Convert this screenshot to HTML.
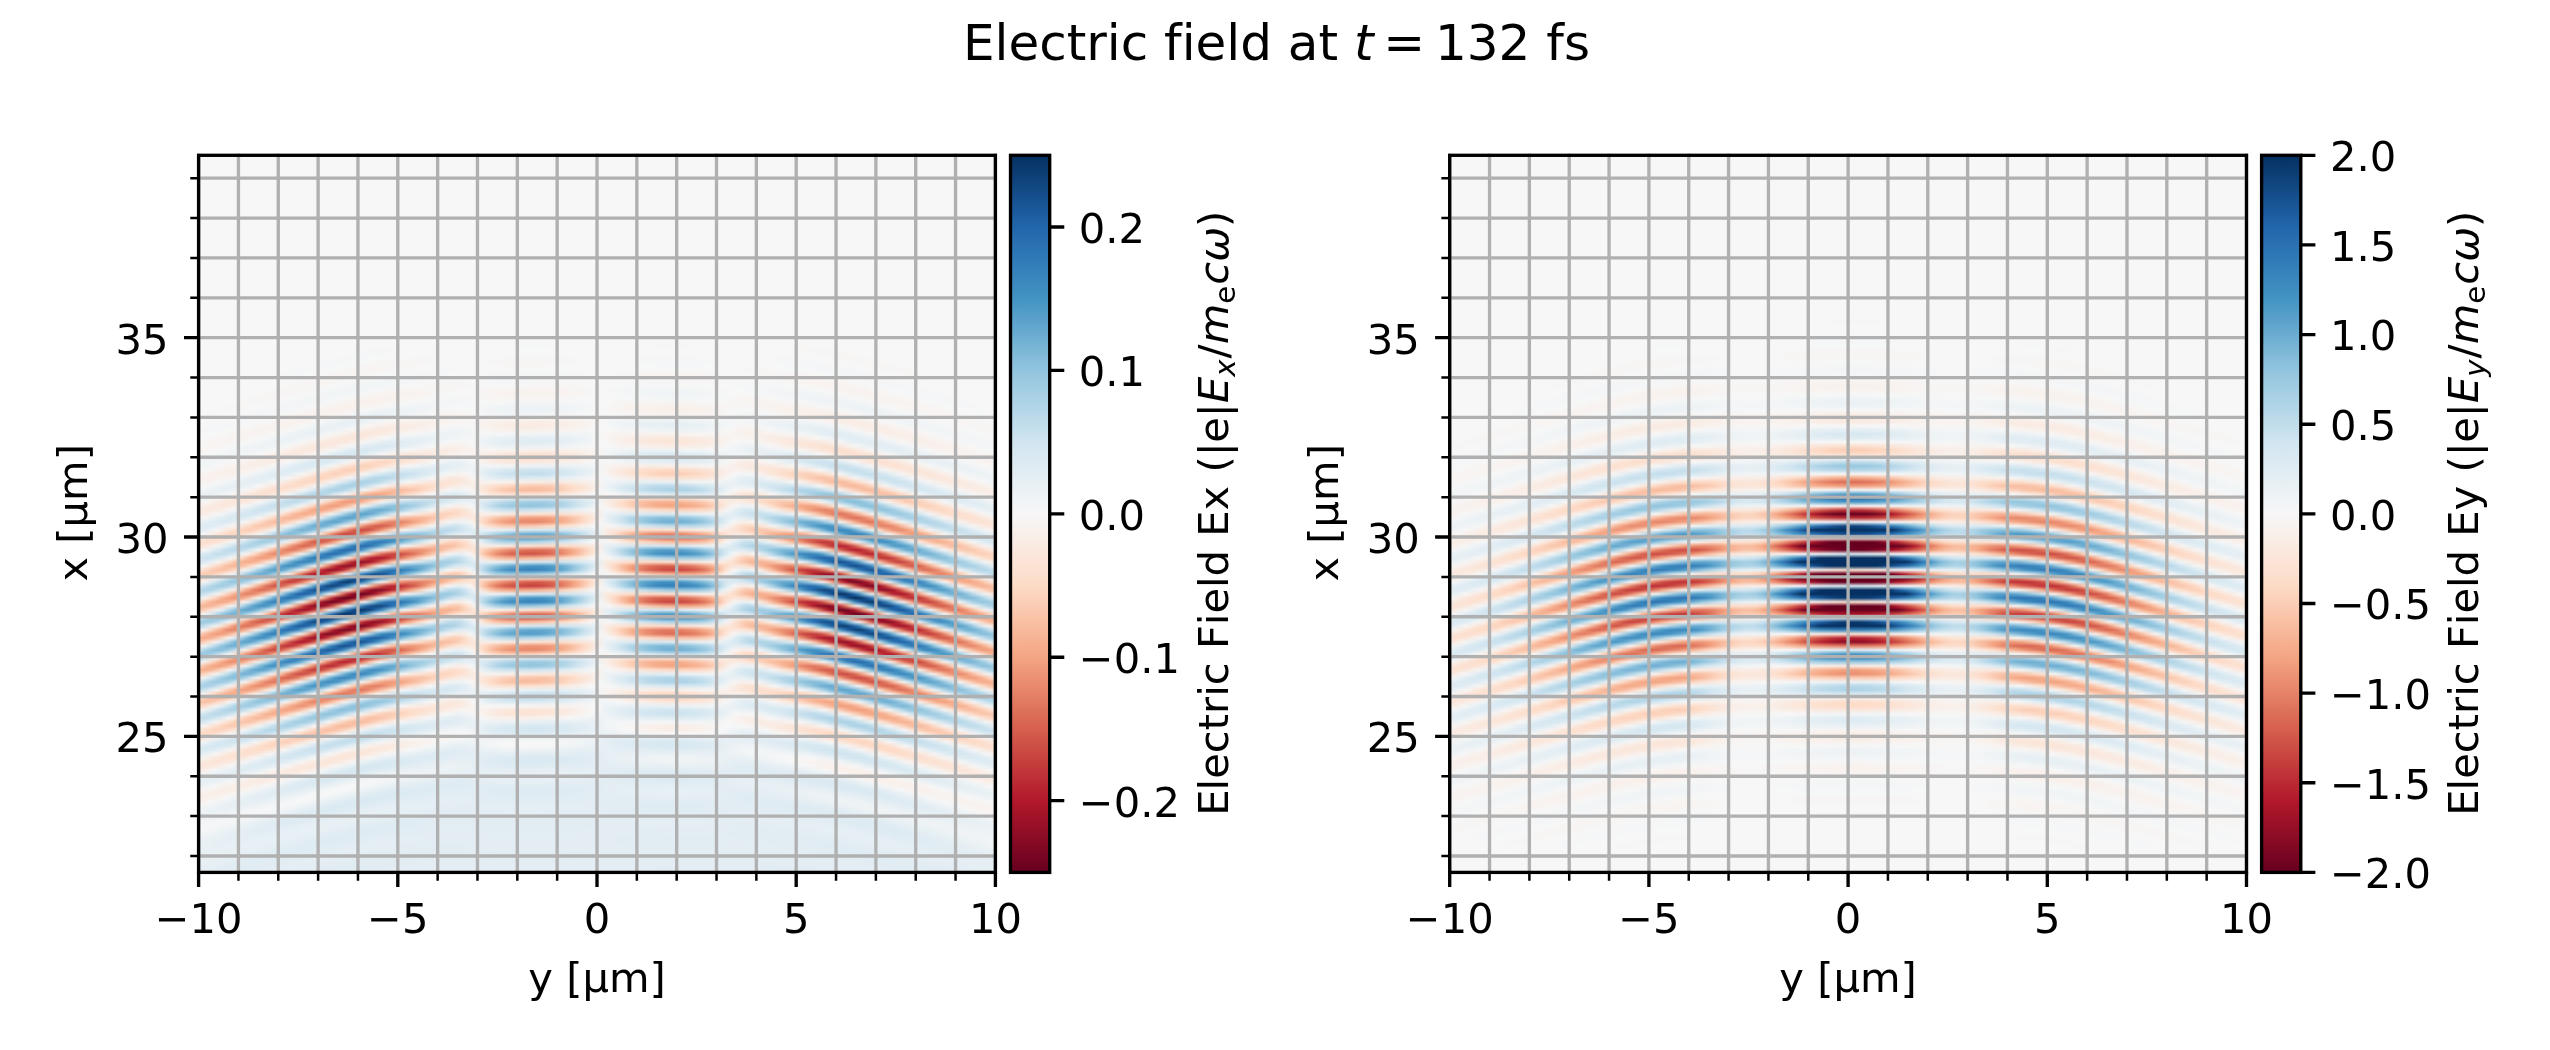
<!DOCTYPE html>
<html><head><meta charset="utf-8"><title>Electric field at t = 132 fs</title>
<style>
html,body{margin:0;padding:0;background:#fff;overflow:hidden}
#fig{position:relative;width:2550px;height:1050px;overflow:hidden;background:#fff}
.hm{position:absolute;top:154px;width:800px;height:720px;overflow:hidden;background:#f7f7f7}
.hm div{position:absolute;left:-10px;top:0;width:820px;height:100%;filter:url(#hb)}
.hm i{position:absolute;top:0;width:5px;height:100%;display:block}
svg text{font-family:"DejaVu Sans","Liberation Sans",sans-serif;font-size:10px;fill:#000}
svg text{font-variant-ligatures:none}
svg .o{font-style:oblique}
svg .s{font-size:7px}
</style></head><body><div id="fig">
<div class="hm" style="left:197px"><div>
<i style="left:0px;background:linear-gradient(#f7f7f7 276px,#f5f6f7,#f5f6f7,#f7f7f7,#f7f5f4,#f8f4f2,#f7f5f4,#f7f7f7,#f5f6f7,#f2f5f6,#f3f5f6,#f7f7f7,#f8f4f2,#f8f1ed,#f8f2ef,#f7f7f7,#f0f4f6,#ecf2f5,#edf2f5,#f7f7f7,#f9f0eb,#f9ebe3,#f9eee7,#f7f7f7,#e9f0f4,#e1edf3,#e6eff4,#f7f7f7,#fae9df,#fce2d2,#fbe6da,#f7f7f7,#e0ecf3,#d2e6f0,#dbeaf2,#f7f7f7,#fce2d2,#fcd3bc,#fcdecd,#f7f5f4,#d4e6f1,#b8d8e9,#cfe4ef,#f5f6f7,#fdd9c4,#f8bda1,#fcd3bc,#f5f6f7,#c5dfec,#a7d0e4,#c7e0ed,#f7f5f4,#fbccb4,#f6b394,#fbd0b9,#f5f6f7,#c0dceb,#a2cde3,#c7e0ed,#f7f5f4,#fbceb7,#f7b799,#fcd5bf,#f5f6f7,#c7e0ed,#b1d5e7,#d1e5f0,#f7f5f4,#fdd9c4,#fac8af,#fcdecd,#f5f6f7,#d5e7f1,#c7e0ed,#dbeaf2,#f7f5f4,#fbe3d4,#fdddcb,#fae8de,#f3f5f6,#e0ecf3,#dbeaf2,#e7f0f4,#f7f5f4,#faeae1,#fae7dc,#f9eee7,#f5f6f7,#eaf1f5,#e7f0f4,#eff3f5,#f7f5f4,#f9f0eb,#f9f0eb,#f8f3f0,#f5f6f7,#eff3f5,#edf2f5,#eff3f5,#f3f5f6,#f7f7f7,#f5f6f7,#f2f5f6,#edf2f5,#eaf1f5,#e9f0f4,#e9f0f4,#eaf1f5,#eaf1f5,#e9f0f4,#e7f0f4,#e6eff4 720px)"></i>
<i style="left:5px;background:linear-gradient(#f7f7f7 272px,#f5f6f7,#f5f6f7,#f7f7f7,#f7f7f7,#f7f5f4,#f8f4f2,#f7f5f4,#f7f7f7,#f3f5f6,#f2f5f6,#f3f5f6,#f7f7f7,#f8f2ef,#f8f1ed,#f8f3f0,#f5f6f7,#edf2f5,#ecf2f5,#f0f4f6,#f8f4f2,#f9ede5,#faeae1,#f9f0eb,#f2f5f6,#e4eef4,#e0ecf3,#eaf1f5,#f8f2ef,#fbe5d8,#fce2d2,#faeae1,#eff3f5,#d7e8f1,#d1e5f0,#e3edf3,#f9efe9,#fdd9c4,#fbd0b9,#fbe5d8,#eaf1f5,#c5dfec,#b8d8e9,#dae9f2,#f9ede5,#fac8af,#f8bb9e,#fcdfcf,#e1edf3,#aed3e6,#a7d0e4,#dae9f2,#fae7dc,#f7b99c,#f7b596,#fce0d0,#e1edf3,#a9d1e5,#a5cee3,#d8e9f1,#fae7dc,#f8bda1,#f7b99c,#fbe3d4,#e3edf3,#b6d7e8,#b3d6e8,#ddebf2,#fae9df,#fbccb4,#facab1,#fae7dc,#e7f0f4,#cae1ee,#cae1ee,#e4eef4,#f9eee7,#fdddcb,#fdddcb,#f9eee7,#eaf1f5,#dbeaf2,#ddebf2,#edf2f5,#f9f0eb,#fae7dc,#fae8de,#f8f2ef,#f0f4f6,#e7f0f4,#e9f0f4,#f2f5f6,#f8f3f0,#f9efe9,#f9f0eb,#f7f5f4,#f2f5f6,#edf2f5,#edf2f5,#f0f4f6,#f5f6f7,#f7f7f7,#f5f6f7,#f0f4f6,#ecf2f5,#e9f0f4,#e9f0f4,#e9f0f4,#eaf1f5,#eaf1f5,#e9f0f4,#e6eff4,#e4eef4 720px)"></i>
<i style="left:10px;background:linear-gradient(#f7f7f7 272px,#f5f6f7,#f5f6f7,#f7f7f7,#f7f7f7,#f8f4f2,#f8f4f2,#f7f7f7,#f5f6f7,#f2f5f6,#f2f5f6,#f5f6f7,#f8f4f2,#f8f1ed,#f8f1ed,#f8f4f2,#f2f5f6,#ecf2f5,#ecf2f5,#f3f5f6,#f8f1ed,#faeae1,#f9ebe3,#f8f3f0,#ecf2f5,#e0ecf3,#e1edf3,#f0f4f6,#f9ede5,#fce0d0,#fbe3d4,#f8f1ed,#e4eef4,#d1e5f0,#d4e6f1,#ecf2f5,#fbe6da,#fbceb7,#fcd5bf,#f9eee7,#dbeaf2,#b6d7e8,#bddbea,#e9f0f4,#fcdfcf,#f7b99c,#f9c2a7,#f9ebe3,#cfe4ef,#a0cce2,#b1d5e7,#ecf2f5,#fcd7c2,#f5ac8b,#f8bda1,#f9eee7,#cce2ef,#9bc9e0,#b1d5e7,#ecf2f5,#fdd9c4,#f6b191,#f9c4a9,#f9efe9,#d1e5f0,#a9d1e5,#bddbea,#edf2f5,#fcdecd,#f9c2a7,#fcd3bc,#f8f1ed,#dae9f2,#c2ddec,#d2e6f0,#f0f4f6,#fbe5d8,#fddbc7,#fce0d0,#f8f4f2,#e1edf3,#d8e9f1,#e1edf3,#f5f6f7,#f9ebe3,#fbe6da,#faeae1,#f7f5f4,#ecf2f5,#e6eff4,#eaf1f5,#f7f7f7,#f8f1ed,#f9efe9,#f8f2ef,#f7f7f7,#eff3f5,#ecf2f5,#edf2f5,#f2f5f6,#f5f6f7,#f5f6f7,#f3f5f6,#eff3f5,#eaf1f5,#e7f0f4,#e7f0f4,#e9f0f4,#eaf1f5,#e9f0f4,#e7f0f4,#e6eff4,#e3edf3 720px)"></i>
<i style="left:15px;background:linear-gradient(#f7f7f7 272px,#f5f6f7,#f5f6f7,#f7f7f7,#f7f5f4,#f8f4f2,#f8f4f2,#f7f7f7,#f3f5f6,#f2f5f6,#f2f5f6,#f7f7f7,#f8f3f0,#f8f1ed,#f8f2ef,#f7f7f7,#eff3f5,#eaf1f5,#edf2f5,#f7f7f7,#f9eee7,#fae9df,#f9ede5,#f7f7f7,#e6eff4,#deebf2,#e4eef4,#f7f7f7,#fbe6da,#fcdecd,#fbe6da,#f5f6f7,#dae9f2,#cce2ef,#dae9f2,#f7f5f4,#fdddcb,#facab1,#fdddcb,#f5f6f7,#cae1ee,#aed3e6,#cce2ef,#f7f5f4,#fbccb4,#f6b394,#fbd0b9,#f5f6f7,#b3d6e8,#9bc9e0,#c5dfec,#f8f1ed,#f8bda1,#f5a886,#fbd0b9,#eff3f5,#aed3e6,#96c7df,#c5dfec,#f8f1ed,#f8bfa4,#f5ac8b,#fcd5bf,#eff3f5,#b8d8e9,#a5cee3,#cfe4ef,#f8f2ef,#fbceb7,#f8bfa4,#fdddcb,#f0f4f6,#cfe4ef,#c0dceb,#dae9f2,#f8f3f0,#fcdecd,#fdd9c4,#fbe6da,#f0f4f6,#dbeaf2,#d8e9f1,#e7f0f4,#f8f3f0,#fae7dc,#fbe6da,#f9eee7,#f3f5f6,#e7f0f4,#e6eff4,#eff3f5,#f7f5f4,#f9efe9,#f9efe9,#f8f3f0,#f3f5f6,#edf2f5,#ecf2f5,#eff3f5,#f3f5f6,#f5f6f7,#f5f6f7,#f0f4f6,#ecf2f5,#e9f0f4,#e7f0f4,#e7f0f4,#e9f0f4,#e9f0f4,#e9f0f4,#e6eff4,#e4eef4,#e3edf3 720px)"></i>
<i style="left:20px;background:linear-gradient(#f7f7f7 256px,#f7f5f4,#f7f7f7,#f7f7f7,#f5f6f7,#f5f6f7,#f7f7f7,#f7f7f7,#f8f4f2,#f8f4f2,#f7f5f4,#f7f7f7,#f2f5f6,#f0f4f6,#f3f5f6,#f7f5f4,#f8f1ed,#f9f0eb,#f8f3f0,#f5f6f7,#ecf2f5,#eaf1f5,#f0f4f6,#f8f3f0,#f9ebe3,#fae9df,#f9f0eb,#eff3f5,#e0ecf3,#ddebf2,#eaf1f5,#f9f0eb,#fce2d2,#fcdecd,#faeae1,#eaf1f5,#d1e5f0,#cae1ee,#e3edf3,#f9ebe3,#fbd0b9,#fac8af,#fbe5d8,#e4eef4,#b6d7e8,#aed3e6,#dae9f2,#fae7dc,#f7b99c,#f6b394,#fcdfcf,#e0ecf3,#9dcbe1,#9dcbe1,#dbeaf2,#fce0d0,#f5aa89,#f5ac8b,#fce2d2,#d8e9f1,#98c8e0,#9bc9e0,#dae9f2,#fce0d0,#f6af8e,#f6b191,#fbe4d6,#dbeaf2,#a5cee3,#a9d1e5,#deebf2,#fbe5d8,#f8bfa4,#f9c4a9,#fae7dc,#e1edf3,#c0dceb,#c5dfec,#e6eff4,#fae9df,#fdd9c4,#fddbc7,#f9ede5,#e6eff4,#d7e8f1,#dbeaf2,#eff3f5,#f9eee7,#fbe5d8,#fae7dc,#f8f2ef,#edf2f5,#e4eef4,#e7f0f4,#f2f5f6,#f8f2ef,#f9eee7,#f9f0eb,#f7f7f7,#f0f4f6,#eaf1f5,#ecf2f5,#eff3f5,#f3f5f6,#f5f6f7,#f3f5f6,#eff3f5,#eaf1f5,#e7f0f4,#e7f0f4,#e7f0f4,#e9f0f4,#e9f0f4,#e7f0f4,#e6eff4,#e3edf3,#e3edf3 720px)"></i>
<i style="left:25px;background:linear-gradient(#f7f7f7 268px,#f5f6f7,#f5f6f7,#f7f7f7,#f7f5f4,#f8f4f2,#f8f4f2,#f7f7f7,#f5f6f7,#f0f4f6,#f2f5f6,#f5f6f7,#f8f4f2,#f9f0eb,#f8f1ed,#f7f5f4,#f0f4f6,#eaf1f5,#eaf1f5,#f5f6f7,#f9efe9,#fae9df,#faeae1,#f8f4f2,#e9f0f4,#ddebf2,#e0ecf3,#f2f5f6,#fae9df,#fdddcb,#fce0d0,#f8f2ef,#deebf2,#c7e0ed,#d1e5f0,#eff3f5,#fce0d0,#f9c4a9,#fbceb7,#f9f0eb,#d4e6f1,#a7d0e4,#b6d7e8,#ecf2f5,#fcd7c2,#f5ac8b,#f8bb9e,#f9eee7,#c7e0ed,#8dc2dc,#acd2e5,#f0f4f6,#fac8af,#f09c7b,#f7b99c,#f8f1ed,#bbdaea,#87beda,#a9d1e5,#f0f4f6,#facab1,#f3a481,#f8bda1,#f8f2ef,#c2ddec,#9bc9e0,#b8d8e9,#f0f4f6,#fcd5bf,#f7b799,#fbceb7,#f8f3f0,#d2e6f0,#b8d8e9,#cfe4ef,#f2f5f6,#fce2d2,#fcd3bc,#fcdfcf,#f8f4f2,#ddebf2,#d4e6f1,#e0ecf3,#f7f7f7,#fae8de,#fbe4d6,#faeae1,#f7f7f7,#e9f0f4,#e4eef4,#eaf1f5,#f7f7f7,#f9f0eb,#f9eee7,#f8f2ef,#f5f6f7,#edf2f5,#eaf1f5,#ecf2f5,#f0f4f6,#f5f6f7,#f5f6f7,#f2f5f6,#ecf2f5,#e9f0f4,#e6eff4,#e6eff4,#e7f0f4,#e9f0f4,#e9f0f4,#e6eff4,#e4eef4,#e3edf3,#e1edf3 720px)"></i>
<i style="left:30px;background:linear-gradient(#f7f7f7 252px,#f7f5f4,#f7f7f7,#f7f7f7,#f5f6f7,#f5f6f7,#f5f6f7,#f7f7f7,#f7f5f4,#f8f4f2,#f8f4f2,#f7f7f7,#f2f5f6,#f0f4f6,#f2f5f6,#f7f7f7,#f8f2ef,#f9f0eb,#f8f1ed,#f7f7f7,#edf2f5,#e9f0f4,#edf2f5,#f7f5f4,#f9ebe3,#fae7dc,#f9ede5,#f5f6f7,#e1edf3,#dae9f2,#e4eef4,#f8f4f2,#fbe3d4,#fddbc7,#fbe5d8,#f2f5f6,#d4e6f1,#c2ddec,#d8e9f1,#f8f2ef,#fcd3bc,#f8bfa4,#fddbc7,#f0f4f6,#bbdaea,#a0cce2,#c7e0ed,#f8f1ed,#f8bfa4,#f4a683,#fbccb4,#edf2f5,#a7d0e4,#8ac0db,#c2ddec,#f9ebe3,#f6af8e,#ef9979,#fbceb7,#e7f0f4,#9bc9e0,#84bcd9,#c2ddec,#f9ebe3,#f6b191,#f19e7d,#fcd3bc,#e9f0f4,#a7d0e4,#98c8e0,#cfe4ef,#f9eee7,#f9c2a7,#f7b799,#fdddcb,#ecf2f5,#c0dceb,#b6d7e8,#dae9f2,#f9f0eb,#fdd9c4,#fcd3bc,#fbe6da,#eff3f5,#d7e8f1,#d5e7f1,#e7f0f4,#f8f1ed,#fbe5d8,#fbe4d6,#f9eee7,#f0f4f6,#e4eef4,#e4eef4,#eff3f5,#f8f4f2,#f9eee7,#f9efe9,#f8f4f2,#f0f4f6,#eaf1f5,#e9f0f4,#edf2f5,#f2f5f6,#f5f6f7,#f3f5f6,#eff3f5,#eaf1f5,#e7f0f4,#e6eff4,#e6eff4,#e9f0f4,#e9f0f4,#e7f0f4,#e6eff4,#e3edf3,#e1edf3,#e1edf3 720px)"></i>
<i style="left:35px;background:linear-gradient(#f7f7f7 252px,#f7f5f4,#f7f7f7,#f7f7f7,#f5f6f7,#f5f6f7,#f7f7f7,#f7f7f7,#f8f4f2,#f8f3f0,#f7f5f4,#f5f6f7,#f2f5f6,#f0f4f6,#f3f5f6,#f7f5f4,#f9f0eb,#f9f0eb,#f8f3f0,#f3f5f6,#eaf1f5,#e7f0f4,#f0f4f6,#f8f1ed,#fae8de,#fae7dc,#f9f0eb,#ecf2f5,#ddebf2,#dae9f2,#eaf1f5,#f9ede5,#fdddcb,#fddcc9,#f9ebe3,#e6eff4,#c7e0ed,#c2ddec,#e3edf3,#fae7dc,#f9c4a9,#f9c2a7,#fbe5d8,#ddebf2,#a7d0e4,#a2cde3,#dbeaf2,#fce2d2,#f5aa89,#f5a886,#fce0d0,#d7e8f1,#8dc2dc,#90c4dd,#ddebf2,#fcd7c2,#ee9677,#f2a17f,#fbe4d6,#cce2ef,#81bad8,#8dc2dc,#ddebf2,#fdd9c4,#f09c7b,#f5a886,#fbe5d8,#d2e6f0,#93c6de,#a0cce2,#e0ecf3,#fcdecd,#f6b394,#f8bb9e,#fae8de,#dae9f2,#b3d6e8,#bddbea,#e7f0f4,#fbe6da,#fbceb7,#fcd7c2,#f9eee7,#e4eef4,#d2e6f0,#d8e9f1,#eff3f5,#faeae1,#fbe3d4,#fbe6da,#f8f3f0,#eaf1f5,#e3edf3,#e6eff4,#f3f5f6,#f8f1ed,#f9eee7,#f9f0eb,#f7f7f7,#edf2f5,#e9f0f4,#e9f0f4,#eff3f5,#f3f5f6,#f5f6f7,#f2f5f6,#edf2f5,#e9f0f4,#e6eff4,#e6eff4,#e7f0f4,#e9f0f4,#e9f0f4,#e7f0f4,#e4eef4,#e3edf3,#e1edf3,#e1edf3 720px)"></i>
<i style="left:40px;background:linear-gradient(#f7f7f7 248px,#f7f5f4,#f7f5f4,#f7f7f7,#f7f7f7,#f5f6f7,#f5f6f7,#f7f7f7,#f7f5f4,#f8f3f0,#f8f4f2,#f7f7f7,#f3f5f6,#f0f4f6,#f0f4f6,#f7f7f7,#f8f3f0,#f9efe9,#f9f0eb,#f7f5f4,#eff3f5,#e7f0f4,#e9f0f4,#f5f6f7,#f9eee7,#fbe6da,#fae9df,#f7f5f4,#e4eef4,#d8e9f1,#ddebf2,#f3f5f6,#fbe5d8,#fcd7c2,#fcdecd,#f8f4f2,#d8e9f1,#bbdaea,#cce2ef,#f2f5f6,#fddbc7,#f7b99c,#facab1,#f8f2ef,#c5dfec,#98c8e0,#aed3e6,#eff3f5,#fac8af,#f09c7b,#f7b596,#f8f1ed,#b3d6e8,#78b4d5,#a5cee3,#f5f6f7,#f7b799,#e6866a,#f6b394,#f7f5f4,#a5cee3,#71b0d3,#a2cde3,#f5f6f7,#f7b99c,#ea8e70,#f7b799,#f7f5f4,#b1d5e7,#87beda,#b1d5e7,#f5f6f7,#fac8af,#f5aa89,#facab1,#f7f7f7,#c7e0ed,#acd2e5,#cae1ee,#f7f7f7,#fddcc9,#facab1,#fcdecd,#f7f7f7,#dae9f2,#cfe4ef,#deebf2,#f7f5f4,#fbe6da,#fce2d2,#fae9df,#f7f7f7,#e6eff4,#e1edf3,#e9f0f4,#f7f7f7,#f9efe9,#f9eee7,#f8f2ef,#f3f5f6,#eaf1f5,#e7f0f4,#eaf1f5,#f0f4f6,#f5f6f7,#f5f6f7,#f0f4f6,#eaf1f5,#e6eff4,#e4eef4,#e6eff4,#e7f0f4,#e9f0f4,#e7f0f4,#e6eff4,#e3edf3,#e1edf3,#e1edf3,#e1edf3 720px)"></i>
<i style="left:45px;background:linear-gradient(#f7f7f7 248px,#f7f5f4,#f7f7f7,#f7f7f7,#f5f6f7,#f3f5f6,#f5f6f7,#f7f7f7,#f8f4f2,#f8f3f0,#f8f4f2,#f7f7f7,#f2f5f6,#eff3f5,#f2f5f6,#f7f7f7,#f8f1ed,#f9efe9,#f8f1ed,#f5f6f7,#eaf1f5,#e6eff4,#ecf2f5,#f8f4f2,#fae9df,#fbe6da,#f9ede5,#f2f5f6,#ddebf2,#d7e8f1,#e3edf3,#f8f2ef,#fcdecd,#fcd5bf,#fbe4d6,#edf2f5,#cae1ee,#b8d8e9,#d7e8f1,#f9efe9,#f9c6ac,#f7b596,#fdd9c4,#eaf1f5,#a9d1e5,#93c6de,#c5dfec,#f9ebe3,#f6af8e,#ec9374,#facab1,#e6eff4,#90c4dd,#71b0d3,#c2ddec,#fbe5d8,#ee9677,#e6866a,#fbccb4,#deebf2,#81bad8,#6eaed2,#c2ddec,#fbe5d8,#f09c7b,#ea8e70,#fbd0b9,#e0ecf3,#93c6de,#87beda,#cce2ef,#fae8de,#f6b394,#f5ac8b,#fdddcb,#e6eff4,#b1d5e7,#acd2e5,#d8e9f1,#f9ede5,#fbceb7,#facab1,#fbe5d8,#ecf2f5,#d2e6f0,#d1e5f0,#e7f0f4,#f9efe9,#fce2d2,#fbe3d4,#f9efe9,#eff3f5,#e1edf3,#e3edf3,#edf2f5,#f8f3f0,#f9ede5,#f9eee7,#f7f5f4,#eff3f5,#e7f0f4,#e7f0f4,#ecf2f5,#f2f5f6,#f5f6f7,#f3f5f6,#eff3f5,#e9f0f4,#e4eef4,#e4eef4,#e6eff4,#e7f0f4,#e9f0f4,#e7f0f4,#e4eef4,#e3edf3,#e1edf3,#e1edf3,#e1edf3 720px)"></i>
<i style="left:50px;background:linear-gradient(#f7f7f7 244px,#f7f5f4,#f7f5f4,#f7f7f7,#f7f7f7,#f5f6f7,#f3f5f6,#f7f7f7,#f7f5f4,#f8f3f0,#f8f3f0,#f7f5f4,#f5f6f7,#f0f4f6,#eff3f5,#f3f5f6,#f8f4f2,#f9efe9,#f9efe9,#f8f3f0,#f2f5f6,#e7f0f4,#e6eff4,#eff3f5,#f9f0eb,#fbe6da,#fbe6da,#f8f1ed,#e9f0f4,#d7e8f1,#d7e8f1,#ecf2f5,#fae9df,#fcd7c2,#fcd7c2,#f9ebe3,#e0ecf3,#b8d8e9,#bbdaea,#e4eef4,#fce2d2,#f7b799,#f7b799,#fbe6da,#d4e6f1,#93c6de,#98c8e0,#ddebf2,#fdd9c4,#ee9677,#f09c7b,#fce2d2,#cae1ee,#71b0d3,#7bb6d6,#e0ecf3,#f9c6ac,#e37e64,#ec9374,#fbe6da,#b8d8e9,#65a9cf,#7eb8d7,#e0ecf3,#fac8af,#e58368,#f09c7b,#fae7dc,#c2ddec,#7bb6d6,#96c7df,#e3edf3,#fcd5bf,#f3a481,#f7b596,#faeae1,#d2e6f0,#a2cde3,#b6d7e8,#e9f0f4,#fce0d0,#f9c4a9,#fcd3bc,#f9efe9,#deebf2,#cae1ee,#d5e7f1,#f0f4f6,#fae8de,#fcdfcf,#fbe5d8,#f8f3f0,#e7f0f4,#deebf2,#e4eef4,#f3f5f6,#f9f0eb,#f9ede5,#f9f0eb,#f7f7f7,#eaf1f5,#e6eff4,#e7f0f4,#edf2f5,#f3f5f6,#f5f6f7,#f2f5f6,#ecf2f5,#e6eff4,#e4eef4,#e4eef4,#e6eff4,#e7f0f4,#e7f0f4,#e6eff4,#e4eef4,#e1edf3,#e1edf3,#e1edf3,#e3edf3 720px)"></i>
<i style="left:55px;background:linear-gradient(#f7f7f7 244px,#f7f5f4,#f7f5f4,#f7f7f7,#f5f6f7,#f3f5f6,#f5f6f7,#f7f7f7,#f8f4f2,#f8f3f0,#f8f3f0,#f7f7f7,#f2f5f6,#eff3f5,#f0f4f6,#f7f7f7,#f8f2ef,#f9eee7,#f9efe9,#f7f5f4,#ecf2f5,#e4eef4,#e7f0f4,#f5f6f7,#faeae1,#fbe4d6,#fae8de,#f7f7f7,#e0ecf3,#d4e6f1,#dbeaf2,#f7f7f7,#fce0d0,#fbceb7,#fddcc9,#f7f7f7,#d1e5f0,#aed3e6,#c5dfec,#f5f6f7,#fbceb7,#f5ac8b,#f9c4a9,#f7f5f4,#b3d6e8,#81bad8,#a7d0e4,#f5f6f7,#f7b799,#e58368,#f5ac8b,#f8f4f2,#a0cce2,#5ca3cb,#93c6de,#f8f3f0,#f2a17f,#dd7059,#f5ac8b,#f2f5f6,#8dc2dc,#569fc9,#9bc9e0,#f8f3f0,#f4a683,#e17860,#f6b394,#f2f5f6,#9bc9e0,#71b0d3,#acd2e5,#f8f4f2,#f7b99c,#f09c7b,#f9c6ac,#f3f5f6,#b8d8e9,#9dcbe1,#c7e0ed,#f7f5f4,#fcd3bc,#f9c2a7,#fddcc9,#f5f6f7,#d4e6f1,#c7e0ed,#ddebf2,#f8f3f0,#fce2d2,#fcdecd,#fae9df,#f3f5f6,#e1edf3,#deebf2,#e9f0f4,#f7f7f7,#f9eee7,#f9ede5,#f8f2ef,#f0f4f6,#e7f0f4,#e4eef4,#e9f0f4,#f0f4f6,#f5f6f7,#f3f5f6,#eff3f5,#e9f0f4,#e4eef4,#e3edf3,#e4eef4,#e6eff4,#e7f0f4,#e7f0f4,#e6eff4,#e3edf3,#e1edf3,#e1edf3,#e1edf3,#e3edf3 720px)"></i>
<i style="left:60px;background:linear-gradient(#f7f7f7 240px,#f7f5f4,#f7f5f4,#f7f7f7,#f7f7f7,#f5f6f7,#f3f5f6,#f5f6f7,#f7f7f7,#f8f4f2,#f8f3f0,#f8f4f2,#f7f7f7,#f0f4f6,#eff3f5,#f2f5f6,#f7f5f4,#f9f0eb,#f9eee7,#f8f1ed,#f5f6f7,#e9f0f4,#e4eef4,#eaf1f5,#f8f4f2,#fae7dc,#fbe3d4,#f9ebe3,#eff3f5,#d8e9f1,#d2e6f0,#e3edf3,#f9efe9,#fdd9c4,#fbccb4,#fbe4d6,#e9f0f4,#bbdaea,#acd2e5,#d5e7f1,#faeae1,#f7b99c,#f5a886,#fdd9c4,#e3edf3,#96c7df,#7eb8d7,#c2ddec,#fbe6da,#ef9979,#e48066,#fac8af,#ddebf2,#75b2d4,#59a1ca,#b6d7e8,#fdddcb,#e27b62,#de735c,#fbccb4,#d2e6f0,#62a7ce,#59a1ca,#c0dceb,#fdddcb,#e58368,#e27b62,#fbd0b9,#d7e8f1,#78b4d5,#75b2d4,#cce2ef,#fce2d2,#f2a17f,#f19e7d,#fdddcb,#deebf2,#a2cde3,#a0cce2,#d8e9f1,#fae7dc,#f9c4a9,#f9c4a9,#fbe5d8,#e6eff4,#c7e0ed,#cae1ee,#e7f0f4,#f9ebe3,#fcdecd,#fce0d0,#f9efe9,#ecf2f5,#deebf2,#e0ecf3,#edf2f5,#f8f2ef,#f9ebe3,#f9eee7,#f7f5f4,#ecf2f5,#e4eef4,#e6eff4,#eaf1f5,#f2f5f6,#f5f6f7,#f3f5f6,#edf2f5,#e7f0f4,#e3edf3,#e3edf3,#e4eef4,#e7f0f4,#e7f0f4,#e7f0f4,#e4eef4,#e1edf3,#e0ecf3,#e1edf3,#e1edf3,#e3edf3 720px)"></i>
<i style="left:65px;background:linear-gradient(#f7f7f7 240px,#f7f5f4,#f7f5f4,#f7f7f7,#f7f7f7,#f3f5f6,#f3f5f6,#f7f7f7,#f7f5f4,#f8f3f0,#f8f3f0,#f7f5f4,#f3f5f6,#eff3f5,#eff3f5,#f3f5f6,#f8f3f0,#f9eee7,#f9eee7,#f8f3f0,#eff3f5,#e4eef4,#e4eef4,#f0f4f6,#f9efe9,#fbe4d6,#fbe4d6,#f8f1ed,#e4eef4,#d2e6f0,#d4e6f1,#ecf2f5,#fbe6da,#fbccb4,#fbd0b9,#f9ede5,#d8e9f1,#acd2e5,#b1d5e7,#e6eff4,#fddbc7,#f5a886,#f6af8e,#fae8de,#c7e0ed,#7bb6d6,#8ac0db,#e0ecf3,#facab1,#e27b62,#e98b6e,#fbe4d6,#b3d6e8,#529dc8,#68abd0,#dbeaf2,#f6b394,#d7634f,#e58368,#fae8de,#a2cde3,#4695c4,#6eaed2,#e4eef4,#f7b596,#db6b55,#ea8e70,#fae9df,#acd2e5,#5fa5cd,#87beda,#e6eff4,#f9c6ac,#ea8e70,#f5ac8b,#f9ede5,#c5dfec,#93c6de,#acd2e5,#eaf1f5,#fddbc7,#f7b99c,#fbccb4,#f9f0eb,#d8e9f1,#c0dceb,#d1e5f0,#f3f5f6,#fbe4d6,#fddcc9,#fbe4d6,#f8f4f2,#e4eef4,#dbeaf2,#e3edf3,#f3f5f6,#f9efe9,#f9ebe3,#f9f0eb,#f3f5f6,#e9f0f4,#e3edf3,#e6eff4,#edf2f5,#f3f5f6,#f5f6f7,#f0f4f6,#eaf1f5,#e4eef4,#e1edf3,#e3edf3,#e6eff4,#e7f0f4,#e7f0f4,#e6eff4,#e3edf3,#e1edf3,#e0ecf3,#e1edf3,#e3edf3,#e3edf3 720px)"></i>
<i style="left:70px;background:linear-gradient(#f7f7f7 240px,#f7f5f4,#f7f5f4,#f7f7f7,#f5f6f7,#f3f5f6,#f3f5f6,#f7f7f7,#f8f4f2,#f8f2ef,#f8f3f0,#f7f7f7,#f2f5f6,#edf2f5,#eff3f5,#f7f7f7,#f8f1ed,#f9ede5,#f9efe9,#f7f7f7,#eaf1f5,#e3edf3,#e6eff4,#f7f7f7,#fae9df,#fce2d2,#fae7dc,#f7f7f7,#dbeaf2,#cce2ef,#dae9f2,#f7f5f4,#fddcc9,#f9c6ac,#fddbc7,#f5f6f7,#c2ddec,#a2cde3,#c0dceb,#f7f5f4,#f8bfa4,#f09c7b,#f8bfa4,#f5f6f7,#a0cce2,#6bacd1,#a0cce2,#f8f4f2,#f3a481,#dc6e57,#f4a683,#f3f5f6,#84bcd9,#4291c2,#8ac0db,#f8f4f2,#e6866a,#d25849,#f4a683,#eaf1f5,#6eaed2,#3f8ec0,#96c7df,#f9eee7,#e98b6e,#d6604d,#f5ac8b,#eaf1f5,#81bad8,#59a1ca,#a7d0e4,#f9efe9,#f4a683,#e8896c,#f9c2a7,#edf2f5,#a7d0e4,#8dc2dc,#c2ddec,#f8f1ed,#f9c6ac,#f7b799,#fddbc7,#f0f4f6,#cae1ee,#bddbea,#dae9f2,#f8f1ed,#fcdecd,#fddcc9,#fae8de,#f0f4f6,#deebf2,#dbeaf2,#e7f0f4,#f7f5f4,#f9ebe3,#f9ebe3,#f8f3f0,#eff3f5,#e4eef4,#e3edf3,#e7f0f4,#eff3f5,#f5f6f7,#f3f5f6,#eff3f5,#e7f0f4,#e3edf3,#e1edf3,#e3edf3,#e6eff4,#e7f0f4,#e7f0f4,#e4eef4,#e3edf3,#e0ecf3,#e0ecf3,#e1edf3,#e3edf3,#e4eef4 720px)"></i>
<i style="left:75px;background:linear-gradient(#f7f7f7 236px,#f7f5f4,#f7f5f4,#f7f7f7,#f7f7f7,#f3f5f6,#f3f5f6,#f5f6f7,#f7f7f7,#f8f3f0,#f8f2ef,#f8f4f2,#f5f6f7,#eff3f5,#edf2f5,#f2f5f6,#f8f4f2,#f9efe9,#f9ebe3,#f8f1ed,#f3f5f6,#e6eff4,#e1edf3,#eaf1f5,#f8f2ef,#fbe5d8,#fce0d0,#f9ebe3,#ecf2f5,#d4e6f1,#cce2ef,#e1edf3,#f9ebe3,#fbceb7,#f9c6ac,#fbe3d4,#e3edf3,#acd2e5,#a0cce2,#d5e7f1,#fbe5d8,#f5a886,#f09c7b,#fcd7c2,#dae9f2,#7eb8d7,#68abd0,#c2ddec,#fcdecd,#e37e64,#dc6e57,#f9c6ac,#d2e6f0,#529dc8,#4291c2,#b3d6e8,#fddbc7,#d55d4c,#d55d4c,#fbccb4,#c0dceb,#4291c2,#4393c3,#c2ddec,#fbceb7,#d86551,#da6853,#fcd3bc,#c7e0ed,#5ca3cb,#5fa5cd,#cce2ef,#fdd9c4,#e8896c,#ea8e70,#fdddcb,#d5e7f1,#8dc2dc,#96c7df,#dae9f2,#fbe3d4,#f7b799,#f8bb9e,#fbe6da,#e1edf3,#bddbea,#c2ddec,#e4eef4,#fae8de,#fdd9c4,#fcdecd,#f9efe9,#e7f0f4,#dae9f2,#ddebf2,#edf2f5,#f8f1ed,#faeae1,#f9ede5,#f7f7f7,#eaf1f5,#e3edf3,#e3edf3,#eaf1f5,#f2f5f6,#f5f6f7,#f2f5f6,#ecf2f5,#e4eef4,#e1edf3,#e1edf3,#e4eef4,#e7f0f4,#e7f0f4,#e6eff4,#e4eef4,#e1edf3,#e0ecf3,#e1edf3,#e1edf3,#e3edf3,#e4eef4 720px)"></i>
<i style="left:80px;background:linear-gradient(#f7f7f7 236px,#f7f5f4,#f7f5f4,#f7f7f7,#f5f6f7,#f3f5f6,#f3f5f6,#f7f7f7,#f7f5f4,#f8f2ef,#f8f2ef,#f7f5f4,#f3f5f6,#edf2f5,#edf2f5,#f3f5f6,#f8f2ef,#f9ede5,#f9ede5,#f8f3f0,#edf2f5,#e1edf3,#e3edf3,#f0f4f6,#f9ede5,#fce0d0,#fbe3d4,#f8f2ef,#e1edf3,#cae1ee,#d1e5f0,#edf2f5,#fce2d2,#f9c2a7,#facab1,#f9eee7,#d1e5f0,#9bc9e0,#a9d1e5,#e7f0f4,#fbceb7,#ec9374,#f4a683,#fae9df,#b3d6e8,#5fa5cd,#7bb6d6,#e3edf3,#f7b799,#d7634f,#e37e64,#fbe6da,#9dcbe1,#3b88be,#569fc9,#deebf2,#f5aa89,#c84440,#df765e,#f9ede5,#87beda,#3681ba,#5fa5cd,#e9f0f4,#f2a17f,#ce4f45,#e48066,#f9ede5,#98c8e0,#4393c3,#7bb6d6,#eaf1f5,#f7b596,#e17860,#f3a481,#f9efe9,#b3d6e8,#7eb8d7,#a5cee3,#eff3f5,#fbceb7,#f5ac8b,#f9c6ac,#f8f2ef,#d2e6f0,#b3d6e8,#cce2ef,#f2f5f6,#fce0d0,#fcd5bf,#fce2d2,#f7f7f7,#e0ecf3,#d7e8f1,#e1edf3,#f5f6f7,#f9eee7,#fae9df,#f9f0eb,#f2f5f6,#e6eff4,#e1edf3,#e4eef4,#edf2f5,#f3f5f6,#f5f6f7,#f0f4f6,#e9f0f4,#e3edf3,#e0ecf3,#e1edf3,#e4eef4,#e7f0f4,#e7f0f4,#e6eff4,#e3edf3,#e1edf3,#e0ecf3,#e1edf3,#e3edf3,#e4eef4,#e4eef4 720px)"></i>
<i style="left:85px;background:linear-gradient(#f7f7f7 220px,#f5f6f7,#f7f7f7,#f7f7f7,#f7f5f4,#f7f5f4,#f7f5f4,#f7f7f7,#f5f6f7,#f3f5f6,#f3f5f6,#f7f7f7,#f8f4f2,#f8f2ef,#f8f3f0,#f7f7f7,#f0f4f6,#ecf2f5,#eff3f5,#f7f7f7,#f9efe9,#f9ebe3,#f9eee7,#f7f7f7,#e7f0f4,#e0ecf3,#e4eef4,#f7f7f7,#fae7dc,#fcdecd,#fbe6da,#f3f5f6,#d7e8f1,#c5dfec,#d7e8f1,#f8f3f0,#fcd5bf,#f8bb9e,#fcd7c2,#f0f4f6,#b6d7e8,#93c6de,#bbdaea,#f8f1ed,#f6b191,#e8896c,#f7b99c,#eff3f5,#8ac0db,#529dc8,#9bc9e0,#f9f0eb,#e98b6e,#d05548,#f19e7d,#ecf2f5,#62a7ce,#3480b9,#81bad8,#f9efe9,#de735c,#c43b3c,#f2a17f,#e0ecf3,#4c99c6,#337eb8,#90c4dd,#fae7dc,#dc6e57,#c94741,#f5a886,#e3edf3,#62a7ce,#408fc1,#a2cde3,#fae9df,#eb9172,#df765e,#f8bda1,#e7f0f4,#93c6de,#7bb6d6,#c0dceb,#f9eee7,#f7b99c,#f5ac8b,#fdd9c4,#ecf2f5,#c0dceb,#b3d6e8,#d8e9f1,#f8f1ed,#fdd9c4,#fcd7c2,#fae8de,#edf2f5,#dae9f2,#d8e9f1,#e7f0f4,#f8f4f2,#faeae1,#faeae1,#f8f3f0,#ecf2f5,#e1edf3,#e0ecf3,#e7f0f4,#eff3f5,#f5f6f7,#f3f5f6,#edf2f5,#e6eff4,#e1edf3,#e0ecf3,#e3edf3,#e6eff4,#e7f0f4,#e7f0f4,#e4eef4,#e1edf3,#e0ecf3,#e0ecf3,#e1edf3,#e3edf3,#e4eef4,#e4eef4 720px)"></i>
<i style="left:90px;background:linear-gradient(#f7f7f7 220px,#f5f6f7,#f7f7f7,#f7f7f7,#f7f5f4,#f7f5f4,#f7f5f4,#f7f7f7,#f3f5f6,#f2f5f6,#f5f6f7,#f7f5f4,#f8f3f0,#f8f2ef,#f8f4f2,#f5f6f7,#edf2f5,#ecf2f5,#f0f4f6,#f8f4f2,#f9ede5,#faeae1,#f9f0eb,#f0f4f6,#e3edf3,#deebf2,#eaf1f5,#f8f1ed,#fce2d2,#fcdecd,#f9ebe3,#e7f0f4,#cce2ef,#c5dfec,#e1edf3,#fae8de,#f9c4a9,#f8bda1,#fbe3d4,#ddebf2,#9dcbe1,#93c6de,#d5e7f1,#fcdfcf,#ee9677,#e98b6e,#fcd7c2,#d1e5f0,#62a7ce,#569fc9,#c2ddec,#fcd5bf,#d7634f,#d25849,#f9c6ac,#c2ddec,#3b88be,#3783bb,#b3d6e8,#facab1,#c94741,#c94741,#fbceb7,#acd2e5,#337eb8,#3885bc,#c5dfec,#f8bda1,#c94741,#d05548,#fcd3bc,#b6d7e8,#408fc1,#4c99c6,#cfe4ef,#fbccb4,#de735c,#e48066,#fdddcb,#cae1ee,#78b4d5,#87beda,#dae9f2,#fdddcb,#f5aa89,#f6b394,#fbe6da,#dbeaf2,#b1d5e7,#bbdaea,#e4eef4,#fae7dc,#fcd3bc,#fddcc9,#f9f0eb,#e4eef4,#d5e7f1,#dae9f2,#edf2f5,#f9f0eb,#fae9df,#f9ede5,#f7f7f7,#e7f0f4,#e0ecf3,#e1edf3,#e9f0f4,#f2f5f6,#f5f6f7,#f2f5f6,#eaf1f5,#e3edf3,#e0ecf3,#e0ecf3,#e3edf3,#e6eff4,#e7f0f4,#e6eff4,#e3edf3,#e1edf3,#e0ecf3,#e0ecf3,#e1edf3,#e3edf3,#e4eef4,#e4eef4 720px)"></i>
<i style="left:95px;background:linear-gradient(#f7f7f7 216px,#f5f6f7,#f5f6f7,#f7f7f7,#f7f7f7,#f7f5f4,#f7f5f4,#f7f7f7,#f5f6f7,#f3f5f6,#f3f5f6,#f7f7f7,#f8f4f2,#f8f2ef,#f8f2ef,#f7f5f4,#f2f5f6,#ecf2f5,#ecf2f5,#f5f6f7,#f8f1ed,#faeae1,#f9ebe3,#f8f4f2,#eaf1f5,#deebf2,#e0ecf3,#f0f4f6,#faeae1,#fcdecd,#fcdfcf,#f8f3f0,#dbeaf2,#c2ddec,#cce2ef,#eff3f5,#fdddcb,#f7b99c,#f9c4a9,#f9f0eb,#c5dfec,#8ac0db,#a0cce2,#eaf1f5,#f9c2a7,#e48066,#f09c7b,#f9ede5,#a2cde3,#4393c3,#6bacd1,#e6eff4,#f4a683,#c94741,#dd7059,#fae9df,#84bcd9,#2e77b5,#4695c4,#e3edf3,#eb9172,#ba2832,#da6853,#f9f0eb,#68abd0,#276eb0,#4f9bc7,#edf2f5,#e6866a,#be3036,#df765e,#f8f1ed,#7bb6d6,#3783bb,#6eaed2,#eff3f5,#f3a481,#d7634f,#f09c7b,#f8f2ef,#a2cde3,#68abd0,#9dcbe1,#f2f5f6,#f9c4a9,#f2a17f,#f9c2a7,#f8f4f2,#c7e0ed,#a9d1e5,#c7e0ed,#f3f5f6,#fcdecd,#fbceb7,#fce0d0,#f7f7f7,#dbeaf2,#d4e6f1,#e0ecf3,#f5f6f7,#f9ebe3,#fae8de,#f9f0eb,#f0f4f6,#e3edf3,#deebf2,#e3edf3,#ecf2f5,#f3f5f6,#f5f6f7,#f0f4f6,#e7f0f4,#e1edf3,#deebf2,#e1edf3,#e4eef4,#e7f0f4,#e7f0f4,#e6eff4,#e3edf3,#e0ecf3,#e0ecf3,#e1edf3,#e3edf3,#e4eef4,#e4eef4,#e3edf3 720px)"></i>
<i style="left:100px;background:linear-gradient(#f7f7f7 216px,#f5f6f7,#f7f7f7,#f7f7f7,#f7f5f4,#f8f4f2,#f7f5f4,#f7f7f7,#f3f5f6,#f2f5f6,#f3f5f6,#f7f7f7,#f8f3f0,#f8f1ed,#f8f3f0,#f7f7f7,#eff3f5,#eaf1f5,#eff3f5,#f7f7f7,#f9eee7,#fae9df,#f9eee7,#f7f7f7,#e4eef4,#ddebf2,#e4eef4,#f7f5f4,#fbe4d6,#fddcc9,#fbe4d6,#f0f4f6,#d1e5f0,#bddbea,#d5e7f1,#f8f1ed,#facab1,#f6b394,#fcd5bf,#edf2f5,#a7d0e4,#81bad8,#b6d7e8,#f9eee7,#f2a17f,#df765e,#f7b596,#e7f0f4,#71b0d3,#3f8ec0,#93c6de,#faeae1,#dd7059,#c43b3c,#ef9979,#e4eef4,#4393c3,#2870b1,#78b4d5,#fae8de,#d25849,#b41c2d,#f09c7b,#d7e8f1,#3885bc,#266caf,#8ac0db,#fce0d0,#cf5246,#be3036,#f3a481,#dae9f2,#4695c4,#3681ba,#9dcbe1,#fbe4d6,#e17860,#d7634f,#f8bb9e,#e0ecf3,#7eb8d7,#68abd0,#bbdaea,#fae9df,#f5ac8b,#f2a17f,#fcd7c2,#e7f0f4,#b3d6e8,#a9d1e5,#d7e8f1,#f9efe9,#fcd5bf,#fbd0b9,#fae8de,#eaf1f5,#d5e7f1,#d4e6f1,#e6eff4,#f8f3f0,#fae9df,#fae9df,#f8f4f2,#eaf1f5,#deebf2,#deebf2,#e6eff4,#eff3f5,#f5f6f7,#f3f5f6,#edf2f5,#e4eef4,#e0ecf3,#deebf2,#e1edf3,#e6eff4,#e7f0f4,#e7f0f4,#e4eef4,#e1edf3,#e0ecf3,#e0ecf3,#e1edf3,#e3edf3,#e4eef4,#e4eef4,#e3edf3 720px)"></i>
<i style="left:105px;background:linear-gradient(#f7f7f7 212px,#f5f6f7,#f5f6f7,#f7f7f7,#f7f7f7,#f7f5f4,#f8f4f2,#f7f5f4,#f7f7f7,#f3f5f6,#f2f5f6,#f5f6f7,#f7f5f4,#f8f2ef,#f8f1ed,#f8f4f2,#f3f5f6,#edf2f5,#eaf1f5,#f0f4f6,#f8f3f0,#f9ebe3,#fae9df,#f9f0eb,#eff3f5,#e0ecf3,#ddebf2,#eaf1f5,#f9efe9,#fcdfcf,#fddbc7,#fae9df,#e4eef4,#c2ddec,#bddbea,#e1edf3,#fbe5d8,#f7b99c,#f7b596,#fbe3d4,#d7e8f1,#8dc2dc,#87beda,#d5e7f1,#fdd9c4,#e48066,#e27b62,#fcd7c2,#c2ddec,#4695c4,#4291c2,#c2ddec,#f9c6ac,#c94741,#c84440,#f9c6ac,#aed3e6,#2e77b5,#2e77b5,#b3d6e8,#f7b99c,#ba2832,#bb2a34,#fbd0b9,#96c7df,#246aae,#2f79b5,#c5dfec,#f5ac8b,#bb2a34,#c6413e,#fcd5bf,#a2cde3,#337eb8,#3f8ec0,#d1e5f0,#f8bda1,#d35a4a,#dd7059,#fcdecd,#bbdaea,#5fa5cd,#78b4d5,#dbeaf2,#fcd5bf,#f09c7b,#f5aa89,#fbe6da,#d5e7f1,#a5cee3,#b3d6e8,#e6eff4,#fbe4d6,#fbccb4,#fdd9c4,#f9f0eb,#e0ecf3,#d1e5f0,#d8e9f1,#edf2f5,#f9eee7,#fae7dc,#f9ede5,#f5f6f7,#e4eef4,#ddebf2,#e0ecf3,#e9f0f4,#f2f5f6,#f5f6f7,#f2f5f6,#eaf1f5,#e1edf3,#deebf2,#deebf2,#e3edf3,#e6eff4,#e7f0f4,#e6eff4,#e3edf3,#e1edf3,#e0ecf3,#e0ecf3,#e1edf3,#e4eef4,#e4eef4,#e4eef4,#e3edf3 720px)"></i>
<i style="left:110px;background:linear-gradient(#f7f7f7 212px,#f5f6f7,#f5f6f7,#f7f7f7,#f7f5f4,#f8f4f2,#f7f5f4,#f7f7f7,#f5f6f7,#f2f5f6,#f2f5f6,#f7f7f7,#f8f4f2,#f8f1ed,#f8f2ef,#f7f5f4,#f0f4f6,#eaf1f5,#ecf2f5,#f5f6f7,#f9f0eb,#fae9df,#faeae1,#f8f4f2,#e9f0f4,#ddebf2,#deebf2,#f2f5f6,#fae8de,#fddbc7,#fdddcb,#f8f1ed,#d8e9f1,#b8d8e9,#c7e0ed,#f0f4f6,#fcd7c2,#f6af8e,#f8bfa4,#f8f1ed,#b8d8e9,#78b4d5,#98c8e0,#edf2f5,#f7b596,#dc6e57,#eb9172,#f9efe9,#90c4dd,#3885bc,#5fa5cd,#e9f0f4,#eb9172,#bd2d35,#d7634f,#f9ebe3,#68abd0,#2065ab,#3c8abe,#e7f0f4,#e17860,#a51429,#cc4c44,#f8f4f2,#4997c5,#1b5a9c,#4291c2,#f3f5f6,#dc6e57,#b1182b,#da6853,#f8f4f2,#62a7ce,#2b73b3,#62a7ce,#f3f5f6,#ea8e70,#cc4c44,#eb9172,#f7f5f4,#90c4dd,#529dc8,#96c7df,#f5f6f7,#f7b799,#eb9172,#f8bda1,#f7f5f4,#bddbea,#a0cce2,#c2ddec,#f7f7f7,#fddbc7,#fac8af,#fcdfcf,#f3f5f6,#d7e8f1,#cfe4ef,#ddebf2,#f7f7f7,#faeae1,#fae7dc,#f9f0eb,#eff3f5,#e0ecf3,#dbeaf2,#e1edf3,#ecf2f5,#f5f6f7,#f5f6f7,#eff3f5,#e6eff4,#e0ecf3,#ddebf2,#e0ecf3,#e4eef4,#e7f0f4,#e7f0f4,#e6eff4,#e3edf3,#e0ecf3,#e0ecf3,#e1edf3,#e3edf3,#e4eef4,#e4eef4,#e3edf3,#e3edf3 720px)"></i>
<i style="left:115px;background:linear-gradient(#f7f7f7 212px,#f5f6f7,#f7f7f7,#f7f7f7,#f7f5f4,#f8f4f2,#f7f5f4,#f7f7f7,#f3f5f6,#f2f5f6,#f3f5f6,#f7f7f7,#f8f3f0,#f8f1ed,#f8f2ef,#f7f7f7,#edf2f5,#eaf1f5,#edf2f5,#f7f5f4,#f9ede5,#fae8de,#f9ede5,#f5f6f7,#e3edf3,#dae9f2,#e3edf3,#f8f4f2,#fce2d2,#fcd7c2,#fbe3d4,#f2f5f6,#cae1ee,#b6d7e8,#d4e6f1,#f9efe9,#f9c2a7,#f5aa89,#fbd0b9,#e9f0f4,#98c8e0,#71b0d3,#b3d6e8,#faeae1,#ea8e70,#d86551,#f6b191,#e1edf3,#59a1ca,#3681ba,#8dc2dc,#fbe5d8,#d35a4a,#b82531,#eb9172,#ddebf2,#3681ba,#1d5fa2,#6eaed2,#fbe3d4,#c2383a,#9c1127,#e48066,#cce2ef,#2a71b2,#1c5c9f,#84bcd9,#fdd9c4,#c13639,#b1182b,#f2a17f,#d2e6f0,#3783bb,#2c75b4,#98c8e0,#fcdecd,#d7634f,#ce4f45,#f7b99c,#dae9f2,#68abd0,#59a1ca,#b8d8e9,#fbe5d8,#f19e7d,#ec9374,#fcd5bf,#e4eef4,#a7d0e4,#a2cde3,#d5e7f1,#f9ede5,#fbccb4,#facab1,#fae8de,#e7f0f4,#d1e5f0,#d1e5f0,#e4eef4,#f8f2ef,#fae7dc,#fae9df,#f8f4f2,#e9f0f4,#ddebf2,#dbeaf2,#e4eef4,#eff3f5,#f5f6f7,#f3f5f6,#ecf2f5,#e3edf3,#deebf2,#deebf2,#e1edf3,#e6eff4,#e7f0f4,#e7f0f4,#e4eef4,#e1edf3,#e0ecf3,#e0ecf3,#e1edf3,#e3edf3,#e4eef4,#e4eef4,#e3edf3,#e1edf3 720px)"></i>
<i style="left:120px;background:linear-gradient(#f7f7f7 208px,#f5f6f7,#f5f6f7,#f7f7f7,#f7f7f7,#f7f5f4,#f8f4f2,#f7f5f4,#f5f6f7,#f2f5f6,#f2f5f6,#f5f6f7,#f7f5f4,#f8f2ef,#f8f1ed,#f8f4f2,#f3f5f6,#ecf2f5,#eaf1f5,#f0f4f6,#f8f2ef,#faeae1,#fae8de,#f9f0eb,#edf2f5,#ddebf2,#dae9f2,#e9f0f4,#f9eee7,#fddcc9,#fdd9c4,#fae9df,#e4eef4,#bbdaea,#b8d8e9,#e1edf3,#fce2d2,#f6b191,#f6af8e,#fbe3d4,#d2e6f0,#7bb6d6,#7bb6d6,#d4e6f1,#fbd0b9,#dd7059,#dc6e57,#fcd7c2,#b6d7e8,#3a87bd,#3b88be,#c2ddec,#f7b99c,#bd2d35,#bf3338,#f9c6ac,#a0cce2,#2065ab,#246aae,#b3d6e8,#f5aa89,#a51429,#ae172a,#f8bfa4,#81bad8,#195696,#266caf,#c7e0ed,#f09c7b,#a81529,#be3036,#fcd7c2,#90c4dd,#276eb0,#3783bb,#d1e5f0,#f6b191,#c84440,#d7634f,#fcdfcf,#aed3e6,#4c99c6,#6bacd1,#dbeaf2,#fbccb4,#e98b6e,#f3a481,#fae7dc,#cfe4ef,#9bc9e0,#acd2e5,#e6eff4,#fce0d0,#f9c4a9,#fbd0b9,#f8f1ed,#ddebf2,#cae1ee,#d5e7f1,#edf2f5,#f9ede5,#fbe6da,#f9ebe3,#f5f6f7,#e3edf3,#dae9f2,#ddebf2,#e9f0f4,#f2f5f6,#f7f7f7,#f2f5f6,#e9f0f4,#e1edf3,#ddebf2,#deebf2,#e3edf3,#e7f0f4,#e7f0f4,#e6eff4,#e3edf3,#e0ecf3,#e0ecf3,#e0ecf3,#e1edf3,#e4eef4,#e4eef4,#e4eef4,#e3edf3,#e1edf3 720px)"></i>
<i style="left:125px;background:linear-gradient(#f7f7f7 208px,#f5f6f7,#f5f6f7,#f7f7f7,#f7f5f4,#f8f4f2,#f8f4f2,#f7f7f7,#f5f6f7,#f2f5f6,#f2f5f6,#f7f7f7,#f8f3f0,#f8f1ed,#f8f1ed,#f7f5f4,#f0f4f6,#eaf1f5,#eaf1f5,#f5f6f7,#f9efe9,#fae8de,#fae9df,#f8f4f2,#e7f0f4,#dae9f2,#ddebf2,#f2f5f6,#fbe6da,#fcd7c2,#fddcc9,#f8f1ed,#d7e8f1,#b1d5e7,#c2ddec,#f2f5f6,#fbceb7,#f4a683,#f8bb9e,#f8f2ef,#aed3e6,#68abd0,#90c4dd,#eff3f5,#f5aa89,#d35a4a,#e6866a,#f9f0eb,#7eb8d7,#2f79b5,#4f9bc7,#ecf2f5,#e37e64,#ae172a,#d05548,#f9eee7,#529dc8,#175290,#3681ba,#eaf1f5,#d7634f,#870a24,#c53e3d,#f9eee7,#3b88be,#114781,#3c8abe,#f7f7f7,#d05548,#960f27,#d55d4c,#f7f7f7,#4997c5,#2065ab,#569fc9,#f7f7f7,#e27b62,#c2383a,#e8896c,#f7f7f7,#7eb8d7,#4291c2,#8dc2dc,#f7f7f7,#f5ac8b,#e58368,#f7b799,#f7f7f7,#b3d6e8,#96c7df,#c0dceb,#f7f7f7,#fcd5bf,#f9c2a7,#fddcc9,#f2f5f6,#d4e6f1,#cae1ee,#dbeaf2,#f7f7f7,#fae9df,#fbe6da,#f9f0eb,#edf2f5,#ddebf2,#dae9f2,#e0ecf3,#ecf2f5,#f5f6f7,#f5f6f7,#eff3f5,#e6eff4,#deebf2,#ddebf2,#e0ecf3,#e4eef4,#e7f0f4,#e7f0f4,#e6eff4,#e3edf3,#e0ecf3,#e0ecf3,#e1edf3,#e3edf3,#e4eef4,#e4eef4,#e3edf3,#e3edf3,#e1edf3 720px)"></i>
<i style="left:130px;background:linear-gradient(#f7f7f7 208px,#f5f6f7,#f7f7f7,#f7f7f7,#f7f5f4,#f8f4f2,#f7f5f4,#f7f7f7,#f3f5f6,#f2f5f6,#f3f5f6,#f7f7f7,#f8f2ef,#f9f0eb,#f8f2ef,#f7f7f7,#edf2f5,#e9f0f4,#edf2f5,#f7f5f4,#f9ebe3,#fae7dc,#f9ede5,#f5f6f7,#e1edf3,#d8e9f1,#e1edf3,#f8f4f2,#fcdfcf,#fcd3bc,#fce2d2,#f2f5f6,#c7e0ed,#aed3e6,#d2e6f0,#f9eee7,#f7b99c,#f2a17f,#fbceb7,#e6eff4,#8dc2dc,#65a9cf,#aed3e6,#fae7dc,#e48066,#d25849,#f5ac8b,#deebf2,#4695c4,#2c75b4,#84bcd9,#fce2d2,#c84440,#ab162a,#e8896c,#d8e9f1,#2c75b4,#144e8a,#65a9cf,#fcdecd,#b72230,#840924,#e17860,#d5e7f1,#1f63a8,#134c87,#7bb6d6,#fbd0b9,#b41c2d,#9c1127,#ef9979,#cae1ee,#2e77b5,#2369ad,#93c6de,#fddbc7,#ce4f45,#c53e3d,#f7b596,#d5e7f1,#569fc9,#4695c4,#b6d7e8,#fbe3d4,#eb9172,#e8896c,#fcd3bc,#e1edf3,#9dcbe1,#9bc9e0,#d4e6f1,#faeae1,#f9c6ac,#f9c4a9,#fbe5d8,#e6eff4,#cce2ef,#cce2ef,#e4eef4,#f8f2ef,#fbe6da,#fae8de,#f8f4f2,#e6eff4,#dae9f2,#dae9f2,#e4eef4,#eff3f5,#f7f7f7,#f3f5f6,#ecf2f5,#e3edf3,#ddebf2,#ddebf2,#e1edf3,#e6eff4,#e7f0f4,#e7f0f4,#e4eef4,#e1edf3,#e0ecf3,#e0ecf3,#e1edf3,#e3edf3,#e4eef4,#e4eef4,#e3edf3,#e1edf3,#e1edf3 720px)"></i>
<i style="left:135px;background:linear-gradient(#f7f7f7 204px,#f5f6f7,#f5f6f7,#f7f7f7,#f7f7f7,#f8f4f2,#f8f4f2,#f7f5f4,#f5f6f7,#f2f5f6,#f2f5f6,#f5f6f7,#f7f5f4,#f8f1ed,#f9f0eb,#f8f4f2,#f3f5f6,#eaf1f5,#e9f0f4,#f0f4f6,#f8f2ef,#fae9df,#fae7dc,#f9f0eb,#edf2f5,#dbeaf2,#d8e9f1,#e9f0f4,#f9ede5,#fdd9c4,#fcd5bf,#fae8de,#e3edf3,#b8d8e9,#b3d6e8,#e1edf3,#fcdfcf,#f5aa89,#f5a886,#fce2d2,#cce2ef,#6eaed2,#6eaed2,#d4e6f1,#facab1,#d6604d,#d7634f,#fcd5bf,#aed3e6,#327cb7,#337eb8,#c0dceb,#f6b191,#b3192c,#b72230,#f9c4a9,#93c6de,#195696,#1c5c9f,#b1d5e7,#f2a17f,#8d0c25,#9c1127,#f8bda1,#8ac0db,#10457e,#1e61a5,#c5dfec,#e98b6e,#900d26,#b61f2e,#fcd5bf,#84bcd9,#1e61a5,#307ab6,#d1e5f0,#f4a683,#bf3338,#d25849,#fcdecd,#a5cee3,#3f8ec0,#5fa5cd,#dbeaf2,#f9c6ac,#e48066,#f09c7b,#fbe6da,#cae1ee,#90c4dd,#a7d0e4,#e6eff4,#fcdfcf,#f8bfa4,#fbceb7,#f9eee7,#dae9f2,#c5dfec,#d2e6f0,#edf2f5,#f9ede5,#fbe5d8,#f9ebe3,#f3f5f6,#e0ecf3,#d8e9f1,#dbeaf2,#e7f0f4,#f2f5f6,#f7f7f7,#f2f5f6,#e9f0f4,#e0ecf3,#dbeaf2,#ddebf2,#e3edf3,#e7f0f4,#e9f0f4,#e7f0f4,#e3edf3,#e0ecf3,#deebf2,#e0ecf3,#e1edf3,#e4eef4,#e4eef4,#e4eef4,#e3edf3,#e1edf3,#e1edf3 720px)"></i>
<i style="left:140px;background:linear-gradient(#f7f7f7 204px,#f5f6f7,#f5f6f7,#f7f7f7,#f7f5f4,#f8f4f2,#f8f4f2,#f7f7f7,#f3f5f6,#f2f5f6,#f2f5f6,#f7f7f7,#f8f3f0,#f9f0eb,#f8f1ed,#f7f5f4,#eff3f5,#e9f0f4,#eaf1f5,#f5f6f7,#f9efe9,#fae7dc,#fae9df,#f8f4f2,#e6eff4,#d8e9f1,#dbeaf2,#f2f5f6,#fbe5d8,#fcd3bc,#fddbc7,#f8f1ed,#d5e7f1,#acd2e5,#bddbea,#f2f5f6,#facab1,#f19e7d,#f7b596,#f8f2ef,#a7d0e4,#5fa5cd,#87beda,#eff3f5,#f2a17f,#ce4f45,#e37e64,#f9f0eb,#71b0d3,#276eb0,#4393c3,#ecf2f5,#dd7059,#9c1127,#cb4942,#f9eee7,#4393c3,#0f437b,#2f79b5,#eaf1f5,#d05548,#730421,#be3036,#f9eee7,#3c8abe,#09386d,#3681ba,#f7f7f7,#c94741,#810823,#cf5246,#f7f7f7,#3f8ec0,#1a5899,#4997c5,#f7f7f7,#dc6e57,#ba2832,#e37e64,#f7f7f7,#71b0d3,#3b88be,#84bcd9,#f7f7f7,#f4a683,#e17860,#f6b394,#f7f7f7,#acd2e5,#8dc2dc,#bbdaea,#f7f7f7,#fbd0b9,#f8bda1,#fddbc7,#f7f7f7,#d1e5f0,#c5dfec,#dae9f2,#f7f7f7,#fae8de,#fbe5d8,#f9efe9,#ecf2f5,#dbeaf2,#d7e8f1,#deebf2,#ecf2f5,#f5f6f7,#f7f7f7,#eff3f5,#e4eef4,#ddebf2,#dbeaf2,#deebf2,#e4eef4,#e7f0f4,#e7f0f4,#e6eff4,#e1edf3,#e0ecf3,#deebf2,#e0ecf3,#e3edf3,#e4eef4,#e4eef4,#e3edf3,#e3edf3,#e1edf3,#e1edf3 720px)"></i>
<i style="left:145px;background:linear-gradient(#f7f7f7 204px,#f5f6f7,#f5f6f7,#f7f7f7,#f7f5f4,#f8f4f2,#f7f5f4,#f7f7f7,#f3f5f6,#f0f4f6,#f3f5f6,#f7f7f7,#f8f2ef,#f9f0eb,#f8f2ef,#f7f7f7,#edf2f5,#e9f0f4,#edf2f5,#f7f5f4,#f9ebe3,#fae7dc,#f9ebe3,#f3f5f6,#e0ecf3,#d7e8f1,#e1edf3,#f8f4f2,#fcdecd,#fbd0b9,#fce0d0,#f2f5f6,#c5dfec,#a9d1e5,#d1e5f0,#f9ede5,#f7b596,#f09c7b,#facab1,#e6eff4,#87beda,#59a1ca,#a9d1e5,#fae7dc,#e17860,#cc4c44,#f4a683,#ddebf2,#3f8ec0,#266caf,#7bb6d6,#fce2d2,#c2383a,#991027,#e48066,#d7e8f1,#266caf,#0f437b,#59a1ca,#fcdecd,#ae172a,#730421,#dc6e57,#d4e6f1,#1f63a8,#0d3f76,#71b0d3,#fbccb4,#a81529,#8a0b25,#eb9172,#c5dfec,#276eb0,#1d5fa2,#8ac0db,#fcd7c2,#c84440,#be3036,#f6af8e,#d4e6f1,#4997c5,#3f8ec0,#b1d5e7,#fce2d2,#e8896c,#e48066,#fbceb7,#e0ecf3,#98c8e0,#93c6de,#d2e6f0,#faeae1,#f9c4a9,#f9c2a7,#fbe4d6,#e9f0f4,#c7e0ed,#cae1ee,#e3edf3,#f8f2ef,#fbe5d8,#fae7dc,#f8f4f2,#e6eff4,#d8e9f1,#d8e9f1,#e3edf3,#eff3f5,#f7f7f7,#f5f6f7,#ecf2f5,#e1edf3,#dbeaf2,#dbeaf2,#e0ecf3,#e6eff4,#e9f0f4,#e7f0f4,#e4eef4,#e1edf3,#deebf2,#e0ecf3,#e1edf3,#e3edf3,#e4eef4,#e4eef4,#e3edf3,#e1edf3,#e1edf3,#e1edf3 720px)"></i>
<i style="left:150px;background:linear-gradient(#f7f7f7 200px,#f5f6f7,#f5f6f7,#f7f7f7,#f7f7f7,#f8f4f2,#f8f4f2,#f7f5f4,#f5f6f7,#f2f5f6,#f2f5f6,#f5f6f7,#f7f5f4,#f8f1ed,#f9f0eb,#f8f3f0,#f3f5f6,#eaf1f5,#e9f0f4,#f0f4f6,#f8f2ef,#fae9df,#fae7dc,#f9efe9,#edf2f5,#dbeaf2,#d7e8f1,#e7f0f4,#f9ede5,#fdd9c4,#fcd3bc,#fae7dc,#e3edf3,#b6d7e8,#acd2e5,#e0ecf3,#fcdfcf,#f4a683,#f3a481,#fce0d0,#cce2ef,#68abd0,#65a9cf,#d1e5f0,#fac8af,#d35a4a,#d25849,#fbd0b9,#acd2e5,#2e77b5,#2e77b5,#b8d8e9,#f6af8e,#ab162a,#ae172a,#f8bda1,#93c6de,#144e8a,#175290,#a7d0e4,#f19e7d,#810823,#8d0c25,#f7b596,#87beda,#0e4179,#195696,#c0dceb,#e8896c,#840924,#ab162a,#fbceb7,#7eb8d7,#1a5899,#2a71b2,#cae1ee,#f3a481,#ba2832,#cc4c44,#fddcc9,#a2cde3,#3b88be,#569fc9,#d8e9f1,#f9c4a9,#e17860,#ec9374,#fbe5d8,#c7e0ed,#8ac0db,#a0cce2,#e4eef4,#fcdecd,#f8bb9e,#facab1,#f9eee7,#ddebf2,#c2ddec,#d1e5f0,#ecf2f5,#f9ede5,#fbe4d6,#faeae1,#f3f5f6,#e0ecf3,#d7e8f1,#dae9f2,#e7f0f4,#f2f5f6,#f7f7f7,#f2f5f6,#e9f0f4,#e0ecf3,#dbeaf2,#ddebf2,#e1edf3,#e6eff4,#e9f0f4,#e7f0f4,#e3edf3,#e0ecf3,#deebf2,#e0ecf3,#e1edf3,#e4eef4,#e4eef4,#e4eef4,#e3edf3,#e1edf3,#e1edf3,#e1edf3 720px)"></i>
<i style="left:155px;background:linear-gradient(#f7f7f7 200px,#f5f6f7,#f5f6f7,#f7f7f7,#f7f5f4,#f8f4f2,#f8f4f2,#f7f7f7,#f3f5f6,#f2f5f6,#f2f5f6,#f7f7f7,#f8f3f0,#f9f0eb,#f8f1ed,#f7f5f4,#eff3f5,#e9f0f4,#eaf1f5,#f3f5f6,#f9efe9,#fae7dc,#fae8de,#f8f3f0,#e6eff4,#d7e8f1,#dae9f2,#f0f4f6,#fbe5d8,#fbd0b9,#fcd7c2,#f9f0eb,#d5e7f1,#a9d1e5,#b6d7e8,#f0f4f6,#facab1,#ef9979,#f6b191,#f8f1ed,#a7d0e4,#59a1ca,#81bad8,#ecf2f5,#f2a17f,#c94741,#df765e,#f9eee7,#71b0d3,#246aae,#3f8ec0,#e7f0f4,#dd7059,#930e26,#c43b3c,#faeae1,#4393c3,#0a3b70,#2a71b2,#e6eff4,#d05548,#67001f,#b72230,#fae9df,#3c8abe,#063264,#2f79b5,#f3f5f6,#c84440,#760521,#c84440,#f7f5f4,#3e8cbf,#15508d,#408fc1,#f5f6f7,#dc6e57,#b61f2e,#de735c,#f7f5f4,#71b0d3,#3885bc,#7bb6d6,#f5f6f7,#f3a481,#de735c,#f5ac8b,#f7f5f4,#acd2e5,#87beda,#b6d7e8,#f7f7f7,#fbd0b9,#f7b99c,#fcd7c2,#f7f7f7,#d2e6f0,#c0dceb,#d8e9f1,#f5f6f7,#fae8de,#fbe5d8,#f9efe9,#ecf2f5,#dbeaf2,#d5e7f1,#ddebf2,#eaf1f5,#f5f6f7,#f7f7f7,#eff3f5,#e4eef4,#ddebf2,#dbeaf2,#deebf2,#e3edf3,#e7f0f4,#e9f0f4,#e6eff4,#e3edf3,#e0ecf3,#deebf2,#e0ecf3,#e3edf3,#e4eef4,#e4eef4,#e4eef4,#e3edf3,#e1edf3,#e1edf3,#e1edf3 720px)"></i>
<i style="left:160px;background:linear-gradient(#f7f7f7 200px,#f5f6f7,#f5f6f7,#f7f7f7,#f7f5f4,#f8f4f2,#f7f5f4,#f7f7f7,#f3f5f6,#f0f4f6,#f2f5f6,#f7f7f7,#f8f2ef,#f9f0eb,#f8f2ef,#f7f7f7,#edf2f5,#e7f0f4,#ecf2f5,#f7f7f7,#f9ebe3,#fbe6da,#f9ebe3,#f5f6f7,#e0ecf3,#d5e7f1,#e0ecf3,#f7f5f4,#fcdfcf,#fbceb7,#fcdecd,#f3f5f6,#c5dfec,#a7d0e4,#c5dfec,#f9efe9,#f7b799,#ef9979,#f9c6ac,#e9f0f4,#87beda,#569fc9,#a2cde3,#faeae1,#e17860,#c94741,#f19e7d,#e1edf3,#3f8ec0,#2369ad,#6eaed2,#fbe5d8,#c43b3c,#900d26,#de735c,#ddebf2,#276eb0,#0a3b70,#4997c5,#fce2d2,#b1182b,#6a011f,#d6604d,#dae9f2,#1f63a8,#063264,#62a7ce,#fcd5bf,#a81529,#810823,#e58368,#cfe4ef,#276eb0,#195696,#7eb8d7,#fddcc9,#c6413e,#ba2832,#f4a683,#d8e9f1,#4997c5,#3c8abe,#a7d0e4,#fbe4d6,#e8896c,#e27b62,#fac8af,#e3edf3,#98c8e0,#8dc2dc,#cfe4ef,#f9ebe3,#f9c2a7,#f8bda1,#fce2d2,#e9f0f4,#c7e0ed,#c5dfec,#e0ecf3,#f8f2ef,#fbe6da,#fae7dc,#f8f3f0,#e6eff4,#d7e8f1,#d7e8f1,#e1edf3,#eff3f5,#f7f7f7,#f5f6f7,#ecf2f5,#e1edf3,#dbeaf2,#dbeaf2,#e0ecf3,#e4eef4,#e9f0f4,#e7f0f4,#e4eef4,#e1edf3,#deebf2,#e0ecf3,#e1edf3,#e3edf3,#e4eef4,#e4eef4,#e3edf3,#e1edf3 708px,#e1edf3 720px)"></i>
<i style="left:165px;background:linear-gradient(#f7f7f7 196px,#f5f6f7,#f5f6f7,#f7f7f7,#f7f7f7,#f8f4f2,#f8f4f2,#f7f5f4,#f5f6f7,#f2f5f6,#f0f4f6,#f3f5f6,#f7f5f4,#f8f1ed,#f9f0eb,#f8f3f0,#f3f5f6,#eaf1f5,#e9f0f4,#eff3f5,#f8f3f0,#fae9df,#fae7dc,#f9efe9,#eff3f5,#dbeaf2,#d7e8f1,#e6eff4,#f9eee7,#fdd9c4,#fbd0b9,#fbe6da,#e6eff4,#b6d7e8,#a9d1e5,#d7e8f1,#fce2d2,#f5a886,#f19e7d,#fdddcb,#d2e6f0,#6bacd1,#5fa5cd,#c7e0ed,#fbd0b9,#d55d4c,#cf5246,#f9c6ac,#b6d7e8,#2f79b5,#2b73b3,#acd2e5,#f7b99c,#ae172a,#a51429,#f6b191,#a0cce2,#15508d,#134c87,#98c8e0,#f5aa89,#840924,#810823,#f5a886,#96c7df,#0f437b,#10457e,#aed3e6,#ee9677,#840924,#9f1228,#f9c4a9,#8dc2dc,#1a5899,#246aae,#bddbea,#f5ac8b,#ba2832,#c6413e,#fcd3bc,#a9d1e5,#3b88be,#4c99c6,#d2e6f0,#fac8af,#e17860,#e98b6e,#fce2d2,#cce2ef,#8ac0db,#9bc9e0,#e0ecf3,#fce0d0,#f8bb9e,#fac8af,#f9ebe3,#deebf2,#c2ddec,#cce2ef,#e9f0f4,#f9eee7,#fbe5d8,#faeae1,#f5f6f7,#e0ecf3,#d5e7f1,#dae9f2,#e6eff4,#f2f5f6,#f7f7f7,#f2f5f6,#e9f0f4,#e0ecf3,#dbeaf2,#dbeaf2,#e1edf3,#e6eff4,#e9f0f4,#e7f0f4,#e3edf3,#e0ecf3,#deebf2,#e0ecf3,#e1edf3,#e4eef4,#e4eef4,#e4eef4,#e3edf3,#e1edf3,#e1edf3,#e1edf3,#e3edf3 720px)"></i>
<i style="left:170px;background:linear-gradient(#f7f7f7 196px,#f5f6f7,#f5f6f7,#f7f7f7,#f7f7f7,#f8f4f2,#f8f4f2,#f7f7f7,#f5f6f7,#f2f5f6,#f2f5f6,#f5f6f7,#f8f4f2,#f9f0eb,#f8f1ed,#f7f5f4,#f0f4f6,#e9f0f4,#e9f0f4,#f3f5f6,#f9f0eb,#fae7dc,#fae8de,#f8f2ef,#e7f0f4,#d8e9f1,#dae9f2,#eff3f5,#fae7dc,#fcd3bc,#fcd7c2,#f9eee7,#dae9f2,#acd2e5,#b3d6e8,#e6eff4,#fbd0b9,#f09c7b,#f5ac8b,#f9ede5,#b1d5e7,#5ca3cb,#78b4d5,#e4eef4,#f5ac8b,#cc4c44,#dc6e57,#fae7dc,#81bad8,#266caf,#3a87bd,#deebf2,#e48066,#960f27,#be3036,#fbe3d4,#569fc9,#0d3f76,#2369ad,#dae9f2,#d86551,#6d0220,#ae172a,#fce0d0,#4997c5,#073467,#2065ab,#e7f0f4,#d05548,#790622,#c13639,#f9ede5,#4997c5,#15508d,#3a87bd,#eaf1f5,#e17860,#b61f2e,#da6853,#f9efe9,#7eb8d7,#3885bc,#71b0d3,#edf2f5,#f5ac8b,#de735c,#f4a683,#f8f2ef,#b3d6e8,#87beda,#aed3e6,#f2f5f6,#fcd5bf,#f7b99c,#fcd5bf,#f7f5f4,#d4e6f1,#c0dceb,#d5e7f1,#f2f5f6,#fae9df,#fbe5d8,#f9eee7,#edf2f5,#dbeaf2,#d5e7f1,#ddebf2,#e9f0f4,#f3f5f6,#f5f6f7,#eff3f5,#e6eff4,#ddebf2,#dae9f2,#ddebf2,#e3edf3,#e7f0f4,#e9f0f4,#e6eff4,#e3edf3,#e0ecf3,#deebf2,#e0ecf3,#e3edf3,#e4eef4,#e4eef4,#e4eef4,#e3edf3,#e1edf3,#e1edf3,#e1edf3,#e3edf3 720px)"></i>
<i style="left:175px;background:linear-gradient(#f7f7f7 196px,#f5f6f7,#f5f6f7,#f7f7f7,#f7f5f4,#f8f4f2,#f7f5f4,#f7f7f7,#f3f5f6,#f2f5f6,#f2f5f6,#f7f7f7,#f8f3f0,#f9f0eb,#f8f1ed,#f7f7f7,#edf2f5,#e9f0f4,#ecf2f5,#f7f7f7,#f9ede5,#fae7dc,#faeae1,#f7f7f7,#e3edf3,#d7e8f1,#deebf2,#f7f7f7,#fce2d2,#fbd0b9,#fdddcb,#f7f7f7,#cce2ef,#a9d1e5,#c2ddec,#f7f7f7,#f8bda1,#f09c7b,#f8bfa4,#f0f4f6,#96c7df,#59a1ca,#98c8e0,#f8f1ed,#e8896c,#cb4942,#eb9172,#edf2f5,#4f9bc7,#246aae,#5fa5cd,#f9efe9,#ce4f45,#960f27,#d7634f,#eaf1f5,#307ab6,#0d3f76,#3e8cbf,#f9eee7,#bd2d35,#6d0220,#ce4f45,#eaf1f5,#2a71b2,#073467,#3c8abe,#fbe3d4,#b72230,#7f0823,#dd7059,#ddebf2,#2f79b5,#195696,#68abd0,#fbe6da,#cf5246,#ba2832,#ee9677,#e3edf3,#59a1ca,#3b88be,#9bc9e0,#faeae1,#ec9374,#e17860,#f8bfa4,#eaf1f5,#a0cce2,#8dc2dc,#c7e0ed,#f9f0eb,#fac8af,#f8bda1,#fcdfcf,#edf2f5,#cce2ef,#c2ddec,#ddebf2,#f7f5f4,#fae7dc,#fae7dc,#f8f2ef,#e7f0f4,#d8e9f1,#d7e8f1,#e0ecf3,#ecf2f5,#f5f6f7,#f5f6f7,#ecf2f5,#e3edf3,#dbeaf2,#dbeaf2,#deebf2,#e4eef4,#e7f0f4,#e7f0f4,#e4eef4,#e1edf3,#e0ecf3,#deebf2,#e1edf3,#e3edf3,#e4eef4,#e4eef4,#e3edf3,#e1edf3 704px,#e1edf3 716px,#e3edf3 720px)"></i>
<i style="left:180px;background:linear-gradient(#f7f7f7 192px,#f5f6f7,#f5f6f7,#f7f7f7,#f7f7f7,#f7f5f4,#f8f4f2,#f7f5f4,#f7f7f7,#f2f5f6,#f2f5f6,#f3f5f6,#f7f5f4,#f8f2ef,#f9f0eb,#f8f3f0,#f5f6f7,#ecf2f5,#e9f0f4,#eff3f5,#f8f4f2,#faeae1,#fae7dc,#f9eee7,#f2f5f6,#deebf2,#d7e8f1,#e4eef4,#f8f1ed,#fdddcb,#fcd3bc,#fbe4d6,#ecf2f5,#c0dceb,#acd2e5,#d2e6f0,#f9ebe3,#f6b191,#f2a17f,#fcd7c2,#ddebf2,#7bb6d6,#62a7ce,#bbdaea,#fcdecd,#dc6e57,#cf5246,#f7b99c,#cfe4ef,#3885bc,#2b73b3,#98c8e0,#fbd0b9,#bb2a34,#a51429,#f19e7d,#bddbea,#1f63a8,#134c87,#7eb8d7,#f9c6ac,#9f1228,#810823,#eb9172,#b8d8e9,#195696,#0f437b,#7bb6d6,#f7b596,#9c1127,#9c1127,#f6af8e,#a9d1e5,#2267ac,#2369ad,#a7d0e4,#f9c4a9,#c2383a,#c53e3d,#f9c2a7,#c2ddec,#4291c2,#4695c4,#c2ddec,#fdd9c4,#e58368,#e8896c,#fddbc7,#d7e8f1,#93c6de,#98c8e0,#dae9f2,#fbe5d8,#f8bfa4,#f9c6ac,#fae8de,#e3edf3,#c5dfec,#c7e0ed,#e6eff4,#f9f0eb,#fbe6da,#fae9df,#f7f7f7,#e1edf3,#d7e8f1,#d8e9f1,#e3edf3,#eff3f5,#f5f6f7,#f2f5f6,#e9f0f4,#e0ecf3,#dbeaf2,#dbeaf2,#e0ecf3,#e6eff4,#e9f0f4,#e7f0f4,#e4eef4,#e1edf3,#deebf2,#e0ecf3,#e1edf3,#e3edf3,#e4eef4,#e4eef4,#e3edf3,#e1edf3,#e1edf3,#e1edf3,#e3edf3,#e3edf3 720px)"></i>
<i style="left:185px;background:linear-gradient(#f7f7f7 192px,#f5f6f7,#f5f6f7,#f7f7f7,#f7f7f7,#f7f5f4,#f8f4f2,#f7f7f7,#f5f6f7,#f2f5f6,#f2f5f6,#f5f6f7,#f8f4f2,#f8f1ed,#f8f1ed,#f8f4f2,#f2f5f6,#eaf1f5,#e9f0f4,#f2f5f6,#f8f1ed,#fae9df,#fae8de,#f8f1ed,#ecf2f5,#dbeaf2,#dae9f2,#eaf1f5,#f9ebe3,#fdd9c4,#fcd7c2,#faeae1,#e1edf3,#b6d7e8,#b3d6e8,#e0ecf3,#fce2d2,#f5a886,#f5ac8b,#fbe5d8,#c7e0ed,#6eaed2,#75b2d4,#d8e9f1,#f9c4a9,#d6604d,#da6853,#fddcc9,#a5cee3,#307ab6,#3783bb,#cce2ef,#f4a683,#b1182b,#bb2a34,#fbd0b9,#84bcd9,#175290,#2065ab,#c0dceb,#eb9172,#870a24,#a51429,#facab1,#7bb6d6,#114781,#1d5fa2,#bddbea,#e37e64,#8d0c25,#bb2a34,#fcdecd,#75b2d4,#1d5fa2,#3480b9,#d8e9f1,#f09c7b,#be3036,#d55d4c,#fbe4d6,#9dcbe1,#3e8cbf,#65a9cf,#e1edf3,#f8bfa4,#e37e64,#f2a17f,#fae9df,#c2ddec,#90c4dd,#a9d1e5,#e9f0f4,#fdddcb,#f8bfa4,#fbd0b9,#f8f1ed,#dae9f2,#c2ddec,#d1e5f0,#edf2f5,#f9ede5,#fbe6da,#f9ede5,#f0f4f6,#deebf2,#d5e7f1,#dbeaf2,#e7f0f4,#f2f5f6,#f5f6f7,#f0f4f6,#e6eff4,#deebf2,#dbeaf2,#ddebf2,#e1edf3,#e6eff4,#e9f0f4,#e6eff4,#e3edf3,#e0ecf3,#deebf2,#e0ecf3,#e3edf3,#e4eef4,#e4eef4,#e4eef4,#e3edf3,#e1edf3,#e1edf3,#e1edf3,#e3edf3,#e3edf3 720px)"></i>
<i style="left:190px;background:linear-gradient(#f7f7f7 192px,#f5f6f7,#f5f6f7,#f7f7f7,#f7f5f4,#f8f4f2,#f8f4f2,#f7f7f7,#f5f6f7,#f2f5f6,#f2f5f6,#f7f7f7,#f8f3f0,#f8f1ed,#f8f1ed,#f7f5f4,#f0f4f6,#eaf1f5,#eaf1f5,#f5f6f7,#f9efe9,#fae8de,#fae9df,#f8f4f2,#e7f0f4,#dae9f2,#ddebf2,#f2f5f6,#fbe6da,#fcd7c2,#fddcc9,#f8f1ed,#d8e9f1,#b3d6e8,#bddbea,#edf2f5,#fcd7c2,#f4a683,#f7b99c,#f8f2ef,#aed3e6,#68abd0,#90c4dd,#eff3f5,#f5aa89,#d35a4a,#e6866a,#f9f0eb,#7eb8d7,#2e77b5,#4f9bc7,#ecf2f5,#e27b62,#ae172a,#d05548,#f9eee7,#4f9bc7,#15508d,#3681ba,#eaf1f5,#d7634f,#840924,#c43b3c,#f9ede5,#4393c3,#10457e,#337eb8,#eaf1f5,#d05548,#930e26,#d35a4a,#f7f7f7,#4695c4,#1f63a8,#529dc8,#f7f7f7,#e17860,#bf3338,#e6866a,#f7f7f7,#7bb6d6,#408fc1,#8dc2dc,#f7f7f7,#f5ac8b,#e48066,#f7b799,#f7f7f7,#b1d5e7,#93c6de,#bddbea,#f7f7f7,#fcd5bf,#f9c2a7,#fddcc9,#f5f6f7,#d4e6f1,#c5dfec,#d7e8f1,#f3f5f6,#faeae1,#fae7dc,#f8f1ed,#eaf1f5,#dbeaf2,#d7e8f1,#ddebf2,#eaf1f5,#f2f5f6,#f3f5f6,#edf2f5,#e4eef4,#ddebf2,#dbeaf2,#deebf2,#e3edf3,#e7f0f4,#e7f0f4,#e6eff4,#e3edf3,#e0ecf3,#e0ecf3,#e0ecf3,#e3edf3,#e4eef4,#e4eef4,#e3edf3,#e3edf3,#e1edf3,#e1edf3,#e1edf3,#e3edf3,#e3edf3 720px)"></i>
<i style="left:195px;background:linear-gradient(#f7f7f7 192px,#f5f6f7,#f5f6f7,#f7f7f7,#f7f5f4,#f8f4f2,#f7f5f4,#f7f7f7,#f3f5f6,#f2f5f6,#f3f5f6,#f7f7f7,#f8f3f0,#f8f1ed,#f8f2ef,#f7f7f7,#eff3f5,#eaf1f5,#edf2f5,#f7f7f7,#f9eee7,#fae8de,#f9ede5,#f7f7f7,#e3edf3,#dae9f2,#e1edf3,#f7f7f7,#fbe3d4,#fcd7c2,#fce0d0,#f5f6f7,#d1e5f0,#b3d6e8,#cce2ef,#f7f5f4,#fac8af,#f5a886,#fbccb4,#edf2f5,#9dcbe1,#6eaed2,#a9d1e5,#f9eee7,#ec9374,#d6604d,#f5a886,#e9f0f4,#5fa5cd,#327cb7,#7eb8d7,#faeae1,#d55d4c,#b41c2d,#e48066,#e4eef4,#3885bc,#1a5899,#5ca3cb,#fae8de,#c53e3d,#930e26,#dd7059,#e3edf3,#327cb7,#15508d,#59a1ca,#fae9df,#c13639,#a51429,#ea8e70,#d8e9f1,#3885bc,#276eb0,#8ac0db,#fbe3d4,#d7634f,#c84440,#f5ac8b,#e0ecf3,#68abd0,#4c99c6,#aed3e6,#fae8de,#f19e7d,#ea8e70,#fbccb4,#e7f0f4,#a7d0e4,#9bc9e0,#d1e5f0,#f9efe9,#fbccb4,#fac8af,#fbe4d6,#ecf2f5,#cfe4ef,#cae1ee,#deebf2,#f7f5f4,#fae9df,#fae9df,#f7f5f4,#e6eff4,#d8e9f1,#d8e9f1,#e0ecf3,#ecf2f5,#f3f5f6,#f2f5f6,#eaf1f5,#e1edf3,#dbeaf2,#dbeaf2,#e0ecf3,#e4eef4,#e7f0f4,#e7f0f4,#e4eef4,#e1edf3,#e0ecf3,#e0ecf3,#e1edf3,#e3edf3,#e4eef4,#e4eef4,#e3edf3,#e1edf3 700px,#e1edf3 712px,#e3edf3,#e3edf3 720px)"></i>
<i style="left:200px;background:linear-gradient(#f7f7f7 192px,#f5f6f7,#f7f7f7,#f7f7f7,#f7f5f4,#f8f4f2,#f7f5f4,#f7f7f7,#f3f5f6,#f2f5f6,#f3f5f6,#f7f7f7,#f8f2ef,#f8f1ed,#f8f3f0,#f5f6f7,#edf2f5,#eaf1f5,#eff3f5,#f8f4f2,#f9ede5,#fae9df,#f9efe9,#f2f5f6,#e1edf3,#dbeaf2,#e6eff4,#f8f1ed,#fce0d0,#fdd9c4,#fbe6da,#edf2f5,#cae1ee,#b8d8e9,#d8e9f1,#f9ede5,#f8bfa4,#f6af8e,#fdddcb,#deebf2,#90c4dd,#7bb6d6,#c7e0ed,#fce2d2,#e6866a,#dd7059,#f9c4a9,#d4e6f1,#4c99c6,#3b88be,#a9d1e5,#fcd7c2,#cc4c44,#bf3338,#f6af8e,#c7e0ed,#2f79b5,#2369ad,#96c7df,#fbceb7,#bb2a34,#ae172a,#f4a683,#c0dceb,#2870b1,#1f63a8,#93c6de,#fbceb7,#ba2832,#bb2a34,#f8bb9e,#b6d7e8,#327cb7,#3480b9,#b6d7e8,#fbccb4,#d25849,#d55d4c,#fbceb7,#cae1ee,#5fa5cd,#65a9cf,#cfe4ef,#fdddcb,#ef9979,#f19e7d,#fcdfcf,#dbeaf2,#a2cde3,#a7d0e4,#deebf2,#fae7dc,#facab1,#fbd0b9,#faeae1,#e4eef4,#cce2ef,#cfe4ef,#e4eef4,#f8f2ef,#fae9df,#f9ede5,#f5f6f7,#e3edf3,#d8e9f1,#dae9f2,#e3edf3,#edf2f5,#f3f5f6,#f0f4f6,#e9f0f4,#e0ecf3,#dbeaf2,#ddebf2,#e0ecf3,#e6eff4,#e7f0f4,#e7f0f4,#e4eef4,#e1edf3,#e0ecf3,#e0ecf3,#e1edf3,#e3edf3,#e4eef4,#e4eef4,#e3edf3,#e1edf3,#e1edf3,#e1edf3,#e3edf3,#e3edf3,#e3edf3 720px)"></i>
<i style="left:205px;background:linear-gradient(#f7f7f7 192px,#f5f6f7,#f7f7f7,#f7f7f7,#f7f5f4,#f7f5f4,#f7f7f7,#f5f6f7,#f3f5f6,#f2f5f6,#f5f6f7,#f7f5f4,#f8f2ef,#f8f1ed,#f8f4f2,#f3f5f6,#ecf2f5,#ecf2f5,#f2f5f6,#f8f3f0,#f9ebe3,#faeae1,#f8f1ed,#eff3f5,#e0ecf3,#ddebf2,#ecf2f5,#f9eee7,#fcdecd,#fdddcb,#f9ebe3,#e6eff4,#c5dfec,#c0dceb,#e1edf3,#fbe6da,#f8bb9e,#f7b99c,#fbe6da,#d4e6f1,#8dc2dc,#8dc2dc,#dae9f2,#fcd3bc,#e48066,#e58368,#fcdecd,#bbdaea,#4393c3,#4c99c6,#cfe4ef,#f8bda1,#c84440,#ce4f45,#fcd3bc,#a5cee3,#2c75b4,#327cb7,#c2ddec,#f6af8e,#b82531,#bf3338,#fbccb4,#9dcbe1,#276eb0,#2f79b5,#c2ddec,#f6b191,#ba2832,#cc4c44,#fcdecd,#98c8e0,#327cb7,#4393c3,#d8e9f1,#f7b596,#d25849,#e17860,#fbe4d6,#b3d6e8,#5fa5cd,#81bad8,#e1edf3,#fbceb7,#ef9979,#f6af8e,#faeae1,#d1e5f0,#a5cee3,#b6d7e8,#e9f0f4,#fbe3d4,#fbccb4,#fdd9c4,#f8f1ed,#deebf2,#cce2ef,#d4e6f1,#eaf1f5,#f9f0eb,#faeae1,#f9f0eb,#f0f4f6,#e0ecf3,#d8e9f1,#dbeaf2,#e6eff4,#eff3f5,#f2f5f6,#edf2f5,#e6eff4,#deebf2,#dbeaf2,#ddebf2,#e1edf3,#e6eff4,#e7f0f4,#e6eff4,#e3edf3,#e0ecf3,#e0ecf3,#e0ecf3,#e1edf3,#e4eef4,#e4eef4,#e4eef4,#e3edf3,#e1edf3,#e1edf3,#e1edf3,#e3edf3,#e3edf3,#e3edf3 720px)"></i>
<i style="left:210px;background:linear-gradient(#f7f7f7 188px,#f5f6f7,#f5f6f7,#f7f7f7,#f7f7f7,#f7f5f4,#f7f5f4,#f7f7f7,#f5f6f7,#f3f5f6,#f3f5f6,#f7f7f7,#f8f4f2,#f8f2ef,#f8f2ef,#f7f5f4,#f2f5f6,#ecf2f5,#edf2f5,#f3f5f6,#f8f1ed,#f9ebe3,#f9ebe3,#f8f3f0,#ecf2f5,#e0ecf3,#e0ecf3,#f0f4f6,#faeae1,#fcdecd,#fcdfcf,#f9f0eb,#e0ecf3,#c5dfec,#cae1ee,#eaf1f5,#fce0d0,#f8bb9e,#f9c6ac,#f9efe9,#c7e0ed,#8dc2dc,#a0cce2,#e9f0f4,#f9c4a9,#e58368,#f09c7b,#faeae1,#a7d0e4,#4695c4,#6bacd1,#e4eef4,#f5a886,#cb4942,#dc6e57,#fae7dc,#8ac0db,#2f79b5,#4393c3,#e0ecf3,#ee9677,#bb2a34,#d35a4a,#fbe6da,#7eb8d7,#2a71b2,#408fc1,#e0ecf3,#ef9979,#bf3338,#de735c,#f9efe9,#7eb8d7,#3783bb,#6bacd1,#edf2f5,#f3a481,#d6604d,#ee9677,#f8f1ed,#a2cde3,#68abd0,#9bc9e0,#f0f4f6,#f9c4a9,#f19e7d,#f8bfa4,#f8f3f0,#c7e0ed,#a9d1e5,#c5dfec,#f2f5f6,#fcdfcf,#fbd0b9,#fcdfcf,#f7f7f7,#dbeaf2,#cfe4ef,#dae9f2,#eff3f5,#f9efe9,#f9ebe3,#f8f3f0,#ecf2f5,#deebf2,#d8e9f1,#deebf2,#e7f0f4,#eff3f5,#f0f4f6,#ecf2f5,#e4eef4,#deebf2,#dbeaf2,#deebf2,#e3edf3,#e6eff4,#e7f0f4,#e6eff4,#e3edf3,#e0ecf3,#e0ecf3,#e1edf3,#e3edf3,#e4eef4,#e4eef4,#e3edf3,#e3edf3,#e1edf3,#e1edf3,#e1edf3,#e3edf3,#e3edf3,#e3edf3 720px)"></i>
<i style="left:215px;background:linear-gradient(#f7f7f7 188px,#f5f6f7,#f7f7f7,#f7f7f7,#f7f7f7,#f7f5f4,#f7f5f4,#f7f7f7,#f5f6f7,#f3f5f6,#f3f5f6,#f7f7f7,#f8f4f2,#f8f2ef,#f8f3f0,#f7f7f7,#f2f5f6,#edf2f5,#edf2f5,#f7f7f7,#f9f0eb,#f9ebe3,#f9eee7,#f7f5f4,#eaf1f5,#e0ecf3,#e3edf3,#f5f6f7,#fae9df,#fcdfcf,#fbe3d4,#f8f4f2,#ddebf2,#c7e0ed,#d2e6f0,#f2f5f6,#fdddcb,#f8bda1,#fbd0b9,#f7f7f7,#c0dceb,#93c6de,#b1d5e7,#f5f6f7,#f8bb9e,#e8896c,#f6af8e,#f7f5f4,#9bc9e0,#529dc8,#8ac0db,#f5f6f7,#f09c7b,#d05548,#ea8e70,#f7f5f4,#78b4d5,#3480b9,#6bacd1,#f5f6f7,#e6866a,#c2383a,#e37e64,#f7f5f4,#6bacd1,#307ab6,#65a9cf,#f5f6f7,#e8896c,#c84440,#ee9677,#f0f4f6,#71b0d3,#3e8cbf,#90c4dd,#f8f2ef,#f09c7b,#dd7059,#f6b191,#f2f5f6,#9bc9e0,#75b2d4,#b1d5e7,#f8f3f0,#f8bfa4,#f5a886,#fbceb7,#f3f5f6,#c5dfec,#b1d5e7,#d2e6f0,#f7f5f4,#fdddcb,#fcd5bf,#fbe5d8,#f2f5f6,#dae9f2,#d2e6f0,#deebf2,#f2f5f6,#f9efe9,#f9eee7,#f7f5f4,#e9f0f4,#ddebf2,#dae9f2,#e0ecf3,#e9f0f4,#eff3f5,#eff3f5,#eaf1f5,#e3edf3,#ddebf2,#ddebf2,#e0ecf3,#e3edf3,#e6eff4,#e6eff4,#e4eef4,#e1edf3,#e0ecf3,#e0ecf3,#e1edf3,#e3edf3,#e4eef4,#e4eef4,#e3edf3,#e3edf3,#e1edf3,#e1edf3,#e1edf3,#e3edf3,#e3edf3,#e3edf3 720px)"></i>
<i style="left:220px;background:linear-gradient(#f7f7f7 204px,#f7f5f4,#f7f5f4,#f7f7f7,#f5f6f7,#f3f5f6,#f3f5f6,#f7f7f7,#f8f4f2,#f8f2ef,#f8f3f0,#f7f7f7,#f0f4f6,#edf2f5,#eff3f5,#f7f7f7,#f9f0eb,#f9ebe3,#f9efe9,#f7f7f7,#e9f0f4,#e1edf3,#e6eff4,#f7f7f7,#fae8de,#fce0d0,#fbe6da,#f7f7f7,#dae9f2,#cae1ee,#d8e9f1,#f7f7f7,#fddbc7,#f9c2a7,#fddbc7,#f0f4f6,#bbdaea,#9bc9e0,#c2ddec,#f8f1ed,#f7b799,#ec9374,#f9c2a7,#edf2f5,#93c6de,#5fa5cd,#a2cde3,#f9efe9,#ec9374,#d7634f,#f5a886,#eaf1f5,#6eaed2,#3c8abe,#8dc2dc,#f9eee7,#e37e64,#cb4942,#f19e7d,#eaf1f5,#62a7ce,#3885bc,#8ac0db,#f9eee7,#e58368,#d25849,#f6b191,#e3edf3,#6eaed2,#4c99c6,#a9d1e5,#fae9df,#ee9677,#e48066,#f9c4a9,#e7f0f4,#98c8e0,#87beda,#c5dfec,#f9ede5,#f8bda1,#f6b394,#fddcc9,#ecf2f5,#c2ddec,#b8d8e9,#dae9f2,#f8f1ed,#fdddcb,#fddbc7,#fae9df,#edf2f5,#d8e9f1,#d5e7f1,#e1edf3,#f5f6f7,#f9efe9,#f9f0eb,#f7f7f7,#e7f0f4,#ddebf2,#dbeaf2,#e1edf3,#eaf1f5,#eff3f5,#eff3f5,#e9f0f4,#e1edf3,#ddebf2,#ddebf2,#e0ecf3,#e4eef4,#e6eff4,#e6eff4,#e4eef4,#e1edf3,#e0ecf3,#e0ecf3,#e1edf3,#e3edf3,#e4eef4,#e4eef4,#e3edf3,#e3edf3,#e1edf3,#e1edf3,#e3edf3 708px,#e3edf3 720px)"></i>
<i style="left:225px;background:linear-gradient(#f7f7f7 200px,#f7f5f4,#f7f5f4,#f7f5f4,#f7f7f7,#f5f6f7,#f3f5f6,#f5f6f7,#f7f7f7,#f8f4f2,#f8f2ef,#f8f4f2,#f7f7f7,#f0f4f6,#edf2f5,#f0f4f6,#f7f5f4,#f9f0eb,#f9ede5,#f9f0eb,#f5f6f7,#e7f0f4,#e3edf3,#eaf1f5,#f8f4f2,#fae7dc,#fce2d2,#fae9df,#f2f5f6,#dae9f2,#cfe4ef,#ddebf2,#f8f2ef,#fdd9c4,#fac8af,#fce2d2,#eaf1f5,#b8d8e9,#a5cee3,#d2e6f0,#f9ebe3,#f7b596,#f2a17f,#fcd3bc,#e3edf3,#90c4dd,#71b0d3,#bbdaea,#fae7dc,#eb9172,#df765e,#f8bfa4,#deebf2,#6bacd1,#4997c5,#a9d1e5,#fbe4d6,#e27b62,#d55d4c,#f7b799,#ddebf2,#62a7ce,#4393c3,#a9d1e5,#fbe4d6,#e48066,#dc6e57,#fac8af,#d7e8f1,#6eaed2,#65a9cf,#c2ddec,#fce2d2,#ef9979,#eb9172,#fcd7c2,#deebf2,#9bc9e0,#96c7df,#d5e7f1,#fae8de,#f8bda1,#f8bb9e,#fbe3d4,#e6eff4,#c2ddec,#c2ddec,#e1edf3,#f9eee7,#fcdecd,#fcdecd,#f9eee7,#eaf1f5,#d8e9f1,#d8e9f1,#e4eef4,#f7f7f7,#f9f0eb,#f8f1ed,#f3f5f6,#e4eef4,#ddebf2,#ddebf2,#e3edf3,#eaf1f5,#eff3f5,#edf2f5,#e7f0f4,#e1edf3,#ddebf2,#deebf2,#e1edf3,#e4eef4,#e6eff4,#e6eff4,#e4eef4,#e1edf3,#e0ecf3,#e0ecf3,#e1edf3,#e3edf3,#e4eef4,#e4eef4,#e3edf3,#e1edf3,#e1edf3,#e1edf3,#e3edf3 708px,#e3edf3 720px)"></i>
<i style="left:230px;background:linear-gradient(#f7f7f7 200px,#f7f5f4,#f7f5f4,#f7f7f7,#f7f7f7,#f5f6f7,#f3f5f6,#f5f6f7,#f7f7f7,#f8f4f2,#f8f3f0,#f8f4f2,#f5f6f7,#f0f4f6,#eff3f5,#f2f5f6,#f8f4f2,#f9efe9,#f9eee7,#f8f2ef,#f3f5f6,#e7f0f4,#e4eef4,#edf2f5,#f8f2ef,#fae7dc,#fbe4d6,#f9ede5,#eff3f5,#d8e9f1,#d4e6f1,#e4eef4,#f9efe9,#fdd9c4,#fbceb7,#fae7dc,#e4eef4,#b8d8e9,#b1d5e7,#ddebf2,#fbe6da,#f7b596,#f6af8e,#fcdfcf,#dbeaf2,#90c4dd,#87beda,#d2e6f0,#fcdfcf,#eb9172,#e8896c,#fcd7c2,#d4e6f1,#6bacd1,#65a9cf,#c7e0ed,#fddbc7,#e37e64,#df765e,#fbd0b9,#d1e5f0,#62a7ce,#5fa5cd,#c7e0ed,#fddcc9,#e58368,#e6866a,#fdddcb,#cae1ee,#71b0d3,#7eb8d7,#d7e8f1,#fddbc7,#f09c7b,#f4a683,#fbe3d4,#d7e8f1,#9dcbe1,#a7d0e4,#e0ecf3,#fbe3d4,#f8bfa4,#fac8af,#fae9df,#e1edf3,#c5dfec,#cce2ef,#e9f0f4,#f9ebe3,#fcdfcf,#fce2d2,#f8f1ed,#e7f0f4,#d8e9f1,#dbeaf2,#e9f0f4,#f7f7f7,#f9f0eb,#f8f3f0,#f0f4f6,#e3edf3,#ddebf2,#deebf2,#e4eef4,#eaf1f5,#edf2f5,#ecf2f5,#e6eff4,#e0ecf3,#ddebf2,#deebf2,#e1edf3,#e4eef4,#e6eff4,#e6eff4,#e3edf3,#e1edf3,#e0ecf3,#e1edf3,#e1edf3,#e3edf3,#e4eef4,#e3edf3,#e3edf3,#e1edf3,#e1edf3,#e1edf3,#e3edf3 708px,#e3edf3 720px)"></i>
<i style="left:235px;background:linear-gradient(#f7f7f7 200px,#f7f5f4,#f7f5f4,#f7f7f7,#f7f7f7,#f5f6f7,#f3f5f6,#f7f7f7,#f7f5f4,#f8f4f2,#f8f3f0,#f7f5f4,#f5f6f7,#f0f4f6,#f0f4f6,#f3f5f6,#f8f4f2,#f9f0eb,#f9efe9,#f8f3f0,#f0f4f6,#e7f0f4,#e7f0f4,#f0f4f6,#f8f1ed,#fae7dc,#fbe6da,#f9f0eb,#eaf1f5,#dae9f2,#d8e9f1,#eaf1f5,#f9ebe3,#fdd9c4,#fcd7c2,#f9eee7,#deebf2,#bbdaea,#c0dceb,#e7f0f4,#fce0d0,#f7b799,#f8bb9e,#fae8de,#d2e6f0,#96c7df,#9dcbe1,#e0ecf3,#fcd7c2,#ee9677,#f2a17f,#fbe5d8,#c5dfec,#71b0d3,#81bad8,#ddebf2,#fbccb4,#e58368,#eb9172,#fbe3d4,#c0dceb,#68abd0,#7eb8d7,#ddebf2,#fbceb7,#e8896c,#f2a17f,#fae9df,#bddbea,#7bb6d6,#98c8e0,#e6eff4,#fbd0b9,#f3a481,#f7b799,#f9ede5,#cfe4ef,#a2cde3,#b8d8e9,#eaf1f5,#fcdfcf,#f9c4a9,#fcd3bc,#f9f0eb,#ddebf2,#cae1ee,#d5e7f1,#eff3f5,#fae9df,#fce0d0,#fbe6da,#f7f5f4,#e4eef4,#dae9f2,#deebf2,#ecf2f5,#f7f5f4,#f8f1ed,#f7f5f4,#edf2f5,#e1edf3,#ddebf2,#e0ecf3,#e6eff4,#ecf2f5,#edf2f5,#eaf1f5,#e4eef4,#e0ecf3,#deebf2,#deebf2,#e1edf3,#e4eef4,#e6eff4,#e4eef4,#e3edf3,#e1edf3,#e0ecf3,#e1edf3,#e3edf3,#e3edf3,#e4eef4,#e3edf3,#e3edf3,#e1edf3,#e1edf3,#e1edf3,#e3edf3 708px,#e3edf3 720px)"></i>
<i style="left:240px;background:linear-gradient(#f7f7f7 200px,#f7f5f4,#f7f5f4,#f7f7f7,#f7f7f7,#f5f6f7,#f5f6f7,#f7f7f7,#f7f5f4,#f8f4f2,#f8f4f2,#f7f7f7,#f3f5f6,#f0f4f6,#f2f5f6,#f7f7f7,#f8f3f0,#f9f0eb,#f9f0eb,#f7f5f4,#eff3f5,#e9f0f4,#eaf1f5,#f5f6f7,#f9efe9,#fae8de,#fae9df,#f8f4f2,#e7f0f4,#dbeaf2,#deebf2,#f2f5f6,#fae8de,#fddbc7,#fcdecd,#f8f4f2,#dae9f2,#c0dceb,#cfe4ef,#f2f5f6,#fddcc9,#f8bda1,#fbccb4,#f8f2ef,#cae1ee,#9dcbe1,#b3d6e8,#f0f4f6,#fbccb4,#f2a17f,#f7b799,#f8f1ed,#b6d7e8,#7eb8d7,#a0cce2,#eff3f5,#f8bfa4,#e98b6e,#f6af8e,#f8f1ed,#b1d5e7,#75b2d4,#9dcbe1,#eff3f5,#f9c2a7,#eb9172,#f7b99c,#f7f5f4,#b1d5e7,#8ac0db,#b3d6e8,#f7f7f7,#fac8af,#f5ac8b,#facab1,#f7f7f7,#c7e0ed,#acd2e5,#cae1ee,#f7f7f7,#fddcc9,#facab1,#fcdecd,#f7f7f7,#dae9f2,#cfe4ef,#dbeaf2,#f7f7f7,#fae7dc,#fbe3d4,#faeae1,#f3f5f6,#e1edf3,#dbeaf2,#e1edf3,#eff3f5,#f8f4f2,#f8f3f0,#f5f6f7,#eaf1f5,#e1edf3,#deebf2,#e1edf3,#e7f0f4,#ecf2f5,#ecf2f5,#e9f0f4,#e3edf3,#e0ecf3,#deebf2,#e0ecf3,#e3edf3,#e4eef4,#e6eff4,#e4eef4,#e3edf3,#e1edf3,#e1edf3,#e1edf3,#e3edf3 676px,#e3edf3 692px,#e1edf3,#e1edf3,#e1edf3,#e3edf3 708px,#e3edf3 720px)"></i>
<i style="left:245px;background:linear-gradient(#f7f7f7 212px,#f5f6f7,#f5f6f7,#f5f6f7,#f7f7f7,#f7f5f4,#f8f4f2,#f7f5f4,#f7f7f7,#f3f5f6,#f0f4f6,#f3f5f6,#f7f7f7,#f8f2ef,#f9f0eb,#f8f2ef,#f7f7f7,#edf2f5,#eaf1f5,#edf2f5,#f7f7f7,#f9eee7,#fae9df,#f9ede5,#f7f7f7,#e4eef4,#ddebf2,#e4eef4,#f7f5f4,#fbe5d8,#fdddcb,#fbe5d8,#f2f5f6,#d5e7f1,#c7e0ed,#dae9f2,#f8f2ef,#fcd7c2,#f9c4a9,#fdddcb,#f0f4f6,#c0dceb,#a7d0e4,#cce2ef,#f8f1ed,#f9c2a7,#f5aa89,#fbd0b9,#eff3f5,#acd2e5,#8dc2dc,#bddbea,#f9f0eb,#f7b799,#f09c7b,#fac8af,#edf2f5,#a5cee3,#84bcd9,#bbdaea,#f9f0eb,#f7b799,#f19e7d,#fcd3bc,#e9f0f4,#a9d1e5,#98c8e0,#cfe4ef,#f9ede5,#f9c2a7,#f7b596,#fdddcb,#ecf2f5,#c0dceb,#b6d7e8,#dae9f2,#f9f0eb,#fcd7c2,#fbd0b9,#fbe5d8,#eff3f5,#d7e8f1,#d4e6f1,#e4eef4,#f8f3f0,#fbe6da,#fbe5d8,#f9efe9,#eff3f5,#e0ecf3,#ddebf2,#e6eff4,#f3f5f6,#f8f4f2,#f8f4f2,#f2f5f6,#e7f0f4,#e0ecf3,#deebf2,#e3edf3,#e9f0f4,#ecf2f5,#eaf1f5,#e7f0f4,#e1edf3,#deebf2,#deebf2,#e1edf3,#e3edf3,#e4eef4,#e4eef4,#e3edf3,#e1edf3 660px,#e1edf3 672px,#e3edf3 676px,#e3edf3 692px,#e1edf3,#e1edf3,#e3edf3 704px,#e3edf3 720px)"></i>
<i style="left:250px;background:linear-gradient(#f7f7f7 212px,#f5f6f7,#f5f6f7,#f7f7f7,#f7f7f7,#f7f5f4,#f8f4f2,#f7f5f4,#f7f7f7,#f2f5f6,#f2f5f6,#f5f6f7,#f7f5f4,#f8f2ef,#f8f1ed,#f8f4f2,#f3f5f6,#edf2f5,#ecf2f5,#f0f4f6,#f8f3f0,#f9ede5,#faeae1,#f8f1ed,#f0f4f6,#e3edf3,#e0ecf3,#eaf1f5,#f8f1ed,#fbe4d6,#fce0d0,#f9ebe3,#eaf1f5,#d4e6f1,#d1e5f0,#e6eff4,#faeae1,#fcd3bc,#fbceb7,#fae7dc,#e3edf3,#bbdaea,#b3d6e8,#ddebf2,#fae7dc,#f8bda1,#f7b799,#fce2d2,#deebf2,#a5cee3,#9dcbe1,#d8e9f1,#fbe4d6,#f6af8e,#f5aa89,#fcdfcf,#ddebf2,#9dcbe1,#98c8e0,#d7e8f1,#fbe4d6,#f6b191,#f6af8e,#fbe4d6,#dae9f2,#a2cde3,#a9d1e5,#e0ecf3,#fbe3d4,#f8bda1,#f9c2a7,#fae8de,#e0ecf3,#bbdaea,#c2ddec,#e6eff4,#fae8de,#fcd5bf,#fdd9c4,#f9ede5,#e7f0f4,#d5e7f1,#d8e9f1,#ecf2f5,#f9efe9,#fbe5d8,#fae7dc,#f8f3f0,#e9f0f4,#deebf2,#e0ecf3,#eaf1f5,#f7f7f7,#f8f3f0,#f7f7f7,#eff3f5,#e4eef4,#e0ecf3,#e0ecf3,#e4eef4,#eaf1f5,#ecf2f5,#eaf1f5,#e6eff4,#e1edf3,#deebf2,#e0ecf3,#e1edf3,#e4eef4,#e6eff4,#e4eef4,#e3edf3,#e1edf3,#e1edf3,#e1edf3,#e3edf3 672px,#e3edf3 688px,#e1edf3,#e1edf3,#e1edf3,#e3edf3 704px,#e3edf3 720px)"></i>
<i style="left:255px;background:linear-gradient(#f7f7f7 212px,#f5f6f7,#f5f6f7,#f7f7f7,#f7f5f4,#f8f4f2,#f7f5f4,#f7f7f7,#f5f6f7,#f2f5f6,#f3f5f6,#f7f7f7,#f8f4f2,#f8f2ef,#f8f2ef,#f7f5f4,#f2f5f6,#ecf2f5,#edf2f5,#f5f6f7,#f8f1ed,#f9ebe3,#f9ede5,#f8f4f2,#ecf2f5,#e1edf3,#e3edf3,#f2f5f6,#f9ede5,#fbe3d4,#fbe4d6,#f8f1ed,#e3edf3,#d2e6f0,#d7e8f1,#f0f4f6,#fbe5d8,#fbd0b9,#fdd9c4,#f8f1ed,#d8e9f1,#b8d8e9,#c2ddec,#edf2f5,#fcdecd,#f8bb9e,#f9c6ac,#f9eee7,#d1e5f0,#a0cce2,#b1d5e7,#eaf1f5,#fdd9c4,#f5ac8b,#f8bb9e,#f9ede5,#cce2ef,#98c8e0,#acd2e5,#e9f0f4,#fdd9c4,#f6af8e,#f8bda1,#f8f1ed,#cae1ee,#a2cde3,#bbdaea,#eff3f5,#fddbc7,#f8bda1,#fbd0b9,#f8f2ef,#d5e7f1,#bbdaea,#cfe4ef,#f2f5f6,#fbe3d4,#fcd5bf,#fcdfcf,#f8f4f2,#e0ecf3,#d4e6f1,#ddebf2,#f3f5f6,#faeae1,#fbe5d8,#faeae1,#f7f7f7,#e6eff4,#deebf2,#e3edf3,#edf2f5,#f7f7f7,#f8f3f0,#f5f6f7,#ecf2f5,#e3edf3,#deebf2,#e1edf3,#e6eff4,#eaf1f5,#ecf2f5,#e9f0f4,#e4eef4,#e0ecf3,#deebf2,#e0ecf3,#e3edf3,#e4eef4,#e6eff4,#e4eef4,#e3edf3,#e1edf3,#e1edf3,#e1edf3,#e3edf3 672px,#e3edf3 688px,#e1edf3,#e1edf3,#e1edf3,#e3edf3 704px,#e3edf3 720px)"></i>
<i style="left:260px;background:linear-gradient(#f7f7f7 212px,#f5f6f7,#f7f7f7,#f7f7f7,#f7f5f4,#f7f5f4,#f7f5f4,#f7f7f7,#f3f5f6,#f2f5f6,#f3f5f6,#f7f7f7,#f8f3f0,#f8f2ef,#f8f3f0,#f7f7f7,#f0f4f6,#ecf2f5,#eff3f5,#f7f7f7,#f9f0eb,#f9ebe3,#f9efe9,#f7f7f7,#e9f0f4,#e3edf3,#e7f0f4,#f7f7f7,#fae9df,#fbe3d4,#fae7dc,#f7f7f7,#deebf2,#d4e6f1,#deebf2,#f7f5f4,#fce0d0,#fcd3bc,#fce0d0,#f5f6f7,#d2e6f0,#b8d8e9,#d2e6f0,#f7f5f4,#fcd5bf,#f8bb9e,#fcd5bf,#f5f6f7,#c2ddec,#a2cde3,#c5dfec,#f7f5f4,#facab1,#f6af8e,#fbccb4,#f7f7f7,#bbdaea,#9bc9e0,#c0dceb,#f7f7f7,#facab1,#f6af8e,#fbceb7,#f0f4f6,#bddbea,#a7d0e4,#cce2ef,#f8f3f0,#fbd0b9,#f8bfa4,#fddcc9,#f2f5f6,#cfe4ef,#bddbea,#d8e9f1,#f8f4f2,#fcdecd,#fcd7c2,#fbe4d6,#f3f5f6,#dbeaf2,#d5e7f1,#e3edf3,#f7f5f4,#fae8de,#fbe6da,#f9eee7,#f2f5f6,#e3edf3,#deebf2,#e6eff4,#f0f4f6,#f7f5f4,#f8f4f2,#f3f5f6,#e9f0f4,#e1edf3,#e0ecf3,#e3edf3,#e7f0f4,#ecf2f5,#eaf1f5,#e7f0f4,#e3edf3,#e0ecf3,#deebf2,#e0ecf3,#e3edf3,#e4eef4,#e4eef4,#e4eef4,#e1edf3 656px,#e1edf3 668px,#e3edf3 672px,#e3edf3 688px,#e1edf3,#e1edf3,#e3edf3 700px,#e3edf3 720px)"></i>
<i style="left:265px;background:linear-gradient(#f7f7f7 212px,#f5f6f7,#f7f7f7,#f7f7f7,#f7f5f4,#f7f5f4,#f7f5f4,#f7f7f7,#f3f5f6,#f3f5f6,#f5f6f7,#f7f7f7,#f8f3f0,#f8f2ef,#f8f4f2,#f5f6f7,#eff3f5,#edf2f5,#f0f4f6,#f7f5f4,#f9efe9,#f9ede5,#f8f1ed,#f3f5f6,#e7f0f4,#e4eef4,#eaf1f5,#f8f4f2,#fae8de,#fbe4d6,#faeae1,#f2f5f6,#dbeaf2,#d5e7f1,#e4eef4,#f8f1ed,#fcdecd,#fcd7c2,#fbe6da,#edf2f5,#cfe4ef,#c0dceb,#dae9f2,#f9efe9,#fbd0b9,#f9c2a7,#fcdfcf,#ecf2f5,#bddbea,#acd2e5,#d4e6f1,#f9efe9,#f9c6ac,#f7b596,#fddbc7,#ecf2f5,#b6d7e8,#a5cee3,#d1e5f0,#f9efe9,#f9c6ac,#f7b799,#fddcc9,#e7f0f4,#b8d8e9,#aed3e6,#d8e9f1,#f9ede5,#fbccb4,#f9c6ac,#fbe3d4,#eaf1f5,#cae1ee,#c5dfec,#e0ecf3,#f9f0eb,#fdddcb,#fddbc7,#fae9df,#eff3f5,#dae9f2,#d8e9f1,#e7f0f4,#f8f3f0,#fae8de,#fae7dc,#f8f1ed,#eff3f5,#e1edf3,#e0ecf3,#e7f0f4,#f3f5f6,#f7f5f4,#f7f5f4,#f0f4f6,#e7f0f4,#e0ecf3,#e0ecf3,#e3edf3,#e9f0f4,#ecf2f5,#eaf1f5,#e6eff4,#e1edf3,#deebf2,#deebf2,#e1edf3,#e3edf3,#e4eef4,#e4eef4,#e3edf3,#e1edf3 656px,#e1edf3 668px,#e3edf3 672px,#e3edf3 688px,#e1edf3,#e1edf3,#e3edf3 700px,#e3edf3 720px)"></i>
<i style="left:270px;background:linear-gradient(#f7f7f7 224px,#f7f5f4,#f7f5f4,#f7f7f7,#f7f7f7,#f3f5f6,#f3f5f6,#f5f6f7,#f7f7f7,#f8f3f0,#f8f3f0,#f8f4f2,#f5f6f7,#f0f4f6,#eff3f5,#f2f5f6,#f7f5f4,#f9f0eb,#f9eee7,#f8f2ef,#f3f5f6,#e9f0f4,#e6eff4,#edf2f5,#f8f3f0,#fae9df,#fbe6da,#f9eee7,#f0f4f6,#ddebf2,#dae9f2,#e9f0f4,#f9f0eb,#fcdfcf,#fdddcb,#fae9df,#ecf2f5,#d1e5f0,#cae1ee,#e1edf3,#f9eee7,#fcd5bf,#fbccb4,#fbe4d6,#e9f0f4,#c2ddec,#b8d8e9,#dbeaf2,#f9ede5,#facab1,#f9c2a7,#fce2d2,#e7f0f4,#bbdaea,#b1d5e7,#d8e9f1,#f9ede5,#facab1,#f9c2a7,#fce2d2,#e4eef4,#bddbea,#bbdaea,#e0ecf3,#f9ebe3,#fbd0b9,#fbd0b9,#fae7dc,#e9f0f4,#cfe4ef,#cfe4ef,#e4eef4,#f9eee7,#fcdfcf,#fcdecd,#f9ede5,#edf2f5,#ddebf2,#ddebf2,#eaf1f5,#f8f2ef,#fae9df,#fae9df,#f8f3f0,#edf2f5,#e3edf3,#e1edf3,#e9f0f4,#f3f5f6,#f7f5f4,#f7f7f7,#eff3f5,#e6eff4,#e1edf3,#e1edf3,#e4eef4,#e9f0f4,#eaf1f5,#e9f0f4,#e6eff4,#e1edf3,#e0ecf3,#e0ecf3,#e1edf3,#e3edf3,#e4eef4,#e4eef4,#e3edf3,#e1edf3 656px,#e1edf3 668px,#e3edf3 672px,#e3edf3 688px,#e1edf3,#e1edf3,#e3edf3 700px,#e3edf3 720px)"></i>
<i style="left:275px;background:linear-gradient(#f7f7f7 224px,#f7f5f4,#f7f5f4,#f7f7f7,#f7f7f7,#f5f6f7,#f3f5f6,#f5f6f7,#f7f7f7,#f8f4f2,#f8f3f0,#f7f5f4,#f5f6f7,#f2f5f6,#f0f4f6,#f3f5f6,#f7f5f4,#f8f1ed,#f9f0eb,#f8f3f0,#f5f6f7,#ecf2f5,#e9f0f4,#eff3f5,#f8f4f2,#f9ebe3,#fae9df,#f9efe9,#f3f5f6,#e3edf3,#deebf2,#eaf1f5,#f8f2ef,#fbe5d8,#fce2d2,#f9ebe3,#eff3f5,#d8e9f1,#d4e6f1,#e4eef4,#f9f0eb,#fdddcb,#fdd9c4,#fae7dc,#edf2f5,#d1e5f0,#c7e0ed,#deebf2,#f9efe9,#fdd9c4,#fbceb7,#fbe4d6,#ecf2f5,#cce2ef,#c2ddec,#ddebf2,#f9f0eb,#fdd9c4,#fbd0b9,#fbe5d8,#eaf1f5,#cfe4ef,#cae1ee,#e3edf3,#f9eee7,#fddcc9,#fddbc7,#fae9df,#ecf2f5,#d8e9f1,#d7e8f1,#e7f0f4,#f9f0eb,#fbe4d6,#fbe3d4,#f9eee7,#eff3f5,#e1edf3,#e1edf3,#ecf2f5,#f8f3f0,#f9ede5,#f9ede5,#f8f4f2,#eff3f5,#e6eff4,#e4eef4,#eaf1f5,#f2f5f6,#f7f7f7,#f5f6f7,#eff3f5,#e7f0f4,#e3edf3,#e1edf3,#e4eef4,#e7f0f4,#e9f0f4,#e9f0f4,#e4eef4,#e1edf3,#e0ecf3,#e0ecf3,#e1edf3,#e3edf3,#e4eef4,#e4eef4,#e3edf3,#e1edf3 656px,#e1edf3 668px,#e3edf3 672px,#e3edf3 688px,#e1edf3,#e1edf3,#e3edf3 700px,#e3edf3 720px)"></i>
<i style="left:280px;background:linear-gradient(#f7f7f7 228px,#f7f5f4,#f7f7f7,#f7f7f7,#f5f6f7,#f5f6f7,#f5f6f7,#f7f7f7,#f7f5f4,#f8f4f2,#f7f5f4,#f7f7f7,#f3f5f6,#f2f5f6,#f3f5f6,#f7f7f7,#f8f3f0,#f8f1ed,#f8f2ef,#f7f7f7,#f0f4f6,#ecf2f5,#eff3f5,#f7f7f7,#f9f0eb,#f9ede5,#f9efe9,#f7f7f7,#eaf1f5,#e4eef4,#e9f0f4,#f7f7f7,#f9ebe3,#fbe6da,#faeae1,#f7f7f7,#e4eef4,#dbeaf2,#e3edf3,#f7f7f7,#fae7dc,#fcdfcf,#fbe6da,#f7f7f7,#e0ecf3,#d4e6f1,#ddebf2,#f7f7f7,#fbe5d8,#fddcc9,#fbe4d6,#f7f7f7,#deebf2,#d2e6f0,#ddebf2,#f7f7f7,#fbe5d8,#fdddcb,#fbe4d6,#f7f7f7,#deebf2,#d5e7f1,#e1edf3,#f7f7f7,#fbe6da,#fce2d2,#fae9df,#f7f7f7,#e3edf3,#deebf2,#e7f0f4,#f7f7f7,#faeae1,#fae7dc,#f9eee7,#f7f7f7,#e9f0f4,#e6eff4,#ecf2f5,#f7f7f7,#f8f1ed,#f9f0eb,#f8f4f2,#f2f5f6,#e9f0f4,#e7f0f4,#eaf1f5,#eff3f5,#f3f5f6,#f3f5f6,#edf2f5,#e9f0f4,#e4eef4,#e3edf3,#e4eef4,#e6eff4,#e7f0f4,#e7f0f4,#e4eef4,#e3edf3,#e1edf3,#e0ecf3,#e1edf3,#e3edf3,#e4eef4,#e4eef4,#e3edf3,#e3edf3,#e1edf3,#e1edf3,#e1edf3,#e3edf3 672px,#e3edf3 720px)"></i>
<i style="left:285px;background:linear-gradient(#f7f7f7 244px,#f5f6f7,#f5f6f7,#f7f7f7,#f7f7f7,#f7f5f4,#f8f4f2,#f7f5f4,#f7f7f7,#f3f5f6,#f2f5f6,#f3f5f6,#f7f7f7,#f8f3f0,#f8f1ed,#f8f3f0,#f5f6f7,#eff3f5,#ecf2f5,#f0f4f6,#f7f5f4,#f9efe9,#f9ede5,#f8f1ed,#f3f5f6,#e9f0f4,#e6eff4,#edf2f5,#f8f4f2,#faeae1,#fae7dc,#f9eee7,#f2f5f6,#e3edf3,#ddebf2,#e7f0f4,#f8f3f0,#fbe6da,#fce2d2,#faeae1,#f2f5f6,#deebf2,#d8e9f1,#e4eef4,#f8f3f0,#fbe4d6,#fcdfcf,#fae9df,#f2f5f6,#ddebf2,#d7e8f1,#e4eef4,#f8f3f0,#fbe5d8,#fce0d0,#f9ebe3,#f0f4f6,#deebf2,#dbeaf2,#e9f0f4,#f8f2ef,#fae7dc,#fbe6da,#f9efe9,#f2f5f6,#e4eef4,#e3edf3,#edf2f5,#f8f3f0,#f9ebe3,#f9ebe3,#f8f2ef,#f3f5f6,#eaf1f5,#eaf1f5,#f0f4f6,#f7f7f7,#f8f2ef,#f8f3f0,#f7f7f7,#eff3f5,#e9f0f4,#e9f0f4,#ecf2f5,#eff3f5,#f0f4f6,#eff3f5,#eaf1f5,#e6eff4,#e4eef4,#e3edf3,#e4eef4,#e6eff4,#e6eff4,#e6eff4,#e3edf3,#e1edf3,#e1edf3,#e1edf3,#e3edf3 640px,#e3edf3 660px,#e1edf3,#e1edf3,#e3edf3 672px,#e3edf3 720px)"></i>
<i style="left:290px;background:linear-gradient(#f7f7f7 232px,#f7f5f4,#f7f5f4,#f7f7f7,#f7f7f7,#f3f5f6,#f3f5f6,#f7f7f7,#f7f5f4,#f8f3f0,#f8f3f0,#f7f5f4,#f3f5f6,#f0f4f6,#f0f4f6,#f5f6f7,#f8f4f2,#f9f0eb,#f9f0eb,#f8f4f2,#f2f5f6,#e9f0f4,#e9f0f4,#f2f5f6,#f8f1ed,#faeae1,#fae9df,#f8f3f0,#ecf2f5,#e0ecf3,#e0ecf3,#eff3f5,#f9eee7,#fce2d2,#fbe3d4,#f9f0eb,#e7f0f4,#d5e7f1,#d7e8f1,#ecf2f5,#faeae1,#fddbc7,#fddcc9,#f9ede5,#e4eef4,#cfe4ef,#cfe4ef,#e9f0f4,#fae9df,#fcd7c2,#fdd9c4,#f9ebe3,#e4eef4,#cce2ef,#cfe4ef,#e9f0f4,#faeae1,#fddbc7,#fdddcb,#f9efe9,#e4eef4,#d4e6f1,#d7e8f1,#edf2f5,#f9ebe3,#fce0d0,#fbe3d4,#f8f1ed,#eaf1f5,#ddebf2,#e1edf3,#f0f4f6,#f9efe9,#fae8de,#faeae1,#f8f3f0,#edf2f5,#e6eff4,#e9f0f4,#f0f4f6,#f8f4f2,#f8f2ef,#f8f4f2,#f3f5f6,#ecf2f5,#e7f0f4,#e7f0f4,#eaf1f5,#eff3f5,#f0f4f6,#edf2f5,#e9f0f4,#e4eef4,#e3edf3,#e3edf3,#e4eef4,#e6eff4,#e6eff4,#e4eef4,#e3edf3,#e1edf3,#e1edf3,#e1edf3,#e3edf3 644px,#e3edf3 660px,#e1edf3,#e1edf3,#e1edf3,#e3edf3 676px,#e3edf3 720px)"></i>
<i style="left:295px;background:linear-gradient(#f7f7f7 216px,#f5f6f7,#f5f6f7,#f7f7f7,#f7f7f7,#f7f5f4,#f8f4f2,#f7f5f4,#f7f7f7,#f3f5f6,#f2f5f6,#f5f6f7,#f7f5f4,#f8f2ef,#f8f2ef,#f8f4f2,#f5f6f7,#eff3f5,#ecf2f5,#f0f4f6,#f8f4f2,#f9eee7,#f9ebe3,#f8f1ed,#f3f5f6,#e6eff4,#e1edf3,#eaf1f5,#f8f3f0,#fbe6da,#fbe3d4,#f9ede5,#edf2f5,#d8e9f1,#d4e6f1,#e4eef4,#f9efe9,#fddcc9,#fcd5bf,#fbe6da,#eaf1f5,#cae1ee,#bddbea,#dbeaf2,#f9eee7,#fbceb7,#f9c2a7,#fce0d0,#e9f0f4,#bbdaea,#aed3e6,#d7e8f1,#f9eee7,#fac8af,#f8bb9e,#fcdecd,#eaf1f5,#bbdaea,#aed3e6,#d5e7f1,#f9efe9,#fbccb4,#f9c4a9,#fbe3d4,#e9f0f4,#c5dfec,#c0dceb,#deebf2,#f9eee7,#fdd9c4,#fcd5bf,#fae7dc,#edf2f5,#d7e8f1,#d4e6f1,#e6eff4,#f8f1ed,#fbe4d6,#fbe3d4,#f9eee7,#f0f4f6,#e3edf3,#e0ecf3,#eaf1f5,#f7f7f7,#f9f0eb,#f9f0eb,#f7f7f7,#ecf2f5,#e4eef4,#e3edf3,#e7f0f4,#edf2f5,#f2f5f6,#f0f4f6,#eaf1f5,#e4eef4,#e1edf3,#e0ecf3,#e3edf3,#e4eef4,#e6eff4,#e6eff4,#e4eef4,#e1edf3,#e0ecf3,#e1edf3,#e1edf3,#e3edf3,#e4eef4,#e3edf3,#e3edf3,#e3edf3,#e1edf3,#e1edf3,#e3edf3 676px,#e3edf3 720px)"></i>
<i style="left:300px;background:linear-gradient(#f7f7f7 204px,#f7f5f4,#f7f7f7,#f7f7f7,#f5f6f7,#f5f6f7,#f5f6f7,#f7f7f7,#f8f4f2,#f8f4f2,#f7f5f4,#f7f7f7,#f2f5f6,#f0f4f6,#f3f5f6,#f7f5f4,#f8f2ef,#f9f0eb,#f8f2ef,#f5f6f7,#ecf2f5,#e9f0f4,#edf2f5,#f7f5f4,#f9ebe3,#fae8de,#f9eee7,#f3f5f6,#e1edf3,#dbeaf2,#e4eef4,#f8f3f0,#fbe3d4,#fddcc9,#fae7dc,#eff3f5,#d2e6f0,#c5dfec,#dbeaf2,#f9f0eb,#fbd0b9,#f9c2a7,#fcdecd,#ecf2f5,#bbdaea,#a5cee3,#cfe4ef,#f9efe9,#f8bda1,#f5aa89,#fcd3bc,#ecf2f5,#a9d1e5,#90c4dd,#c2ddec,#f9efe9,#f7b799,#f19e7d,#fbccb4,#edf2f5,#a9d1e5,#8dc2dc,#c0dceb,#f8f1ed,#f8bda1,#f5aa89,#fcd7c2,#eaf1f5,#b3d6e8,#a5cee3,#d2e6f0,#f9efe9,#fbccb4,#f9c2a7,#fce0d0,#eff3f5,#cfe4ef,#c5dfec,#ddebf2,#f8f2ef,#fcdfcf,#fddcc9,#fae8de,#f2f5f6,#deebf2,#dae9f2,#e4eef4,#f7f7f7,#f9eee7,#f9ede5,#f8f3f0,#edf2f5,#e1edf3,#deebf2,#e4eef4,#ecf2f5,#f2f5f6,#f2f5f6,#ecf2f5,#e4eef4,#e0ecf3,#deebf2,#e1edf3,#e4eef4,#e7f0f4,#e7f0f4,#e4eef4,#e1edf3,#e0ecf3,#e0ecf3,#e1edf3,#e3edf3,#e4eef4,#e4eef4,#e3edf3,#e3edf3,#e1edf3,#e1edf3,#e1edf3,#e3edf3 680px,#e3edf3 720px)"></i>
<i style="left:305px;background:linear-gradient(#f7f7f7 204px,#f7f5f4,#f7f7f7,#f7f7f7,#f5f6f7,#f3f5f6,#f5f6f7,#f7f7f7,#f8f4f2,#f8f3f0,#f8f4f2,#f7f7f7,#f2f5f6,#eff3f5,#f2f5f6,#f7f5f4,#f8f1ed,#f9efe9,#f8f1ed,#f5f6f7,#eaf1f5,#e6eff4,#ecf2f5,#f7f5f4,#faeae1,#fbe5d8,#f9ebe3,#f3f5f6,#deebf2,#d5e7f1,#e1edf3,#f8f3f0,#fcdfcf,#fcd3bc,#fbe4d6,#edf2f5,#c7e0ed,#b6d7e8,#d5e7f1,#f9f0eb,#f9c6ac,#f6b394,#fcd7c2,#ecf2f5,#acd2e5,#8dc2dc,#c0dceb,#f9efe9,#f6b191,#eb9172,#f9c4a9,#ecf2f5,#98c8e0,#6eaed2,#aed3e6,#f9efe9,#f5a886,#e58368,#f8bb9e,#edf2f5,#98c8e0,#6eaed2,#aed3e6,#f8f1ed,#f6b191,#ec9374,#facab1,#eaf1f5,#a5cee3,#90c4dd,#c5dfec,#f9efe9,#f9c2a7,#f6b394,#fddbc7,#eff3f5,#c2ddec,#b6d7e8,#d7e8f1,#f8f2ef,#fddcc9,#fcd5bf,#fbe5d8,#f2f5f6,#dae9f2,#d4e6f1,#e1edf3,#f7f7f7,#f9ebe3,#fae9df,#f8f2ef,#edf2f5,#e0ecf3,#dbeaf2,#e1edf3,#ecf2f5,#f3f5f6,#f3f5f6,#edf2f5,#e4eef4,#deebf2,#ddebf2,#e0ecf3,#e4eef4,#e7f0f4,#e7f0f4,#e4eef4,#e1edf3,#e0ecf3,#e0ecf3,#e1edf3,#e3edf3,#e4eef4,#e4eef4,#e3edf3,#e3edf3,#e1edf3,#e1edf3,#e1edf3,#e3edf3 680px,#e3edf3 696px,#e1edf3,#e1edf3,#e3edf3 708px,#e3edf3 720px)"></i>
<i style="left:310px;background:linear-gradient(#f7f7f7 204px,#f7f5f4,#f7f7f7,#f7f7f7,#f5f6f7,#f3f5f6,#f5f6f7,#f7f7f7,#f8f4f2,#f8f3f0,#f8f4f2,#f7f7f7,#f0f4f6,#eff3f5,#f2f5f6,#f7f5f4,#f9f0eb,#f9eee7,#f8f1ed,#f5f6f7,#e9f0f4,#e4eef4,#eaf1f5,#f8f4f2,#fae8de,#fbe3d4,#fae9df,#f3f5f6,#dbeaf2,#d2e6f0,#deebf2,#f8f3f0,#fddcc9,#fbccb4,#fce2d2,#edf2f5,#c0dceb,#a9d1e5,#d1e5f0,#f9efe9,#f8bda1,#f4a683,#fbceb7,#eaf1f5,#9dcbe1,#7bb6d6,#b6d7e8,#f9eee7,#f3a481,#e37e64,#f8bb9e,#eaf1f5,#87beda,#59a1ca,#a5cee3,#f9eee7,#ee9677,#dc6e57,#f6b394,#ecf2f5,#87beda,#59a1ca,#a2cde3,#f9f0eb,#f3a481,#e48066,#f9c2a7,#e9f0f4,#96c7df,#7bb6d6,#bddbea,#f9efe9,#f7b799,#f4a683,#fcd3bc,#edf2f5,#bbdaea,#a9d1e5,#d2e6f0,#f8f2ef,#fcd7c2,#fbccb4,#fbe3d4,#f2f5f6,#d5e7f1,#cfe4ef,#deebf2,#f7f7f7,#fae9df,#fae7dc,#f8f1ed,#edf2f5,#ddebf2,#dae9f2,#e0ecf3,#ecf2f5,#f5f6f7,#f5f6f7,#edf2f5,#e4eef4,#deebf2,#ddebf2,#e0ecf3,#e4eef4,#e7f0f4,#e7f0f4,#e6eff4,#e1edf3,#e0ecf3,#deebf2,#e1edf3,#e3edf3,#e4eef4,#e4eef4,#e3edf3,#e3edf3,#e1edf3,#e1edf3,#e1edf3,#e3edf3 680px,#e3edf3 696px,#e1edf3,#e1edf3,#e3edf3 708px,#e3edf3 720px)"></i>
<i style="left:315px;background:linear-gradient(#f7f7f7 200px,#f7f5f4,#f7f5f4,#f7f5f4,#f7f7f7,#f5f6f7,#f3f5f6,#f5f6f7,#f7f7f7,#f8f4f2,#f8f3f0,#f8f4f2,#f7f7f7,#f0f4f6,#edf2f5,#f2f5f6,#f7f5f4,#f9efe9,#f9ede5,#f9f0eb,#f5f6f7,#e7f0f4,#e3edf3,#e9f0f4,#f8f4f2,#fae7dc,#fce2d2,#fae9df,#f2f5f6,#d8e9f1,#cce2ef,#ddebf2,#f8f2ef,#fdd9c4,#f9c6ac,#fcdfcf,#ecf2f5,#b8d8e9,#a2cde3,#cce2ef,#f9ede5,#f7b596,#f09c7b,#facab1,#e7f0f4,#93c6de,#6bacd1,#b1d5e7,#f9ebe3,#ee9677,#dd7059,#f7b596,#e7f0f4,#75b2d4,#4695c4,#9dcbe1,#f9ebe3,#e8896c,#d55d4c,#f5ac8b,#e9f0f4,#75b2d4,#4695c4,#9bc9e0,#f9efe9,#ee9677,#de735c,#f8bda1,#e6eff4,#8ac0db,#6eaed2,#b8d8e9,#f9ede5,#f6af8e,#f09c7b,#fbceb7,#ecf2f5,#b1d5e7,#a2cde3,#d1e5f0,#f8f1ed,#fbd0b9,#f9c6ac,#fce0d0,#f0f4f6,#d2e6f0,#cae1ee,#ddebf2,#f7f7f7,#fae8de,#fbe6da,#f9f0eb,#ecf2f5,#dbeaf2,#d8e9f1,#e0ecf3,#ecf2f5,#f7f7f7,#f7f7f7,#eff3f5,#e4eef4,#ddebf2,#dbeaf2,#deebf2,#e4eef4,#e9f0f4,#e9f0f4,#e6eff4,#e1edf3,#deebf2,#deebf2,#e0ecf3,#e3edf3,#e4eef4,#e4eef4,#e4eef4,#e3edf3,#e1edf3,#e1edf3,#e1edf3,#e3edf3 680px,#e3edf3 696px,#e1edf3,#e1edf3,#e3edf3 708px,#e3edf3 720px)"></i>
<i style="left:320px;background:linear-gradient(#f7f7f7 200px,#f7f5f4,#f7f5f4,#f7f5f4,#f7f7f7,#f3f5f6,#f3f5f6,#f5f6f7,#f7f7f7,#f8f3f0,#f8f2ef,#f8f4f2,#f5f6f7,#eff3f5,#edf2f5,#f0f4f6,#f7f5f4,#f9efe9,#f9ede5,#f9f0eb,#f3f5f6,#e6eff4,#e1edf3,#e9f0f4,#f8f3f0,#fbe6da,#fce0d0,#fae8de,#f2f5f6,#d7e8f1,#cae1ee,#dbeaf2,#f8f2ef,#fcd5bf,#f9c2a7,#fcdfcf,#e9f0f4,#b1d5e7,#9bc9e0,#cce2ef,#f9ebe3,#f6af8e,#ec9374,#fac8af,#e6eff4,#87beda,#62a7ce,#aed3e6,#fae9df,#e98b6e,#d86551,#f6b394,#e4eef4,#68abd0,#3f8ec0,#98c8e0,#fae9df,#e37e64,#cf5246,#f5a886,#e6eff4,#68abd0,#3f8ec0,#98c8e0,#f9ede5,#e98b6e,#da6853,#f7b99c,#e3edf3,#7eb8d7,#62a7ce,#b3d6e8,#faeae1,#f5a886,#ec9374,#fbccb4,#eaf1f5,#acd2e5,#9bc9e0,#cfe4ef,#f9f0eb,#fbccb4,#f9c2a7,#fce0d0,#eff3f5,#d1e5f0,#c5dfec,#dbeaf2,#f7f7f7,#fae7dc,#fbe5d8,#f9f0eb,#ecf2f5,#dae9f2,#d7e8f1,#deebf2,#ecf2f5,#f7f7f7,#f7f7f7,#eff3f5,#e4eef4,#dbeaf2,#dbeaf2,#deebf2,#e4eef4,#e9f0f4,#e9f0f4,#e6eff4,#e1edf3,#deebf2,#deebf2,#e0ecf3,#e3edf3,#e4eef4,#e4eef4,#e4eef4,#e3edf3,#e1edf3,#e1edf3,#e1edf3,#e3edf3 680px,#e3edf3 696px,#e1edf3,#e1edf3,#e3edf3 708px,#e3edf3 720px)"></i>
<i style="left:325px;background:linear-gradient(#f7f7f7 188px,#f5f6f7,#f7f7f7,#f7f7f7,#f7f5f4,#f7f5f4,#f7f5f4,#f7f7f7,#f3f5f6,#f3f5f6,#f5f6f7,#f7f7f7,#f8f3f0,#f8f2ef,#f8f4f2,#f5f6f7,#eff3f5,#edf2f5,#f0f4f6,#f7f5f4,#f9eee7,#f9ebe3,#f9f0eb,#f3f5f6,#e6eff4,#e0ecf3,#e9f0f4,#f8f3f0,#fbe5d8,#fcdfcf,#fae8de,#f0f4f6,#d4e6f1,#c7e0ed,#dbeaf2,#f8f1ed,#fbd0b9,#f8bda1,#fcdecd,#e7f0f4,#acd2e5,#96c7df,#cae1ee,#fae9df,#f5a886,#ea8e70,#fac8af,#e3edf3,#7eb8d7,#59a1ca,#acd2e5,#fae7dc,#e58368,#d55d4c,#f6b191,#e1edf3,#5fa5cd,#3b88be,#98c8e0,#fae7dc,#de735c,#cb4942,#f4a683,#e3edf3,#5ca3cb,#3b88be,#96c7df,#faeae1,#e58368,#d6604d,#f7b99c,#e0ecf3,#75b2d4,#5ca3cb,#b3d6e8,#fae9df,#f2a17f,#ea8e70,#fbccb4,#e7f0f4,#a5cee3,#98c8e0,#cfe4ef,#f9efe9,#fac8af,#f8bfa4,#fce0d0,#edf2f5,#cce2ef,#c2ddec,#dbeaf2,#f7f7f7,#fbe6da,#fbe4d6,#f9f0eb,#eaf1f5,#d8e9f1,#d5e7f1,#deebf2,#ecf2f5,#f7f7f7,#f7f7f7,#eff3f5,#e3edf3,#dbeaf2,#dae9f2,#deebf2,#e4eef4,#e9f0f4,#e9f0f4,#e6eff4,#e1edf3,#deebf2,#deebf2,#e0ecf3,#e3edf3,#e4eef4,#e4eef4,#e4eef4,#e1edf3 664px,#e1edf3 676px,#e3edf3 680px,#e3edf3 696px,#e1edf3,#e1edf3,#e3edf3 708px,#e3edf3 720px)"></i>
<i style="left:330px;background:linear-gradient(#f7f7f7 188px,#f5f6f7,#f7f7f7,#f7f7f7,#f7f5f4,#f7f5f4,#f7f5f4,#f7f7f7,#f3f5f6,#f3f5f6,#f5f6f7,#f7f7f7,#f8f3f0,#f8f2ef,#f8f4f2,#f5f6f7,#eff3f5,#ecf2f5,#f0f4f6,#f8f4f2,#f9eee7,#f9ebe3,#f9f0eb,#f3f5f6,#e4eef4,#e0ecf3,#e9f0f4,#f8f2ef,#fbe4d6,#fcdecd,#fae8de,#eff3f5,#d2e6f0,#c5dfec,#dbeaf2,#f9f0eb,#fbceb7,#f8bb9e,#fcdecd,#e6eff4,#a7d0e4,#93c6de,#cae1ee,#fae8de,#f3a481,#e8896c,#fac8af,#e0ecf3,#78b4d5,#529dc8,#acd2e5,#fbe5d8,#e27b62,#d25849,#f6b191,#deebf2,#569fc9,#3885bc,#98c8e0,#fbe5d8,#db6b55,#c84440,#f4a683,#e0ecf3,#569fc9,#3885bc,#96c7df,#fae8de,#e27b62,#d35a4a,#f7b99c,#ddebf2,#6bacd1,#569fc9,#b3d6e8,#fae7dc,#f09c7b,#e98b6e,#fbccb4,#e6eff4,#a2cde3,#93c6de,#cfe4ef,#f9eee7,#f9c6ac,#f8bda1,#fce0d0,#ecf2f5,#cae1ee,#c0dceb,#dbeaf2,#f7f5f4,#fbe5d8,#fbe4d6,#f9f0eb,#eaf1f5,#d8e9f1,#d4e6f1,#deebf2,#edf2f5,#f7f7f7,#f7f7f7,#eff3f5,#e3edf3,#dbeaf2,#dae9f2,#deebf2,#e4eef4,#e9f0f4,#e9f0f4,#e6eff4,#e1edf3,#deebf2,#deebf2,#e0ecf3,#e3edf3,#e4eef4,#e4eef4,#e4eef4,#e1edf3 664px,#e1edf3 676px,#e3edf3 680px,#e3edf3 696px,#e1edf3,#e1edf3,#e3edf3 708px,#e3edf3 720px)"></i>
<i style="left:335px;background:linear-gradient(#f7f7f7 188px,#f5f6f7,#f7f7f7,#f7f7f7,#f7f5f4,#f7f5f4,#f7f5f4,#f7f7f7,#f3f5f6,#f3f5f6,#f5f6f7,#f7f7f7,#f8f3f0,#f8f2ef,#f8f4f2,#f5f6f7,#eff3f5,#ecf2f5,#f0f4f6,#f8f4f2,#f9eee7,#faeae1,#f9f0eb,#f2f5f6,#e3edf3,#deebf2,#e9f0f4,#f8f2ef,#fbe3d4,#fdddcb,#fae8de,#eff3f5,#d1e5f0,#c2ddec,#dbeaf2,#f9efe9,#fbccb4,#f7b99c,#fcdecd,#e4eef4,#a5cee3,#90c4dd,#cae1ee,#fbe6da,#f19e7d,#e6866a,#fac8af,#deebf2,#71b0d3,#4f9bc7,#aed3e6,#fbe3d4,#df765e,#d05548,#f6b394,#dbeaf2,#4c99c6,#3783bb,#98c8e0,#fbe3d4,#d86551,#c6413e,#f5a886,#ddebf2,#4c99c6,#3783bb,#98c8e0,#fbe6da,#df765e,#d25849,#f8bb9e,#dae9f2,#68abd0,#529dc8,#b6d7e8,#fbe5d8,#ee9677,#e8896c,#fbccb4,#e4eef4,#9dcbe1,#93c6de,#cfe4ef,#f9ede5,#f9c4a9,#f8bb9e,#fce0d0,#eaf1f5,#c7e0ed,#c0dceb,#dbeaf2,#f7f5f4,#fbe5d8,#fbe3d4,#f9f0eb,#e9f0f4,#d7e8f1,#d4e6f1,#deebf2,#edf2f5,#f7f7f7,#f7f7f7,#eff3f5,#e3edf3,#dae9f2,#dae9f2,#deebf2,#e4eef4,#e9f0f4,#e9f0f4,#e6eff4,#e1edf3,#deebf2,#deebf2,#e0ecf3,#e3edf3,#e4eef4,#e6eff4,#e4eef4,#e1edf3 664px,#e1edf3 676px,#e3edf3 680px,#e3edf3 696px,#e1edf3,#e1edf3,#e3edf3 708px,#e3edf3 720px)"></i>
<i style="left:340px;background:linear-gradient(#f7f7f7 188px,#f5f6f7,#f7f7f7,#f7f7f7,#f7f5f4,#f7f5f4,#f7f5f4,#f7f7f7,#f3f5f6,#f3f5f6,#f5f6f7,#f7f5f4,#f8f3f0,#f8f2ef,#f8f4f2,#f5f6f7,#edf2f5,#ecf2f5,#f0f4f6,#f8f4f2,#f9ede5,#faeae1,#f9f0eb,#f2f5f6,#e3edf3,#deebf2,#e9f0f4,#f8f2ef,#fbe3d4,#fdddcb,#fae8de,#edf2f5,#d1e5f0,#c2ddec,#dbeaf2,#f9eee7,#facab1,#f7b99c,#fcdfcf,#e3edf3,#a2cde3,#90c4dd,#cce2ef,#fbe5d8,#f09c7b,#e6866a,#facab1,#dbeaf2,#6eaed2,#4f9bc7,#aed3e6,#fce2d2,#dd7059,#d05548,#f7b596,#d8e9f1,#4997c5,#3681ba,#9bc9e0,#fce0d0,#d6604d,#c53e3d,#f5aa89,#dae9f2,#4997c5,#3681ba,#9bc9e0,#fbe4d6,#dd7059,#d25849,#f8bda1,#d8e9f1,#62a7ce,#529dc8,#b8d8e9,#fbe4d6,#ec9374,#e8896c,#fbceb7,#e1edf3,#9bc9e0,#90c4dd,#cfe4ef,#f9ebe3,#f9c2a7,#f8bb9e,#fce0d0,#eaf1f5,#c5dfec,#c0dceb,#dbeaf2,#f8f4f2,#fbe4d6,#fbe3d4,#f9f0eb,#e9f0f4,#d7e8f1,#d4e6f1,#deebf2,#edf2f5,#f7f7f7,#f7f7f7,#edf2f5,#e1edf3,#dae9f2,#dae9f2,#deebf2,#e4eef4,#e9f0f4,#e9f0f4,#e6eff4,#e1edf3,#deebf2,#deebf2,#e0ecf3,#e3edf3,#e4eef4,#e6eff4,#e4eef4,#e1edf3 664px,#e1edf3 676px,#e3edf3 680px,#e3edf3 696px,#e1edf3,#e1edf3,#e3edf3 708px,#e3edf3 720px)"></i>
<i style="left:345px;background:linear-gradient(#f7f7f7 188px,#f5f6f7,#f7f7f7,#f7f7f7,#f7f5f4,#f7f5f4,#f7f5f4,#f7f7f7,#f3f5f6,#f3f5f6,#f5f6f7,#f7f5f4,#f8f3f0,#f8f2ef,#f8f4f2,#f5f6f7,#edf2f5,#ecf2f5,#f0f4f6,#f8f4f2,#f9ede5,#faeae1,#f9f0eb,#f2f5f6,#e3edf3,#deebf2,#e9f0f4,#f8f1ed,#fce2d2,#fdddcb,#fae8de,#ecf2f5,#cfe4ef,#c2ddec,#ddebf2,#f9eee7,#fac8af,#f7b99c,#fce0d0,#e1edf3,#a0cce2,#90c4dd,#cfe4ef,#fbe4d6,#f09c7b,#e6866a,#fbccb4,#dae9f2,#6bacd1,#4f9bc7,#b3d6e8,#fcdfcf,#dd7059,#d05548,#f7b799,#d5e7f1,#4695c4,#3783bb,#a0cce2,#fcdfcf,#d55d4c,#c6413e,#f6af8e,#d8e9f1,#4695c4,#3783bb,#9dcbe1,#fbe3d4,#dc6e57,#d35a4a,#f8bfa4,#d5e7f1,#62a7ce,#569fc9,#bbdaea,#fbe3d4,#ec9374,#e8896c,#fbd0b9,#e0ecf3,#9bc9e0,#93c6de,#d1e5f0,#faeae1,#f9c2a7,#f8bda1,#fce2d2,#e9f0f4,#c5dfec,#c0dceb,#dbeaf2,#f8f4f2,#fbe4d6,#fbe4d6,#f8f1ed,#e7f0f4,#d5e7f1,#d4e6f1,#deebf2,#edf2f5,#f7f7f7,#f7f7f7,#edf2f5,#e1edf3,#dae9f2,#dae9f2,#deebf2,#e6eff4,#e9f0f4,#e9f0f4,#e6eff4,#e1edf3,#deebf2,#deebf2,#e0ecf3,#e3edf3,#e6eff4,#e4eef4,#e4eef4,#e1edf3 664px,#e1edf3 676px,#e3edf3 680px,#e3edf3 696px,#e1edf3,#e1edf3,#e3edf3 708px,#e3edf3 720px)"></i>
<i style="left:350px;background:linear-gradient(#f7f7f7 188px,#f5f6f7,#f7f7f7,#f7f7f7,#f7f5f4,#f7f5f4,#f7f5f4,#f7f7f7,#f3f5f6,#f3f5f6,#f5f6f7,#f7f5f4,#f8f3f0,#f8f2ef,#f8f4f2,#f5f6f7,#edf2f5,#ecf2f5,#f2f5f6,#f8f4f2,#f9ede5,#f9ebe3,#f8f1ed,#f0f4f6,#e3edf3,#deebf2,#eaf1f5,#f8f1ed,#fce2d2,#fcdecd,#fae9df,#ecf2f5,#cfe4ef,#c2ddec,#ddebf2,#f9ede5,#fac8af,#f8bb9e,#fce2d2,#e0ecf3,#a0cce2,#93c6de,#d1e5f0,#fbe3d4,#f09c7b,#e8896c,#fbd0b9,#d8e9f1,#6bacd1,#569fc9,#b6d7e8,#fcdecd,#dd7059,#d35a4a,#f8bb9e,#d4e6f1,#4695c4,#3885bc,#a5cee3,#fdddcb,#d55d4c,#c84440,#f6b394,#d5e7f1,#4695c4,#3885bc,#a2cde3,#fce0d0,#dc6e57,#d55d4c,#f9c4a9,#d4e6f1,#62a7ce,#59a1ca,#bddbea,#fce2d2,#ec9374,#e98b6e,#fcd5bf,#e0ecf3,#9bc9e0,#96c7df,#d2e6f0,#fae9df,#f9c2a7,#f8bda1,#fbe3d4,#e7f0f4,#c5dfec,#c0dceb,#ddebf2,#f8f3f0,#fbe4d6,#fbe4d6,#f8f1ed,#e7f0f4,#d5e7f1,#d4e6f1,#deebf2,#edf2f5,#f7f7f7,#f7f7f7,#edf2f5,#e1edf3,#dae9f2,#dae9f2,#deebf2,#e6eff4,#e9f0f4,#e9f0f4,#e6eff4,#e1edf3,#deebf2,#deebf2,#e0ecf3,#e3edf3,#e4eef4,#e4eef4,#e4eef4,#e1edf3 664px,#e1edf3 676px,#e3edf3 680px,#e3edf3 696px,#e1edf3,#e1edf3,#e3edf3 708px,#e3edf3 720px)"></i>
<i style="left:355px;background:linear-gradient(#f7f7f7 188px,#f5f6f7,#f7f7f7,#f7f7f7,#f7f5f4,#f7f5f4,#f7f5f4,#f7f7f7,#f3f5f6,#f3f5f6,#f5f6f7,#f7f5f4,#f8f3f0,#f8f2ef,#f8f4f2,#f5f6f7,#edf2f5,#ecf2f5,#f2f5f6,#f8f4f2,#f9ede5,#f9ebe3,#f8f1ed,#f0f4f6,#e3edf3,#e0ecf3,#eaf1f5,#f8f1ed,#fbe3d4,#fcdecd,#faeae1,#ecf2f5,#d1e5f0,#c5dfec,#deebf2,#f9ebe3,#facab1,#f8bda1,#fbe3d4,#e0ecf3,#a2cde3,#96c7df,#d4e6f1,#fbe3d4,#f09c7b,#ea8e70,#fcd5bf,#d7e8f1,#6eaed2,#5ca3cb,#bddbea,#fdddcb,#de735c,#d6604d,#f8bfa4,#d2e6f0,#4997c5,#3c8abe,#a9d1e5,#fddcc9,#d6604d,#cc4c44,#f7b799,#d4e6f1,#4997c5,#3b88be,#a9d1e5,#fcdfcf,#dd7059,#d7634f,#fac8af,#d2e6f0,#65a9cf,#5fa5cd,#c2ddec,#fce0d0,#ee9677,#eb9172,#fcd7c2,#deebf2,#9bc9e0,#98c8e0,#d5e7f1,#fae9df,#f9c2a7,#f9c2a7,#fbe4d6,#e7f0f4,#c5dfec,#c2ddec,#deebf2,#f8f3f0,#fbe5d8,#fbe5d8,#f8f2ef,#e6eff4,#d7e8f1,#d4e6f1,#deebf2,#edf2f5,#f7f7f7,#f7f7f7,#ecf2f5,#e1edf3,#dae9f2,#dae9f2,#deebf2,#e6eff4,#e9f0f4,#e9f0f4,#e6eff4,#e1edf3,#deebf2,#deebf2,#e1edf3,#e3edf3,#e4eef4,#e4eef4,#e3edf3,#e1edf3 664px,#e1edf3 676px,#e3edf3 680px,#e3edf3 696px,#e1edf3,#e1edf3,#e3edf3 708px,#e3edf3 720px)"></i>
<i style="left:360px;background:linear-gradient(#f7f7f7 188px,#f5f6f7,#f7f7f7,#f7f7f7,#f7f5f4,#f7f5f4,#f7f7f7,#f7f7f7,#f3f5f6,#f3f5f6,#f5f6f7,#f7f5f4,#f8f3f0,#f8f2ef,#f8f4f2,#f3f5f6,#eff3f5,#edf2f5,#f2f5f6,#f8f4f2,#f9eee7,#f9ebe3,#f8f1ed,#f0f4f6,#e3edf3,#e0ecf3,#ecf2f5,#f9f0eb,#fbe3d4,#fcdfcf,#faeae1,#eaf1f5,#d1e5f0,#c7e0ed,#e0ecf3,#f9ebe3,#facab1,#f8bfa4,#fbe4d6,#deebf2,#a5cee3,#9bc9e0,#d7e8f1,#fce2d2,#f2a17f,#ec9374,#fdd9c4,#d7e8f1,#71b0d3,#62a7ce,#c2ddec,#fddcc9,#df765e,#da6853,#f9c6ac,#d1e5f0,#4f9bc7,#408fc1,#b1d5e7,#fddbc7,#d86551,#d05548,#f8bda1,#d2e6f0,#4f9bc7,#408fc1,#aed3e6,#fcdecd,#df765e,#db6b55,#fbceb7,#d2e6f0,#68abd0,#68abd0,#cae1ee,#fce0d0,#ef9979,#ef9979,#fddbc7,#deebf2,#a0cce2,#9dcbe1,#d7e8f1,#fae8de,#f9c4a9,#f9c4a9,#fbe5d8,#e6eff4,#c7e0ed,#c5dfec,#e0ecf3,#f8f3f0,#fbe5d8,#fbe6da,#f8f3f0,#e6eff4,#d7e8f1,#d5e7f1,#e0ecf3,#edf2f5,#f7f7f7,#f5f6f7,#ecf2f5,#e1edf3,#dae9f2,#dae9f2,#e0ecf3,#e6eff4,#e9f0f4,#e9f0f4,#e4eef4,#e1edf3,#deebf2,#deebf2,#e1edf3,#e3edf3,#e4eef4,#e4eef4,#e3edf3,#e1edf3 664px,#e1edf3 676px,#e3edf3 680px,#e3edf3 696px,#e1edf3,#e1edf3,#e3edf3 708px,#e3edf3 720px)"></i>
<i style="left:365px;background:linear-gradient(#f7f7f7 200px,#f7f5f4,#f7f5f4,#f7f7f7,#f7f7f7,#f3f5f6,#f3f5f6,#f5f6f7,#f7f5f4,#f8f3f0,#f8f2ef,#f8f4f2,#f3f5f6,#eff3f5,#edf2f5,#f2f5f6,#f8f3f0,#f9eee7,#f9ede5,#f8f2ef,#f0f4f6,#e4eef4,#e1edf3,#ecf2f5,#f9f0eb,#fbe4d6,#fce0d0,#f9ebe3,#eaf1f5,#d2e6f0,#cce2ef,#e3edf3,#f9ebe3,#fbceb7,#f9c4a9,#fbe6da,#deebf2,#a9d1e5,#a2cde3,#d8e9f1,#fce2d2,#f4a683,#f19e7d,#fddcc9,#d5e7f1,#7bb6d6,#6eaed2,#cae1ee,#fddcc9,#e37e64,#de735c,#fbccb4,#d1e5f0,#569fc9,#4997c5,#b8d8e9,#fddbc7,#dc6e57,#d6604d,#f9c4a9,#d2e6f0,#569fc9,#4997c5,#b8d8e9,#fcdecd,#e37e64,#df765e,#fcd5bf,#d2e6f0,#71b0d3,#71b0d3,#cfe4ef,#fcdfcf,#f19e7d,#f2a17f,#fcdecd,#ddebf2,#a5cee3,#a5cee3,#dae9f2,#fae8de,#fac8af,#fac8af,#fae7dc,#e6eff4,#cae1ee,#cae1ee,#e1edf3,#f8f3f0,#fbe6da,#fae7dc,#f8f3f0,#e6eff4,#d7e8f1,#d7e8f1,#e0ecf3,#edf2f5,#f7f7f7,#f5f6f7,#ecf2f5,#e1edf3,#dae9f2,#dae9f2,#e0ecf3,#e6eff4,#e9f0f4,#e9f0f4,#e4eef4,#e1edf3,#deebf2,#deebf2,#e1edf3,#e3edf3,#e4eef4,#e4eef4,#e3edf3,#e1edf3 664px,#e1edf3 676px,#e3edf3 680px,#e3edf3 696px,#e1edf3,#e1edf3,#e3edf3 708px,#e3edf3 720px)"></i>
<i style="left:370px;background:linear-gradient(#f7f7f7 200px,#f7f5f4,#f7f5f4,#f7f7f7,#f7f7f7,#f3f5f6,#f3f5f6,#f5f6f7,#f7f5f4,#f8f3f0,#f8f3f0,#f7f5f4,#f5f6f7,#eff3f5,#edf2f5,#f3f5f6,#f8f4f2,#f9eee7,#f9ede5,#f8f2ef,#f0f4f6,#e6eff4,#e3edf3,#edf2f5,#f9f0eb,#fbe5d8,#fbe3d4,#f9ede5,#eaf1f5,#d4e6f1,#d1e5f0,#e4eef4,#f9ebe3,#fbd0b9,#facab1,#fae7dc,#deebf2,#aed3e6,#a9d1e5,#ddebf2,#fce2d2,#f5aa89,#f4a683,#fcdfcf,#d7e8f1,#84bcd9,#7bb6d6,#d1e5f0,#fddcc9,#e6866a,#e48066,#fcd3bc,#d1e5f0,#62a7ce,#59a1ca,#c2ddec,#fddbc7,#e17860,#dd7059,#fbccb4,#d2e6f0,#62a7ce,#59a1ca,#c0dceb,#fcdecd,#e6866a,#e58368,#fddbc7,#d2e6f0,#7bb6d6,#81bad8,#d4e6f1,#fce0d0,#f4a683,#f5a886,#fce0d0,#ddebf2,#a9d1e5,#acd2e5,#ddebf2,#fae8de,#fbccb4,#fbceb7,#fae9df,#e6eff4,#cce2ef,#cce2ef,#e3edf3,#f8f3f0,#fae7dc,#fae8de,#f8f4f2,#e6eff4,#d8e9f1,#d8e9f1,#e1edf3,#edf2f5,#f5f6f7,#f3f5f6,#eaf1f5,#e1edf3,#dbeaf2,#dbeaf2,#e0ecf3,#e6eff4,#e9f0f4,#e7f0f4,#e4eef4,#e1edf3,#deebf2,#deebf2,#e1edf3,#e3edf3,#e4eef4,#e4eef4,#e3edf3,#e1edf3 664px,#e1edf3 676px,#e3edf3 680px,#e3edf3 696px,#e1edf3,#e1edf3,#e3edf3 708px,#e3edf3 720px)"></i>
<i style="left:375px;background:linear-gradient(#f7f7f7 200px,#f7f5f4,#f7f5f4,#f7f7f7,#f7f7f7,#f3f5f6,#f3f5f6,#f7f7f7,#f7f5f4,#f8f3f0,#f8f3f0,#f7f5f4,#f5f6f7,#eff3f5,#eff3f5,#f3f5f6,#f8f4f2,#f9efe9,#f9eee7,#f8f3f0,#f0f4f6,#e6eff4,#e4eef4,#eff3f5,#f8f1ed,#fbe6da,#fbe4d6,#f9efe9,#ecf2f5,#d7e8f1,#d4e6f1,#e6eff4,#f9ebe3,#fcd5bf,#fbd0b9,#fae9df,#e0ecf3,#b6d7e8,#b3d6e8,#e0ecf3,#fbe3d4,#f6b394,#f6b191,#fce2d2,#d7e8f1,#90c4dd,#8ac0db,#d5e7f1,#fdddcb,#ec9374,#ea8e70,#fddbc7,#d2e6f0,#71b0d3,#6bacd1,#cce2ef,#fddcc9,#e58368,#e48066,#fcd5bf,#d4e6f1,#71b0d3,#6bacd1,#cae1ee,#fcdecd,#eb9172,#ec9374,#fcdecd,#d4e6f1,#87beda,#90c4dd,#d8e9f1,#fce0d0,#f6af8e,#f6b394,#fbe4d6,#deebf2,#b1d5e7,#b3d6e8,#e0ecf3,#fae9df,#fbd0b9,#fcd5bf,#faeae1,#e6eff4,#d1e5f0,#d2e6f0,#e4eef4,#f8f3f0,#fae9df,#faeae1,#f7f5f4,#e6eff4,#dae9f2,#dae9f2,#e3edf3,#edf2f5,#f5f6f7,#f2f5f6,#eaf1f5,#e1edf3,#dbeaf2,#dbeaf2,#e0ecf3,#e6eff4,#e7f0f4,#e7f0f4,#e4eef4,#e1edf3,#deebf2,#e0ecf3,#e1edf3,#e3edf3,#e4eef4,#e4eef4,#e3edf3,#e1edf3 664px,#e1edf3 676px,#e3edf3 680px,#e3edf3 696px,#e1edf3,#e1edf3,#e3edf3 708px,#e3edf3 720px)"></i>
<i style="left:380px;background:linear-gradient(#f7f7f7 200px,#f7f5f4,#f7f5f4,#f7f7f7,#f7f7f7,#f5f6f7,#f5f6f7,#f7f7f7,#f7f5f4,#f8f4f2,#f8f3f0,#f7f5f4,#f5f6f7,#f0f4f6,#f0f4f6,#f3f5f6,#f8f4f2,#f9f0eb,#f9efe9,#f8f3f0,#f0f4f6,#e7f0f4,#e7f0f4,#f0f4f6,#f8f1ed,#fae7dc,#fbe6da,#f9f0eb,#ecf2f5,#dae9f2,#d7e8f1,#e9f0f4,#f9ede5,#fddbc7,#fcd7c2,#f9ebe3,#e1edf3,#bddbea,#bddbea,#e3edf3,#fbe4d6,#f8bb9e,#f8bb9e,#fbe5d8,#d8e9f1,#9bc9e0,#9bc9e0,#dae9f2,#fcdecd,#f2a17f,#f2a17f,#fcdfcf,#d4e6f1,#81bad8,#81bad8,#d4e6f1,#fdddcb,#ec9374,#ec9374,#fddcc9,#d4e6f1,#81bad8,#81bad8,#d2e6f0,#fcdfcf,#f19e7d,#f3a481,#fbe3d4,#d5e7f1,#96c7df,#9dcbe1,#ddebf2,#fce2d2,#f7b799,#f8bda1,#fbe6da,#e0ecf3,#b8d8e9,#c0dceb,#e4eef4,#fae9df,#fcd7c2,#fddbc7,#f9ede5,#e7f0f4,#d4e6f1,#d5e7f1,#e7f0f4,#f8f3f0,#faeae1,#f9ede5,#f7f7f7,#e6eff4,#dbeaf2,#dbeaf2,#e3edf3,#edf2f5,#f3f5f6,#f0f4f6,#e9f0f4,#e1edf3,#ddebf2,#ddebf2,#e1edf3,#e6eff4,#e7f0f4,#e7f0f4,#e4eef4,#e1edf3,#e0ecf3,#e0ecf3,#e1edf3,#e3edf3,#e4eef4,#e4eef4,#e3edf3,#e1edf3 664px,#e1edf3 676px,#e3edf3 680px,#e3edf3 696px,#e1edf3,#e1edf3,#e3edf3 708px,#e3edf3 720px)"></i>
<i style="left:385px;background:linear-gradient(#f7f7f7 204px,#f7f5f4,#f7f7f7,#f7f7f7,#f5f6f7,#f5f6f7,#f7f7f7,#f7f5f4,#f8f4f2,#f8f4f2,#f7f5f4,#f5f6f7,#f0f4f6,#f0f4f6,#f5f6f7,#f8f4f2,#f9f0eb,#f9f0eb,#f8f4f2,#f2f5f6,#e9f0f4,#e9f0f4,#f2f5f6,#f8f1ed,#fae9df,#fae8de,#f8f1ed,#ecf2f5,#ddebf2,#dbeaf2,#ecf2f5,#f9ede5,#fcdecd,#fdddcb,#f9eee7,#e3edf3,#c7e0ed,#c7e0ed,#e7f0f4,#fbe5d8,#f9c4a9,#f9c6ac,#fae8de,#dae9f2,#a9d1e5,#a9d1e5,#e0ecf3,#fcdfcf,#f6af8e,#f6b191,#fbe4d6,#d5e7f1,#96c7df,#98c8e0,#dbeaf2,#fcdecd,#f3a481,#f5a886,#fce2d2,#d7e8f1,#93c6de,#98c8e0,#dae9f2,#fce0d0,#f5ac8b,#f6b394,#fbe6da,#d7e8f1,#a5cee3,#aed3e6,#e3edf3,#fbe3d4,#f9c2a7,#fac8af,#fae9df,#e1edf3,#c2ddec,#cae1ee,#e7f0f4,#faeae1,#fddcc9,#fcdecd,#f9efe9,#e7f0f4,#d8e9f1,#dae9f2,#e9f0f4,#f8f4f2,#f9ede5,#f9efe9,#f5f6f7,#e6eff4,#ddebf2,#ddebf2,#e4eef4,#edf2f5,#f2f5f6,#eff3f5,#e9f0f4,#e1edf3,#ddebf2,#deebf2,#e1edf3,#e4eef4,#e7f0f4,#e6eff4,#e4eef4,#e1edf3,#e0ecf3,#e0ecf3,#e1edf3,#e3edf3,#e4eef4,#e4eef4,#e3edf3,#e1edf3,#e1edf3,#e1edf3,#e3edf3 676px,#e3edf3 696px,#e1edf3,#e3edf3 704px,#e3edf3 720px)"></i>
<i style="left:390px;background:linear-gradient(#f7f7f7 216px,#f5f6f7,#f5f6f7,#f7f7f7,#f7f5f4,#f8f4f2,#f8f4f2,#f7f7f7,#f5f6f7,#f2f5f6,#f2f5f6,#f5f6f7,#f8f4f2,#f8f1ed,#f8f1ed,#f7f5f4,#f2f5f6,#ecf2f5,#ecf2f5,#f3f5f6,#f8f2ef,#faeae1,#faeae1,#f8f2ef,#edf2f5,#e0ecf3,#e0ecf3,#eff3f5,#f9eee7,#fce2d2,#fce2d2,#f9f0eb,#e4eef4,#d1e5f0,#d2e6f0,#ecf2f5,#fbe6da,#fbceb7,#fcd3bc,#f9ede5,#ddebf2,#b6d7e8,#bbdaea,#e6eff4,#fce2d2,#f8bb9e,#f8bfa4,#fae8de,#d8e9f1,#a7d0e4,#acd2e5,#e1edf3,#fce0d0,#f7b596,#f7b99c,#fae7dc,#d8e9f1,#a5cee3,#acd2e5,#e1edf3,#fbe3d4,#f8bb9e,#f9c4a9,#faeae1,#dae9f2,#b3d6e8,#c0dceb,#e7f0f4,#fbe5d8,#fbccb4,#fcd5bf,#f9ede5,#e3edf3,#cfe4ef,#d4e6f1,#ecf2f5,#f9ebe3,#fce0d0,#fbe3d4,#f8f1ed,#e9f0f4,#dbeaf2,#deebf2,#ecf2f5,#f8f4f2,#f9efe9,#f8f1ed,#f3f5f6,#e7f0f4,#e0ecf3,#e0ecf3,#e6eff4,#edf2f5,#f0f4f6,#edf2f5,#e7f0f4,#e1edf3,#deebf2,#deebf2,#e1edf3,#e4eef4,#e6eff4,#e6eff4,#e3edf3,#e1edf3,#e0ecf3,#e0ecf3,#e1edf3,#e3edf3,#e4eef4,#e4eef4,#e3edf3,#e1edf3,#e1edf3,#e1edf3,#e3edf3 676px,#e3edf3 720px)"></i>
<i style="left:395px;background:linear-gradient(#f7f7f7 216px,#f5f6f7,#f5f6f7,#f7f7f7,#f7f7f7,#f7f5f4,#f7f5f4,#f7f7f7,#f5f6f7,#f3f5f6,#f3f5f6,#f7f7f7,#f8f4f2,#f8f2ef,#f8f2ef,#f7f5f4,#f2f5f6,#edf2f5,#edf2f5,#f5f6f7,#f8f2ef,#f9ede5,#f9eee7,#f8f4f2,#eff3f5,#e4eef4,#e6eff4,#f2f5f6,#f9efe9,#fbe5d8,#fbe6da,#f8f3f0,#e6eff4,#d7e8f1,#dae9f2,#eff3f5,#fae8de,#fddbc7,#fdddcb,#f9f0eb,#e0ecf3,#c7e0ed,#cfe4ef,#ecf2f5,#fbe4d6,#facab1,#fcd3bc,#f9eee7,#dbeaf2,#b8d8e9,#c2ddec,#e9f0f4,#fbe3d4,#f9c4a9,#fbccb4,#f9ede5,#dbeaf2,#b8d8e9,#c2ddec,#e9f0f4,#fbe5d8,#facab1,#fcd5bf,#f9efe9,#ddebf2,#c5dfec,#d1e5f0,#edf2f5,#fae7dc,#fdd9c4,#fcdecd,#f8f1ed,#e4eef4,#d7e8f1,#dbeaf2,#f0f4f6,#f9ede5,#fbe4d6,#fae8de,#f8f3f0,#eaf1f5,#e0ecf3,#e3edf3,#edf2f5,#f7f5f4,#f8f1ed,#f8f4f2,#f2f5f6,#e7f0f4,#e1edf3,#e1edf3,#e7f0f4,#ecf2f5,#eff3f5,#ecf2f5,#e7f0f4,#e1edf3,#e0ecf3,#e0ecf3,#e1edf3,#e4eef4,#e6eff4,#e4eef4,#e3edf3,#e1edf3,#e0ecf3,#e1edf3,#e1edf3,#e3edf3,#e4eef4,#e3edf3,#e3edf3,#e1edf3,#e1edf3,#e1edf3,#e3edf3 676px,#e3edf3 720px)"></i>
<i style="left:400px;background:linear-gradient(#f7f7f7 232px,#f7f5f4,#f7f5f4,#f7f7f7,#f5f6f7,#f3f5f6,#f3f5f6,#f7f7f7,#f7f5f4,#f8f3f0,#f8f3f0,#f7f7f7,#f3f5f6,#f0f4f6,#f0f4f6,#f7f7f7,#f8f3f0,#f9f0eb,#f9f0eb,#f7f5f4,#eff3f5,#e9f0f4,#eaf1f5,#f3f5f6,#f9f0eb,#fae9df,#faeae1,#f7f5f4,#e9f0f4,#deebf2,#e3edf3,#f3f5f6,#faeae1,#fce2d2,#fbe5d8,#f8f4f2,#e3edf3,#d5e7f1,#dbeaf2,#f2f5f6,#fae7dc,#fddbc7,#fcdfcf,#f8f2ef,#e0ecf3,#cce2ef,#d5e7f1,#f0f4f6,#fbe5d8,#fcd7c2,#fdddcb,#f8f2ef,#e0ecf3,#cce2ef,#d5e7f1,#eff3f5,#fae7dc,#fddbc7,#fce2d2,#f8f4f2,#e1edf3,#d4e6f1,#dbeaf2,#f3f5f6,#fae9df,#fce0d0,#fbe6da,#f8f4f2,#e7f0f4,#deebf2,#e4eef4,#f3f5f6,#f9eee7,#fae8de,#f9ede5,#f7f7f7,#ecf2f5,#e4eef4,#e7f0f4,#f0f4f6,#f7f7f7,#f8f4f2,#f7f7f7,#f0f4f6,#e7f0f4,#e4eef4,#e4eef4,#e9f0f4,#ecf2f5,#edf2f5,#eaf1f5,#e6eff4,#e3edf3,#e0ecf3,#e1edf3,#e3edf3,#e4eef4,#e4eef4,#e4eef4,#e3edf3,#e1edf3,#e1edf3,#e1edf3,#e3edf3 644px,#e3edf3 660px,#e1edf3,#e1edf3,#e1edf3,#e3edf3 676px,#e3edf3 720px)"></i>
<i style="left:405px;background:linear-gradient(#f7f7f7 248px,#f5f6f7,#f5f6f7,#f7f7f7,#f7f5f4,#f8f4f2,#f7f5f4,#f7f7f7,#f3f5f6,#f2f5f6,#f3f5f6,#f7f7f7,#f8f3f0,#f8f2ef,#f8f3f0,#f7f7f7,#f0f4f6,#edf2f5,#eff3f5,#f7f7f7,#f8f1ed,#f9eee7,#f9f0eb,#f7f7f7,#ecf2f5,#e7f0f4,#ecf2f5,#f7f7f7,#f9ede5,#fae8de,#f9ede5,#f7f7f7,#e7f0f4,#e0ecf3,#e7f0f4,#f7f7f7,#fae9df,#fbe4d6,#fae9df,#f7f7f7,#e3edf3,#dbeaf2,#e4eef4,#f7f7f7,#fae8de,#fbe3d4,#fae8de,#f7f7f7,#e3edf3,#dbeaf2,#e3edf3,#f7f7f7,#fae9df,#fbe4d6,#faeae1,#f5f6f7,#e4eef4,#e0ecf3,#e7f0f4,#f7f7f7,#f9ebe3,#fae8de,#f9eee7,#f7f7f7,#eaf1f5,#e6eff4,#ecf2f5,#f7f7f7,#f9f0eb,#f9eee7,#f8f1ed,#f5f6f7,#edf2f5,#eaf1f5,#edf2f5,#f3f5f6,#f7f7f7,#f7f7f7,#f3f5f6,#edf2f5,#e9f0f4,#e6eff4,#e7f0f4,#eaf1f5,#ecf2f5,#eaf1f5,#e9f0f4,#e6eff4,#e3edf3,#e1edf3,#e1edf3,#e3edf3,#e4eef4,#e4eef4,#e3edf3,#e3edf3,#e1edf3,#e1edf3,#e1edf3,#e3edf3 644px,#e3edf3 664px,#e1edf3,#e3edf3 672px,#e3edf3 720px)"></i>
<i style="left:410px;background:linear-gradient(#f7f7f7 260px,#f7f5f4,#f7f5f4,#f7f7f7,#f7f7f7,#f5f6f7,#f5f6f7,#f7f7f7,#f7f7f7,#f8f4f2,#f8f4f2,#f7f5f4,#f5f6f7,#f2f5f6,#f2f5f6,#f5f6f7,#f7f5f4,#f8f2ef,#f8f2ef,#f7f5f4,#f3f5f6,#eff3f5,#eff3f5,#f5f6f7,#f8f3f0,#f9efe9,#f9f0eb,#f8f4f2,#f2f5f6,#eaf1f5,#eaf1f5,#f3f5f6,#f8f2ef,#f9ede5,#f9eee7,#f8f3f0,#f0f4f6,#e7f0f4,#e9f0f4,#f2f5f6,#f8f1ed,#f9ebe3,#f9ede5,#f8f3f0,#eff3f5,#e7f0f4,#e9f0f4,#f2f5f6,#f8f2ef,#f9ebe3,#f9ede5,#f8f4f2,#eff3f5,#e9f0f4,#ecf2f5,#f3f5f6,#f8f2ef,#f9eee7,#f9f0eb,#f7f5f4,#f2f5f6,#edf2f5,#eff3f5,#f5f6f7,#f8f3f0,#f8f1ed,#f8f2ef,#f7f7f7,#f2f5f6,#eff3f5,#eff3f5,#f2f5f6,#f5f6f7,#f7f7f7,#f5f6f7,#f0f4f6,#ecf2f5,#e9f0f4,#e9f0f4,#eaf1f5,#eaf1f5,#eaf1f5,#e9f0f4,#e7f0f4,#e4eef4,#e3edf3,#e3edf3,#e3edf3,#e4eef4,#e4eef4,#e3edf3,#e3edf3,#e1edf3,#e1edf3,#e1edf3,#e3edf3 640px,#e3edf3 720px)"></i>
<i style="left:415px;background:linear-gradient(#f7f7f7 260px,#f5f6f7,#f5f6f7,#f7f7f7,#f7f7f7,#f7f5f4,#f7f5f4,#f7f7f7,#f7f7f7,#f3f5f6,#f3f5f6,#f5f6f7,#f7f5f4,#f8f3f0,#f8f3f0,#f7f5f4,#f5f6f7,#f0f4f6,#f0f4f6,#f3f5f6,#f8f4f2,#f9f0eb,#f9f0eb,#f8f4f2,#f2f5f6,#ecf2f5,#ecf2f5,#f3f5f6,#f8f3f0,#f9eee7,#f9eee7,#f8f3f0,#f0f4f6,#e9f0f4,#e9f0f4,#f2f5f6,#f8f2ef,#f9ebe3,#f9ebe3,#f8f2ef,#f0f4f6,#e7f0f4,#e7f0f4,#f0f4f6,#f8f2ef,#f9ebe3,#f9ebe3,#f8f2ef,#f0f4f6,#e7f0f4,#e9f0f4,#f2f5f6,#f8f2ef,#f9ede5,#f9eee7,#f8f4f2,#f0f4f6,#eaf1f5,#ecf2f5,#f3f5f6,#f8f3f0,#f9efe9,#f9f0eb,#f8f4f2,#f3f5f6,#eff3f5,#eff3f5,#f3f5f6,#f7f5f4,#f8f4f2,#f7f5f4,#f5f6f7,#f0f4f6,#ecf2f5,#ecf2f5,#edf2f5,#f0f4f6,#f0f4f6,#eff3f5,#ecf2f5,#e9f0f4,#e6eff4 584px,#e6eff4 604px,#e4eef4,#e3edf3,#e1edf3,#e1edf3,#e3edf3 624px,#e3edf3 644px,#e1edf3,#e3edf3 652px,#e3edf3 720px)"></i>
<i style="left:420px;background:linear-gradient(#f7f7f7 232px,#f5f6f7,#f7f7f7,#f7f7f7,#f7f7f7,#f7f5f4,#f7f5f4,#f7f7f7,#f5f6f7,#f3f5f6,#f5f6f7,#f7f7f7,#f8f4f2,#f8f3f0,#f8f4f2,#f7f7f7,#f2f5f6,#eff3f5,#f2f5f6,#f7f7f7,#f8f2ef,#f9f0eb,#f8f1ed,#f7f7f7,#eff3f5,#eaf1f5,#ecf2f5,#f7f7f7,#f9efe9,#faeae1,#f9eee7,#f7f7f7,#e9f0f4,#e3edf3,#e7f0f4,#f7f7f7,#faeae1,#fbe5d8,#faeae1,#f7f7f7,#e4eef4,#ddebf2,#e4eef4,#f7f7f7,#fae8de,#fce2d2,#fae8de,#f7f7f7,#e3edf3,#dae9f2,#e1edf3,#f7f7f7,#fae8de,#fce2d2,#fae8de,#f7f7f7,#e4eef4,#dbeaf2,#e4eef4,#f7f7f7,#fae9df,#fbe5d8,#f9ebe3,#f7f7f7,#e7f0f4,#e1edf3,#e9f0f4,#f7f7f7,#f9eee7,#faeae1,#f9efe9,#f7f7f7,#ecf2f5,#e9f0f4,#edf2f5,#f7f7f7,#f8f2ef,#f8f1ed,#f8f4f2,#f2f5f6,#ecf2f5,#e9f0f4,#eaf1f5,#eff3f5,#f2f5f6,#f2f5f6,#eff3f5,#eaf1f5,#e6eff4,#e3edf3,#e4eef4,#e6eff4,#e7f0f4,#e6eff4,#e4eef4,#e3edf3,#e1edf3,#e1edf3,#e1edf3,#e3edf3 628px,#e3edf3 644px,#e1edf3,#e1edf3,#e1edf3,#e3edf3 660px,#e3edf3 720px)"></i>
<i style="left:425px;background:linear-gradient(#f7f7f7 232px,#f5f6f7,#f5f6f7,#f7f7f7,#f7f5f4,#f8f4f2,#f8f4f2,#f7f7f7,#f5f6f7,#f2f5f6,#f2f5f6,#f7f7f7,#f8f4f2,#f8f1ed,#f8f2ef,#f7f5f4,#f2f5f6,#ecf2f5,#edf2f5,#f5f6f7,#f8f1ed,#f9ede5,#f9eee7,#f8f4f2,#edf2f5,#e4eef4,#e6eff4,#f5f6f7,#f9ede5,#fbe5d8,#fae8de,#f8f4f2,#e6eff4,#d8e9f1,#deebf2,#f2f5f6,#fae8de,#fdddcb,#fce2d2,#f8f3f0,#e0ecf3,#cfe4ef,#d7e8f1,#f0f4f6,#fbe5d8,#fcd7c2,#fdddcb,#f8f1ed,#deebf2,#cae1ee,#d4e6f1,#eff3f5,#fbe5d8,#fcd7c2,#fdddcb,#f8f1ed,#e0ecf3,#cfe4ef,#d8e9f1,#f2f5f6,#fbe6da,#fdddcb,#fbe3d4,#f8f3f0,#e3edf3,#d8e9f1,#deebf2,#f3f5f6,#f9ebe3,#fbe4d6,#fae8de,#f8f4f2,#eaf1f5,#e3edf3,#e6eff4,#f2f5f6,#f8f1ed,#f9eee7,#f8f1ed,#f5f6f7,#eaf1f5,#e4eef4,#e6eff4,#ecf2f5,#f2f5f6,#f3f5f6,#f0f4f6,#eaf1f5,#e4eef4,#e1edf3,#e3edf3,#e4eef4,#e7f0f4,#e7f0f4,#e6eff4,#e3edf3,#e1edf3,#e0ecf3,#e1edf3,#e3edf3,#e3edf3,#e4eef4,#e3edf3,#e3edf3,#e1edf3,#e1edf3,#e1edf3,#e3edf3 660px,#e3edf3 720px)"></i>
<i style="left:430px;background:linear-gradient(#f7f7f7 216px,#f7f5f4,#f7f5f4,#f7f7f7,#f7f7f7,#f5f6f7,#f5f6f7,#f7f7f7,#f7f5f4,#f8f4f2,#f8f4f2,#f7f7f7,#f3f5f6,#f0f4f6,#f0f4f6,#f5f6f7,#f8f3f0,#f9f0eb,#f9f0eb,#f8f4f2,#f0f4f6,#e9f0f4,#e9f0f4,#f3f5f6,#f9f0eb,#fae9df,#fae9df,#f8f2ef,#ecf2f5,#deebf2,#deebf2,#f0f4f6,#faeae1,#fcdfcf,#fce2d2,#f8f1ed,#e3edf3,#d1e5f0,#d4e6f1,#edf2f5,#fbe6da,#fbd0b9,#fcd7c2,#f9efe9,#ddebf2,#bddbea,#c5dfec,#e9f0f4,#fbe3d4,#f9c6ac,#fbccb4,#f9ede5,#dbeaf2,#b6d7e8,#bddbea,#e7f0f4,#fbe3d4,#f9c4a9,#fbccb4,#f9ebe3,#ddebf2,#bddbea,#c7e0ed,#ecf2f5,#fbe4d6,#fbceb7,#fdd9c4,#f9f0eb,#e0ecf3,#cfe4ef,#d5e7f1,#edf2f5,#fae9df,#fcdecd,#fbe3d4,#f8f1ed,#e9f0f4,#dbeaf2,#e0ecf3,#eff3f5,#f9f0eb,#faeae1,#f9eee7,#f7f7f7,#e9f0f4,#e1edf3,#e3edf3,#eaf1f5,#f3f5f6,#f7f7f7,#f3f5f6,#ecf2f5,#e4eef4,#e0ecf3,#e1edf3,#e4eef4,#e7f0f4,#e9f0f4,#e7f0f4,#e4eef4,#e1edf3,#e0ecf3,#e0ecf3,#e1edf3,#e4eef4,#e4eef4,#e4eef4,#e3edf3,#e1edf3,#e1edf3,#e1edf3,#e3edf3 660px,#e3edf3 680px,#e1edf3,#e1edf3,#e3edf3 692px,#e3edf3 720px)"></i>
<i style="left:435px;background:linear-gradient(#f7f7f7 216px,#f7f5f4,#f7f5f4,#f7f7f7,#f5f6f7,#f3f5f6,#f3f5f6,#f7f7f7,#f7f5f4,#f8f3f0,#f8f3f0,#f7f5f4,#f3f5f6,#eff3f5,#eff3f5,#f3f5f6,#f8f3f0,#f9efe9,#f9eee7,#f8f3f0,#f0f4f6,#e6eff4,#e6eff4,#f0f4f6,#f9f0eb,#fbe6da,#fbe6da,#f8f1ed,#eaf1f5,#d8e9f1,#d8e9f1,#edf2f5,#fae9df,#fdd9c4,#fddcc9,#f9eee7,#e0ecf3,#c2ddec,#c7e0ed,#e7f0f4,#fbe4d6,#f9c4a9,#fac8af,#faeae1,#dae9f2,#acd2e5,#b1d5e7,#e3edf3,#fce0d0,#f7b596,#f7b99c,#fae7dc,#d8e9f1,#a2cde3,#a7d0e4,#e0ecf3,#fce0d0,#f7b596,#f7b99c,#fbe6da,#dbeaf2,#a9d1e5,#b3d6e8,#e6eff4,#fce2d2,#f9c2a7,#facab1,#f9ebe3,#deebf2,#c0dceb,#cae1ee,#e9f0f4,#fae8de,#fcd7c2,#fdddcb,#f9efe9,#e6eff4,#d7e8f1,#dae9f2,#ecf2f5,#f9f0eb,#fae7dc,#fae9df,#f7f5f4,#e9f0f4,#deebf2,#e0ecf3,#e9f0f4,#f3f5f6,#f7f5f4,#f7f7f7,#edf2f5,#e4eef4,#deebf2,#e0ecf3,#e3edf3,#e9f0f4,#eaf1f5,#e9f0f4,#e4eef4,#e0ecf3,#deebf2,#e0ecf3,#e1edf3,#e4eef4,#e4eef4,#e4eef4,#e3edf3,#e1edf3 648px,#e1edf3 660px,#e3edf3 664px,#e3edf3 680px,#e1edf3,#e1edf3,#e3edf3 692px,#e3edf3 720px)"></i>
<i style="left:440px;background:linear-gradient(#f7f7f7 204px,#f5f6f7,#f7f7f7,#f7f7f7,#f7f5f4,#f7f5f4,#f7f7f7,#f5f6f7,#f3f5f6,#f3f5f6,#f5f6f7,#f7f5f4,#f8f2ef,#f8f2ef,#f7f5f4,#f3f5f6,#edf2f5,#edf2f5,#f3f5f6,#f8f3f0,#f9ede5,#f9ede5,#f8f3f0,#eff3f5,#e4eef4,#e3edf3,#eff3f5,#f9efe9,#fbe4d6,#fbe3d4,#f9efe9,#e9f0f4,#d4e6f1,#d2e6f0,#eaf1f5,#fae8de,#fbd0b9,#fcd3bc,#f9ebe3,#deebf2,#b6d7e8,#b8d8e9,#e3edf3,#fce2d2,#f7b799,#f7b99c,#fbe6da,#d7e8f1,#9bc9e0,#9dcbe1,#ddebf2,#fcdecd,#f4a683,#f5a886,#fce2d2,#d5e7f1,#90c4dd,#93c6de,#d8e9f1,#fcdfcf,#f4a683,#f5a886,#fce2d2,#d8e9f1,#9bc9e0,#a2cde3,#e0ecf3,#fcdfcf,#f6b394,#f8bb9e,#fae7dc,#dbeaf2,#b1d5e7,#bbdaea,#e4eef4,#fbe6da,#fbceb7,#fcd5bf,#f9ebe3,#e6eff4,#d1e5f0,#d4e6f1,#e9f0f4,#f9efe9,#fbe4d6,#fbe6da,#f8f3f0,#e7f0f4,#dbeaf2,#ddebf2,#e7f0f4,#f3f5f6,#f8f4f2,#f7f7f7,#eff3f5,#e4eef4,#ddebf2,#deebf2,#e3edf3,#e9f0f4,#eaf1f5,#e9f0f4,#e4eef4,#e0ecf3,#deebf2,#deebf2,#e1edf3,#e4eef4,#e6eff4,#e4eef4,#e3edf3,#e1edf3 648px,#e1edf3 660px,#e3edf3 664px,#e3edf3 680px,#e1edf3,#e1edf3,#e3edf3 692px,#e3edf3 720px)"></i>
<i style="left:445px;background:linear-gradient(#f7f7f7 200px,#f5f6f7,#f5f6f7,#f7f7f7,#f7f7f7,#f7f5f4,#f8f4f2,#f7f7f7,#f5f6f7,#f3f5f6,#f2f5f6,#f5f6f7,#f7f5f4,#f8f2ef,#f8f2ef,#f8f4f2,#f3f5f6,#edf2f5,#ecf2f5,#f2f5f6,#f8f2ef,#f9ebe3,#faeae1,#f8f2ef,#eff3f5,#e1edf3,#e0ecf3,#edf2f5,#f9efe9,#fce2d2,#fcdfcf,#f9ede5,#e9f0f4,#d1e5f0,#cce2ef,#e7f0f4,#fae7dc,#facab1,#fac8af,#fae8de,#ddebf2,#a9d1e5,#a9d1e5,#deebf2,#fce0d0,#f5ac8b,#f5aa89,#fce2d2,#d5e7f1,#8ac0db,#8ac0db,#d7e8f1,#fdddcb,#ee9677,#ec9374,#fdddcb,#d4e6f1,#7bb6d6,#7bb6d6,#d2e6f0,#fdddcb,#ee9677,#ec9374,#fddcc9,#d7e8f1,#8ac0db,#90c4dd,#dae9f2,#fcdecd,#f5a886,#f6af8e,#fbe4d6,#dae9f2,#a7d0e4,#acd2e5,#e0ecf3,#fbe6da,#f9c6ac,#facab1,#fae9df,#e4eef4,#cae1ee,#cce2ef,#e6eff4,#f9eee7,#fce2d2,#fbe4d6,#f8f1ed,#e7f0f4,#d8e9f1,#dae9f2,#e6eff4,#f5f6f7,#f8f3f0,#f8f4f2,#f0f4f6,#e4eef4,#dbeaf2,#ddebf2,#e3edf3,#e9f0f4,#ecf2f5,#eaf1f5,#e6eff4,#e0ecf3,#ddebf2,#deebf2,#e1edf3,#e4eef4,#e6eff4,#e6eff4,#e3edf3,#e1edf3,#e0ecf3,#e1edf3,#e1edf3,#e3edf3,#e4eef4,#e3edf3,#e3edf3,#e3edf3,#e1edf3,#e1edf3,#e3edf3 692px,#e3edf3 720px)"></i>
<i style="left:450px;background:linear-gradient(#f7f7f7 200px,#f5f6f7,#f5f6f7,#f7f7f7,#f7f7f7,#f8f4f2,#f8f4f2,#f7f7f7,#f5f6f7,#f2f5f6,#f2f5f6,#f5f6f7,#f7f5f4,#f8f1ed,#f8f1ed,#f8f4f2,#f3f5f6,#ecf2f5,#eaf1f5,#f2f5f6,#f8f2ef,#faeae1,#fae9df,#f8f1ed,#eff3f5,#e0ecf3,#ddebf2,#eaf1f5,#f9efe9,#fcdfcf,#fdddcb,#faeae1,#e7f0f4,#cae1ee,#c2ddec,#e4eef4,#fbe6da,#f9c2a7,#f8bfa4,#fbe6da,#dbeaf2,#a0cce2,#9dcbe1,#dae9f2,#fcdfcf,#f2a17f,#f19e7d,#fcdecd,#d4e6f1,#7bb6d6,#78b4d5,#d1e5f0,#fddcc9,#e6866a,#e58368,#fcd7c2,#d2e6f0,#6bacd1,#65a9cf,#cae1ee,#fdddcb,#e6866a,#e58368,#fcd5bf,#d5e7f1,#7bb6d6,#7bb6d6,#d5e7f1,#fdddcb,#f09c7b,#f2a17f,#fce0d0,#d8e9f1,#9bc9e0,#a0cce2,#dbeaf2,#fbe5d8,#f8bfa4,#f9c2a7,#fbe6da,#e3edf3,#c2ddec,#c5dfec,#e3edf3,#f9eee7,#fcdfcf,#fce0d0,#f9f0eb,#e7f0f4,#d7e8f1,#d7e8f1,#e4eef4,#f5f6f7,#f8f1ed,#f8f3f0,#f2f5f6,#e4eef4,#dbeaf2,#dbeaf2,#e1edf3,#e9f0f4,#edf2f5,#ecf2f5,#e6eff4,#e0ecf3,#ddebf2,#ddebf2,#e0ecf3,#e4eef4,#e6eff4,#e6eff4,#e4eef4,#e1edf3,#e0ecf3,#e0ecf3,#e1edf3,#e3edf3,#e4eef4,#e4eef4,#e3edf3,#e1edf3,#e1edf3,#e1edf3,#e3edf3 692px,#e3edf3 720px)"></i>
<i style="left:455px;background:linear-gradient(#f7f7f7 200px,#f5f6f7,#f5f6f7,#f7f7f7,#f7f7f7,#f8f4f2,#f8f4f2,#f7f5f4,#f5f6f7,#f2f5f6,#f2f5f6,#f5f6f7,#f7f5f4,#f8f1ed,#f9f0eb,#f8f4f2,#f3f5f6,#eaf1f5,#e9f0f4,#f0f4f6,#f8f2ef,#faeae1,#fae8de,#f9f0eb,#edf2f5,#deebf2,#dbeaf2,#e9f0f4,#f9eee7,#fdddcb,#fddbc7,#fae9df,#e7f0f4,#c5dfec,#bddbea,#e1edf3,#fbe5d8,#f8bda1,#f7b99c,#fbe3d4,#dae9f2,#98c8e0,#93c6de,#d5e7f1,#fcdfcf,#ee9677,#eb9172,#fdd9c4,#d2e6f0,#6eaed2,#65a9cf,#c7e0ed,#fddbc7,#e27b62,#de735c,#fbceb7,#d1e5f0,#5ca3cb,#529dc8,#c0dceb,#fddcc9,#e27b62,#de735c,#fbccb4,#d5e7f1,#6eaed2,#6bacd1,#cfe4ef,#fddcc9,#eb9172,#ec9374,#fdddcb,#d8e9f1,#93c6de,#96c7df,#d8e9f1,#fbe4d6,#f7b99c,#f8bb9e,#fbe4d6,#e3edf3,#bddbea,#bddbea,#e1edf3,#f9eee7,#fdddcb,#fcdecd,#f9efe9,#e7f0f4,#d5e7f1,#d4e6f1,#e3edf3,#f5f6f7,#f9f0eb,#f8f2ef,#f2f5f6,#e4eef4,#dae9f2,#dae9f2,#e1edf3,#e9f0f4,#edf2f5,#ecf2f5,#e6eff4,#e0ecf3,#ddebf2,#ddebf2,#e0ecf3,#e4eef4,#e6eff4,#e6eff4,#e4eef4,#e1edf3,#e0ecf3,#e0ecf3,#e1edf3,#e3edf3,#e4eef4,#e4eef4,#e3edf3,#e1edf3,#e1edf3,#e1edf3,#e3edf3 692px,#e3edf3 720px)"></i>
<i style="left:460px;background:linear-gradient(#f7f7f7 200px,#f5f6f7,#f5f6f7,#f7f7f7,#f7f7f7,#f8f4f2,#f8f4f2,#f7f5f4,#f5f6f7,#f2f5f6,#f0f4f6,#f3f5f6,#f8f4f2,#f8f1ed,#f9f0eb,#f8f3f0,#f2f5f6,#eaf1f5,#e9f0f4,#f0f4f6,#f8f2ef,#fae9df,#fae7dc,#f9efe9,#edf2f5,#ddebf2,#d8e9f1,#e7f0f4,#f9eee7,#fddcc9,#fcd7c2,#fae7dc,#e7f0f4,#c2ddec,#b6d7e8,#e0ecf3,#fbe5d8,#f7b799,#f6b394,#fce0d0,#dae9f2,#93c6de,#87beda,#d2e6f0,#fcdecd,#ea8e70,#e58368,#fcd3bc,#d2e6f0,#65a9cf,#569fc9,#c0dceb,#fddbc7,#dd7059,#d86551,#f9c6ac,#d1e5f0,#529dc8,#4393c3,#b6d7e8,#fddcc9,#dd7059,#d7634f,#f9c4a9,#d5e7f1,#62a7ce,#5ca3cb,#c7e0ed,#fddcc9,#e8896c,#e8896c,#fdd9c4,#d7e8f1,#8ac0db,#8ac0db,#d4e6f1,#fbe4d6,#f6b394,#f6b394,#fce2d2,#e3edf3,#b8d8e9,#b8d8e9,#deebf2,#f9eee7,#fddbc7,#fddcc9,#f9ede5,#e7f0f4,#d4e6f1,#d2e6f0,#e1edf3,#f5f6f7,#f9f0eb,#f8f1ed,#f3f5f6,#e4eef4,#dae9f2,#dae9f2,#e0ecf3,#e9f0f4,#eff3f5,#edf2f5,#e7f0f4,#e0ecf3,#ddebf2,#ddebf2,#e0ecf3,#e4eef4,#e6eff4,#e6eff4,#e4eef4,#e1edf3,#e0ecf3,#e0ecf3,#e1edf3,#e3edf3,#e4eef4,#e4eef4,#e3edf3,#e1edf3 680px,#e1edf3 692px,#e3edf3 696px,#e3edf3 720px)"></i>
<i style="left:465px;background:linear-gradient(#f7f7f7 188px,#f7f5f4,#f7f7f7,#f7f7f7,#f5f6f7,#f5f6f7,#f7f7f7,#f7f7f7,#f8f4f2,#f8f4f2,#f7f5f4,#f5f6f7,#f2f5f6,#f0f4f6,#f3f5f6,#f7f5f4,#f8f1ed,#f9f0eb,#f8f3f0,#f3f5f6,#eaf1f5,#e7f0f4,#eff3f5,#f8f2ef,#fae8de,#fbe6da,#f9efe9,#edf2f5,#dbeaf2,#d7e8f1,#e6eff4,#f9eee7,#fddbc7,#fcd3bc,#fbe6da,#e7f0f4,#bddbea,#b1d5e7,#ddebf2,#fbe5d8,#f7b596,#f5ac8b,#fcdecd,#dae9f2,#8dc2dc,#7eb8d7,#cce2ef,#fcdfcf,#e8896c,#e27b62,#fbceb7,#d4e6f1,#5ca3cb,#4997c5,#b8d8e9,#fddbc7,#db6b55,#d35a4a,#f8bfa4,#d1e5f0,#4997c5,#3e8cbf,#aed3e6,#fddcc9,#da6853,#d25849,#f8bda1,#d7e8f1,#5ca3cb,#4f9bc7,#c2ddec,#fddcc9,#e48066,#e37e64,#fcd3bc,#d8e9f1,#84bcd9,#81bad8,#d1e5f0,#fbe5d8,#f6b191,#f6af8e,#fcdfcf,#e3edf3,#b6d7e8,#b3d6e8,#ddebf2,#f9eee7,#fdd9c4,#fdd9c4,#f9ebe3,#e7f0f4,#d2e6f0,#d1e5f0,#e0ecf3,#f5f6f7,#f9efe9,#f9f0eb,#f5f6f7,#e4eef4,#d8e9f1,#d8e9f1,#e0ecf3,#e9f0f4,#eff3f5,#edf2f5,#e7f0f4,#e0ecf3,#dbeaf2,#ddebf2,#e0ecf3,#e4eef4,#e6eff4,#e6eff4,#e4eef4,#e1edf3,#e0ecf3,#e0ecf3,#e1edf3,#e3edf3,#e4eef4,#e4eef4,#e3edf3,#e1edf3 680px,#e1edf3 692px,#e3edf3 696px,#e3edf3 720px)"></i>
<i style="left:470px;background:linear-gradient(#f7f7f7 188px,#f7f5f4,#f7f7f7,#f7f7f7,#f5f6f7,#f5f6f7,#f5f6f7,#f7f7f7,#f8f4f2,#f8f4f2,#f7f5f4,#f5f6f7,#f2f5f6,#f0f4f6,#f3f5f6,#f7f5f4,#f9f0eb,#f9efe9,#f8f3f0,#f3f5f6,#e9f0f4,#e7f0f4,#eff3f5,#f8f2ef,#fae8de,#fbe6da,#f9eee7,#eff3f5,#dbeaf2,#d5e7f1,#e6eff4,#f9efe9,#fddbc7,#fbd0b9,#fbe5d8,#e7f0f4,#bddbea,#aed3e6,#dbeaf2,#fbe6da,#f6b394,#f5a886,#fdddcb,#dbeaf2,#87beda,#78b4d5,#c7e0ed,#fcdfcf,#e6866a,#de735c,#fac8af,#d4e6f1,#569fc9,#4291c2,#b1d5e7,#fddcc9,#d86551,#ce4f45,#f7b99c,#d2e6f0,#4393c3,#3885bc,#a7d0e4,#fdddcb,#d86551,#ce4f45,#f7b799,#d7e8f1,#569fc9,#4695c4,#bbdaea,#fddcc9,#e37e64,#e17860,#fbceb7,#d8e9f1,#81bad8,#7bb6d6,#cce2ef,#fbe5d8,#f5ac8b,#f5aa89,#fcdecd,#e4eef4,#b3d6e8,#b1d5e7,#dbeaf2,#f9eee7,#fcd7c2,#fcd7c2,#faeae1,#e7f0f4,#d1e5f0,#cfe4ef,#e0ecf3,#f5f6f7,#f9efe9,#f9efe9,#f5f6f7,#e4eef4,#d8e9f1,#d8e9f1,#e0ecf3,#e9f0f4,#eff3f5,#edf2f5,#e7f0f4,#e0ecf3,#dbeaf2,#dbeaf2,#e0ecf3,#e4eef4,#e7f0f4,#e6eff4,#e4eef4,#e1edf3,#e0ecf3,#e0ecf3,#e1edf3,#e3edf3,#e4eef4,#e4eef4,#e3edf3,#e1edf3 680px,#e1edf3 692px,#e3edf3 696px,#e3edf3 712px,#e1edf3,#e3edf3 720px)"></i>
<i style="left:475px;background:linear-gradient(#f7f7f7 188px,#f7f5f4,#f7f7f7,#f7f7f7,#f5f6f7,#f5f6f7,#f5f6f7,#f7f7f7,#f8f4f2,#f8f4f2,#f7f5f4,#f5f6f7,#f2f5f6,#f0f4f6,#f3f5f6,#f7f5f4,#f9f0eb,#f9efe9,#f8f3f0,#f3f5f6,#e9f0f4,#e6eff4,#eff3f5,#f8f2ef,#fae8de,#fbe5d8,#f9eee7,#eff3f5,#dae9f2,#d5e7f1,#e4eef4,#f9efe9,#fdd9c4,#fbceb7,#fbe4d6,#e9f0f4,#bbdaea,#acd2e5,#dae9f2,#fbe6da,#f6b191,#f4a683,#fddbc7,#dbeaf2,#87beda,#71b0d3,#c5dfec,#fce0d0,#e58368,#dc6e57,#f9c4a9,#d5e7f1,#569fc9,#3f8ec0,#acd2e5,#fdddcb,#d7634f,#cb4942,#f7b596,#d4e6f1,#4291c2,#3681ba,#a0cce2,#fcdecd,#d7634f,#cb4942,#f6b394,#d8e9f1,#529dc8,#4291c2,#b6d7e8,#fdddcb,#e27b62,#de735c,#facab1,#dae9f2,#7eb8d7,#75b2d4,#cae1ee,#fbe6da,#f5ac8b,#f5a886,#fddcc9,#e4eef4,#b1d5e7,#aed3e6,#dae9f2,#f9eee7,#fcd7c2,#fcd5bf,#fae9df,#e9f0f4,#d1e5f0,#cfe4ef,#deebf2,#f5f6f7,#f9eee7,#f9eee7,#f7f7f7,#e4eef4,#d8e9f1,#d7e8f1,#e0ecf3,#e9f0f4,#eff3f5,#eff3f5,#e7f0f4,#e0ecf3,#dbeaf2,#dbeaf2,#e0ecf3,#e4eef4,#e7f0f4,#e7f0f4,#e4eef4,#e1edf3,#e0ecf3,#e0ecf3,#e1edf3,#e3edf3,#e4eef4,#e4eef4,#e3edf3,#e3edf3,#e1edf3,#e1edf3,#e1edf3,#e3edf3 696px,#e3edf3 712px,#e1edf3,#e3edf3 720px)"></i>
<i style="left:480px;background:linear-gradient(#f7f7f7 188px,#f7f5f4,#f7f7f7,#f7f7f7,#f5f6f7,#f5f6f7,#f5f6f7,#f7f7f7,#f8f4f2,#f8f4f2,#f7f5f4,#f5f6f7,#f2f5f6,#f0f4f6,#f3f5f6,#f7f5f4,#f9f0eb,#f9efe9,#f8f2ef,#f3f5f6,#e9f0f4,#e6eff4,#edf2f5,#f8f3f0,#fae8de,#fbe5d8,#f9ede5,#eff3f5,#dae9f2,#d4e6f1,#e3edf3,#f9efe9,#fddbc7,#fbceb7,#fbe4d6,#eaf1f5,#bbdaea,#a9d1e5,#d8e9f1,#fae7dc,#f6b191,#f3a481,#fdd9c4,#ddebf2,#87beda,#6eaed2,#c0dceb,#fce2d2,#e58368,#db6b55,#f9c2a7,#d7e8f1,#569fc9,#3e8cbf,#a7d0e4,#fcdecd,#d7634f,#c94741,#f6b191,#d7e8f1,#4291c2,#3480b9,#9bc9e0,#fce0d0,#d7634f,#c94741,#f6af8e,#dbeaf2,#529dc8,#408fc1,#b1d5e7,#fcdecd,#e27b62,#dc6e57,#fac8af,#dbeaf2,#7eb8d7,#71b0d3,#c5dfec,#fae7dc,#f5ac8b,#f4a683,#fddbc7,#e6eff4,#b1d5e7,#acd2e5,#d8e9f1,#f9efe9,#fcd7c2,#fcd5bf,#fae8de,#e9f0f4,#d1e5f0,#cce2ef,#deebf2,#f5f6f7,#f9eee7,#f9eee7,#f7f7f7,#e6eff4,#d8e9f1,#d7e8f1,#deebf2,#e9f0f4,#eff3f5,#eff3f5,#e9f0f4,#e1edf3,#dbeaf2,#dbeaf2,#e0ecf3,#e4eef4,#e7f0f4,#e7f0f4,#e4eef4,#e1edf3,#e0ecf3,#e0ecf3,#e1edf3,#e3edf3,#e4eef4,#e4eef4,#e3edf3,#e3edf3,#e1edf3,#e1edf3,#e1edf3,#e3edf3 696px,#e3edf3 712px,#e1edf3,#e3edf3 720px)"></i>
<i style="left:485px;background:linear-gradient(#f7f7f7 188px,#f7f5f4,#f7f7f7,#f7f7f7,#f5f6f7,#f5f6f7,#f5f6f7,#f7f7f7,#f8f4f2,#f8f4f2,#f7f5f4,#f5f6f7,#f2f5f6,#f0f4f6,#f3f5f6,#f7f5f4,#f9f0eb,#f9efe9,#f8f2ef,#f3f5f6,#e9f0f4,#e6eff4,#edf2f5,#f8f3f0,#fae8de,#fbe5d8,#f9ede5,#f0f4f6,#dbeaf2,#d4e6f1,#e3edf3,#f9f0eb,#fddbc7,#fbceb7,#fbe3d4,#eaf1f5,#bddbea,#a9d1e5,#d7e8f1,#fae8de,#f6b394,#f3a481,#fcd7c2,#deebf2,#87beda,#6eaed2,#bddbea,#fbe3d4,#e6866a,#db6b55,#f8bda1,#dae9f2,#59a1ca,#3e8cbf,#a5cee3,#fce0d0,#d86551,#c84440,#f5ac8b,#d8e9f1,#4393c3,#337eb8,#98c8e0,#fce2d2,#d86551,#c84440,#f5ac8b,#ddebf2,#569fc9,#3f8ec0,#aed3e6,#fce0d0,#e27b62,#dc6e57,#f9c4a9,#ddebf2,#7eb8d7,#71b0d3,#c2ddec,#fae8de,#f5ac8b,#f3a481,#fdd9c4,#e7f0f4,#b3d6e8,#acd2e5,#d7e8f1,#f9f0eb,#fcd7c2,#fcd3bc,#fae8de,#eaf1f5,#d2e6f0,#cce2ef,#deebf2,#f3f5f6,#f9eee7,#f9eee7,#f7f7f7,#e6eff4,#d8e9f1,#d7e8f1,#deebf2,#e9f0f4,#eff3f5,#eff3f5,#e9f0f4,#e1edf3,#dbeaf2,#dbeaf2,#e0ecf3,#e4eef4,#e7f0f4,#e7f0f4,#e4eef4,#e1edf3,#e0ecf3,#e0ecf3,#e1edf3,#e3edf3,#e4eef4,#e4eef4,#e3edf3,#e3edf3,#e1edf3,#e1edf3,#e1edf3,#e3edf3 696px,#e3edf3 712px,#e1edf3,#e3edf3 720px)"></i>
<i style="left:490px;background:linear-gradient(#f7f7f7 188px,#f7f5f4,#f7f7f7,#f7f7f7,#f5f6f7,#f5f6f7,#f5f6f7,#f7f7f7,#f8f4f2,#f8f4f2,#f7f5f4,#f7f7f7,#f2f5f6,#f0f4f6,#f3f5f6,#f7f5f4,#f8f1ed,#f9efe9,#f8f2ef,#f3f5f6,#eaf1f5,#e6eff4,#edf2f5,#f8f3f0,#fae9df,#fbe5d8,#f9ede5,#f0f4f6,#dbeaf2,#d4e6f1,#e3edf3,#f8f1ed,#fddbc7,#fbceb7,#fbe3d4,#ecf2f5,#c0dceb,#a9d1e5,#d5e7f1,#fae9df,#f7b596,#f3a481,#fcd5bf,#e1edf3,#8dc2dc,#6eaed2,#bbdaea,#fbe5d8,#e8896c,#db6b55,#f8bb9e,#dbeaf2,#5ca3cb,#3e8cbf,#a2cde3,#fbe3d4,#db6b55,#c94741,#f5aa89,#dbeaf2,#4997c5,#3480b9,#96c7df,#fbe4d6,#da6853,#c94741,#f5aa89,#e0ecf3,#5ca3cb,#3f8ec0,#acd2e5,#fce2d2,#e48066,#dc6e57,#f9c4a9,#e0ecf3,#84bcd9,#71b0d3,#c0dceb,#fae9df,#f6af8e,#f4a683,#fdd9c4,#e9f0f4,#b6d7e8,#acd2e5,#d7e8f1,#f9f0eb,#fdd9c4,#fcd3bc,#fae7dc,#ecf2f5,#d2e6f0,#cce2ef,#ddebf2,#f3f5f6,#f9eee7,#f9eee7,#f7f7f7,#e6eff4,#d8e9f1,#d7e8f1,#deebf2,#e9f0f4,#eff3f5,#eff3f5,#e9f0f4,#e1edf3,#dbeaf2,#dbeaf2,#deebf2,#e4eef4,#e7f0f4,#e7f0f4,#e4eef4,#e1edf3,#e0ecf3,#e0ecf3,#e1edf3,#e3edf3,#e4eef4,#e4eef4,#e3edf3,#e3edf3,#e1edf3,#e1edf3,#e1edf3,#e3edf3 696px,#e3edf3 712px,#e1edf3,#e3edf3 720px)"></i>
<i style="left:495px;background:linear-gradient(#f7f7f7 188px,#f7f5f4,#f7f7f7,#f7f7f7,#f5f6f7,#f5f6f7,#f5f6f7,#f7f7f7,#f8f4f2,#f8f4f2,#f7f5f4,#f7f7f7,#f2f5f6,#f0f4f6,#f3f5f6,#f7f5f4,#f8f1ed,#f9efe9,#f8f2ef,#f3f5f6,#eaf1f5,#e7f0f4,#edf2f5,#f8f4f2,#fae9df,#fbe6da,#f9ede5,#f2f5f6,#ddebf2,#d5e7f1,#e3edf3,#f8f1ed,#fddcc9,#fbd0b9,#fbe3d4,#edf2f5,#c2ddec,#acd2e5,#d5e7f1,#faeae1,#f7b799,#f4a683,#fcd5bf,#e3edf3,#90c4dd,#71b0d3,#bbdaea,#fbe6da,#ea8e70,#dd7059,#f8bb9e,#deebf2,#62a7ce,#3f8ec0,#a0cce2,#fbe5d8,#dd7059,#cb4942,#f5aa89,#deebf2,#4f9bc7,#3681ba,#93c6de,#fbe6da,#dd7059,#cb4942,#f5a886,#e3edf3,#62a7ce,#408fc1,#a9d1e5,#fbe4d6,#e6866a,#dd7059,#f9c2a7,#e1edf3,#87beda,#75b2d4,#c0dceb,#faeae1,#f6b394,#f4a683,#fdd9c4,#eaf1f5,#b8d8e9,#aed3e6,#d7e8f1,#f8f1ed,#fddbc7,#fcd5bf,#fae7dc,#ecf2f5,#d4e6f1,#cfe4ef,#ddebf2,#f3f5f6,#f9efe9,#f9eee7,#f7f7f7,#e7f0f4,#dae9f2,#d8e9f1,#deebf2,#e9f0f4,#eff3f5,#eff3f5,#e9f0f4,#e1edf3,#ddebf2,#dbeaf2,#e0ecf3,#e3edf3,#e6eff4,#e7f0f4,#e4eef4,#e1edf3,#e0ecf3,#e0ecf3,#e1edf3,#e3edf3,#e4eef4,#e4eef4,#e3edf3,#e3edf3,#e1edf3,#e1edf3,#e1edf3,#e3edf3 696px,#e3edf3 720px)"></i>
<i style="left:500px;background:linear-gradient(#f7f7f7 188px,#f7f5f4,#f7f7f7,#f7f7f7,#f5f6f7,#f5f6f7,#f5f6f7,#f7f7f7,#f8f4f2,#f8f4f2,#f7f5f4,#f7f7f7,#f2f5f6,#f0f4f6,#f3f5f6,#f7f5f4,#f8f1ed,#f9f0eb,#f8f2ef,#f5f6f7,#eaf1f5,#e7f0f4,#edf2f5,#f8f4f2,#faeae1,#fbe6da,#f9ede5,#f2f5f6,#deebf2,#d7e8f1,#e3edf3,#f8f2ef,#fcdecd,#fcd3bc,#fbe3d4,#eff3f5,#c5dfec,#aed3e6,#d5e7f1,#f9ebe3,#f8bb9e,#f5a886,#fcd5bf,#e4eef4,#98c8e0,#78b4d5,#bbdaea,#fae8de,#ee9677,#de735c,#f8bb9e,#e1edf3,#6bacd1,#4291c2,#a0cce2,#fae7dc,#e17860,#ce4f45,#f5aa89,#e1edf3,#59a1ca,#3885bc,#93c6de,#fae9df,#e17860,#ce4f45,#f5a886,#e6eff4,#6bacd1,#4393c3,#a9d1e5,#fbe6da,#e98b6e,#df765e,#f9c2a7,#e4eef4,#90c4dd,#78b4d5,#c0dceb,#f9ede5,#f7b799,#f5aa89,#fdd9c4,#ecf2f5,#bbdaea,#b1d5e7,#d7e8f1,#f8f2ef,#fddcc9,#fcd7c2,#fae7dc,#edf2f5,#d5e7f1,#d1e5f0,#deebf2,#f3f5f6,#f9efe9,#f9eee7,#f7f7f7,#e7f0f4,#dbeaf2,#d8e9f1,#e0ecf3,#e9f0f4,#eff3f5,#eff3f5,#e9f0f4,#e1edf3,#ddebf2,#ddebf2,#e0ecf3,#e3edf3,#e6eff4,#e6eff4,#e4eef4,#e1edf3,#e0ecf3,#e0ecf3,#e1edf3,#e3edf3,#e4eef4,#e4eef4,#e3edf3,#e3edf3,#e1edf3,#e1edf3,#e1edf3,#e3edf3 696px,#e3edf3 720px)"></i>
<i style="left:505px;background:linear-gradient(#f7f7f7 200px,#f5f6f7,#f5f6f7,#f5f6f7,#f7f7f7,#f8f4f2,#f8f4f2,#f7f5f4,#f7f7f7,#f2f5f6,#f0f4f6,#f3f5f6,#f7f5f4,#f8f1ed,#f9f0eb,#f8f2ef,#f5f6f7,#ecf2f5,#e9f0f4,#edf2f5,#f8f4f2,#faeae1,#fae7dc,#f9ede5,#f2f5f6,#e0ecf3,#d8e9f1,#e3edf3,#f8f3f0,#fcdfcf,#fcd5bf,#fbe3d4,#f0f4f6,#cae1ee,#b3d6e8,#d7e8f1,#f9ede5,#f8bfa4,#f5ac8b,#fcd7c2,#e7f0f4,#9dcbe1,#7eb8d7,#bbdaea,#faeae1,#f19e7d,#e27b62,#f8bda1,#e4eef4,#78b4d5,#4997c5,#a2cde3,#fae9df,#e48066,#d25849,#f5aa89,#e6eff4,#65a9cf,#3c8abe,#96c7df,#f9ebe3,#e48066,#d25849,#f5aa89,#e9f0f4,#75b2d4,#4c99c6,#a9d1e5,#fae8de,#ec9374,#e27b62,#f9c2a7,#e7f0f4,#96c7df,#81bad8,#c0dceb,#f9eee7,#f8bb9e,#f6af8e,#fdd9c4,#edf2f5,#c0dceb,#b3d6e8,#d7e8f1,#f8f3f0,#fdddcb,#fdd9c4,#fae7dc,#eff3f5,#d7e8f1,#d2e6f0,#deebf2,#f2f5f6,#f9f0eb,#f9efe9,#f7f7f7,#e9f0f4,#dbeaf2,#dae9f2,#e0ecf3,#e9f0f4,#eff3f5,#eff3f5,#e9f0f4,#e1edf3,#ddebf2,#ddebf2,#e0ecf3,#e3edf3,#e6eff4,#e6eff4,#e4eef4,#e1edf3,#e0ecf3,#e0ecf3,#e1edf3,#e3edf3,#e4eef4,#e4eef4,#e3edf3,#e3edf3,#e1edf3,#e1edf3,#e1edf3,#e3edf3 696px,#e3edf3 720px)"></i>
<i style="left:510px;background:linear-gradient(#f7f7f7 200px,#f5f6f7,#f5f6f7,#f5f6f7,#f7f7f7,#f7f5f4,#f8f4f2,#f7f5f4,#f7f7f7,#f3f5f6,#f2f5f6,#f3f5f6,#f7f7f7,#f8f2ef,#f9f0eb,#f8f3f0,#f5f6f7,#ecf2f5,#e9f0f4,#edf2f5,#f7f5f4,#f9ebe3,#fae8de,#f9eee7,#f3f5f6,#e1edf3,#dae9f2,#e4eef4,#f8f3f0,#fce0d0,#fdd9c4,#fbe4d6,#f0f4f6,#cfe4ef,#b8d8e9,#d7e8f1,#f9efe9,#f9c6ac,#f6b394,#fdd9c4,#e9f0f4,#a5cee3,#87beda,#c0dceb,#f9ede5,#f4a683,#e6866a,#f8bfa4,#e7f0f4,#84bcd9,#569fc9,#a5cee3,#f9ebe3,#ea8e70,#d86551,#f6af8e,#e9f0f4,#75b2d4,#4393c3,#9bc9e0,#f9eee7,#ea8e70,#d7634f,#f6af8e,#ecf2f5,#84bcd9,#59a1ca,#aed3e6,#faeae1,#f19e7d,#e6866a,#f9c6ac,#e9f0f4,#a0cce2,#8ac0db,#c5dfec,#f9efe9,#f9c2a7,#f6b394,#fddbc7,#eff3f5,#c7e0ed,#b8d8e9,#d8e9f1,#f8f3f0,#fcdfcf,#fddbc7,#fae8de,#eff3f5,#dae9f2,#d4e6f1,#e0ecf3,#f2f5f6,#f8f1ed,#f9f0eb,#f7f7f7,#e9f0f4,#ddebf2,#dae9f2,#e0ecf3,#e9f0f4,#edf2f5,#edf2f5,#e9f0f4,#e3edf3,#ddebf2,#ddebf2,#e0ecf3,#e3edf3,#e6eff4,#e6eff4,#e4eef4,#e1edf3,#e0ecf3,#e0ecf3,#e1edf3,#e3edf3,#e4eef4,#e4eef4,#e3edf3,#e3edf3,#e1edf3,#e1edf3,#e1edf3,#e3edf3 696px,#e3edf3 720px)"></i>
<i style="left:515px;background:linear-gradient(#f7f7f7 204px,#f5f6f7,#f7f7f7,#f7f7f7,#f7f5f4,#f8f4f2,#f7f5f4,#f7f7f7,#f3f5f6,#f2f5f6,#f3f5f6,#f7f7f7,#f8f2ef,#f8f1ed,#f8f3f0,#f5f6f7,#edf2f5,#eaf1f5,#eff3f5,#f7f5f4,#f9ede5,#fae9df,#f9eee7,#f3f5f6,#e3edf3,#dbeaf2,#e6eff4,#f8f4f2,#fbe3d4,#fddcc9,#fbe5d8,#f2f5f6,#d2e6f0,#c0dceb,#dae9f2,#f9f0eb,#fbccb4,#f8bb9e,#fddbc7,#ecf2f5,#aed3e6,#96c7df,#c5dfec,#f9eee7,#f6b191,#ec9374,#f9c4a9,#eaf1f5,#93c6de,#68abd0,#acd2e5,#f9eee7,#f09c7b,#de735c,#f7b596,#eaf1f5,#84bcd9,#569fc9,#a2cde3,#f9efe9,#f09c7b,#de735c,#f7b596,#edf2f5,#90c4dd,#68abd0,#b3d6e8,#f9ede5,#f5aa89,#ec9374,#facab1,#ecf2f5,#a9d1e5,#96c7df,#cae1ee,#f9f0eb,#fac8af,#f8bb9e,#fdddcb,#f0f4f6,#cce2ef,#c0dceb,#dae9f2,#f8f4f2,#fce2d2,#fdddcb,#fae9df,#f0f4f6,#dbeaf2,#d7e8f1,#e1edf3,#f2f5f6,#f8f2ef,#f9f0eb,#f7f7f7,#e9f0f4,#deebf2,#dbeaf2,#e1edf3,#e9f0f4,#edf2f5,#edf2f5,#e9f0f4,#e3edf3,#deebf2,#ddebf2,#e0ecf3,#e3edf3,#e6eff4,#e6eff4,#e4eef4,#e1edf3,#e0ecf3,#e0ecf3,#e1edf3,#e3edf3,#e4eef4,#e4eef4,#e3edf3,#e3edf3,#e1edf3,#e1edf3,#e1edf3,#e3edf3 696px,#e3edf3 720px)"></i>
<i style="left:520px;background:linear-gradient(#f7f7f7 204px,#f5f6f7,#f7f7f7,#f7f7f7,#f7f5f4,#f8f4f2,#f7f5f4,#f7f7f7,#f3f5f6,#f2f5f6,#f3f5f6,#f7f7f7,#f8f3f0,#f8f2ef,#f8f3f0,#f5f6f7,#eff3f5,#ecf2f5,#f0f4f6,#f7f5f4,#f9eee7,#faeae1,#f9efe9,#f5f6f7,#e6eff4,#e0ecf3,#e7f0f4,#f8f4f2,#fbe5d8,#fcdfcf,#fae7dc,#f2f5f6,#d7e8f1,#cae1ee,#ddebf2,#f8f1ed,#fcd5bf,#f9c4a9,#fcdecd,#edf2f5,#bbdaea,#a2cde3,#cce2ef,#f9efe9,#f8bb9e,#f3a481,#fbceb7,#ecf2f5,#a0cce2,#7eb8d7,#b8d8e9,#f9efe9,#f5aa89,#e8896c,#f8bfa4,#ecf2f5,#96c7df,#6eaed2,#aed3e6,#f9f0eb,#f5aa89,#e8896c,#f8bfa4,#eff3f5,#a0cce2,#81bad8,#c0dceb,#f9eee7,#f7b596,#f3a481,#fcd3bc,#ecf2f5,#b3d6e8,#a5cee3,#d1e5f0,#f8f1ed,#fbd0b9,#f9c4a9,#fcdfcf,#f0f4f6,#d2e6f0,#cae1ee,#deebf2,#f8f4f2,#fbe4d6,#fce0d0,#f9ebe3,#f0f4f6,#deebf2,#dae9f2,#e3edf3,#f2f5f6,#f8f3f0,#f8f2ef,#f7f7f7,#eaf1f5,#e0ecf3,#ddebf2,#e1edf3,#e9f0f4,#edf2f5,#ecf2f5,#e9f0f4,#e3edf3,#deebf2,#deebf2,#e0ecf3,#e3edf3,#e6eff4,#e6eff4,#e4eef4,#e1edf3 648px,#e1edf3 660px,#e3edf3 664px,#e3edf3 680px,#e1edf3,#e1edf3,#e1edf3,#e3edf3 696px,#e3edf3 720px)"></i>
<i style="left:525px;background:linear-gradient(#f7f7f7 204px,#f5f6f7,#f7f7f7,#f7f7f7,#f7f5f4,#f7f5f4,#f7f5f4,#f7f7f7,#f3f5f6,#f3f5f6,#f5f6f7,#f7f7f7,#f8f3f0,#f8f2ef,#f8f4f2,#f5f6f7,#f0f4f6,#edf2f5,#f2f5f6,#f7f5f4,#f9efe9,#f9ede5,#f8f1ed,#f5f6f7,#e7f0f4,#e3edf3,#eaf1f5,#f8f4f2,#fae8de,#fbe3d4,#faeae1,#f2f5f6,#dbeaf2,#d4e6f1,#e1edf3,#f8f1ed,#fddcc9,#fbd0b9,#fbe4d6,#edf2f5,#c7e0ed,#b6d7e8,#d7e8f1,#f9efe9,#fac8af,#f7b799,#fddbc7,#ecf2f5,#b1d5e7,#9bc9e0,#cae1ee,#f9efe9,#f7b99c,#f4a683,#fbceb7,#ecf2f5,#a9d1e5,#8dc2dc,#c2ddec,#f9f0eb,#f7b99c,#f3a481,#fbceb7,#eff3f5,#b1d5e7,#9bc9e0,#cfe4ef,#f9eee7,#f9c4a9,#f7b799,#fdddcb,#ecf2f5,#c2ddec,#b6d7e8,#d8e9f1,#f8f1ed,#fdd9c4,#fbd0b9,#fbe5d8,#f0f4f6,#d8e9f1,#d4e6f1,#e3edf3,#f8f4f2,#fbe6da,#fbe5d8,#f9eee7,#f0f4f6,#e1edf3,#deebf2,#e6eff4,#f2f5f6,#f8f4f2,#f8f4f2,#f5f6f7,#eaf1f5,#e1edf3,#e0ecf3,#e3edf3,#e9f0f4,#ecf2f5,#ecf2f5,#e7f0f4,#e3edf3,#e0ecf3,#deebf2,#e1edf3,#e3edf3,#e4eef4,#e4eef4,#e4eef4,#e1edf3 648px,#e1edf3 660px,#e3edf3 664px,#e3edf3 680px,#e1edf3,#e1edf3,#e3edf3 692px,#e3edf3 720px)"></i>
<i style="left:530px;background:linear-gradient(#f7f7f7 216px,#f7f5f4,#f7f5f4,#f7f7f7,#f7f7f7,#f5f6f7,#f5f6f7,#f5f6f7,#f7f7f7,#f8f4f2,#f8f3f0,#f7f5f4,#f5f6f7,#f2f5f6,#f0f4f6,#f3f5f6,#f7f5f4,#f8f1ed,#f9f0eb,#f8f3f0,#f3f5f6,#eaf1f5,#e9f0f4,#eff3f5,#f8f3f0,#faeae1,#fae8de,#f9efe9,#f2f5f6,#e1edf3,#dbeaf2,#e9f0f4,#f9f0eb,#fce2d2,#fcdecd,#faeae1,#ecf2f5,#d2e6f0,#cce2ef,#e1edf3,#f9eee7,#fcd5bf,#fbccb4,#fbe4d6,#eaf1f5,#c2ddec,#b6d7e8,#dae9f2,#f9ede5,#facab1,#f8bfa4,#fce0d0,#e9f0f4,#bbdaea,#aed3e6,#d7e8f1,#f9eee7,#facab1,#f8bfa4,#fcdfcf,#eaf1f5,#c2ddec,#b8d8e9,#ddebf2,#f9ede5,#fcd3bc,#fbceb7,#fbe6da,#eaf1f5,#d1e5f0,#cce2ef,#e3edf3,#f9f0eb,#fcdfcf,#fcdecd,#faeae1,#eff3f5,#deebf2,#ddebf2,#eaf1f5,#f8f3f0,#fae9df,#fae9df,#f8f1ed,#eff3f5,#e4eef4,#e3edf3,#eaf1f5,#f3f5f6,#f7f5f4,#f7f7f7,#f2f5f6,#e9f0f4,#e3edf3,#e3edf3,#e6eff4,#e9f0f4,#eaf1f5,#eaf1f5,#e6eff4,#e3edf3,#e0ecf3,#e0ecf3,#e1edf3,#e3edf3,#e4eef4,#e4eef4,#e3edf3,#e1edf3 648px,#e1edf3 660px,#e3edf3 664px,#e3edf3 680px,#e1edf3,#e1edf3,#e3edf3 692px,#e3edf3 720px)"></i>
<i style="left:535px;background:linear-gradient(#f7f7f7 232px,#f5f6f7,#f5f6f7,#f7f7f7,#f7f7f7,#f8f4f2,#f7f5f4,#f7f7f7,#f5f6f7,#f2f5f6,#f3f5f6,#f7f7f7,#f8f4f2,#f8f2ef,#f8f2ef,#f7f5f4,#f3f5f6,#edf2f5,#edf2f5,#f3f5f6,#f8f2ef,#f9eee7,#f9eee7,#f8f3f0,#eff3f5,#e6eff4,#e6eff4,#f2f5f6,#f9efe9,#fbe6da,#fae7dc,#f8f2ef,#e9f0f4,#dbeaf2,#ddebf2,#eff3f5,#f9ebe3,#fcdfcf,#fce0d0,#f9f0eb,#e6eff4,#d2e6f0,#d4e6f1,#ecf2f5,#fae9df,#fdd9c4,#fddcc9,#f9eee7,#e4eef4,#cfe4ef,#d1e5f0,#eaf1f5,#fae9df,#fdd9c4,#fddcc9,#f9eee7,#e6eff4,#d1e5f0,#d5e7f1,#edf2f5,#fae9df,#fdddcb,#fce2d2,#f8f1ed,#e7f0f4,#d8e9f1,#ddebf2,#f0f4f6,#f9ede5,#fbe5d8,#fae7dc,#f8f3f0,#ecf2f5,#e3edf3,#e6eff4,#f3f5f6,#f8f1ed,#f9ede5,#f9efe9,#f7f7f7,#edf2f5,#e9f0f4,#e9f0f4,#eff3f5,#f5f6f7,#f7f7f7,#f5f6f7,#eff3f5,#e9f0f4,#e6eff4,#e6eff4,#e7f0f4,#eaf1f5,#eaf1f5,#e9f0f4,#e4eef4,#e3edf3,#e1edf3,#e1edf3,#e3edf3,#e3edf3,#e4eef4,#e3edf3,#e3edf3,#e1edf3,#e1edf3,#e1edf3,#e3edf3 660px,#e3edf3 720px)"></i>
<i style="left:540px;background:linear-gradient(#f7f7f7 244px,#f7f5f4,#f7f5f4,#f7f7f7,#f7f7f7,#f5f6f7,#f3f5f6,#f5f6f7,#f7f7f7,#f8f4f2,#f8f3f0,#f7f5f4,#f5f6f7,#f0f4f6,#f0f4f6,#f3f5f6,#f7f5f4,#f8f1ed,#f9f0eb,#f8f2ef,#f5f6f7,#ecf2f5,#e9f0f4,#eff3f5,#f8f4f2,#f9ede5,#faeae1,#f9f0eb,#f2f5f6,#e4eef4,#e1edf3,#ecf2f5,#f8f3f0,#fae7dc,#fbe5d8,#f9ede5,#f0f4f6,#deebf2,#dbeaf2,#e7f0f4,#f8f2ef,#fbe4d6,#fce0d0,#faeae1,#f0f4f6,#dbeaf2,#d7e8f1,#e6eff4,#f8f2ef,#fbe3d4,#fce0d0,#faeae1,#f0f4f6,#ddebf2,#dae9f2,#e9f0f4,#f8f1ed,#fbe5d8,#fbe4d6,#f9eee7,#eff3f5,#e0ecf3,#e0ecf3,#edf2f5,#f8f2ef,#fae9df,#fae9df,#f8f1ed,#f0f4f6,#e7f0f4,#e7f0f4,#f0f4f6,#f8f3f0,#f9eee7,#f9efe9,#f8f4f2,#f0f4f6,#eaf1f5,#eaf1f5,#eff3f5,#f5f6f7,#f7f7f7,#f7f7f7,#f0f4f6,#eaf1f5,#e7f0f4,#e7f0f4,#e9f0f4,#eaf1f5,#ecf2f5,#e9f0f4,#e6eff4,#e3edf3,#e1edf3,#e1edf3,#e3edf3,#e4eef4,#e4eef4,#e3edf3,#e3edf3,#e1edf3,#e1edf3,#e1edf3,#e3edf3 656px,#e3edf3 676px,#e1edf3,#e3edf3 684px,#e3edf3 720px)"></i>
<i style="left:545px;background:linear-gradient(#f7f7f7 228px,#f5f6f7,#f7f7f7,#f7f7f7,#f7f5f4,#f7f5f4,#f7f5f4,#f7f7f7,#f5f6f7,#f3f5f6,#f5f6f7,#f7f7f7,#f8f4f2,#f8f3f0,#f8f4f2,#f7f7f7,#f2f5f6,#eff3f5,#f0f4f6,#f7f7f7,#f8f1ed,#f9efe9,#f8f1ed,#f7f7f7,#edf2f5,#e7f0f4,#ecf2f5,#f7f7f7,#f9ede5,#fae9df,#f9ede5,#f7f7f7,#e6eff4,#e0ecf3,#e6eff4,#f7f7f7,#fae8de,#fbe3d4,#fae8de,#f7f7f7,#e1edf3,#d7e8f1,#e0ecf3,#f7f7f7,#fbe5d8,#fdddcb,#fbe5d8,#f7f7f7,#ddebf2,#d2e6f0,#ddebf2,#f7f7f7,#fbe4d6,#fddbc7,#fbe4d6,#f7f7f7,#ddebf2,#d2e6f0,#deebf2,#f7f5f4,#fbe4d6,#fcdecd,#fae7dc,#f5f6f7,#e0ecf3,#d8e9f1,#e4eef4,#f7f5f4,#fae8de,#fbe4d6,#f9ebe3,#f5f6f7,#e6eff4,#e1edf3,#eaf1f5,#f7f5f4,#f9ede5,#faeae1,#f9f0eb,#f5f6f7,#eaf1f5,#e7f0f4,#ecf2f5,#f5f6f7,#f8f4f2,#f8f4f2,#f5f6f7,#edf2f5,#e7f0f4,#e6eff4,#e7f0f4,#ecf2f5,#edf2f5,#edf2f5,#e9f0f4,#e4eef4,#e1edf3,#e1edf3,#e3edf3,#e4eef4,#e4eef4,#e4eef4,#e3edf3,#e1edf3 640px,#e1edf3 652px,#e3edf3 656px,#e3edf3 672px,#e1edf3,#e1edf3,#e3edf3 684px,#e3edf3 720px)"></i>
<i style="left:550px;background:linear-gradient(#f7f7f7 224px,#f5f6f7,#f5f6f7,#f7f7f7,#f7f7f7,#f7f5f4,#f8f4f2,#f7f5f4,#f7f7f7,#f3f5f6,#f2f5f6,#f5f6f7,#f7f5f4,#f8f2ef,#f8f2ef,#f8f4f2,#f5f6f7,#eff3f5,#edf2f5,#f0f4f6,#f8f4f2,#f9efe9,#f9ede5,#f8f1ed,#f3f5f6,#e7f0f4,#e4eef4,#ecf2f5,#f8f3f0,#fae7dc,#fbe5d8,#f9eee7,#eff3f5,#ddebf2,#d8e9f1,#e7f0f4,#f8f1ed,#fce0d0,#fddcc9,#fae8de,#edf2f5,#d4e6f1,#cce2ef,#e1edf3,#f9efe9,#fdd9c4,#fbd0b9,#fbe5d8,#ecf2f5,#cce2ef,#c2ddec,#ddebf2,#f9efe9,#fcd5bf,#fbccb4,#fbe4d6,#ecf2f5,#cce2ef,#c2ddec,#deebf2,#f9ede5,#fcd7c2,#fcd5bf,#fae8de,#eaf1f5,#d2e6f0,#d1e5f0,#e4eef4,#f9efe9,#fcdfcf,#fcdecd,#f9ebe3,#edf2f5,#dbeaf2,#dbeaf2,#eaf1f5,#f8f1ed,#fae7dc,#fae7dc,#f9f0eb,#f0f4f6,#e4eef4,#e4eef4,#ecf2f5,#f7f7f7,#f8f1ed,#f8f2ef,#f7f7f7,#ecf2f5,#e4eef4,#e4eef4,#e9f0f4,#edf2f5,#f0f4f6,#eff3f5,#e9f0f4,#e4eef4,#e1edf3,#e0ecf3,#e3edf3,#e4eef4,#e6eff4,#e6eff4,#e3edf3,#e1edf3,#e0ecf3,#e1edf3,#e1edf3,#e3edf3,#e4eef4,#e3edf3,#e3edf3,#e1edf3,#e1edf3,#e1edf3,#e3edf3 684px,#e3edf3 720px)"></i>
<i style="left:555px;background:linear-gradient(#f7f7f7 212px,#f7f5f4,#f7f7f7,#f7f7f7,#f5f6f7,#f5f6f7,#f7f7f7,#f7f7f7,#f8f4f2,#f8f4f2,#f7f5f4,#f7f7f7,#f2f5f6,#f2f5f6,#f3f5f6,#f7f5f4,#f8f2ef,#f8f1ed,#f8f3f0,#f5f6f7,#edf2f5,#eaf1f5,#f0f4f6,#f8f4f2,#f9ede5,#faeae1,#f9f0eb,#f2f5f6,#e4eef4,#e0ecf3,#eaf1f5,#f8f2ef,#fbe4d6,#fce2d2,#f9ebe3,#edf2f5,#d7e8f1,#d2e6f0,#e4eef4,#f9efe9,#fddbc7,#fcd5bf,#fbe6da,#eaf1f5,#c7e0ed,#bddbea,#ddebf2,#f9ede5,#fbccb4,#f9c4a9,#fce2d2,#e7f0f4,#bbdaea,#b1d5e7,#d8e9f1,#f9ebe3,#fac8af,#f8bda1,#fce0d0,#e9f0f4,#bbdaea,#b1d5e7,#dae9f2,#fae9df,#facab1,#fac8af,#fbe5d8,#e7f0f4,#c5dfec,#c2ddec,#e1edf3,#f9ede5,#fdd9c4,#fcd7c2,#fae9df,#eaf1f5,#d5e7f1,#d5e7f1,#e7f0f4,#f9f0eb,#fbe4d6,#fbe4d6,#f9efe9,#eff3f5,#e1edf3,#e0ecf3,#eaf1f5,#f7f5f4,#f9efe9,#f9f0eb,#f7f7f7,#eaf1f5,#e3edf3,#e1edf3,#e7f0f4,#eff3f5,#f2f5f6,#f0f4f6,#eaf1f5,#e4eef4,#e0ecf3,#e0ecf3,#e3edf3,#e6eff4,#e7f0f4,#e6eff4,#e4eef4,#e1edf3,#e0ecf3,#e0ecf3,#e1edf3,#e3edf3,#e4eef4,#e4eef4,#e3edf3,#e1edf3,#e1edf3,#e1edf3,#e3edf3 684px,#e3edf3 720px)"></i>
<i style="left:560px;background:linear-gradient(#f7f7f7 212px,#f7f5f4,#f7f7f7,#f7f7f7,#f5f6f7,#f5f6f7,#f5f6f7,#f7f7f7,#f8f4f2,#f8f4f2,#f7f5f4,#f7f7f7,#f2f5f6,#f0f4f6,#f3f5f6,#f7f5f4,#f8f1ed,#f9f0eb,#f8f2ef,#f5f6f7,#ecf2f5,#e9f0f4,#edf2f5,#f7f5f4,#f9ede5,#fae8de,#f9eee7,#f3f5f6,#e3edf3,#ddebf2,#e6eff4,#f8f4f2,#fbe3d4,#fcdecd,#fae8de,#eff3f5,#d5e7f1,#cce2ef,#deebf2,#f9f0eb,#fdd9c4,#fbccb4,#fce2d2,#edf2f5,#c5dfec,#b3d6e8,#d5e7f1,#f9efe9,#facab1,#f7b99c,#fddcc9,#ecf2f5,#b8d8e9,#a5cee3,#d1e5f0,#f9efe9,#f9c4a9,#f6b394,#fdd9c4,#ecf2f5,#b8d8e9,#a5cee3,#d1e5f0,#f9ede5,#f9c6ac,#f8bda1,#fce0d0,#eaf1f5,#c0dceb,#b8d8e9,#dbeaf2,#f9efe9,#fcd5bf,#fbceb7,#fbe5d8,#edf2f5,#d4e6f1,#d1e5f0,#e3edf3,#f8f1ed,#fce2d2,#fce0d0,#f9ebe3,#f0f4f6,#e0ecf3,#ddebf2,#e9f0f4,#f7f7f7,#f9eee7,#f9eee7,#f7f5f4,#ecf2f5,#e3edf3,#e1edf3,#e7f0f4,#eff3f5,#f3f5f6,#f2f5f6,#ecf2f5,#e4eef4,#e0ecf3,#e0ecf3,#e1edf3,#e6eff4,#e7f0f4,#e6eff4,#e4eef4,#e1edf3,#e0ecf3,#e0ecf3,#e1edf3,#e3edf3,#e4eef4,#e4eef4,#e3edf3,#e1edf3 672px,#e1edf3 684px,#e3edf3 688px,#e3edf3 720px)"></i>
<i style="left:565px;background:linear-gradient(#f7f7f7 212px,#f7f5f4,#f7f7f7,#f7f7f7,#f5f6f7,#f5f6f7,#f5f6f7,#f7f7f7,#f8f4f2,#f8f3f0,#f8f4f2,#f7f7f7,#f2f5f6,#f0f4f6,#f2f5f6,#f7f7f7,#f8f2ef,#f9efe9,#f8f1ed,#f7f7f7,#edf2f5,#e7f0f4,#ecf2f5,#f7f7f7,#f9ede5,#fae8de,#f9ebe3,#f7f7f7,#e6eff4,#dbeaf2,#e1edf3,#f7f7f7,#fbe5d8,#fdddcb,#fbe4d6,#f5f6f7,#d8e9f1,#c7e0ed,#d7e8f1,#f7f7f7,#fddcc9,#f9c6ac,#fddbc7,#f7f7f7,#cae1ee,#acd2e5,#cae1ee,#f7f7f7,#fbceb7,#f6b394,#fbceb7,#f7f7f7,#c0dceb,#9dcbe1,#bddbea,#f7f7f7,#facab1,#f5ac8b,#facab1,#f7f7f7,#c0dceb,#9dcbe1,#c0dceb,#f8f3f0,#facab1,#f7b596,#fcd7c2,#f3f5f6,#c5dfec,#b1d5e7,#d2e6f0,#f8f4f2,#fdd9c4,#facab1,#fcdfcf,#f3f5f6,#d5e7f1,#cce2ef,#ddebf2,#f7f5f4,#fbe3d4,#fcdecd,#fae8de,#f5f6f7,#e1edf3,#dbeaf2,#e4eef4,#f7f7f7,#f9efe9,#f9ede5,#f8f3f0,#eff3f5,#e3edf3,#e0ecf3,#e4eef4,#edf2f5,#f3f5f6,#f2f5f6,#edf2f5,#e6eff4,#e0ecf3,#deebf2,#e1edf3,#e4eef4,#e7f0f4,#e7f0f4,#e4eef4,#e1edf3,#e0ecf3,#e0ecf3,#e1edf3,#e3edf3,#e4eef4,#e4eef4,#e3edf3,#e3edf3,#e1edf3,#e1edf3,#e1edf3,#e3edf3 688px,#e3edf3 720px)"></i>
<i style="left:570px;background:linear-gradient(#f7f7f7 212px,#f7f5f4,#f7f5f4,#f7f7f7,#f7f7f7,#f3f5f6,#f5f6f7,#f7f7f7,#f7f5f4,#f8f3f0,#f8f3f0,#f7f7f7,#f3f5f6,#f0f4f6,#f0f4f6,#f5f6f7,#f8f3f0,#f9efe9,#f9f0eb,#f7f5f4,#eff3f5,#e7f0f4,#e9f0f4,#f3f5f6,#f9f0eb,#fae8de,#fae8de,#f8f2ef,#e9f0f4,#dbeaf2,#ddebf2,#eff3f5,#fae8de,#fddcc9,#fcdfcf,#f8f1ed,#deebf2,#c5dfec,#cfe4ef,#edf2f5,#fce2d2,#f9c6ac,#fbceb7,#f9efe9,#d5e7f1,#acd2e5,#b8d8e9,#e9f0f4,#fddcc9,#f6b394,#f8bda1,#f9ede5,#cfe4ef,#9bc9e0,#a9d1e5,#e7f0f4,#fdd9c4,#f5aa89,#f7b99c,#f9ebe3,#cfe4ef,#9dcbe1,#aed3e6,#edf2f5,#fcd7c2,#f6b394,#f9c6ac,#f8f1ed,#d1e5f0,#acd2e5,#c2ddec,#eff3f5,#fcdfcf,#fac8af,#fdd9c4,#f8f2ef,#dbeaf2,#cae1ee,#d7e8f1,#f2f5f6,#fae7dc,#fdddcb,#fbe4d6,#f8f4f2,#e4eef4,#dbeaf2,#e1edf3,#f2f5f6,#f9f0eb,#f9ebe3,#f8f1ed,#f2f5f6,#e6eff4,#e0ecf3,#e3edf3,#ecf2f5,#f2f5f6,#f3f5f6,#eff3f5,#e7f0f4,#e1edf3,#deebf2,#e0ecf3,#e4eef4,#e7f0f4,#e7f0f4,#e6eff4,#e3edf3,#e0ecf3,#e0ecf3,#e1edf3,#e3edf3,#e4eef4,#e4eef4,#e3edf3,#e3edf3,#e1edf3,#e1edf3,#e1edf3,#e3edf3 688px,#e3edf3 708px,#e1edf3,#e3edf3,#e3edf3 720px)"></i>
<i style="left:575px;background:linear-gradient(#f7f7f7 212px,#f7f5f4,#f7f5f4,#f7f7f7,#f7f7f7,#f5f6f7,#f3f5f6,#f5f6f7,#f7f7f7,#f8f3f0,#f8f3f0,#f7f5f4,#f5f6f7,#f0f4f6,#eff3f5,#f3f5f6,#f8f4f2,#f9f0eb,#f9eee7,#f8f2ef,#f3f5f6,#e9f0f4,#e6eff4,#edf2f5,#f8f3f0,#fae8de,#fbe6da,#f9eee7,#eff3f5,#ddebf2,#d8e9f1,#e6eff4,#f9eee7,#fdddcb,#fdd9c4,#fae9df,#e7f0f4,#c7e0ed,#c0dceb,#e0ecf3,#fae9df,#fac8af,#f9c2a7,#fbe4d6,#e1edf3,#aed3e6,#a7d0e4,#d8e9f1,#fbe6da,#f7b596,#f6af8e,#fcdfcf,#deebf2,#a0cce2,#98c8e0,#d5e7f1,#fbe5d8,#f6af8e,#f5aa89,#fcdecd,#deebf2,#a0cce2,#9bc9e0,#dbeaf2,#fce2d2,#f7b596,#f7b799,#fbe5d8,#ddebf2,#aed3e6,#b3d6e8,#e1edf3,#fbe6da,#fac8af,#fbccb4,#fae9df,#e4eef4,#cae1ee,#cfe4ef,#e9f0f4,#f9ebe3,#fcdecd,#fce0d0,#f9efe9,#eaf1f5,#dbeaf2,#ddebf2,#ecf2f5,#f8f3f0,#f9ebe3,#f9eee7,#f7f7f7,#e9f0f4,#e0ecf3,#e1edf3,#e9f0f4,#f0f4f6,#f3f5f6,#f0f4f6,#eaf1f5,#e3edf3,#e0ecf3,#e0ecf3,#e3edf3,#e6eff4,#e7f0f4,#e6eff4,#e3edf3,#e1edf3,#e0ecf3,#e0ecf3,#e1edf3,#e3edf3,#e4eef4,#e4eef4,#e3edf3,#e1edf3,#e1edf3,#e1edf3,#e3edf3 688px,#e3edf3 708px,#e1edf3,#e3edf3,#e3edf3 720px)"></i>
<i style="left:580px;background:linear-gradient(#f7f7f7 212px,#f7f5f4,#f7f5f4,#f7f5f4,#f7f7f7,#f5f6f7,#f3f5f6,#f5f6f7,#f7f7f7,#f8f4f2,#f8f2ef,#f8f3f0,#f7f7f7,#f0f4f6,#edf2f5,#f0f4f6,#f7f7f7,#f9f0eb,#f9ede5,#f9f0eb,#f7f7f7,#eaf1f5,#e4eef4,#e9f0f4,#f7f7f7,#fae9df,#fbe4d6,#fae9df,#f7f7f7,#e0ecf3,#d4e6f1,#ddebf2,#f8f4f2,#fcdecd,#fcd3bc,#fce2d2,#f2f5f6,#cce2ef,#b6d7e8,#d2e6f0,#f8f2ef,#fbccb4,#f7b596,#fcd5bf,#f0f4f6,#b6d7e8,#98c8e0,#c2ddec,#f8f2ef,#f8bb9e,#f2a17f,#fac8af,#eff3f5,#a7d0e4,#84bcd9,#b8d8e9,#f8f1ed,#f7b596,#ef9979,#f9c6ac,#eff3f5,#a9d1e5,#8ac0db,#c5dfec,#f9eee7,#f7b99c,#f5aa89,#fcd7c2,#eaf1f5,#b3d6e8,#a5cee3,#d2e6f0,#f9efe9,#fbccb4,#f9c2a7,#fce0d0,#edf2f5,#cfe4ef,#c5dfec,#deebf2,#f8f1ed,#fcdfcf,#fddcc9,#fae9df,#f0f4f6,#ddebf2,#dae9f2,#e6eff4,#f7f7f7,#f9ede5,#f9ebe3,#f8f4f2,#ecf2f5,#e1edf3,#e0ecf3,#e6eff4,#eff3f5,#f3f5f6,#f2f5f6,#ecf2f5,#e4eef4,#e0ecf3,#deebf2,#e1edf3,#e6eff4,#e7f0f4,#e7f0f4,#e4eef4,#e1edf3,#e0ecf3,#e0ecf3,#e1edf3,#e3edf3,#e4eef4,#e4eef4,#e3edf3,#e1edf3 676px,#e1edf3 688px,#e3edf3 692px,#e3edf3 708px,#e1edf3,#e3edf3,#e3edf3 720px)"></i>
<i style="left:585px;background:linear-gradient(#f7f7f7 200px,#f5f6f7,#f5f6f7,#f7f7f7,#f7f7f7,#f7f5f4,#f7f5f4,#f7f7f7,#f5f6f7,#f3f5f6,#f3f5f6,#f7f7f7,#f8f4f2,#f8f2ef,#f8f2ef,#f7f7f7,#f2f5f6,#edf2f5,#edf2f5,#f5f6f7,#f8f1ed,#f9ede5,#f9eee7,#f8f4f2,#ecf2f5,#e3edf3,#e4eef4,#f2f5f6,#f9ebe3,#fce2d2,#fbe4d6,#f8f2ef,#e3edf3,#d1e5f0,#d5e7f1,#f2f5f6,#fce2d2,#fbccb4,#fcd7c2,#f8f2ef,#d2e6f0,#acd2e5,#c0dceb,#f0f4f6,#fcd5bf,#f5ac8b,#f8bfa4,#f8f1ed,#c0dceb,#8ac0db,#a5cee3,#edf2f5,#f9c6ac,#ec9374,#f6af8e,#f9f0eb,#b3d6e8,#75b2d4,#9bc9e0,#ecf2f5,#f8bfa4,#e98b6e,#f5ac8b,#f9f0eb,#b3d6e8,#7bb6d6,#a7d0e4,#f3f5f6,#f9c2a7,#f09c7b,#f8bfa4,#f7f5f4,#bbdaea,#98c8e0,#bbdaea,#f5f6f7,#fcd3bc,#f7b99c,#fcd5bf,#f7f5f4,#d2e6f0,#bddbea,#d4e6f1,#f7f7f7,#fce2d2,#fdd9c4,#fbe3d4,#f7f7f7,#e0ecf3,#d7e8f1,#e0ecf3,#f3f5f6,#f9eee7,#faeae1,#f9f0eb,#f0f4f6,#e3edf3,#deebf2,#e3edf3,#ecf2f5,#f3f5f6,#f5f6f7,#eff3f5,#e7f0f4,#e0ecf3,#deebf2,#e0ecf3,#e4eef4,#e7f0f4,#e7f0f4,#e6eff4,#e3edf3,#e0ecf3,#e0ecf3,#e1edf3,#e3edf3,#e4eef4,#e4eef4,#e3edf3,#e3edf3,#e1edf3,#e1edf3,#e1edf3,#e3edf3 692px,#e3edf3 708px,#e1edf3,#e1edf3,#e3edf3 720px)"></i>
<i style="left:590px;background:linear-gradient(#f7f7f7 200px,#f5f6f7,#f5f6f7,#f7f7f7,#f7f7f7,#f7f5f4,#f8f4f2,#f7f7f7,#f5f6f7,#f3f5f6,#f2f5f6,#f5f6f7,#f7f5f4,#f8f2ef,#f8f2ef,#f8f4f2,#f3f5f6,#edf2f5,#ecf2f5,#f2f5f6,#f8f2ef,#f9ebe3,#f9ebe3,#f8f2ef,#eff3f5,#e1edf3,#e0ecf3,#edf2f5,#f9eee7,#fce2d2,#fce0d0,#f9eee7,#e7f0f4,#cfe4ef,#cce2ef,#e9f0f4,#fbe5d8,#fac8af,#facab1,#faeae1,#d8e9f1,#a7d0e4,#acd2e5,#e3edf3,#fdddcb,#f5a886,#f5ac8b,#fbe6da,#cce2ef,#81bad8,#8ac0db,#ddebf2,#fcd3bc,#e8896c,#ec9374,#fbe3d4,#c2ddec,#68abd0,#78b4d5,#dae9f2,#fbceb7,#e48066,#eb9172,#fce2d2,#c2ddec,#71b0d3,#8ac0db,#e3edf3,#facab1,#eb9172,#f5aa89,#faeae1,#c7e0ed,#90c4dd,#a5cee3,#e7f0f4,#fddbc7,#f6b394,#f9c4a9,#f9eee7,#d7e8f1,#b6d7e8,#c7e0ed,#edf2f5,#fbe4d6,#fcd5bf,#fdddcb,#f8f1ed,#e3edf3,#d5e7f1,#dbeaf2,#eff3f5,#f9efe9,#fae8de,#f9ede5,#f5f6f7,#e6eff4,#ddebf2,#e1edf3,#eaf1f5,#f3f5f6,#f5f6f7,#f2f5f6,#e9f0f4,#e1edf3,#deebf2,#e0ecf3,#e3edf3,#e7f0f4,#e9f0f4,#e6eff4,#e3edf3,#e0ecf3,#e0ecf3,#e0ecf3,#e3edf3,#e4eef4,#e4eef4,#e4eef4,#e3edf3,#e1edf3,#e1edf3,#e1edf3,#e3edf3 692px,#e3edf3 712px,#e1edf3,#e3edf3 720px)"></i>
<i style="left:595px;background:linear-gradient(#f7f7f7 200px,#f5f6f7,#f5f6f7,#f7f7f7,#f7f7f7,#f7f5f4,#f8f4f2,#f7f5f4,#f7f7f7,#f3f5f6,#f2f5f6,#f3f5f6,#f7f5f4,#f8f2ef,#f8f1ed,#f8f3f0,#f5f6f7,#ecf2f5,#eaf1f5,#f0f4f6,#f8f4f2,#f9ebe3,#fae9df,#f9efe9,#f0f4f6,#e1edf3,#ddebf2,#e9f0f4,#f8f1ed,#fce0d0,#fddcc9,#fae8de,#ecf2f5,#cfe4ef,#c2ddec,#e1edf3,#fae9df,#f9c6ac,#f8bda1,#fbe3d4,#e0ecf3,#a5cee3,#9bc9e0,#d5e7f1,#fbe3d4,#f3a481,#ef9979,#fddbc7,#d7e8f1,#7bb6d6,#71b0d3,#cae1ee,#fdddcb,#e58368,#e27b62,#fbd0b9,#d2e6f0,#62a7ce,#59a1ca,#c2ddec,#fddcc9,#e27b62,#df765e,#fbd0b9,#d2e6f0,#68abd0,#6bacd1,#d2e6f0,#fcd7c2,#e8896c,#eb9172,#fcdfcf,#d2e6f0,#87beda,#90c4dd,#dae9f2,#fcdfcf,#f6af8e,#f7b596,#fbe5d8,#ddebf2,#b1d5e7,#b8d8e9,#e4eef4,#fae7dc,#fbd0b9,#fcd7c2,#f9ede5,#e6eff4,#d4e6f1,#d7e8f1,#e9f0f4,#f8f1ed,#fae7dc,#faeae1,#f7f5f4,#e7f0f4,#ddebf2,#deebf2,#e7f0f4,#f2f5f6,#f7f7f7,#f3f5f6,#eaf1f5,#e3edf3,#deebf2,#deebf2,#e3edf3,#e7f0f4,#e9f0f4,#e7f0f4,#e4eef4,#e0ecf3,#deebf2,#e0ecf3,#e1edf3,#e4eef4,#e4eef4,#e4eef4,#e3edf3,#e1edf3,#e1edf3,#e1edf3,#e3edf3 692px,#e3edf3 712px,#e1edf3,#e3edf3 720px)"></i>
<i style="left:600px;background:linear-gradient(#f7f7f7 200px,#f5f6f7,#f5f6f7,#f5f6f7,#f7f7f7,#f7f5f4,#f8f4f2,#f7f5f4,#f7f7f7,#f3f5f6,#f0f4f6,#f3f5f6,#f7f7f7,#f8f2ef,#f9f0eb,#f8f2ef,#f5f6f7,#edf2f5,#e9f0f4,#edf2f5,#f7f5f4,#f9ebe3,#fae8de,#f9ede5,#f3f5f6,#e1edf3,#dae9f2,#e4eef4,#f8f3f0,#fce2d2,#fdd9c4,#fbe4d6,#f0f4f6,#cfe4ef,#bbdaea,#d8e9f1,#f9eee7,#f9c6ac,#f7b596,#fddbc7,#e7f0f4,#a5cee3,#8dc2dc,#c5dfec,#fae9df,#f3a481,#e8896c,#f9c6ac,#e1edf3,#7bb6d6,#59a1ca,#aed3e6,#fbe6da,#e58368,#d7634f,#f7b799,#deebf2,#62a7ce,#4291c2,#a5cee3,#fbe5d8,#e27b62,#d55d4c,#f7b799,#deebf2,#68abd0,#4f9bc7,#b8d8e9,#fce0d0,#e6866a,#e27b62,#fbceb7,#dbeaf2,#84bcd9,#7bb6d6,#cce2ef,#fbe5d8,#f5ac8b,#f5a886,#fdddcb,#e3edf3,#aed3e6,#acd2e5,#dbeaf2,#f9ebe3,#fbceb7,#fbceb7,#fae7dc,#eaf1f5,#d2e6f0,#d2e6f0,#e4eef4,#f8f2ef,#fae7dc,#fae7dc,#f8f2ef,#eaf1f5,#dbeaf2,#ddebf2,#e6eff4,#f2f5f6,#f7f7f7,#f5f6f7,#edf2f5,#e3edf3,#deebf2,#ddebf2,#e1edf3,#e6eff4,#e9f0f4,#e7f0f4,#e4eef4,#e1edf3,#deebf2,#e0ecf3,#e1edf3,#e3edf3,#e4eef4,#e4eef4,#e3edf3,#e1edf3 680px,#e1edf3 692px,#e3edf3 696px,#e3edf3 712px,#e1edf3,#e1edf3 720px)"></i>
<i style="left:605px;background:linear-gradient(#f7f7f7 204px,#f5f6f7,#f5f6f7,#f7f7f7,#f7f5f4,#f8f4f2,#f8f4f2,#f7f7f7,#f3f5f6,#f0f4f6,#f2f5f6,#f7f7f7,#f8f2ef,#f9f0eb,#f8f1ed,#f7f7f7,#edf2f5,#e7f0f4,#ecf2f5,#f7f7f7,#f9ede5,#fae7dc,#faeae1,#f7f7f7,#e3edf3,#d8e9f1,#e0ecf3,#f7f7f7,#fbe3d4,#fcd5bf,#fcdfcf,#f7f7f7,#d1e5f0,#b3d6e8,#d1e5f0,#f8f3f0,#fac8af,#f5ac8b,#fbccb4,#f0f4f6,#a7d0e4,#7eb8d7,#b1d5e7,#f8f1ed,#f4a683,#e17860,#f6b394,#edf2f5,#7eb8d7,#4695c4,#96c7df,#f9efe9,#e6866a,#ce4f45,#f19e7d,#ecf2f5,#65a9cf,#3783bb,#87beda,#f9efe9,#e37e64,#cb4942,#f09c7b,#ecf2f5,#6bacd1,#3e8cbf,#9dcbe1,#fae8de,#e6866a,#da6853,#f7b799,#e6eff4,#81bad8,#65a9cf,#b6d7e8,#f9ebe3,#f5aa89,#ef9979,#fbceb7,#eaf1f5,#aed3e6,#a0cce2,#d1e5f0,#f9f0eb,#fbceb7,#f9c6ac,#fce2d2,#eff3f5,#d2e6f0,#cce2ef,#e0ecf3,#f8f4f2,#fbe6da,#fbe5d8,#f9efe9,#ecf2f5,#dbeaf2,#dae9f2,#e3edf3,#f0f4f6,#f7f7f7,#f7f7f7,#eff3f5,#e4eef4,#deebf2,#ddebf2,#e1edf3,#e6eff4,#e9f0f4,#e9f0f4,#e6eff4,#e1edf3,#deebf2,#deebf2,#e1edf3,#e3edf3,#e4eef4,#e4eef4,#e3edf3,#e1edf3 680px,#e1edf3 692px,#e3edf3 696px,#e3edf3 712px,#e1edf3,#e1edf3 720px)"></i>
<i style="left:610px;background:linear-gradient(#f7f7f7 188px,#f7f5f4,#f7f7f7,#f7f7f7,#f7f7f7,#f5f6f7,#f5f6f7,#f7f7f7,#f7f5f4,#f8f4f2,#f8f4f2,#f7f7f7,#f3f5f6,#f0f4f6,#f2f5f6,#f7f7f7,#f8f3f0,#f9f0eb,#f9f0eb,#f7f7f7,#edf2f5,#e7f0f4,#e9f0f4,#f5f6f7,#f9eee7,#fbe6da,#fae8de,#f8f4f2,#e4eef4,#d7e8f1,#dbeaf2,#f3f5f6,#fbe4d6,#fcd3bc,#fddbc7,#f8f3f0,#d4e6f1,#aed3e6,#c5dfec,#f5f6f7,#fbccb4,#f4a683,#f8bfa4,#f7f5f4,#acd2e5,#71b0d3,#9dcbe1,#f3f5f6,#f5ac8b,#db6b55,#f09c7b,#f8f4f2,#87beda,#3c8abe,#75b2d4,#f3f5f6,#ea8e70,#c6413e,#e37e64,#f8f4f2,#6eaed2,#2f79b5,#62a7ce,#f3f5f6,#e6866a,#c13639,#e27b62,#f8f4f2,#75b2d4,#3480b9,#7bb6d6,#f8f3f0,#e8896c,#d05548,#f2a17f,#f2f5f6,#87beda,#529dc8,#9dcbe1,#f8f3f0,#f6af8e,#e98b6e,#f8bda1,#f3f5f6,#b1d5e7,#96c7df,#c2ddec,#f8f4f2,#fbd0b9,#f8bda1,#fddcc9,#f5f6f7,#d4e6f1,#c5dfec,#dae9f2,#f7f7f7,#fbe6da,#fce2d2,#f9ebe3,#f0f4f6,#ddebf2,#d8e9f1,#e1edf3,#eff3f5,#f7f5f4,#f7f5f4,#f2f5f6,#e6eff4,#deebf2,#dbeaf2,#e0ecf3,#e6eff4,#eaf1f5,#eaf1f5,#e6eff4,#e1edf3,#deebf2,#deebf2,#e0ecf3,#e3edf3,#e4eef4,#e4eef4,#e4eef4,#e3edf3,#e1edf3,#e1edf3,#e1edf3,#e3edf3 696px,#e3edf3 712px,#e1edf3,#e1edf3 720px)"></i>
<i style="left:615px;background:linear-gradient(#f7f7f7 188px,#f7f5f4,#f7f5f4,#f7f7f7,#f7f7f7,#f5f6f7,#f5f6f7,#f7f7f7,#f7f5f4,#f8f4f2,#f8f4f2,#f7f7f7,#f3f5f6,#f0f4f6,#f0f4f6,#f5f6f7,#f8f3f0,#f9efe9,#f9efe9,#f8f4f2,#eff3f5,#e7f0f4,#e7f0f4,#f2f5f6,#f9efe9,#fbe6da,#fbe6da,#f8f2ef,#e7f0f4,#d5e7f1,#d7e8f1,#edf2f5,#fae7dc,#fbd0b9,#fcd3bc,#f9eee7,#dae9f2,#acd2e5,#b6d7e8,#eaf1f5,#fcd5bf,#f2a17f,#f6b191,#f9ebe3,#b8d8e9,#68abd0,#84bcd9,#e4eef4,#f7b799,#d7634f,#e48066,#fae8de,#98c8e0,#3885bc,#4f9bc7,#e0ecf3,#f2a17f,#bf3338,#d55d4c,#fbe5d8,#84bcd9,#2870b1,#3e8cbf,#deebf2,#ee9677,#ba2832,#d25849,#fbe5d8,#87beda,#2c75b4,#529dc8,#eaf1f5,#ee9677,#c84440,#e48066,#f9efe9,#93c6de,#4393c3,#7eb8d7,#edf2f5,#f7b596,#e37e64,#f5aa89,#f8f1ed,#b6d7e8,#8ac0db,#aed3e6,#f0f4f6,#fcd5bf,#f7b799,#fbd0b9,#f8f3f0,#d5e7f1,#c0dceb,#d4e6f1,#f2f5f6,#fae7dc,#fce0d0,#fae8de,#f5f6f7,#ddebf2,#d7e8f1,#deebf2,#edf2f5,#f7f5f4,#f8f4f2,#f5f6f7,#e9f0f4,#deebf2,#dbeaf2,#deebf2,#e4eef4,#eaf1f5,#eaf1f5,#e7f0f4,#e3edf3,#deebf2,#deebf2,#e0ecf3,#e3edf3,#e4eef4,#e6eff4,#e4eef4,#e3edf3,#e1edf3,#e1edf3,#e1edf3,#e3edf3 696px,#e3edf3 712px,#e1edf3,#e1edf3 720px)"></i>
<i style="left:620px;background:linear-gradient(#f7f7f7 192px,#f7f5f4,#f7f7f7,#f7f7f7,#f5f6f7,#f3f5f6,#f7f7f7,#f7f7f7,#f8f4f2,#f8f3f0,#f7f5f4,#f5f6f7,#f0f4f6,#eff3f5,#f3f5f6,#f8f4f2,#f9f0eb,#f9efe9,#f8f3f0,#f2f5f6,#e7f0f4,#e6eff4,#eff3f5,#f8f1ed,#fbe6da,#fbe4d6,#f9eee7,#eaf1f5,#d5e7f1,#d2e6f0,#e6eff4,#faeae1,#fbd0b9,#fbccb4,#fbe6da,#e0ecf3,#aed3e6,#a9d1e5,#deebf2,#fdddcb,#f2a17f,#f2a17f,#fce0d0,#cae1ee,#68abd0,#68abd0,#d2e6f0,#fac8af,#d7634f,#d86551,#fcd7c2,#b1d5e7,#3783bb,#3a87bd,#c5dfec,#f7b799,#be3036,#c2383a,#fbccb4,#a0cce2,#276eb0,#2c75b4,#bddbea,#f6b191,#b82531,#bf3338,#facab1,#a2cde3,#2870b1,#3885bc,#d4e6f1,#f5aa89,#c43b3c,#d55d4c,#fcdfcf,#a5cee3,#3f8ec0,#5ca3cb,#dbeaf2,#f9c2a7,#e17860,#ec9374,#fbe6da,#c5dfec,#84bcd9,#9dcbe1,#e4eef4,#fddcc9,#f6b394,#f9c4a9,#f9ede5,#dae9f2,#bddbea,#cae1ee,#eaf1f5,#fae9df,#fcdecd,#fbe4d6,#f7f5f4,#e0ecf3,#d5e7f1,#dbeaf2,#eaf1f5,#f7f7f7,#f8f2ef,#f7f7f7,#ecf2f5,#e0ecf3,#dbeaf2,#ddebf2,#e3edf3,#e9f0f4,#ecf2f5,#e9f0f4,#e4eef4,#e0ecf3,#deebf2,#deebf2,#e1edf3,#e4eef4,#e6eff4,#e4eef4,#e3edf3,#e1edf3,#e1edf3,#e1edf3,#e3edf3 696px,#e3edf3 712px,#e1edf3,#e1edf3 720px)"></i>
<i style="left:625px;background:linear-gradient(#f7f7f7 192px,#f7f5f4,#f7f7f7,#f7f7f7,#f5f6f7,#f3f5f6,#f5f6f7,#f7f7f7,#f8f4f2,#f8f3f0,#f8f4f2,#f7f7f7,#f0f4f6,#eff3f5,#f2f5f6,#f7f5f4,#f9f0eb,#f9eee7,#f8f1ed,#f3f5f6,#e9f0f4,#e4eef4,#ecf2f5,#f8f3f0,#fae7dc,#fbe3d4,#faeae1,#f0f4f6,#d8e9f1,#cfe4ef,#e0ecf3,#f9f0eb,#fcd5bf,#f9c6ac,#fcdfcf,#eaf1f5,#b3d6e8,#9dcbe1,#d2e6f0,#fbe6da,#f4a683,#eb9172,#fbd0b9,#dae9f2,#6eaed2,#529dc8,#b3d6e8,#fcdecd,#da6853,#cc4c44,#f7b596,#d1e5f0,#3a87bd,#2c75b4,#9bc9e0,#fcd5bf,#c2383a,#b41c2d,#f3a481,#c5dfec,#2a71b2,#1e61a5,#8dc2dc,#fbd0b9,#bb2a34,#ab162a,#f3a481,#c7e0ed,#2a71b2,#2870b1,#a9d1e5,#f9c6ac,#c53e3d,#c53e3d,#f9c2a7,#c2ddec,#3f8ec0,#408fc1,#bddbea,#fcd7c2,#e17860,#e27b62,#fcd7c2,#d5e7f1,#84bcd9,#87beda,#d5e7f1,#fbe3d4,#f6b394,#f7b799,#fbe4d6,#e1edf3,#bbdaea,#c0dceb,#e1edf3,#f9ede5,#fcdecd,#fce0d0,#f9f0eb,#e4eef4,#d5e7f1,#d7e8f1,#e6eff4,#f7f7f7,#f8f2ef,#f8f4f2,#eff3f5,#e3edf3,#dbeaf2,#dbeaf2,#e1edf3,#e9f0f4,#ecf2f5,#eaf1f5,#e6eff4,#e0ecf3,#ddebf2,#deebf2,#e1edf3,#e4eef4,#e6eff4,#e4eef4,#e3edf3,#e1edf3,#e0ecf3,#e1edf3,#e1edf3,#e3edf3 700px,#e3edf3 712px,#e1edf3,#e1edf3 720px)"></i>
<i style="left:630px;background:linear-gradient(#f7f7f7 192px,#f7f5f4,#f7f5f4,#f7f7f7,#f5f6f7,#f3f5f6,#f5f6f7,#f7f7f7,#f8f4f2,#f8f3f0,#f8f4f2,#f7f7f7,#f2f5f6,#eff3f5,#f0f4f6,#f7f7f7,#f8f1ed,#f9eee7,#f9f0eb,#f7f7f7,#eaf1f5,#e3edf3,#e7f0f4,#f7f7f7,#fae9df,#fce2d2,#fae7dc,#f7f7f7,#dbeaf2,#cce2ef,#d8e9f1,#f7f7f7,#fddbc7,#f9c2a7,#fcd7c2,#f7f7f7,#bddbea,#96c7df,#bddbea,#f8f1ed,#f6af8e,#e6866a,#f7b799,#ecf2f5,#81bad8,#4393c3,#93c6de,#f9eee7,#e17860,#c43b3c,#eb9172,#e9f0f4,#4393c3,#2369ad,#65a9cf,#f9ebe3,#cc4c44,#9f1228,#dd7059,#e6eff4,#3480b9,#144e8a,#4f9bc7,#faeae1,#c53e3d,#930e26,#dc6e57,#e6eff4,#307ab6,#1c5c9f,#75b2d4,#fbe3d4,#cb4942,#b72230,#ef9979,#deebf2,#4695c4,#3681ba,#98c8e0,#fae7dc,#e48066,#da6853,#f8bb9e,#e4eef4,#8ac0db,#75b2d4,#bddbea,#f9ede5,#f7b799,#f5ac8b,#fddbc7,#ecf2f5,#c0dceb,#b6d7e8,#d8e9f1,#f8f2ef,#fcdecd,#fdddcb,#faeae1,#e9f0f4,#d7e8f1,#d4e6f1,#e1edf3,#f3f5f6,#f8f2ef,#f8f2ef,#f2f5f6,#e4eef4,#dbeaf2,#dae9f2,#e0ecf3,#e7f0f4,#ecf2f5,#ecf2f5,#e7f0f4,#e1edf3,#ddebf2,#ddebf2,#e0ecf3,#e3edf3,#e6eff4,#e6eff4,#e4eef4,#e1edf3,#e0ecf3,#e1edf3,#e1edf3,#e3edf3 700px,#e3edf3 716px,#e1edf3 720px)"></i>
<i style="left:635px;background:linear-gradient(#f7f7f7 192px,#f7f5f4,#f7f5f4,#f7f7f7,#f7f7f7,#f3f5f6,#f3f5f6,#f7f7f7,#f7f5f4,#f8f3f0,#f8f3f0,#f7f7f7,#f3f5f6,#eff3f5,#eff3f5,#f5f6f7,#f8f2ef,#f9eee7,#f9eee7,#f7f5f4,#ecf2f5,#e3edf3,#e4eef4,#f3f5f6,#f9ebe3,#fce2d2,#fbe4d6,#f8f2ef,#e1edf3,#cce2ef,#d2e6f0,#eff3f5,#fce0d0,#f9c2a7,#facab1,#f9efe9,#cce2ef,#93c6de,#a9d1e5,#eff3f5,#f8bfa4,#e48066,#f2a17f,#f9f0eb,#9bc9e0,#408fc1,#6bacd1,#eaf1f5,#ee9677,#bf3338,#da6853,#f9ede5,#68abd0,#1f63a8,#3b88be,#e7f0f4,#dd7059,#930e26,#c53e3d,#f9ebe3,#4997c5,#10457e,#2f79b5,#e6eff4,#d7634f,#840924,#c2383a,#f9ebe3,#3f8ec0,#144e8a,#3f8ec0,#f5f6f7,#d86551,#ab162a,#db6b55,#f7f5f4,#62a7ce,#2e77b5,#6bacd1,#f5f6f7,#ec9374,#d35a4a,#f19e7d,#f7f5f4,#9bc9e0,#68abd0,#a5cee3,#f7f7f7,#f9c2a7,#f4a683,#fac8af,#f7f7f7,#cae1ee,#b1d5e7,#cfe4ef,#f5f6f7,#fce2d2,#fdd9c4,#fbe6da,#f0f4f6,#d8e9f1,#d2e6f0,#ddebf2,#eff3f5,#f8f2ef,#f8f1ed,#f7f7f7,#e9f0f4,#ddebf2,#dae9f2,#deebf2,#e6eff4,#ecf2f5,#ecf2f5,#e9f0f4,#e3edf3,#deebf2,#ddebf2,#e0ecf3,#e3edf3,#e6eff4,#e6eff4,#e4eef4,#e3edf3,#e1edf3,#e0ecf3,#e1edf3,#e3edf3,#e3edf3,#e4eef4,#e3edf3,#e3edf3,#e1edf3 720px)"></i>
<i style="left:640px;background:linear-gradient(#f7f7f7 192px,#f7f5f4,#f7f5f4,#f7f7f7,#f7f7f7,#f5f6f7,#f3f5f6,#f5f6f7,#f7f5f4,#f8f3f0,#f8f3f0,#f7f5f4,#f3f5f6,#eff3f5,#eff3f5,#f3f5f6,#f8f3f0,#f9eee7,#f9ede5,#f8f2ef,#f0f4f6,#e4eef4,#e3edf3,#edf2f5,#f9efe9,#fbe3d4,#fce2d2,#f9eee7,#e7f0f4,#cfe4ef,#cae1ee,#e4eef4,#fae7dc,#f9c4a9,#f8bfa4,#fbe5d8,#dae9f2,#96c7df,#98c8e0,#ddebf2,#fcd5bf,#e6866a,#e8896c,#fcdfcf,#b8d8e9,#4393c3,#4997c5,#d1e5f0,#f7b799,#c2383a,#c84440,#fcd3bc,#98c8e0,#2267ac,#2870b1,#c0dceb,#f19e7d,#991027,#ab162a,#f9c6ac,#81bad8,#124984,#1b5a9c,#b8d8e9,#ee9677,#870a24,#a51429,#f9c6ac,#6bacd1,#134c87,#276eb0,#d2e6f0,#ea8e70,#a81529,#c53e3d,#fcdecd,#8ac0db,#2c75b4,#408fc1,#dae9f2,#f6b191,#d25849,#e27b62,#fbe5d8,#b3d6e8,#65a9cf,#8ac0db,#e3edf3,#fbd0b9,#f3a481,#f7b799,#f9ebe3,#d4e6f1,#aed3e6,#c0dceb,#eaf1f5,#fbe6da,#fcd7c2,#fce0d0,#f7f7f7,#ddebf2,#d1e5f0,#d8e9f1,#eaf1f5,#f8f4f2,#f9f0eb,#f8f4f2,#ecf2f5,#e0ecf3,#dae9f2,#ddebf2,#e4eef4,#eaf1f5,#edf2f5,#eaf1f5,#e4eef4,#deebf2,#ddebf2,#deebf2,#e1edf3,#e4eef4,#e6eff4,#e4eef4,#e3edf3,#e1edf3,#e0ecf3,#e1edf3,#e3edf3,#e3edf3,#e4eef4,#e3edf3,#e3edf3,#e1edf3 720px)"></i>
<i style="left:645px;background:linear-gradient(#f7f7f7 192px,#f7f5f4,#f7f5f4,#f7f5f4,#f7f7f7,#f5f6f7,#f3f5f6,#f5f6f7,#f7f7f7,#f8f4f2,#f8f3f0,#f8f4f2,#f7f7f7,#f0f4f6,#edf2f5,#f2f5f6,#f7f5f4,#f9efe9,#f9ede5,#f9f0eb,#f3f5f6,#e6eff4,#e1edf3,#e9f0f4,#f8f3f0,#fbe5d8,#fcdfcf,#fae8de,#eff3f5,#d4e6f1,#c5dfec,#dbeaf2,#f9f0eb,#fbccb4,#f8bb9e,#fddcc9,#e9f0f4,#a0cce2,#8ac0db,#cae1ee,#fbe5d8,#ec9374,#e17860,#f9c6ac,#d8e9f1,#569fc9,#3c8abe,#a5cee3,#fddcc9,#cc4c44,#bb2a34,#f4a683,#cae1ee,#2b73b3,#1b5a9c,#84bcd9,#fbceb7,#b1182b,#8a0b25,#ea8e70,#bddbea,#1b5a9c,#0e4179,#71b0d3,#facab1,#9f1228,#7f0823,#e98b6e,#a9d1e5,#1a5899,#185493,#98c8e0,#f8bda1,#b41c2d,#b3192c,#f6b394,#b8d8e9,#327cb7,#327cb7,#b1d5e7,#fbd0b9,#d6604d,#d6604d,#fbccb4,#d1e5f0,#6bacd1,#6eaed2,#cfe4ef,#fce0d0,#f4a683,#f5aa89,#fce0d0,#e0ecf3,#b1d5e7,#b3d6e8,#e0ecf3,#f9ebe3,#fdd9c4,#fddcc9,#f9f0eb,#e3edf3,#d2e6f0,#d5e7f1,#e6eff4,#f7f7f7,#f9f0eb,#f8f2ef,#f0f4f6,#e3edf3,#dae9f2,#dbeaf2,#e1edf3,#eaf1f5,#edf2f5,#ecf2f5,#e6eff4,#e0ecf3,#ddebf2,#ddebf2,#e1edf3,#e4eef4,#e6eff4,#e6eff4,#e3edf3,#e1edf3,#e0ecf3,#e1edf3,#e1edf3,#e3edf3,#e4eef4,#e3edf3,#e3edf3,#e1edf3 720px)"></i>
<i style="left:650px;background:linear-gradient(#f7f7f7 196px,#f7f5f4,#f7f5f4,#f7f7f7,#f5f6f7,#f3f5f6,#f5f6f7,#f7f7f7,#f8f4f2,#f8f3f0,#f8f3f0,#f7f7f7,#f2f5f6,#edf2f5,#eff3f5,#f7f7f7,#f9f0eb,#f9ede5,#f9efe9,#f7f7f7,#e9f0f4,#e1edf3,#e6eff4,#f7f7f7,#fae8de,#fcdfcf,#fbe4d6,#f7f7f7,#dae9f2,#c5dfec,#d4e6f1,#f7f7f7,#fdd9c4,#f7b99c,#fbccb4,#f7f5f4,#b1d5e7,#84bcd9,#aed3e6,#f8f3f0,#f5a886,#de735c,#f5a886,#f2f5f6,#75b2d4,#3885bc,#78b4d5,#f8f2ef,#dc6e57,#b61f2e,#de735c,#eff3f5,#3c8abe,#175290,#4393c3,#f8f1ed,#c53e3d,#790622,#ce4f45,#edf2f5,#2e77b5,#073467,#3885bc,#f9f0eb,#be3036,#6d0220,#cc4c44,#e0ecf3,#2870b1,#0e4179,#4f9bc7,#fae7dc,#c2383a,#9c1127,#e37e64,#e3edf3,#3e8cbf,#276eb0,#7eb8d7,#faeae1,#de735c,#ce4f45,#f5aa89,#e9f0f4,#81bad8,#5fa5cd,#aed3e6,#f9efe9,#f6b191,#f19e7d,#fbd0b9,#edf2f5,#bbdaea,#acd2e5,#d4e6f1,#f8f3f0,#fddcc9,#fcd7c2,#fae9df,#eaf1f5,#d5e7f1,#d2e6f0,#e0ecf3,#f3f5f6,#f9f0eb,#f9f0eb,#f5f6f7,#e6eff4,#dbeaf2,#dae9f2,#e0ecf3,#e7f0f4,#edf2f5,#edf2f5,#e7f0f4,#e1edf3,#ddebf2,#ddebf2,#e0ecf3,#e3edf3,#e6eff4,#e6eff4,#e4eef4,#e1edf3,#e0ecf3,#e0ecf3,#e1edf3,#e3edf3,#e4eef4,#e4eef4,#e3edf3,#e3edf3 720px)"></i>
<i style="left:655px;background:linear-gradient(#f7f7f7 196px,#f7f5f4,#f7f5f4,#f7f7f7,#f7f7f7,#f3f5f6,#f3f5f6,#f7f7f7,#f7f5f4,#f8f3f0,#f8f3f0,#f7f5f4,#f3f5f6,#eff3f5,#eff3f5,#f5f6f7,#f8f2ef,#f9ede5,#f9ede5,#f8f4f2,#edf2f5,#e1edf3,#e3edf3,#f0f4f6,#f9ede5,#fce0d0,#fce0d0,#f9f0eb,#e3edf3,#c7e0ed,#cae1ee,#eaf1f5,#fce2d2,#f8bda1,#f8bfa4,#fae9df,#c7e0ed,#8ac0db,#9bc9e0,#e7f0f4,#f9c2a7,#df765e,#e98b6e,#fae8de,#9dcbe1,#3a87bd,#4f9bc7,#deebf2,#f09c7b,#b72230,#cb4942,#fbe3d4,#6eaed2,#185493,#2b73b3,#d8e9f1,#df765e,#7c0722,#b3192c,#fcdecd,#4f9bc7,#073467,#1e61a5,#d5e7f1,#db6b55,#6d0220,#ab162a,#fae9df,#408fc1,#0c3d73,#2c75b4,#e6eff4,#da6853,#930e26,#c94741,#f9ebe3,#65a9cf,#246aae,#4997c5,#e9f0f4,#ee9677,#cb4942,#e58368,#f9efe9,#9dcbe1,#59a1ca,#90c4dd,#edf2f5,#f9c2a7,#f09c7b,#f8bda1,#f8f2ef,#cae1ee,#a9d1e5,#c5dfec,#f0f4f6,#fce2d2,#fcd5bf,#fbe4d6,#f3f5f6,#dae9f2,#d1e5f0,#dae9f2,#edf2f5,#f8f2ef,#f9efe9,#f7f5f4,#eaf1f5,#deebf2,#dae9f2,#ddebf2,#e6eff4,#ecf2f5,#edf2f5,#eaf1f5,#e3edf3,#deebf2,#ddebf2,#deebf2,#e3edf3,#e6eff4,#e6eff4,#e4eef4,#e3edf3,#e1edf3,#e0ecf3,#e1edf3,#e3edf3,#e3edf3,#e4eef4,#e3edf3,#e3edf3 720px)"></i>
<i style="left:660px;background:linear-gradient(#f7f7f7 196px,#f7f5f4,#f7f5f4,#f7f7f7,#f7f7f7,#f3f5f6,#f3f5f6,#f5f6f7,#f7f7f7,#f8f3f0,#f8f2ef,#f8f4f2,#f5f6f7,#eff3f5,#edf2f5,#f2f5f6,#f8f4f2,#f9eee7,#f9ede5,#f8f1ed,#f2f5f6,#e4eef4,#e1edf3,#eaf1f5,#f8f1ed,#fbe3d4,#fcdfcf,#faeae1,#ecf2f5,#cfe4ef,#c5dfec,#deebf2,#f9ebe3,#f9c6ac,#f7b99c,#fcdecd,#dbeaf2,#96c7df,#8ac0db,#d2e6f0,#fdddcb,#e6866a,#e17860,#fbd0b9,#c7e0ed,#4291c2,#3c8abe,#b6d7e8,#fac8af,#c2383a,#bb2a34,#f7b799,#aed3e6,#2065ab,#1b5a9c,#9bc9e0,#f7b596,#960f27,#8a0b25,#f4a683,#a0cce2,#114781,#0e4179,#90c4dd,#f6af8e,#840924,#810823,#f7b99c,#87beda,#114781,#195696,#aed3e6,#f4a683,#a21328,#b41c2d,#f9c6ac,#a0cce2,#2a71b2,#337eb8,#c2ddec,#f8bda1,#cf5246,#d86551,#fdd9c4,#c0dceb,#5fa5cd,#75b2d4,#d7e8f1,#fdd9c4,#f19e7d,#f5ac8b,#fbe5d8,#d8e9f1,#acd2e5,#b6d7e8,#e4eef4,#fae8de,#fcd5bf,#fcdecd,#f8f2ef,#e0ecf3,#d1e5f0,#d5e7f1,#e9f0f4,#f8f4f2,#f9efe9,#f8f2ef,#eff3f5,#e1edf3,#dae9f2,#dbeaf2,#e3edf3,#eaf1f5,#eff3f5,#ecf2f5,#e6eff4,#e0ecf3,#ddebf2,#deebf2,#e1edf3,#e4eef4,#e6eff4,#e6eff4,#e3edf3,#e1edf3,#e0ecf3,#e1edf3,#e1edf3,#e3edf3,#e4eef4,#e3edf3,#e3edf3 720px)"></i>
<i style="left:665px;background:linear-gradient(#f7f7f7 200px,#f7f5f4,#f7f5f4,#f7f7f7,#f5f6f7,#f3f5f6,#f5f6f7,#f7f7f7,#f8f4f2,#f8f2ef,#f8f3f0,#f7f7f7,#f0f4f6,#edf2f5,#f0f4f6,#f7f7f7,#f9f0eb,#f9ebe3,#f9efe9,#f7f7f7,#e7f0f4,#e0ecf3,#e6eff4,#f7f7f7,#fbe6da,#fcdecd,#fbe5d8,#f5f6f7,#d7e8f1,#c2ddec,#d5e7f1,#f7f5f4,#fcd3bc,#f7b799,#fbd0b9,#edf2f5,#a9d1e5,#84bcd9,#b6d7e8,#f9eee7,#f19e7d,#dd7059,#f6b191,#e7f0f4,#65a9cf,#3681ba,#84bcd9,#fae9df,#d55d4c,#b41c2d,#e48066,#e1edf3,#337eb8,#144e8a,#529dc8,#fbe6da,#ba2832,#760521,#d6604d,#deebf2,#2267ac,#053061,#408fc1,#fbe5d8,#b3192c,#6a011f,#de735c,#d1e5f0,#1f63a8,#0e4179,#65a9cf,#fddcc9,#ba2832,#9c1127,#ea8e70,#d7e8f1,#3681ba,#276eb0,#8dc2dc,#fbe3d4,#da6853,#ce4f45,#f7b596,#e0ecf3,#75b2d4,#5fa5cd,#b8d8e9,#fae9df,#f5aa89,#f2a17f,#fcd7c2,#e9f0f4,#b6d7e8,#acd2e5,#d7e8f1,#f9f0eb,#fddbc7,#fdd9c4,#f9ebe3,#e9f0f4,#d4e6f1,#d2e6f0,#e3edf3,#f7f7f7,#f9efe9,#f9f0eb,#f5f6f7,#e6eff4,#dbeaf2,#dae9f2,#e1edf3,#e9f0f4,#edf2f5,#edf2f5,#e7f0f4,#e1edf3,#ddebf2,#ddebf2,#e0ecf3,#e4eef4,#e6eff4,#e6eff4,#e4eef4,#e1edf3,#e0ecf3,#e0ecf3,#e1edf3,#e3edf3,#e4eef4,#e3edf3,#e3edf3 720px)"></i>
<i style="left:670px;background:linear-gradient(#f7f7f7 200px,#f7f5f4,#f7f5f4,#f7f7f7,#f5f6f7,#f3f5f6,#f3f5f6,#f7f7f7,#f7f5f4,#f8f3f0,#f8f3f0,#f7f7f7,#f2f5f6,#edf2f5,#eff3f5,#f5f6f7,#f8f2ef,#f9ede5,#f9eee7,#f8f4f2,#ecf2f5,#e1edf3,#e3edf3,#f2f5f6,#f9ebe3,#fcdfcf,#fce2d2,#f8f2ef,#e0ecf3,#c7e0ed,#cce2ef,#edf2f5,#fcdfcf,#f8bb9e,#f9c2a7,#f8f1ed,#c0dceb,#87beda,#9dcbe1,#ecf2f5,#f7b99c,#de735c,#ec9374,#f9eee7,#93c6de,#3885bc,#59a1ca,#e7f0f4,#ea8e70,#b61f2e,#cf5246,#fae9df,#5ca3cb,#15508d,#307ab6,#e3edf3,#d86551,#790622,#b82531,#fae7dc,#408fc1,#063264,#2369ad,#e1edf3,#d25849,#6a011f,#bf3338,#f8f2ef,#3885bc,#0a3b70,#337eb8,#f0f4f6,#d35a4a,#930e26,#d05548,#f8f2ef,#569fc9,#246aae,#569fc9,#f2f5f6,#e98b6e,#cb4942,#ea8e70,#f8f4f2,#96c7df,#59a1ca,#98c8e0,#f3f5f6,#f8bda1,#f09c7b,#f9c2a7,#f7f5f4,#c5dfec,#a9d1e5,#cae1ee,#f5f6f7,#fcdfcf,#fcd5bf,#fbe5d8,#f2f5f6,#d8e9f1,#d1e5f0,#ddebf2,#f0f4f6,#f8f1ed,#f9efe9,#f7f5f4,#eaf1f5,#deebf2,#dae9f2,#deebf2,#e7f0f4,#edf2f5,#edf2f5,#eaf1f5,#e3edf3,#deebf2,#ddebf2,#deebf2,#e3edf3,#e6eff4,#e6eff4,#e4eef4,#e3edf3,#e1edf3,#e0ecf3,#e1edf3,#e3edf3,#e3edf3,#e4eef4,#e3edf3 720px)"></i>
<i style="left:675px;background:linear-gradient(#f7f7f7 200px,#f7f5f4,#f7f5f4,#f7f7f7,#f7f7f7,#f3f5f6,#f3f5f6,#f5f6f7,#f7f5f4,#f8f3f0,#f8f3f0,#f8f4f2,#f5f6f7,#eff3f5,#edf2f5,#f2f5f6,#f8f4f2,#f9eee7,#f9ede5,#f8f2ef,#f0f4f6,#e4eef4,#e1edf3,#ecf2f5,#f9f0eb,#fbe3d4,#fcdfcf,#f9ebe3,#e9f0f4,#cfe4ef,#c5dfec,#e1edf3,#fae9df,#f9c4a9,#f8bb9e,#fbe5d8,#d8e9f1,#93c6de,#8dc2dc,#d7e8f1,#fdd9c4,#e58368,#e37e64,#fcd7c2,#c0dceb,#408fc1,#3f8ec0,#c0dceb,#f8bfa4,#c13639,#be3036,#f9c2a7,#a2cde3,#1f63a8,#1e61a5,#a9d1e5,#f5aa89,#930e26,#930e26,#f6b394,#93c6de,#10457e,#124984,#a0cce2,#f3a481,#810823,#991027,#f9c6ac,#7bb6d6,#114781,#1d5fa2,#bddbea,#f09c7b,#9f1228,#ba2832,#fbd0b9,#96c7df,#2870b1,#3885bc,#cfe4ef,#f7b799,#cf5246,#dc6e57,#fcdecd,#b8d8e9,#5fa5cd,#7bb6d6,#ddebf2,#fcd5bf,#f19e7d,#f6b191,#fae8de,#d7e8f1,#acd2e5,#bbdaea,#e7f0f4,#fbe6da,#fcd5bf,#fcdecd,#f8f3f0,#e0ecf3,#d2e6f0,#d8e9f1,#eaf1f5,#f8f3f0,#f9eee7,#f8f2ef,#eff3f5,#e1edf3,#dae9f2,#ddebf2,#e4eef4,#ecf2f5,#eff3f5,#ecf2f5,#e6eff4,#e0ecf3,#ddebf2,#deebf2,#e1edf3,#e4eef4,#e6eff4,#e6eff4,#e3edf3,#e1edf3,#e0ecf3,#e1edf3,#e3edf3,#e3edf3,#e4eef4,#e3edf3 720px)"></i>
<i style="left:680px;background:linear-gradient(#f7f7f7 204px,#f7f5f4,#f7f5f4,#f7f7f7,#f5f6f7,#f3f5f6,#f5f6f7,#f7f7f7,#f8f4f2,#f8f2ef,#f8f4f2,#f7f7f7,#f0f4f6,#edf2f5,#f0f4f6,#f7f7f7,#f9f0eb,#f9ede5,#f9efe9,#f5f6f7,#e7f0f4,#e1edf3,#e7f0f4,#f7f5f4,#fbe6da,#fcdfcf,#fbe6da,#f3f5f6,#d7e8f1,#c5dfec,#d7e8f1,#f8f3f0,#fcd3bc,#f7b99c,#fdd9c4,#eaf1f5,#a7d0e4,#87beda,#bbdaea,#f9ebe3,#f19e7d,#de735c,#f7b799,#e4eef4,#62a7ce,#3885bc,#90c4dd,#fbe6da,#d35a4a,#b72230,#ea8e70,#ddebf2,#337eb8,#185493,#62a7ce,#fce2d2,#ba2832,#7f0823,#dc6e57,#d8e9f1,#2267ac,#09386d,#4c99c6,#fce0d0,#b3192c,#790622,#e48066,#c7e0ed,#1f63a8,#124984,#75b2d4,#fcd7c2,#ba2832,#a51429,#ef9979,#d2e6f0,#3783bb,#2c75b4,#98c8e0,#fcdfcf,#da6853,#d25849,#f8bb9e,#ddebf2,#75b2d4,#68abd0,#c0dceb,#fae7dc,#f5ac8b,#f4a683,#fddbc7,#e7f0f4,#b6d7e8,#b1d5e7,#dae9f2,#f9efe9,#fdd9c4,#fddbc7,#f9ede5,#e7f0f4,#d5e7f1,#d4e6f1,#e4eef4,#f7f7f7,#f9efe9,#f9f0eb,#f3f5f6,#e6eff4,#dbeaf2,#dbeaf2,#e1edf3,#eaf1f5,#eff3f5,#edf2f5,#e7f0f4,#e1edf3,#ddebf2,#ddebf2,#e0ecf3,#e4eef4,#e6eff4,#e6eff4,#e4eef4,#e1edf3,#e0ecf3,#e0ecf3,#e1edf3,#e3edf3,#e4eef4,#e3edf3 720px)"></i>
<i style="left:685px;background:linear-gradient(#f7f7f7 204px,#f7f5f4,#f7f5f4,#f7f7f7,#f5f6f7,#f3f5f6,#f3f5f6,#f7f7f7,#f7f5f4,#f8f3f0,#f8f3f0,#f7f7f7,#f2f5f6,#edf2f5,#eff3f5,#f5f6f7,#f8f2ef,#f9ede5,#f9eee7,#f7f5f4,#ecf2f5,#e1edf3,#e4eef4,#f3f5f6,#f9ebe3,#fce0d0,#fbe3d4,#f8f2ef,#e0ecf3,#c7e0ed,#cfe4ef,#eff3f5,#fcdfcf,#f8bda1,#facab1,#f8f2ef,#c0dceb,#8ac0db,#a5cee3,#eff3f5,#f7b99c,#e17860,#ef9979,#f9efe9,#93c6de,#3b88be,#62a7ce,#eaf1f5,#ea8e70,#ba2832,#d55d4c,#f9ede5,#5ca3cb,#195696,#3681ba,#e7f0f4,#d86551,#810823,#bf3338,#faeae1,#408fc1,#0a3b70,#2a71b2,#e6eff4,#d35a4a,#730421,#c6413e,#f7f5f4,#3a87bd,#0f437b,#3a87bd,#f5f6f7,#d55d4c,#9f1228,#d6604d,#f7f5f4,#59a1ca,#2870b1,#62a7ce,#f5f6f7,#ea8e70,#ce4f45,#ee9677,#f7f5f4,#96c7df,#5fa5cd,#a0cce2,#f7f7f7,#f8bda1,#f2a17f,#f9c6ac,#f7f7f7,#c7e0ed,#acd2e5,#cfe4ef,#f7f7f7,#fcdecd,#fcd7c2,#fbe6da,#f2f5f6,#dae9f2,#d4e6f1,#deebf2,#f2f5f6,#f8f1ed,#f9efe9,#f7f5f4,#eaf1f5,#deebf2,#dbeaf2,#e0ecf3,#e7f0f4,#edf2f5,#edf2f5,#eaf1f5,#e3edf3,#deebf2,#ddebf2,#e0ecf3,#e3edf3,#e6eff4,#e6eff4,#e4eef4,#e3edf3,#e1edf3,#e0ecf3,#e1edf3,#e3edf3,#e3edf3,#e4eef4 720px)"></i>
<i style="left:690px;background:linear-gradient(#f7f7f7 204px,#f7f5f4,#f7f5f4,#f7f7f7,#f7f7f7,#f3f5f6,#f3f5f6,#f5f6f7,#f7f5f4,#f8f3f0,#f8f3f0,#f7f5f4,#f5f6f7,#eff3f5,#edf2f5,#f2f5f6,#f8f4f2,#f9eee7,#f9ede5,#f8f2ef,#f0f4f6,#e4eef4,#e1edf3,#edf2f5,#f9f0eb,#fbe3d4,#fce0d0,#f9ede5,#e9f0f4,#d1e5f0,#cae1ee,#e3edf3,#fae9df,#f9c6ac,#f8bfa4,#fbe6da,#d8e9f1,#98c8e0,#96c7df,#d8e9f1,#fddbc7,#e8896c,#e6866a,#fddbc7,#c0dceb,#4695c4,#4393c3,#c5dfec,#f9c2a7,#c53e3d,#c53e3d,#f9c6ac,#a5cee3,#2369ad,#246aae,#b1d5e7,#f5ac8b,#9f1228,#a51429,#f7b99c,#93c6de,#144e8a,#185493,#a7d0e4,#f4a683,#870a24,#a81529,#fbccb4,#7eb8d7,#15508d,#2369ad,#c5dfec,#f19e7d,#ae172a,#c13639,#fcd7c2,#98c8e0,#2e77b5,#3e8cbf,#d2e6f0,#f7b99c,#d35a4a,#df765e,#fce0d0,#bbdaea,#68abd0,#84bcd9,#deebf2,#fcd7c2,#f4a683,#f7b596,#fae9df,#d7e8f1,#b1d5e7,#c0dceb,#e9f0f4,#fbe4d6,#fcd7c2,#fcdfcf,#f8f4f2,#e0ecf3,#d4e6f1,#dae9f2,#ecf2f5,#f8f3f0,#f9efe9,#f8f3f0,#eff3f5,#e1edf3,#dbeaf2,#deebf2,#e6eff4,#ecf2f5,#eff3f5,#ecf2f5,#e6eff4,#e0ecf3,#ddebf2,#deebf2,#e1edf3,#e4eef4,#e6eff4,#e4eef4,#e3edf3,#e1edf3,#e0ecf3,#e1edf3,#e3edf3,#e3edf3,#e4eef4 720px)"></i>
<i style="left:695px;background:linear-gradient(#f7f7f7 208px,#f7f5f4,#f7f5f4,#f7f7f7,#f5f6f7,#f3f5f6,#f5f6f7,#f7f7f7,#f8f4f2,#f8f3f0,#f8f4f2,#f7f7f7,#f0f4f6,#edf2f5,#f0f4f6,#f7f7f7,#f9f0eb,#f9ede5,#f9f0eb,#f5f6f7,#e9f0f4,#e1edf3,#e7f0f4,#f7f5f4,#fae7dc,#fce0d0,#fae7dc,#f3f5f6,#d8e9f1,#c7e0ed,#d8e9f1,#f8f3f0,#fcd5bf,#f8bda1,#fddbc7,#ecf2f5,#acd2e5,#8dc2dc,#c0dceb,#f9ede5,#f3a481,#e37e64,#f8bb9e,#e4eef4,#6bacd1,#3f8ec0,#96c7df,#fae7dc,#d86551,#be3036,#ee9677,#deebf2,#3885bc,#1e61a5,#6bacd1,#fbe3d4,#bf3338,#900d26,#e17860,#dae9f2,#2870b1,#10457e,#59a1ca,#fce2d2,#b1182b,#8d0c25,#e98b6e,#cae1ee,#266caf,#195696,#7eb8d7,#fdd9c4,#c13639,#b41c2d,#f2a17f,#d4e6f1,#3c8abe,#337eb8,#a0cce2,#fce0d0,#de735c,#d7634f,#f8bfa4,#ddebf2,#7eb8d7,#71b0d3,#c5dfec,#fae8de,#f6b191,#f5aa89,#fdddcb,#e7f0f4,#bbdaea,#b6d7e8,#dbeaf2,#f9ede5,#fddbc7,#fddcc9,#f9ede5,#e9f0f4,#d7e8f1,#d7e8f1,#e6eff4,#f7f7f7,#f9efe9,#f8f1ed,#f5f6f7,#e6eff4,#ddebf2,#ddebf2,#e3edf3,#eaf1f5,#eff3f5,#edf2f5,#e7f0f4,#e1edf3,#deebf2,#deebf2,#e0ecf3,#e4eef4,#e6eff4,#e6eff4,#e4eef4,#e1edf3,#e0ecf3,#e1edf3,#e1edf3,#e3edf3,#e4eef4 720px)"></i>
<i style="left:700px;background:linear-gradient(#f7f7f7 208px,#f7f5f4,#f7f5f4,#f7f7f7,#f5f6f7,#f3f5f6,#f3f5f6,#f7f7f7,#f7f5f4,#f8f3f0,#f8f3f0,#f7f7f7,#f3f5f6,#eff3f5,#eff3f5,#f5f6f7,#f8f2ef,#f9eee7,#f9eee7,#f7f5f4,#edf2f5,#e3edf3,#e4eef4,#f3f5f6,#f9ebe3,#fce2d2,#fbe4d6,#f8f2ef,#e1edf3,#cce2ef,#d2e6f0,#eff3f5,#fce0d0,#f8bfa4,#fbceb7,#f8f2ef,#c5dfec,#93c6de,#a9d1e5,#eff3f5,#f8bfa4,#e58368,#f2a17f,#f9efe9,#9bc9e0,#4291c2,#6bacd1,#eaf1f5,#ef9979,#c13639,#da6853,#f9ede5,#6bacd1,#2065ab,#3c8abe,#e7f0f4,#de735c,#960f27,#c6413e,#faeae1,#4c99c6,#124984,#307ab6,#e6eff4,#d05548,#870a24,#cc4c44,#f8f4f2,#408fc1,#175290,#3f8ec0,#f3f5f6,#db6b55,#b1182b,#db6b55,#f8f4f2,#68abd0,#307ab6,#6bacd1,#f5f6f7,#ef9979,#d55d4c,#f19e7d,#f7f5f4,#9dcbe1,#6bacd1,#a5cee3,#f5f6f7,#f9c4a9,#f5a886,#facab1,#f7f7f7,#cce2ef,#b3d6e8,#d1e5f0,#f7f5f4,#fcdfcf,#fdd9c4,#fbe6da,#f2f5f6,#dbeaf2,#d5e7f1,#e0ecf3,#f2f5f6,#f8f1ed,#f9efe9,#f7f5f4,#eaf1f5,#e0ecf3,#ddebf2,#e1edf3,#e9f0f4,#edf2f5,#edf2f5,#eaf1f5,#e4eef4,#deebf2,#deebf2,#e0ecf3,#e3edf3,#e6eff4,#e6eff4,#e4eef4,#e3edf3,#e1edf3,#e0ecf3,#e1edf3,#e3edf3,#e3edf3 720px)"></i>
<i style="left:705px;background:linear-gradient(#f7f7f7 208px,#f7f5f4,#f7f5f4,#f7f7f7,#f7f7f7,#f5f6f7,#f3f5f6,#f5f6f7,#f7f7f7,#f8f3f0,#f8f3f0,#f7f5f4,#f5f6f7,#f0f4f6,#eff3f5,#f3f5f6,#f8f4f2,#f9efe9,#f9eee7,#f8f2ef,#f2f5f6,#e6eff4,#e3edf3,#edf2f5,#f8f1ed,#fbe5d8,#fce2d2,#f9ede5,#eaf1f5,#d4e6f1,#cce2ef,#e3edf3,#faeae1,#fac8af,#f9c6ac,#fbe6da,#dbeaf2,#a0cce2,#9bc9e0,#dae9f2,#fdddcb,#ec9374,#ea8e70,#fddcc9,#c7e0ed,#569fc9,#529dc8,#c7e0ed,#fac8af,#ce4f45,#cc4c44,#facab1,#aed3e6,#2c75b4,#2c75b4,#b3d6e8,#f7b596,#b3192c,#b41c2d,#f8bb9e,#a0cce2,#1d5fa2,#1f63a8,#a9d1e5,#f09c7b,#9f1228,#b61f2e,#fbceb7,#8dc2dc,#1e61a5,#2b73b3,#c5dfec,#f5a886,#ba2832,#c84440,#fcd7c2,#a5cee3,#3783bb,#4695c4,#d4e6f1,#f9c2a7,#da6853,#e48066,#fce2d2,#c2ddec,#75b2d4,#8dc2dc,#deebf2,#fddbc7,#f5ac8b,#f8bb9e,#fae9df,#dae9f2,#b6d7e8,#c5dfec,#edf2f5,#fbe6da,#fdd9c4,#fce0d0,#f8f3f0,#e3edf3,#d7e8f1,#dbeaf2,#ecf2f5,#f8f3f0,#f9efe9,#f8f3f0,#f0f4f6,#e3edf3,#ddebf2,#e0ecf3,#e6eff4,#ecf2f5,#eff3f5,#ecf2f5,#e6eff4,#e0ecf3,#deebf2,#deebf2,#e1edf3,#e4eef4,#e6eff4,#e4eef4,#e3edf3,#e1edf3,#e0ecf3,#e1edf3,#e3edf3,#e3edf3 720px)"></i>
<i style="left:710px;background:linear-gradient(#f7f7f7 212px,#f7f5f4,#f7f7f7,#f7f7f7,#f5f6f7,#f3f5f6,#f5f6f7,#f7f7f7,#f8f4f2,#f8f3f0,#f8f4f2,#f7f7f7,#f2f5f6,#eff3f5,#f0f4f6,#f7f7f7,#f8f1ed,#f9eee7,#f9f0eb,#f7f7f7,#e9f0f4,#e3edf3,#e9f0f4,#f7f5f4,#fae8de,#fce2d2,#fae8de,#f5f6f7,#dbeaf2,#cce2ef,#dae9f2,#f8f4f2,#fcd7c2,#f9c4a9,#fdddcb,#edf2f5,#b6d7e8,#98c8e0,#c2ddec,#f9eee7,#f5ac8b,#e8896c,#f8bfa4,#e7f0f4,#7eb8d7,#4997c5,#9dcbe1,#fae9df,#df765e,#c6413e,#f09c7b,#e3edf3,#4291c2,#276eb0,#75b2d4,#fbe6da,#cb4942,#a81529,#e48066,#e0ecf3,#337eb8,#195696,#62a7ce,#fddcc9,#be3036,#a21328,#eb9172,#d2e6f0,#307ab6,#2065ab,#87beda,#fcdecd,#cc4c44,#bd2d35,#f5a886,#d8e9f1,#4997c5,#3b88be,#a5cee3,#fbe4d6,#e58368,#dd7059,#f9c4a9,#e1edf3,#8dc2dc,#7eb8d7,#c7e0ed,#faeae1,#f7b99c,#f6b394,#fcdecd,#eaf1f5,#c2ddec,#bddbea,#e1edf3,#f9eee7,#fdddcb,#fdddcb,#f9ede5,#eaf1f5,#dae9f2,#dae9f2,#e6eff4,#f7f7f7,#f9f0eb,#f8f1ed,#f5f6f7,#e7f0f4,#e0ecf3,#deebf2,#e4eef4,#eaf1f5,#eff3f5,#edf2f5,#e7f0f4,#e3edf3,#deebf2,#deebf2,#e1edf3,#e4eef4,#e6eff4,#e6eff4,#e4eef4,#e1edf3 704px,#e1edf3 716px,#e3edf3 720px)"></i>
<i style="left:715px;background:linear-gradient(#f7f7f7 212px,#f7f5f4,#f7f5f4,#f7f7f7,#f7f7f7,#f3f5f6,#f5f6f7,#f7f7f7,#f7f5f4,#f8f3f0,#f8f3f0,#f7f7f7,#f3f5f6,#eff3f5,#f0f4f6,#f5f6f7,#f8f2ef,#f9eee7,#f9efe9,#f8f4f2,#edf2f5,#e4eef4,#e6eff4,#f3f5f6,#f9ede5,#fbe4d6,#fbe5d8,#f8f2ef,#e3edf3,#d1e5f0,#d4e6f1,#edf2f5,#fce0d0,#f9c6ac,#fbd0b9,#f8f1ed,#cfe4ef,#9dcbe1,#aed3e6,#edf2f5,#fac8af,#eb9172,#f5a886,#f9eee7,#a7d0e4,#529dc8,#78b4d5,#e9f0f4,#f4a683,#cc4c44,#df765e,#faeae1,#81bad8,#2b73b3,#4393c3,#e4eef4,#e6866a,#b1182b,#ce4f45,#fae8de,#65a9cf,#1c5c9f,#3885bc,#eff3f5,#db6b55,#a51429,#d35a4a,#f8f2ef,#569fc9,#2065ab,#4997c5,#f0f4f6,#e37e64,#bd2d35,#df765e,#f8f2ef,#7bb6d6,#3a87bd,#78b4d5,#f2f5f6,#f5a886,#dc6e57,#f4a683,#f8f3f0,#a9d1e5,#7bb6d6,#acd2e5,#f3f5f6,#fbccb4,#f6b191,#fbceb7,#f7f5f4,#d1e5f0,#bbdaea,#d7e8f1,#f7f7f7,#fce2d2,#fddcc9,#fae7dc,#f3f5f6,#deebf2,#d8e9f1,#e1edf3,#f2f5f6,#f8f1ed,#f9f0eb,#f7f5f4,#ecf2f5,#e1edf3,#deebf2,#e1edf3,#e9f0f4,#edf2f5,#edf2f5,#eaf1f5,#e4eef4,#e0ecf3,#deebf2,#e0ecf3,#e3edf3,#e4eef4,#e6eff4,#e4eef4,#e3edf3,#e1edf3,#e1edf3,#e1edf3,#e3edf3 720px)"></i>
<i style="left:720px;background:linear-gradient(#f7f7f7 212px,#f7f5f4,#f7f5f4,#f7f7f7,#f7f7f7,#f5f6f7,#f3f5f6,#f5f6f7,#f7f7f7,#f8f4f2,#f8f3f0,#f7f5f4,#f5f6f7,#f0f4f6,#eff3f5,#f3f5f6,#f8f4f2,#f9f0eb,#f9eee7,#f8f2ef,#f2f5f6,#e7f0f4,#e4eef4,#edf2f5,#f8f2ef,#fbe6da,#fbe4d6,#f9ede5,#edf2f5,#d7e8f1,#d1e5f0,#e3edf3,#faeae1,#fbd0b9,#facab1,#fae7dc,#e0ecf3,#acd2e5,#a5cee3,#dae9f2,#fce0d0,#f3a481,#f09c7b,#fddcc9,#d2e6f0,#6bacd1,#62a7ce,#c7e0ed,#fcd3bc,#d86551,#d55d4c,#facab1,#bddbea,#3885bc,#3681ba,#b3d6e8,#f9c4a9,#c13639,#be3036,#f8bda1,#b1d5e7,#2a71b2,#2870b1,#c0dceb,#f6af8e,#b72230,#bf3338,#fbccb4,#a0cce2,#2b73b3,#3480b9,#c5dfec,#f7b799,#c6413e,#d05548,#fcd7c2,#b3d6e8,#4291c2,#569fc9,#d2e6f0,#fbccb4,#e27b62,#ea8e70,#fce0d0,#cce2ef,#87beda,#98c8e0,#deebf2,#fcdfcf,#f7b596,#f8bfa4,#fae9df,#deebf2,#c0dceb,#cce2ef,#ecf2f5,#fae8de,#fdddcb,#fbe3d4,#f8f3f0,#e6eff4,#dae9f2,#deebf2,#ecf2f5,#f8f4f2,#f9f0eb,#f8f3f0,#f0f4f6,#e6eff4,#e0ecf3,#e1edf3,#e6eff4,#ecf2f5,#eff3f5,#ecf2f5,#e6eff4,#e1edf3,#deebf2,#e0ecf3,#e1edf3,#e4eef4,#e6eff4,#e4eef4,#e3edf3,#e1edf3,#e1edf3,#e1edf3,#e3edf3 720px)"></i>
<i style="left:725px;background:linear-gradient(#f7f7f7 216px,#f7f5f4,#f7f7f7,#f7f7f7,#f5f6f7,#f3f5f6,#f5f6f7,#f7f7f7,#f8f4f2,#f8f3f0,#f8f4f2,#f7f7f7,#f2f5f6,#eff3f5,#f2f5f6,#f7f7f7,#f8f1ed,#f9efe9,#f9f0eb,#f7f7f7,#ecf2f5,#e4eef4,#e9f0f4,#f7f7f7,#faeae1,#fbe4d6,#fae8de,#f7f7f7,#deebf2,#d2e6f0,#dbeaf2,#f8f3f0,#fddcc9,#facab1,#fcdecd,#f0f4f6,#c0dceb,#a2cde3,#c7e0ed,#f8f1ed,#f7b99c,#ee9677,#f9c2a7,#ecf2f5,#90c4dd,#5ca3cb,#a2cde3,#f9eee7,#e98b6e,#d25849,#f3a481,#e9f0f4,#5ca3cb,#327cb7,#7eb8d7,#f9ebe3,#d86551,#ba2832,#e8896c,#e6eff4,#408fc1,#2369ad,#81bad8,#fbe3d4,#cc4c44,#b72230,#ef9979,#dbeaf2,#3e8cbf,#2b73b3,#8dc2dc,#fbe4d6,#d86551,#c84440,#f5aa89,#e0ecf3,#62a7ce,#4393c3,#a9d1e5,#fae8de,#ee9677,#e48066,#f9c6ac,#e6eff4,#9dcbe1,#8dc2dc,#cae1ee,#f9eee7,#f9c2a7,#f7b99c,#fcdecd,#edf2f5,#cae1ee,#c5dfec,#e1edf3,#f9efe9,#fcdfcf,#fcdfcf,#f9ede5,#edf2f5,#ddebf2,#dbeaf2,#e7f0f4,#f7f7f7,#f8f1ed,#f8f1ed,#f5f6f7,#e9f0f4,#e1edf3,#e0ecf3,#e4eef4,#eaf1f5,#eff3f5,#edf2f5,#e9f0f4,#e3edf3,#e0ecf3,#e0ecf3,#e1edf3,#e3edf3,#e6eff4,#e4eef4,#e4eef4,#e1edf3 708px,#e1edf3 720px)"></i>
<i style="left:730px;background:linear-gradient(#f7f7f7 216px,#f7f5f4,#f7f5f4,#f7f7f7,#f7f7f7,#f5f6f7,#f5f6f7,#f7f7f7,#f7f5f4,#f8f4f2,#f8f4f2,#f7f7f7,#f3f5f6,#f0f4f6,#f0f4f6,#f5f6f7,#f8f3f0,#f9efe9,#f9efe9,#f8f4f2,#eff3f5,#e7f0f4,#e7f0f4,#f2f5f6,#f9efe9,#fbe6da,#fbe6da,#f8f2ef,#e6eff4,#d5e7f1,#d7e8f1,#f0f4f6,#fbe4d6,#fbceb7,#fcd7c2,#f8f1ed,#d4e6f1,#a9d1e5,#b6d7e8,#ecf2f5,#fcd3bc,#f2a17f,#f6b191,#f9ede5,#b6d7e8,#68abd0,#84bcd9,#e6eff4,#f7b799,#d7634f,#e48066,#fae8de,#98c8e0,#3783bb,#529dc8,#e1edf3,#f19e7d,#bf3338,#d6604d,#fbe6da,#81bad8,#2a71b2,#4997c5,#eaf1f5,#e6866a,#ba2832,#da6853,#f9eee7,#75b2d4,#2e77b5,#569fc9,#ecf2f5,#ee9677,#c94741,#e58368,#f9efe9,#93c6de,#4695c4,#81bad8,#edf2f5,#f7b596,#e48066,#f5ac8b,#f8f1ed,#b8d8e9,#8dc2dc,#b1d5e7,#f0f4f6,#fcd5bf,#f7b99c,#fcd3bc,#f8f3f0,#d7e8f1,#c2ddec,#d8e9f1,#f7f7f7,#fbe4d6,#fcdecd,#fae7dc,#f7f7f7,#e3edf3,#dbeaf2,#e3edf3,#f2f5f6,#f8f2ef,#f9f0eb,#f7f5f4,#edf2f5,#e4eef4,#e0ecf3,#e3edf3,#e9f0f4,#edf2f5,#edf2f5,#eaf1f5,#e6eff4,#e1edf3,#e0ecf3,#e0ecf3,#e3edf3,#e4eef4,#e6eff4,#e4eef4,#e3edf3,#e1edf3,#e1edf3,#e1edf3 720px)"></i>
<i style="left:735px;background:linear-gradient(#f7f7f7 220px,#f7f5f4,#f7f7f7,#f7f7f7,#f5f6f7,#f5f6f7,#f5f6f7,#f7f7f7,#f8f4f2,#f8f3f0,#f7f5f4,#f5f6f7,#f2f5f6,#f0f4f6,#f3f5f6,#f7f5f4,#f9f0eb,#f9efe9,#f8f2ef,#f3f5f6,#e9f0f4,#e6eff4,#edf2f5,#f8f3f0,#fae8de,#fbe5d8,#f9ede5,#eff3f5,#dbeaf2,#d5e7f1,#e6eff4,#f9ede5,#fcd7c2,#fbd0b9,#fae7dc,#e4eef4,#b8d8e9,#aed3e6,#dae9f2,#fbe5d8,#f6b191,#f4a683,#fddcc9,#dae9f2,#84bcd9,#75b2d4,#cae1ee,#fdddcb,#e37e64,#dc6e57,#facab1,#cfe4ef,#4997c5,#3f8ec0,#b6d7e8,#fcd3bc,#d05548,#c94741,#f8bda1,#c2ddec,#3885bc,#3783bb,#bddbea,#f8bfa4,#c6413e,#c94741,#fbccb4,#b3d6e8,#3885bc,#3c8abe,#c2ddec,#fac8af,#d55d4c,#d86551,#fcd5bf,#c2ddec,#59a1ca,#65a9cf,#d2e6f0,#fdd9c4,#ea8e70,#ef9979,#fce0d0,#d5e7f1,#98c8e0,#a2cde3,#deebf2,#fbe4d6,#f8bfa4,#f9c6ac,#fae9df,#e3edf3,#c7e0ed,#d1e5f0,#ecf2f5,#faeae1,#fcdfcf,#fbe4d6,#f8f2ef,#e9f0f4,#ddebf2,#e0ecf3,#edf2f5,#f8f4f2,#f9f0eb,#f8f3f0,#f2f5f6,#e7f0f4,#e1edf3,#e3edf3,#e7f0f4,#ecf2f5,#eff3f5,#ecf2f5,#e7f0f4,#e3edf3,#e0ecf3,#e0ecf3,#e1edf3,#e4eef4,#e6eff4,#e4eef4,#e3edf3,#e1edf3,#e1edf3,#e1edf3 720px)"></i>
<i style="left:740px;background:linear-gradient(#f7f7f7 220px,#f7f5f4,#f7f7f7,#f7f7f7,#f5f6f7,#f5f6f7,#f5f6f7,#f7f7f7,#f7f5f4,#f8f4f2,#f8f4f2,#f7f7f7,#f3f5f6,#f0f4f6,#f2f5f6,#f7f7f7,#f8f2ef,#f9efe9,#f8f1ed,#f7f7f7,#edf2f5,#e7f0f4,#eaf1f5,#f7f7f7,#f9ebe3,#fbe6da,#fae9df,#f7f7f7,#e1edf3,#d5e7f1,#e0ecf3,#f7f5f4,#fcdfcf,#fbd0b9,#fcdfcf,#f3f5f6,#cae1ee,#aed3e6,#cae1ee,#f8f4f2,#f9c6ac,#f4a683,#f9c6ac,#f2f5f6,#a2cde3,#71b0d3,#a7d0e4,#f8f2ef,#f2a17f,#dc6e57,#f5aa89,#f0f4f6,#78b4d5,#3e8cbf,#87beda,#f8f1ed,#e48066,#c84440,#eb9172,#eff3f5,#5fa5cd,#327cb7,#87beda,#fae9df,#db6b55,#c43b3c,#f19e7d,#e4eef4,#59a1ca,#3783bb,#93c6de,#faeae1,#e48066,#d35a4a,#f6af8e,#e7f0f4,#7eb8d7,#5ca3cb,#acd2e5,#f9ede5,#f5a886,#eb9172,#facab1,#ecf2f5,#acd2e5,#9bc9e0,#cce2ef,#f9f0eb,#fbccb4,#f9c2a7,#fcdfcf,#f0f4f6,#d1e5f0,#cce2ef,#e1edf3,#f8f1ed,#fbe3d4,#fce2d2,#f9ede5,#f0f4f6,#e1edf3,#deebf2,#e9f0f4,#f7f7f7,#f8f1ed,#f8f2ef,#f7f7f7,#ecf2f5,#e3edf3,#e1edf3,#e6eff4,#eaf1f5,#eff3f5,#edf2f5,#e9f0f4,#e4eef4,#e1edf3,#e0ecf3,#e1edf3,#e3edf3,#e4eef4,#e4eef4,#e3edf3,#e1edf3,#e1edf3,#e1edf3 720px)"></i>
<i style="left:745px;background:linear-gradient(#f7f7f7 236px,#f5f6f7,#f5f6f7,#f7f7f7,#f7f5f4,#f8f4f2,#f8f4f2,#f7f7f7,#f5f6f7,#f0f4f6,#f0f4f6,#f5f6f7,#f8f4f2,#f9f0eb,#f9f0eb,#f8f4f2,#f0f4f6,#e9f0f4,#e9f0f4,#f2f5f6,#f9f0eb,#fae7dc,#fae7dc,#f8f1ed,#e9f0f4,#dae9f2,#dae9f2,#eff3f5,#fae7dc,#fcd7c2,#fddbc7,#f9f0eb,#dae9f2,#b6d7e8,#bddbea,#e9f0f4,#fddcc9,#f6af8e,#f7b799,#faeae1,#c5dfec,#81bad8,#90c4dd,#e3edf3,#f9c6ac,#e27b62,#ea8e70,#fbe6da,#acd2e5,#4695c4,#62a7ce,#ddebf2,#f6b394,#cf5246,#dc6e57,#fbe3d4,#9dcbe1,#3783bb,#59a1ca,#e6eff4,#f2a17f,#c94741,#df765e,#faeae1,#93c6de,#3b88be,#65a9cf,#e6eff4,#f5ac8b,#d7634f,#ea8e70,#f9ebe3,#a7d0e4,#5fa5cd,#8dc2dc,#eaf1f5,#f9c4a9,#ec9374,#f6b394,#f9efe9,#c5dfec,#9dcbe1,#b8d8e9,#eff3f5,#fdddcb,#f9c4a9,#fcd7c2,#f8f2ef,#dae9f2,#cce2ef,#dae9f2,#f5f6f7,#fae7dc,#fce0d0,#fae8de,#f7f7f7,#e6eff4,#deebf2,#e4eef4,#f2f5f6,#f8f3f0,#f8f1ed,#f7f5f4,#eff3f5,#e6eff4,#e3edf3,#e4eef4,#e9f0f4,#edf2f5,#eff3f5,#eaf1f5,#e6eff4,#e3edf3,#e0ecf3,#e1edf3,#e3edf3,#e4eef4,#e4eef4,#e4eef4,#e3edf3,#e1edf3,#e1edf3 720px)"></i>
<i style="left:750px;background:linear-gradient(#f7f7f7 236px,#f5f6f7,#f5f6f7,#f5f6f7,#f7f7f7,#f8f4f2,#f8f4f2,#f7f5f4,#f7f7f7,#f2f5f6,#f0f4f6,#f3f5f6,#f7f5f4,#f8f1ed,#f9f0eb,#f8f2ef,#f5f6f7,#ecf2f5,#e7f0f4,#edf2f5,#f8f4f2,#faeae1,#fae7dc,#f9eee7,#f2f5f6,#deebf2,#d8e9f1,#e7f0f4,#f9efe9,#fdddcb,#fcd7c2,#fae7dc,#e9f0f4,#c2ddec,#b6d7e8,#dbeaf2,#fae9df,#f8bda1,#f6b191,#fdddcb,#e0ecf3,#98c8e0,#84bcd9,#cae1ee,#fbe4d6,#ee9677,#e48066,#fbccb4,#d8e9f1,#68abd0,#529dc8,#b6d7e8,#fcdecd,#dd7059,#d55d4c,#f8bfa4,#d4e6f1,#4393c3,#408fc1,#bbdaea,#fbd0b9,#d6604d,#d55d4c,#facab1,#c7e0ed,#4c99c6,#4c99c6,#c2ddec,#fcd7c2,#e17860,#e17860,#fcd5bf,#d2e6f0,#75b2d4,#78b4d5,#d2e6f0,#fcdfcf,#f3a481,#f4a683,#fce0d0,#ddebf2,#a7d0e4,#acd2e5,#deebf2,#fae8de,#facab1,#fbccb4,#fae8de,#e4eef4,#cfe4ef,#d4e6f1,#ecf2f5,#f9ede5,#fbe3d4,#fbe5d8,#f8f1ed,#ecf2f5,#e1edf3,#e3edf3,#edf2f5,#f7f5f4,#f8f1ed,#f8f3f0,#f3f5f6,#e9f0f4,#e4eef4,#e4eef4,#e9f0f4,#edf2f5,#eff3f5,#ecf2f5,#e9f0f4,#e4eef4,#e1edf3,#e1edf3,#e3edf3,#e4eef4,#e4eef4,#e4eef4,#e3edf3,#e1edf3,#e1edf3 720px)"></i>
<i style="left:755px;background:linear-gradient(#f7f7f7 240px,#f5f6f7,#f5f6f7,#f7f7f7,#f7f5f4,#f8f4f2,#f8f4f2,#f7f7f7,#f3f5f6,#f0f4f6,#f2f5f6,#f7f7f7,#f8f3f0,#f9f0eb,#f8f1ed,#f7f7f7,#eff3f5,#e9f0f4,#ecf2f5,#f7f7f7,#f9eee7,#fae8de,#faeae1,#f7f5f4,#e6eff4,#dae9f2,#e1edf3,#f7f7f7,#fbe4d6,#fdd9c4,#fce0d0,#f7f7f7,#d4e6f1,#b8d8e9,#cfe4ef,#f7f7f7,#fbd0b9,#f6b394,#fbccb4,#f7f7f7,#b3d6e8,#87beda,#aed3e6,#f7f7f7,#f7b596,#e58368,#f6af8e,#f7f7f7,#96c7df,#529dc8,#90c4dd,#f7f7f7,#f09c7b,#d55d4c,#f09c7b,#f7f7f7,#75b2d4,#3f8ec0,#90c4dd,#f9f0eb,#e8896c,#d25849,#f3a481,#edf2f5,#78b4d5,#4393c3,#98c8e0,#f9f0eb,#f09c7b,#de735c,#f6b394,#eff3f5,#96c7df,#71b0d3,#b1d5e7,#f8f2ef,#f7b799,#f2a17f,#fbccb4,#f0f4f6,#bbdaea,#a7d0e4,#cfe4ef,#f8f3f0,#fcd7c2,#facab1,#fce0d0,#f0f4f6,#d5e7f1,#d2e6f0,#e3edf3,#f8f3f0,#fbe5d8,#fbe3d4,#f9ede5,#f2f5f6,#e4eef4,#e1edf3,#eaf1f5,#f7f7f7,#f8f2ef,#f8f2ef,#f7f7f7,#edf2f5,#e6eff4,#e4eef4,#e7f0f4,#ecf2f5,#eff3f5,#edf2f5,#eaf1f5,#e6eff4,#e3edf3,#e1edf3,#e1edf3,#e4eef4,#e4eef4,#e4eef4,#e3edf3,#e1edf3,#e1edf3 720px)"></i>
<i style="left:760px;background:linear-gradient(#f7f7f7 240px,#f5f6f7,#f5f6f7,#f7f7f7,#f7f7f7,#f8f4f2,#f8f4f2,#f7f7f7,#f5f6f7,#f2f5f6,#f2f5f6,#f5f6f7,#f8f4f2,#f8f1ed,#f8f1ed,#f8f4f2,#f2f5f6,#eaf1f5,#eaf1f5,#f2f5f6,#f8f2ef,#fae9df,#fae9df,#f8f1ed,#ecf2f5,#ddebf2,#ddebf2,#eff3f5,#faeae1,#fddcc9,#fdddcb,#f9efe9,#e0ecf3,#c2ddec,#c5dfec,#e7f0f4,#fce2d2,#f8bb9e,#f8bfa4,#fae9df,#d2e6f0,#96c7df,#9dcbe1,#e0ecf3,#fcd5bf,#ec9374,#f09c7b,#fbe4d6,#c0dceb,#65a9cf,#75b2d4,#dae9f2,#f9c6ac,#dd7059,#e37e64,#fce0d0,#a7d0e4,#4695c4,#68abd0,#e0ecf3,#f7b799,#d7634f,#e58368,#fae7dc,#a9d1e5,#4f9bc7,#75b2d4,#e3edf3,#f8bfa4,#e27b62,#ef9979,#fae9df,#bbdaea,#7bb6d6,#98c8e0,#e7f0f4,#fcd3bc,#f4a683,#f8bb9e,#f9ede5,#d2e6f0,#a9d1e5,#bddbea,#ecf2f5,#fce2d2,#fbccb4,#fddbc7,#f8f3f0,#deebf2,#d2e6f0,#dbeaf2,#f3f5f6,#fae9df,#fbe3d4,#fae9df,#f7f5f4,#e9f0f4,#e3edf3,#e7f0f4,#f2f5f6,#f8f3f0,#f8f1ed,#f7f5f4,#f0f4f6,#e9f0f4,#e4eef4,#e6eff4,#eaf1f5,#edf2f5,#eff3f5,#ecf2f5,#e7f0f4,#e3edf3,#e1edf3,#e1edf3,#e3edf3,#e4eef4,#e4eef4,#e4eef4,#e3edf3,#e1edf3 720px)"></i>
<i style="left:765px;background:linear-gradient(#f7f7f7 240px,#f5f6f7,#f5f6f7,#f7f7f7,#f7f7f7,#f7f5f4,#f8f4f2,#f7f5f4,#f7f7f7,#f3f5f6,#f2f5f6,#f3f5f6,#f7f7f7,#f8f2ef,#f8f1ed,#f8f3f0,#f5f6f7,#edf2f5,#eaf1f5,#eff3f5,#f7f5f4,#f9ede5,#fae9df,#f9eee7,#f3f5f6,#e1edf3,#dbeaf2,#e7f0f4,#f8f2ef,#fce2d2,#fddcc9,#fae7dc,#edf2f5,#cfe4ef,#c0dceb,#dbeaf2,#f9eee7,#facab1,#f8bb9e,#fdddcb,#e7f0f4,#a9d1e5,#96c7df,#cce2ef,#fae9df,#f5aa89,#ec9374,#fbccb4,#e1edf3,#87beda,#68abd0,#b8d8e9,#fbe6da,#ea8e70,#de735c,#f8bfa4,#d7e8f1,#65a9cf,#569fc9,#bbdaea,#fcdecd,#e37e64,#de735c,#facab1,#d7e8f1,#6eaed2,#62a7ce,#c2ddec,#fce0d0,#eb9172,#e8896c,#fcd5bf,#dbeaf2,#90c4dd,#8ac0db,#d1e5f0,#fbe6da,#f6b394,#f6b191,#fcdfcf,#e4eef4,#b6d7e8,#b3d6e8,#deebf2,#f9ebe3,#fcd5bf,#fcd5bf,#faeae1,#e9f0f4,#d5e7f1,#d7e8f1,#eaf1f5,#f9efe9,#fbe5d8,#fbe6da,#f8f1ed,#eff3f5,#e4eef4,#e4eef4,#edf2f5,#f7f5f4,#f8f2ef,#f8f3f0,#f5f6f7,#ecf2f5,#e6eff4,#e6eff4,#e9f0f4,#edf2f5,#eff3f5,#edf2f5,#e9f0f4,#e4eef4,#e3edf3,#e1edf3,#e3edf3,#e4eef4,#e4eef4,#e4eef4,#e3edf3,#e1edf3 720px)"></i>
<i style="left:770px;background:linear-gradient(#f7f7f7 244px,#f5f6f7,#f5f6f7,#f7f7f7,#f7f5f4,#f8f4f2,#f7f5f4,#f7f7f7,#f5f6f7,#f2f5f6,#f2f5f6,#f7f7f7,#f8f3f0,#f8f1ed,#f8f2ef,#f7f7f7,#f0f4f6,#eaf1f5,#ecf2f5,#f5f6f7,#f9f0eb,#fae9df,#f9ebe3,#f7f5f4,#e7f0f4,#ddebf2,#e3edf3,#f5f6f7,#fae7dc,#fdddcb,#fbe3d4,#f7f5f4,#dae9f2,#c5dfec,#d2e6f0,#f5f6f7,#fddcc9,#f8bda1,#fbd0b9,#f8f4f2,#c5dfec,#9bc9e0,#b3d6e8,#f3f5f6,#f9c6ac,#ef9979,#f7b799,#f8f3f0,#acd2e5,#6eaed2,#9bc9e0,#f2f5f6,#f6b394,#e17860,#f3a481,#f5f6f7,#93c6de,#569fc9,#98c8e0,#f7f5f4,#f3a481,#dd7059,#f5aa89,#f5f6f7,#96c7df,#5fa5cd,#a0cce2,#f7f5f4,#f6b191,#e8896c,#f7b99c,#f5f6f7,#acd2e5,#87beda,#b6d7e8,#f7f5f4,#f9c6ac,#f6af8e,#fbd0b9,#f7f7f7,#cae1ee,#b3d6e8,#d2e6f0,#f7f7f7,#fcdecd,#fcd3bc,#fbe4d6,#f3f5f6,#dbeaf2,#d5e7f1,#e3edf3,#f7f5f4,#fae8de,#fbe5d8,#f9ede5,#f5f6f7,#e7f0f4,#e4eef4,#eaf1f5,#f5f6f7,#f8f2ef,#f8f2ef,#f7f7f7,#eff3f5,#e9f0f4,#e6eff4,#e9f0f4,#ecf2f5,#eff3f5,#eff3f5,#eaf1f5,#e7f0f4,#e3edf3,#e3edf3,#e3edf3,#e4eef4,#e4eef4,#e4eef4,#e3edf3,#e3edf3 720px)"></i>
<i style="left:775px;background:linear-gradient(#f7f7f7 244px,#f5f6f7,#f5f6f7,#f7f7f7,#f7f7f7,#f7f5f4,#f8f4f2,#f7f5f4,#f5f6f7,#f3f5f6,#f2f5f6,#f5f6f7,#f7f5f4,#f8f2ef,#f8f1ed,#f8f4f2,#f3f5f6,#ecf2f5,#ecf2f5,#f2f5f6,#f8f3f0,#f9ebe3,#faeae1,#f8f1ed,#edf2f5,#e0ecf3,#e0ecf3,#edf2f5,#f9eee7,#fce0d0,#fcdfcf,#f9eee7,#e6eff4,#cce2ef,#cce2ef,#e7f0f4,#fbe6da,#fac8af,#fac8af,#fae8de,#dbeaf2,#a7d0e4,#a7d0e4,#deebf2,#fcdfcf,#f5a886,#f5a886,#fbe3d4,#d1e5f0,#81bad8,#84bcd9,#d8e9f1,#fcd7c2,#e98b6e,#ea8e70,#fbe4d6,#bddbea,#65a9cf,#7bb6d6,#ddebf2,#facab1,#e37e64,#eb9172,#fbe4d6,#c0dceb,#6eaed2,#84bcd9,#deebf2,#fbd0b9,#ec9374,#f4a683,#fae7dc,#cce2ef,#90c4dd,#a2cde3,#e4eef4,#fdddcb,#f7b596,#f9c2a7,#f9ebe3,#dae9f2,#b8d8e9,#c5dfec,#eaf1f5,#fbe6da,#fcd5bf,#fcdecd,#f8f2ef,#e3edf3,#d7e8f1,#deebf2,#f2f5f6,#f9ede5,#fbe6da,#fae9df,#f8f4f2,#ecf2f5,#e6eff4,#e9f0f4,#f2f5f6,#f8f4f2,#f8f2ef,#f8f4f2,#f2f5f6,#eaf1f5,#e7f0f4,#e7f0f4,#ecf2f5,#eff3f5,#eff3f5,#ecf2f5,#e9f0f4,#e4eef4,#e3edf3,#e3edf3,#e4eef4 704px,#e4eef4 716px,#e3edf3 720px)"></i>
<i style="left:780px;background:linear-gradient(#f7f7f7 248px,#f5f6f7,#f7f7f7,#f7f7f7,#f7f5f4,#f8f4f2,#f7f5f4,#f7f7f7,#f3f5f6,#f2f5f6,#f3f5f6,#f7f7f7,#f8f3f0,#f8f1ed,#f8f3f0,#f7f7f7,#eff3f5,#ecf2f5,#eff3f5,#f7f7f7,#f9efe9,#faeae1,#f9efe9,#f3f5f6,#e4eef4,#e0ecf3,#e7f0f4,#f8f3f0,#fbe5d8,#fcdfcf,#fae8de,#f0f4f6,#d7e8f1,#cae1ee,#ddebf2,#f8f1ed,#fcd5bf,#f9c6ac,#fcdecd,#edf2f5,#bbdaea,#a5cee3,#cfe4ef,#f9efe9,#f8bb9e,#f4a683,#fbceb7,#eaf1f5,#a0cce2,#7eb8d7,#bbdaea,#f9ede5,#f5a886,#e8896c,#fbccb4,#e0ecf3,#84bcd9,#6eaed2,#bddbea,#fbe6da,#ef9979,#e6866a,#facab1,#e1edf3,#8ac0db,#78b4d5,#c2ddec,#fae8de,#f5a886,#f09c7b,#fcd5bf,#e4eef4,#a5cee3,#98c8e0,#d2e6f0,#f9ebe3,#f9c2a7,#f8bb9e,#fce0d0,#eaf1f5,#c5dfec,#bddbea,#deebf2,#f9efe9,#fddcc9,#fddbc7,#faeae1,#ecf2f5,#dae9f2,#dae9f2,#eaf1f5,#f8f1ed,#fae7dc,#fae8de,#f8f1ed,#f0f4f6,#e7f0f4,#e7f0f4,#eff3f5,#f7f7f7,#f8f2ef,#f8f3f0,#f7f7f7,#edf2f5,#e9f0f4,#e7f0f4,#eaf1f5,#edf2f5,#eff3f5,#edf2f5,#eaf1f5,#e6eff4,#e4eef4,#e3edf3,#e4eef4,#e4eef4,#e6eff4,#e4eef4,#e3edf3 720px)"></i>
<i style="left:785px;background:linear-gradient(#f7f7f7 248px,#f5f6f7,#f5f6f7,#f7f7f7,#f7f7f7,#f7f5f4,#f7f5f4,#f7f7f7,#f5f6f7,#f2f5f6,#f3f5f6,#f7f7f7,#f8f4f2,#f8f2ef,#f8f2ef,#f7f5f4,#f2f5f6,#ecf2f5,#edf2f5,#f5f6f7,#f8f1ed,#f9ebe3,#f9ede5,#f7f5f4,#eaf1f5,#e1edf3,#e4eef4,#f3f5f6,#faeae1,#fce0d0,#fbe4d6,#f8f4f2,#e0ecf3,#cfe4ef,#d5e7f1,#f2f5f6,#fce2d2,#facab1,#fcd5bf,#f8f2ef,#d2e6f0,#a9d1e5,#bbdaea,#eff3f5,#fcd5bf,#f5aa89,#f8bda1,#f9f0eb,#c0dceb,#87beda,#a2cde3,#ecf2f5,#f9c6ac,#eb9172,#f6b394,#f8f4f2,#a9d1e5,#71b0d3,#a0cce2,#f3f5f6,#f7b99c,#e8896c,#f6b191,#f8f4f2,#acd2e5,#7bb6d6,#a7d0e4,#f3f5f6,#f9c2a7,#f09c7b,#f8bda1,#f8f4f2,#bddbea,#98c8e0,#bbdaea,#f3f5f6,#fcd5bf,#f8bb9e,#fcd5bf,#f7f5f4,#d4e6f1,#bddbea,#d4e6f1,#f5f6f7,#fbe3d4,#fdd9c4,#fbe5d8,#f7f7f7,#e0ecf3,#dae9f2,#e4eef4,#f7f7f7,#faeae1,#fae7dc,#f9ede5,#f7f7f7,#eaf1f5,#e7f0f4,#ecf2f5,#f5f6f7,#f8f3f0,#f8f2ef,#f7f5f4,#f0f4f6,#eaf1f5,#e9f0f4,#eaf1f5,#edf2f5,#eff3f5,#eff3f5,#ecf2f5,#e9f0f4,#e4eef4,#e3edf3,#e4eef4,#e4eef4,#e6eff4,#e4eef4,#e4eef4 720px)"></i>
<i style="left:790px;background:linear-gradient(#f7f7f7 252px,#f5f6f7,#f7f7f7,#f7f7f7,#f7f5f4,#f7f5f4,#f7f5f4,#f7f7f7,#f3f5f6,#f2f5f6,#f5f6f7,#f7f5f4,#f8f3f0,#f8f2ef,#f8f4f2,#f5f6f7,#eff3f5,#ecf2f5,#f2f5f6,#f8f4f2,#f9eee7,#f9ebe3,#f8f2ef,#f0f4f6,#e4eef4,#e1edf3,#edf2f5,#f9f0eb,#fbe4d6,#fce2d2,#f9eee7,#eaf1f5,#d4e6f1,#d2e6f0,#e6eff4,#faeae1,#fcd3bc,#fbceb7,#fae7dc,#e3edf3,#b8d8e9,#b1d5e7,#deebf2,#fbe5d8,#f7b799,#f6b394,#fce2d2,#dbeaf2,#9bc9e0,#96c7df,#d7e8f1,#fce0d0,#f3a481,#f3a481,#fbe3d4,#d1e5f0,#84bcd9,#8ac0db,#dae9f2,#fdd9c4,#ef9979,#f2a17f,#fbe3d4,#d1e5f0,#8ac0db,#93c6de,#ddebf2,#fdddcb,#f5a886,#f6b191,#fbe5d8,#d7e8f1,#a2cde3,#acd2e5,#e1edf3,#fbe3d4,#f9c2a7,#fac8af,#faeae1,#e0ecf3,#c5dfec,#cce2ef,#e9f0f4,#fae9df,#fddcc9,#fce0d0,#f8f1ed,#e7f0f4,#dbeaf2,#e0ecf3,#f0f4f6,#f9efe9,#fae8de,#faeae1,#f8f4f2,#eff3f5,#e7f0f4,#eaf1f5,#f2f5f6,#f8f4f2,#f8f2ef,#f8f4f2,#f3f5f6,#edf2f5,#e9f0f4,#e9f0f4,#ecf2f5,#eff3f5,#eff3f5,#edf2f5,#eaf1f5,#e6eff4,#e4eef4,#e4eef4,#e4eef4,#e6eff4,#e6eff4,#e4eef4 720px)"></i>
<i style="left:795px;background:linear-gradient(#f7f7f7 252px,#f5f6f7,#f7f7f7,#f7f7f7,#f7f5f4,#f7f5f4,#f7f5f4,#f7f7f7,#f5f6f7,#f3f5f6,#f3f5f6,#f7f7f7,#f8f4f2,#f8f2ef,#f8f3f0,#f7f7f7,#f0f4f6,#edf2f5,#eff3f5,#f7f7f7,#f9f0eb,#f9ede5,#f9f0eb,#f5f6f7,#e9f0f4,#e1edf3,#e9f0f4,#f7f5f4,#fae8de,#fce2d2,#fae8de,#f3f5f6,#dbeaf2,#d1e5f0,#ddebf2,#f8f4f2,#fdddcb,#fbceb7,#fcdfcf,#f2f5f6,#cae1ee,#b1d5e7,#d1e5f0,#f8f3f0,#facab1,#f6b394,#fcd3bc,#f0f4f6,#b3d6e8,#93c6de,#bddbea,#f8f2ef,#f7b99c,#f19e7d,#fbccb4,#e9f0f4,#9dcbe1,#84bcd9,#c0dceb,#f9ede5,#f6af8e,#ef9979,#fbccb4,#e9f0f4,#a2cde3,#8ac0db,#c5dfec,#f9eee7,#f7b99c,#f5aa89,#fcd7c2,#ecf2f5,#b6d7e8,#a5cee3,#d2e6f0,#f9f0eb,#fbceb7,#f9c4a9,#fce0d0,#eff3f5,#d1e5f0,#c7e0ed,#deebf2,#f8f2ef,#fcdfcf,#fcdecd,#faeae1,#f0f4f6,#deebf2,#ddebf2,#eaf1f5,#f8f3f0,#fae9df,#fae9df,#f9f0eb,#f3f5f6,#eaf1f5,#e9f0f4,#eff3f5,#f7f7f7,#f8f2ef,#f8f3f0,#f7f7f7,#f0f4f6,#eaf1f5,#eaf1f5,#ecf2f5,#eff3f5,#f0f4f6,#eff3f5,#ecf2f5,#e7f0f4,#e6eff4,#e4eef4,#e4eef4,#e6eff4,#e6eff4,#e4eef4 720px)"></i>
<i style="left:800px;background:linear-gradient(#f7f7f7 268px,#f7f5f4,#f7f5f4,#f7f7f7,#f5f6f7,#f3f5f6,#f3f5f6,#f7f7f7,#f7f5f4,#f8f3f0,#f8f2ef,#f7f5f4,#f3f5f6,#edf2f5,#edf2f5,#f3f5f6,#f8f2ef,#f9eee7,#f9eee7,#f8f4f2,#edf2f5,#e4eef4,#e6eff4,#f3f5f6,#f9ede5,#fbe4d6,#fbe6da,#f8f3f0,#e4eef4,#d4e6f1,#d8e9f1,#eff3f5,#fbe6da,#fcd3bc,#fdd9c4,#f9f0eb,#dae9f2,#b8d8e9,#c2ddec,#ecf2f5,#fcdecd,#f7b99c,#f9c4a9,#f9eee7,#cfe4ef,#9bc9e0,#acd2e5,#e9f0f4,#fcd5bf,#f3a481,#f7b99c,#f9f0eb,#bddbea,#8ac0db,#a7d0e4,#edf2f5,#facab1,#f19e7d,#f7b799,#f9f0eb,#c0dceb,#90c4dd,#acd2e5,#eff3f5,#fbd0b9,#f5ac8b,#f9c4a9,#f8f1ed,#cce2ef,#a7d0e4,#c0dceb,#f0f4f6,#fdddcb,#f9c6ac,#fcd7c2,#f8f3f0,#dae9f2,#c7e0ed,#d7e8f1,#f2f5f6,#fbe5d8,#fdddcb,#fbe6da,#f7f7f7,#e4eef4,#ddebf2,#e6eff4,#f7f7f7,#f9ede5,#fae9df,#f9eee7,#f7f7f7,#edf2f5,#e9f0f4,#edf2f5,#f5f6f7,#f8f3f0,#f8f2ef,#f7f5f4,#f3f5f6,#edf2f5,#eaf1f5,#ecf2f5,#edf2f5,#f0f4f6,#f0f4f6,#edf2f5,#eaf1f5,#e7f0f4,#e4eef4,#e4eef4,#e6eff4,#e6eff4,#e6eff4 720px)"></i>
<i style="left:805px;background:linear-gradient(#f7f7f7 256px,#f5f6f7,#f7f7f7,#f7f7f7,#f7f5f4,#f7f5f4,#f7f5f4,#f7f7f7,#f3f5f6,#f3f5f6,#f5f6f7,#f7f7f7,#f8f3f0,#f8f2ef,#f8f4f2,#f5f6f7,#f0f4f6,#edf2f5,#f2f5f6,#f7f5f4,#f9efe9,#f9eee7,#f8f2ef,#f2f5f6,#e7f0f4,#e4eef4,#edf2f5,#f8f2ef,#fae7dc,#fbe4d6,#f9eee7,#edf2f5,#dae9f2,#d5e7f1,#e6eff4,#f9efe9,#fddcc9,#fcd5bf,#fae7dc,#e9f0f4,#c5dfec,#bbdaea,#ddebf2,#faeae1,#f9c6ac,#f8bda1,#fce2d2,#e3edf3,#acd2e5,#a2cde3,#d5e7f1,#fae7dc,#f6b191,#f6af8e,#fce0d0,#dae9f2,#9bc9e0,#98c8e0,#d8e9f1,#fce2d2,#f5ac8b,#f5ac8b,#fce0d0,#dbeaf2,#a0cce2,#a0cce2,#dae9f2,#fbe4d6,#f7b799,#f7b99c,#fbe4d6,#e0ecf3,#b3d6e8,#b6d7e8,#e0ecf3,#fae8de,#fbccb4,#fbceb7,#fae9df,#e6eff4,#cfe4ef,#d1e5f0,#e7f0f4,#f9ebe3,#fcdfcf,#fce2d2,#f9f0eb,#eaf1f5,#deebf2,#e1edf3,#f0f4f6,#f9f0eb,#faeae1,#f9ebe3,#f8f3f0,#f0f4f6,#eaf1f5,#ecf2f5,#f2f5f6,#f7f5f4,#f8f2ef,#f8f4f2,#f5f6f7,#eff3f5,#ecf2f5,#ecf2f5,#edf2f5,#f0f4f6,#f0f4f6,#eff3f5,#ecf2f5,#e7f0f4,#e6eff4 704px,#e6eff4 720px)"></i>
<i style="left:810px;background:linear-gradient(#f7f7f7 272px,#f7f5f4,#f7f5f4,#f7f7f7,#f5f6f7,#f3f5f6,#f3f5f6,#f7f7f7,#f8f4f2,#f8f3f0,#f8f3f0,#f7f7f7,#f2f5f6,#eff3f5,#f0f4f6,#f7f7f7,#f8f1ed,#f9eee7,#f9f0eb,#f7f7f7,#eaf1f5,#e4eef4,#e9f0f4,#f7f7f7,#faeae1,#fbe5d8,#fae9df,#f7f7f7,#e1edf3,#d7e8f1,#deebf2,#f7f7f7,#fbe3d4,#fcd7c2,#fce0d0,#f7f7f7,#d4e6f1,#bddbea,#d2e6f0,#f7f7f7,#fcd7c2,#f8bda1,#fcd5bf,#f7f7f7,#c2ddec,#a2cde3,#c2ddec,#f7f7f7,#f9c4a9,#f5ac8b,#fbceb7,#f0f4f6,#b1d5e7,#96c7df,#c2ddec,#f8f2ef,#f8bfa4,#f5a886,#fbceb7,#f0f4f6,#b3d6e8,#9bc9e0,#c7e0ed,#f8f2ef,#fac8af,#f7b596,#fcd7c2,#f2f5f6,#c5dfec,#b1d5e7,#d4e6f1,#f8f3f0,#fdd9c4,#fbccb4,#fce2d2,#f3f5f6,#d7e8f1,#cfe4ef,#deebf2,#f8f2ef,#fbe3d4,#fce0d0,#faeae1,#f2f5f6,#e3edf3,#e0ecf3,#eaf1f5,#f8f4f2,#f9ebe3,#faeae1,#f9f0eb,#f5f6f7,#ecf2f5,#eaf1f5,#f0f4f6,#f7f7f7,#f8f3f0,#f8f3f0,#f7f7f7,#f2f5f6,#edf2f5,#ecf2f5,#edf2f5,#eff3f5,#f0f4f6,#f0f4f6,#edf2f5,#eaf1f5,#e7f0f4,#e6eff4 708px,#e6eff4 720px)"></i>
<i style="left:815px;background:linear-gradient(#f7f7f7 272px,#f7f5f4,#f7f5f4,#f7f7f7,#f7f7f7,#f3f5f6,#f3f5f6,#f7f7f7,#f7f5f4,#f8f3f0,#f8f3f0,#f7f5f4,#f3f5f6,#eff3f5,#eff3f5,#f3f5f6,#f8f3f0,#f9efe9,#f9efe9,#f8f4f2,#eff3f5,#e6eff4,#e7f0f4,#f2f5f6,#f9efe9,#fbe6da,#fae7dc,#f8f2ef,#e9f0f4,#dae9f2,#dae9f2,#edf2f5,#fae9df,#fddbc7,#fdddcb,#f9efe9,#e0ecf3,#c5dfec,#cae1ee,#e9f0f4,#fbe4d6,#f9c4a9,#facab1,#f9ebe3,#d8e9f1,#acd2e5,#b3d6e8,#e6eff4,#fddbc7,#f6b191,#f8bfa4,#f9ede5,#cfe4ef,#9dcbe1,#aed3e6,#e9f0f4,#fdd9c4,#f6af8e,#f8bda1,#f9ede5,#d1e5f0,#a2cde3,#b3d6e8,#eaf1f5,#fddcc9,#f7b99c,#fac8af,#f9efe9,#d7e8f1,#b6d7e8,#c7e0ed,#edf2f5,#fbe3d4,#fbceb7,#fddbc7,#f8f1ed,#e0ecf3,#d1e5f0,#d8e9f1,#f3f5f6,#fae8de,#fce0d0,#fbe6da,#f8f4f2,#e7f0f4,#e0ecf3,#e6eff4,#f5f6f7,#f9efe9,#faeae1,#f9eee7,#f7f5f4,#eff3f5,#eaf1f5,#eff3f5,#f5f6f7,#f8f4f2,#f8f2ef,#f8f4f2,#f5f6f7,#eff3f5,#ecf2f5,#edf2f5,#eff3f5,#f0f4f6,#f0f4f6,#eff3f5,#ecf2f5,#e9f0f4,#e6eff4,#e6eff4,#e6eff4,#e7f0f4 720px)"></i>
</div></div>
<div class="hm" style="left:1448px"><div>
<i style="left:0px;background:linear-gradient(#f7f7f7 308px,#f5f6f7,#f5f6f7,#f7f7f7,#f7f5f4,#f8f4f2,#f7f5f4,#f7f7f7,#f3f5f6,#f2f5f6,#f3f5f6,#f7f7f7,#f8f4f2,#f8f2ef,#f8f3f0,#f7f7f7,#f0f4f6,#edf2f5,#f0f4f6,#f7f7f7,#f8f1ed,#f9eee7,#f8f1ed,#f7f7f7,#ecf2f5,#e7f0f4,#ecf2f5,#f7f7f7,#f9eee7,#fae9df,#f9eee7,#f5f6f7,#e7f0f4,#e1edf3,#e9f0f4,#f7f5f4,#fae9df,#fbe5d8,#f9ebe3,#f5f6f7,#e3edf3,#ddebf2,#e6eff4,#f7f5f4,#fae7dc,#fbe3d4,#faeae1,#f3f5f6,#e1edf3,#dbeaf2,#e6eff4,#f8f4f2,#fae7dc,#fbe4d6,#f9ebe3,#f3f5f6,#e3edf3,#deebf2,#e9f0f4,#f8f4f2,#fae9df,#fae7dc,#f9eee7,#f3f5f6,#e7f0f4,#e4eef4,#edf2f5,#f7f5f4,#f9eee7,#f9ebe3,#f8f1ed,#f5f6f7,#ecf2f5,#ecf2f5,#f0f4f6,#f7f5f4,#f8f1ed,#f8f1ed,#f8f3f0,#f5f6f7,#f0f4f6,#f0f4f6,#f3f5f6,#f7f7f7,#f8f4f2,#f8f3f0,#f7f5f4,#f7f7f7,#f5f6f7,#f3f5f6,#f7f7f7,#f7f7f7,#f7f5f4,#f7f5f4,#f7f7f7 684px)"></i>
<i style="left:5px;background:linear-gradient(#f7f7f7 304px,#f5f6f7,#f5f6f7,#f7f7f7,#f7f7f7,#f7f5f4,#f8f4f2,#f7f5f4,#f7f7f7,#f3f5f6,#f2f5f6,#f5f6f7,#f7f5f4,#f8f3f0,#f8f2ef,#f8f4f2,#f5f6f7,#eff3f5,#edf2f5,#f2f5f6,#f8f4f2,#f9efe9,#f9eee7,#f8f3f0,#f2f5f6,#e9f0f4,#e7f0f4,#f0f4f6,#f8f2ef,#faeae1,#fae9df,#f8f1ed,#eff3f5,#e3edf3,#e1edf3,#edf2f5,#f9f0eb,#fbe6da,#fbe6da,#f9f0eb,#edf2f5,#deebf2,#ddebf2,#ecf2f5,#f9efe9,#fbe4d6,#fbe4d6,#f9efe9,#ecf2f5,#ddebf2,#ddebf2,#edf2f5,#f9efe9,#fbe4d6,#fbe5d8,#f9f0eb,#ecf2f5,#deebf2,#e0ecf3,#eff3f5,#f9f0eb,#fae7dc,#fae8de,#f8f2ef,#edf2f5,#e4eef4,#e6eff4,#f2f5f6,#f8f1ed,#f9ebe3,#f9ede5,#f8f3f0,#f0f4f6,#eaf1f5,#ecf2f5,#f3f5f6,#f8f3f0,#f9f0eb,#f8f1ed,#f7f5f4,#f3f5f6,#f0f4f6,#f2f5f6,#f5f6f7,#f7f5f4,#f8f3f0,#f8f4f2,#f7f7f7,#f5f6f7,#f3f5f6,#f5f6f7,#f7f7f7,#f7f7f7,#f7f5f4,#f7f5f4,#f7f7f7 684px)"></i>
<i style="left:10px;background:linear-gradient(#f7f7f7 304px,#f5f6f7,#f5f6f7,#f7f7f7,#f7f5f4,#f8f4f2,#f8f4f2,#f7f7f7,#f5f6f7,#f2f5f6,#f3f5f6,#f7f7f7,#f8f4f2,#f8f2ef,#f8f2ef,#f7f7f7,#f2f5f6,#edf2f5,#eff3f5,#f5f6f7,#f8f2ef,#f9eee7,#f9efe9,#f7f5f4,#edf2f5,#e7f0f4,#e9f0f4,#f5f6f7,#f9efe9,#fae8de,#f9ebe3,#f7f5f4,#e9f0f4,#e0ecf3,#e4eef4,#f5f6f7,#f9ebe3,#fbe4d6,#fae7dc,#f7f5f4,#e6eff4,#dae9f2,#e1edf3,#f5f6f7,#fae9df,#fce2d2,#fbe6da,#f7f5f4,#e4eef4,#dae9f2,#e0ecf3,#f5f6f7,#fae9df,#fce2d2,#fae7dc,#f7f5f4,#e4eef4,#ddebf2,#e4eef4,#f7f7f7,#f9ebe3,#fbe6da,#faeae1,#f7f7f7,#e9f0f4,#e3edf3,#e9f0f4,#f7f7f7,#f9efe9,#faeae1,#f9efe9,#f7f7f7,#edf2f5,#eaf1f5,#eff3f5,#f7f7f7,#f8f2ef,#f9f0eb,#f8f2ef,#f7f7f7,#f2f5f6,#f0f4f6,#f2f5f6,#f7f7f7,#f8f4f2,#f8f3f0,#f8f4f2,#f7f7f7,#f5f6f7,#f3f5f6,#f5f6f7,#f7f7f7,#f7f5f4,#f7f5f4,#f7f7f7 680px)"></i>
<i style="left:15px;background:linear-gradient(#f7f7f7 288px,#f7f5f4,#f7f7f7,#f7f7f7,#f5f6f7,#f5f6f7,#f5f6f7,#f7f7f7,#f7f5f4,#f8f4f2,#f7f5f4,#f7f7f7,#f3f5f6,#f2f5f6,#f3f5f6,#f7f7f7,#f8f3f0,#f8f2ef,#f8f3f0,#f7f7f7,#eff3f5,#edf2f5,#f0f4f6,#f7f5f4,#f9f0eb,#f9eee7,#f8f1ed,#f5f6f7,#eaf1f5,#e6eff4,#ecf2f5,#f7f5f4,#f9ebe3,#fae8de,#f9eee7,#f3f5f6,#e4eef4,#deebf2,#e9f0f4,#f8f3f0,#fae7dc,#fbe3d4,#f9ebe3,#f2f5f6,#deebf2,#dae9f2,#e6eff4,#f8f3f0,#fbe4d6,#fce0d0,#faeae1,#f0f4f6,#ddebf2,#d8e9f1,#e6eff4,#f8f2ef,#fbe5d8,#fce2d2,#f9ebe3,#f0f4f6,#e0ecf3,#ddebf2,#e9f0f4,#f8f2ef,#fae7dc,#fbe6da,#f9eee7,#f2f5f6,#e4eef4,#e3edf3,#edf2f5,#f8f3f0,#f9ebe3,#f9ebe3,#f8f1ed,#f3f5f6,#eaf1f5,#eaf1f5,#f0f4f6,#f8f4f2,#f9f0eb,#f9f0eb,#f8f4f2,#f5f6f7,#f0f4f6,#f0f4f6,#f3f5f6,#f7f5f4,#f8f3f0,#f8f3f0,#f7f5f4,#f7f7f7,#f3f5f6,#f3f5f6,#f7f7f7,#f7f7f7,#f7f5f4,#f7f5f4,#f7f7f7 680px)"></i>
<i style="left:20px;background:linear-gradient(#f7f7f7 288px,#f7f5f4,#f7f7f7,#f7f7f7,#f5f6f7,#f5f6f7,#f7f7f7,#f7f7f7,#f8f4f2,#f8f4f2,#f7f5f4,#f5f6f7,#f2f5f6,#f2f5f6,#f5f6f7,#f7f5f4,#f8f2ef,#f8f2ef,#f8f4f2,#f3f5f6,#edf2f5,#edf2f5,#f3f5f6,#f8f3f0,#f9eee7,#f9eee7,#f8f3f0,#f0f4f6,#e7f0f4,#e7f0f4,#f0f4f6,#f8f1ed,#fae8de,#fae8de,#f8f1ed,#ecf2f5,#e0ecf3,#e0ecf3,#eff3f5,#f9eee7,#fbe4d6,#fbe4d6,#f9f0eb,#e9f0f4,#dae9f2,#dbeaf2,#edf2f5,#f9ede5,#fce0d0,#fce2d2,#f9f0eb,#e7f0f4,#d8e9f1,#dbeaf2,#eff3f5,#f9ebe3,#fce0d0,#fbe4d6,#f8f1ed,#e9f0f4,#dbeaf2,#deebf2,#f0f4f6,#f9eee7,#fbe5d8,#fae7dc,#f8f3f0,#ecf2f5,#e1edf3,#e4eef4,#f2f5f6,#f9f0eb,#faeae1,#f9ede5,#f8f4f2,#eff3f5,#e9f0f4,#ecf2f5,#f5f6f7,#f8f2ef,#f9efe9,#f8f1ed,#f7f5f4,#f2f5f6,#eff3f5,#f0f4f6,#f7f7f7,#f8f4f2,#f8f3f0,#f8f4f2,#f7f7f7,#f5f6f7,#f3f5f6,#f5f6f7,#f7f7f7,#f7f5f4,#f7f5f4,#f7f5f4,#f7f7f7,#f7f7f7,#f5f6f7,#f7f7f7 692px)"></i>
<i style="left:25px;background:linear-gradient(#f7f7f7 284px,#f7f5f4,#f7f7f7,#f7f7f7,#f7f7f7,#f5f6f7,#f5f6f7,#f7f7f7,#f7f5f4,#f8f4f2,#f8f4f2,#f7f7f7,#f3f5f6,#f2f5f6,#f2f5f6,#f7f7f7,#f8f3f0,#f8f1ed,#f8f2ef,#f7f7f7,#f0f4f6,#ecf2f5,#eff3f5,#f7f7f7,#f8f1ed,#f9ede5,#f9efe9,#f7f7f7,#ecf2f5,#e4eef4,#e9f0f4,#f7f7f7,#f9ede5,#fae7dc,#faeae1,#f7f7f7,#e6eff4,#ddebf2,#e3edf3,#f7f7f7,#fae8de,#fce2d2,#fae7dc,#f7f7f7,#e1edf3,#d7e8f1,#e0ecf3,#f7f7f7,#fbe6da,#fcdecd,#fbe5d8,#f7f7f7,#e0ecf3,#d5e7f1,#e0ecf3,#f7f7f7,#fbe6da,#fcdfcf,#fae7dc,#f7f7f7,#e1edf3,#dae9f2,#e3edf3,#f7f7f7,#fae8de,#fbe4d6,#faeae1,#f7f7f7,#e6eff4,#e0ecf3,#e9f0f4,#f7f7f7,#f9ede5,#fae9df,#f9efe9,#f7f7f7,#ecf2f5,#e9f0f4,#eff3f5,#f7f7f7,#f9f0eb,#f9efe9,#f8f2ef,#f7f7f7,#f0f4f6,#eff3f5,#f2f5f6,#f7f7f7,#f8f3f0,#f8f3f0,#f8f4f2,#f7f7f7,#f3f5f6,#f3f5f6,#f5f6f7,#f7f7f7,#f7f5f4,#f7f5f4,#f7f7f7,#f7f7f7,#f7f7f7,#f5f6f7,#f7f7f7 692px)"></i>
<i style="left:30px;background:linear-gradient(#f7f7f7 284px,#f7f5f4,#f7f7f7,#f7f7f7,#f5f6f7,#f5f6f7,#f5f6f7,#f7f7f7,#f8f4f2,#f8f4f2,#f7f5f4,#f7f7f7,#f2f5f6,#f2f5f6,#f3f5f6,#f7f7f7,#f8f2ef,#f8f1ed,#f8f3f0,#f5f6f7,#edf2f5,#ecf2f5,#f0f4f6,#f7f5f4,#f9eee7,#f9ebe3,#f8f1ed,#f3f5f6,#e7f0f4,#e4eef4,#ecf2f5,#f8f3f0,#fae9df,#fbe6da,#f9eee7,#f0f4f6,#e0ecf3,#ddebf2,#e9f0f4,#f8f1ed,#fbe4d6,#fce0d0,#f9ebe3,#eff3f5,#dae9f2,#d7e8f1,#e6eff4,#f9f0eb,#fce0d0,#fcdecd,#faeae1,#edf2f5,#d8e9f1,#d5e7f1,#e7f0f4,#f9f0eb,#fce0d0,#fcdfcf,#f9ebe3,#edf2f5,#dbeaf2,#dae9f2,#e9f0f4,#f9f0eb,#fbe5d8,#fbe4d6,#f9efe9,#eff3f5,#e1edf3,#e1edf3,#edf2f5,#f8f2ef,#fae9df,#faeae1,#f8f1ed,#f2f5f6,#e9f0f4,#e9f0f4,#f2f5f6,#f8f3f0,#f9efe9,#f9efe9,#f8f4f2,#f3f5f6,#eff3f5,#eff3f5,#f3f5f6,#f7f5f4,#f8f3f0,#f8f3f0,#f7f5f4,#f5f6f7,#f3f5f6,#f3f5f6,#f7f7f7,#f7f7f7,#f7f5f4,#f7f5f4,#f7f7f7,#f7f7f7,#f5f6f7,#f7f7f7 688px)"></i>
<i style="left:35px;background:linear-gradient(#f7f7f7 280px,#f7f5f4,#f7f5f4,#f7f7f7,#f7f7f7,#f5f6f7,#f5f6f7,#f7f7f7,#f7f5f4,#f8f4f2,#f8f4f2,#f7f5f4,#f5f6f7,#f2f5f6,#f2f5f6,#f5f6f7,#f8f4f2,#f8f1ed,#f8f1ed,#f7f5f4,#f2f5f6,#ecf2f5,#ecf2f5,#f3f5f6,#f8f2ef,#f9ede5,#f9ede5,#f8f3f0,#edf2f5,#e4eef4,#e4eef4,#f2f5f6,#f9efe9,#fbe6da,#fae7dc,#f8f2ef,#e9f0f4,#dbeaf2,#deebf2,#f0f4f6,#f9ebe3,#fce0d0,#fbe3d4,#f8f1ed,#e4eef4,#d5e7f1,#d8e9f1,#eff3f5,#fae9df,#fdddcb,#fce0d0,#f8f1ed,#e3edf3,#d2e6f0,#d8e9f1,#f0f4f6,#fae8de,#fdddcb,#fce2d2,#f8f2ef,#e4eef4,#d7e8f1,#ddebf2,#f2f5f6,#faeae1,#fce2d2,#fbe6da,#f8f3f0,#e7f0f4,#deebf2,#e4eef4,#f3f5f6,#f9eee7,#fae8de,#f9ebe3,#f7f5f4,#edf2f5,#e7f0f4,#eaf1f5,#f5f6f7,#f8f1ed,#f9eee7,#f9f0eb,#f7f7f7,#f2f5f6,#eff3f5,#f0f4f6,#f7f7f7,#f8f4f2,#f8f2ef,#f8f3f0,#f7f7f7,#f3f5f6,#f3f5f6,#f3f5f6,#f7f7f7,#f7f5f4,#f7f5f4,#f7f5f4,#f7f7f7,#f7f7f7,#f5f6f7,#f7f7f7 688px)"></i>
<i style="left:40px;background:linear-gradient(#f7f7f7 280px,#f7f5f4,#f7f5f4,#f7f7f7,#f5f6f7,#f5f6f7,#f5f6f7,#f7f7f7,#f7f5f4,#f8f4f2,#f8f4f2,#f7f7f7,#f3f5f6,#f0f4f6,#f2f5f6,#f7f7f7,#f8f3f0,#f9f0eb,#f8f2ef,#f7f7f7,#eff3f5,#eaf1f5,#edf2f5,#f7f7f7,#f9efe9,#faeae1,#f9eee7,#f7f7f7,#e9f0f4,#e1edf3,#e7f0f4,#f7f7f7,#faeae1,#fbe4d6,#fae9df,#f7f7f7,#e1edf3,#d8e9f1,#e1edf3,#f7f7f7,#fbe5d8,#fcdecd,#fbe6da,#f5f6f7,#dbeaf2,#d2e6f0,#deebf2,#f7f5f4,#fce2d2,#fddbc7,#fbe5d8,#f5f6f7,#dae9f2,#d1e5f0,#deebf2,#f8f4f2,#fce2d2,#fddcc9,#fbe6da,#f3f5f6,#dbeaf2,#d5e7f1,#e1edf3,#f8f4f2,#fbe5d8,#fce0d0,#fae9df,#f3f5f6,#e1edf3,#ddebf2,#e7f0f4,#f7f5f4,#faeae1,#fae8de,#f9eee7,#f5f6f7,#e9f0f4,#e7f0f4,#edf2f5,#f7f5f4,#f9efe9,#f9eee7,#f8f2ef,#f5f6f7,#eff3f5,#edf2f5,#f2f5f6,#f7f7f7,#f8f3f0,#f8f2ef,#f8f4f2,#f7f7f7,#f3f5f6,#f3f5f6,#f5f6f7,#f7f7f7,#f7f5f4,#f7f5f4,#f7f7f7,#f7f7f7,#f5f6f7,#f5f6f7,#f7f7f7 688px)"></i>
<i style="left:45px;background:linear-gradient(#f7f7f7 276px,#f7f5f4,#f7f5f4,#f7f7f7,#f7f7f7,#f5f6f7,#f3f5f6,#f5f6f7,#f7f7f7,#f8f4f2,#f8f3f0,#f7f5f4,#f7f7f7,#f2f5f6,#f0f4f6,#f3f5f6,#f7f5f4,#f8f1ed,#f9f0eb,#f8f3f0,#f3f5f6,#ecf2f5,#eaf1f5,#f0f4f6,#f8f4f2,#f9ede5,#faeae1,#f8f1ed,#f2f5f6,#e4eef4,#e1edf3,#ecf2f5,#f8f1ed,#fbe6da,#fbe4d6,#f9eee7,#edf2f5,#dbeaf2,#d8e9f1,#e9f0f4,#f9efe9,#fcdfcf,#fcdecd,#f9ebe3,#eaf1f5,#d4e6f1,#d2e6f0,#e6eff4,#f9ede5,#fddcc9,#fddbc7,#faeae1,#e9f0f4,#d2e6f0,#d1e5f0,#e7f0f4,#f9ede5,#fdddcb,#fddcc9,#f9ebe3,#e9f0f4,#d5e7f1,#d7e8f1,#eaf1f5,#f9eee7,#fce0d0,#fce2d2,#f9efe9,#ecf2f5,#ddebf2,#deebf2,#edf2f5,#f9f0eb,#fae7dc,#fae8de,#f8f2ef,#eff3f5,#e6eff4,#e7f0f4,#f2f5f6,#f8f2ef,#f9eee7,#f9efe9,#f8f4f2,#f2f5f6,#edf2f5,#eff3f5,#f5f6f7,#f8f4f2,#f8f2ef,#f8f3f0,#f7f5f4,#f5f6f7,#f2f5f6,#f3f5f6,#f7f7f7,#f7f5f4,#f8f4f2,#f7f5f4,#f7f7f7,#f7f7f7,#f5f6f7,#f5f6f7,#f7f7f7 688px)"></i>
<i style="left:50px;background:linear-gradient(#f7f7f7 276px,#f7f5f4,#f7f5f4,#f7f7f7,#f7f7f7,#f3f5f6,#f3f5f6,#f7f7f7,#f7f5f4,#f8f3f0,#f8f3f0,#f7f7f7,#f3f5f6,#f0f4f6,#f0f4f6,#f5f6f7,#f8f3f0,#f9f0eb,#f9f0eb,#f7f5f4,#f0f4f6,#eaf1f5,#eaf1f5,#f3f5f6,#f9f0eb,#faeae1,#f9ebe3,#f8f4f2,#ecf2f5,#e1edf3,#e3edf3,#f2f5f6,#f9ede5,#fbe3d4,#fbe5d8,#f8f3f0,#e4eef4,#d7e8f1,#dbeaf2,#f0f4f6,#fae8de,#fddcc9,#fce0d0,#f8f2ef,#e0ecf3,#cfe4ef,#d5e7f1,#f0f4f6,#fbe5d8,#fcd5bf,#fcdecd,#f8f2ef,#ddebf2,#cae1ee,#d5e7f1,#f2f5f6,#fbe5d8,#fcd7c2,#fcdfcf,#f8f3f0,#e0ecf3,#d1e5f0,#dae9f2,#f3f5f6,#fae7dc,#fcdecd,#fbe5d8,#f8f4f2,#e4eef4,#dae9f2,#e1edf3,#f5f6f7,#f9ebe3,#fbe6da,#faeae1,#f7f5f4,#eaf1f5,#e4eef4,#eaf1f5,#f7f7f7,#f9f0eb,#f9ede5,#f9f0eb,#f7f7f7,#f0f4f6,#edf2f5,#f0f4f6,#f7f7f7,#f8f3f0,#f8f2ef,#f8f3f0,#f7f7f7,#f3f5f6,#f2f5f6,#f3f5f6,#f7f7f7,#f7f5f4,#f8f4f2,#f7f5f4,#f7f7f7,#f5f6f7,#f5f6f7,#f7f7f7 684px)"></i>
<i style="left:55px;background:linear-gradient(#f7f7f7 276px,#f7f5f4,#f7f5f4,#f7f7f7,#f5f6f7,#f3f5f6,#f5f6f7,#f7f7f7,#f8f4f2,#f8f3f0,#f8f4f2,#f7f7f7,#f2f5f6,#eff3f5,#f2f5f6,#f7f7f7,#f8f2ef,#f9efe9,#f8f1ed,#f7f7f7,#edf2f5,#e9f0f4,#edf2f5,#f7f7f7,#f9ede5,#fae9df,#f9eee7,#f5f6f7,#e6eff4,#deebf2,#e6eff4,#f7f5f4,#fae7dc,#fce2d2,#fae8de,#f3f5f6,#ddebf2,#d4e6f1,#e0ecf3,#f8f4f2,#fce0d0,#fdd9c4,#fbe5d8,#f2f5f6,#d5e7f1,#cae1ee,#ddebf2,#f8f3f0,#fdddcb,#fcd3bc,#fbe3d4,#f0f4f6,#d2e6f0,#c7e0ed,#ddebf2,#f8f2ef,#fdddcb,#fcd5bf,#fbe5d8,#f0f4f6,#d5e7f1,#cfe4ef,#e1edf3,#f8f2ef,#fce2d2,#fdddcb,#fae9df,#f2f5f6,#ddebf2,#dae9f2,#e7f0f4,#f8f3f0,#fae7dc,#fbe6da,#f9eee7,#f3f5f6,#e6eff4,#e4eef4,#edf2f5,#f8f4f2,#f9eee7,#f9ede5,#f8f2ef,#f5f6f7,#edf2f5,#edf2f5,#f2f5f6,#f7f5f4,#f8f2ef,#f8f2ef,#f8f4f2,#f7f7f7,#f2f5f6,#f2f5f6,#f5f6f7,#f7f7f7,#f8f4f2,#f8f4f2,#f7f7f7,#f7f7f7,#f5f6f7,#f5f6f7,#f7f7f7 684px)"></i>
<i style="left:60px;background:linear-gradient(#f7f7f7 272px,#f7f5f4,#f7f5f4,#f7f7f7,#f7f7f7,#f5f6f7,#f3f5f6,#f5f6f7,#f7f7f7,#f8f3f0,#f8f3f0,#f7f5f4,#f5f6f7,#f0f4f6,#eff3f5,#f3f5f6,#f8f4f2,#f9f0eb,#f9efe9,#f8f3f0,#f2f5f6,#eaf1f5,#e9f0f4,#f0f4f6,#f8f2ef,#faeae1,#fae8de,#f9f0eb,#eff3f5,#e0ecf3,#deebf2,#ecf2f5,#f9efe9,#fbe3d4,#fce2d2,#f9eee7,#eaf1f5,#d5e7f1,#d4e6f1,#e9f0f4,#f9ebe3,#fddbc7,#fdd9c4,#f9ebe3,#e6eff4,#cce2ef,#cce2ef,#e6eff4,#fae9df,#fcd3bc,#fcd5bf,#faeae1,#e4eef4,#c7e0ed,#cae1ee,#e7f0f4,#fae9df,#fcd5bf,#fcd7c2,#f9ede5,#e4eef4,#cfe4ef,#d2e6f0,#eaf1f5,#faeae1,#fdddcb,#fcdfcf,#f9efe9,#e7f0f4,#d8e9f1,#dbeaf2,#edf2f5,#f9eee7,#fbe5d8,#fae7dc,#f8f2ef,#edf2f5,#e3edf3,#e6eff4,#f2f5f6,#f8f1ed,#f9ebe3,#f9eee7,#f8f4f2,#f0f4f6,#ecf2f5,#edf2f5,#f5f6f7,#f8f3f0,#f8f1ed,#f8f2ef,#f7f5f4,#f3f5f6,#f2f5f6,#f3f5f6,#f7f7f7,#f7f5f4,#f8f4f2,#f7f5f4,#f7f7f7,#f7f7f7,#f5f6f7,#f5f6f7,#f7f7f7 684px)"></i>
<i style="left:65px;background:linear-gradient(#f7f7f7 272px,#f7f5f4,#f7f5f4,#f7f7f7,#f5f6f7,#f3f5f6,#f3f5f6,#f7f7f7,#f7f5f4,#f8f3f0,#f8f3f0,#f7f7f7,#f3f5f6,#eff3f5,#f0f4f6,#f5f6f7,#f8f2ef,#f9efe9,#f9f0eb,#f7f5f4,#eff3f5,#e7f0f4,#e9f0f4,#f5f6f7,#f9efe9,#fae8de,#fae9df,#f8f4f2,#e7f0f4,#ddebf2,#e0ecf3,#f3f5f6,#fae9df,#fcdfcf,#fbe3d4,#f8f4f2,#e0ecf3,#d1e5f0,#d7e8f1,#f2f5f6,#fbe4d6,#fcd3bc,#fdddcb,#f8f3f0,#dae9f2,#c2ddec,#d2e6f0,#f2f5f6,#fcdfcf,#facab1,#fddbc7,#f8f4f2,#d7e8f1,#bddbea,#d1e5f0,#f3f5f6,#fcdfcf,#fbceb7,#fdddcb,#f7f5f4,#d8e9f1,#c7e0ed,#d7e8f1,#f5f6f7,#fbe3d4,#fdd9c4,#fbe3d4,#f7f5f4,#e0ecf3,#d5e7f1,#e0ecf3,#f7f7f7,#fae8de,#fbe3d4,#fae9df,#f7f7f7,#e7f0f4,#e1edf3,#e9f0f4,#f7f7f7,#f9eee7,#f9ebe3,#f9efe9,#f7f7f7,#edf2f5,#eaf1f5,#eff3f5,#f7f7f7,#f8f2ef,#f8f1ed,#f8f3f0,#f7f7f7,#f2f5f6,#f2f5f6,#f3f5f6,#f7f7f7,#f8f4f2,#f8f4f2,#f7f5f4,#f7f7f7,#f5f6f7,#f5f6f7,#f7f7f7,#f7f7f7,#f7f7f7,#f7f5f4,#f7f7f7 696px)"></i>
<i style="left:70px;background:linear-gradient(#f7f7f7 256px,#f5f6f7,#f7f7f7,#f7f7f7,#f7f5f4,#f7f5f4,#f7f5f4,#f7f7f7,#f5f6f7,#f3f5f6,#f5f6f7,#f7f7f7,#f8f4f2,#f8f2ef,#f8f4f2,#f7f7f7,#f0f4f6,#eff3f5,#f0f4f6,#f7f7f7,#f9f0eb,#f9eee7,#f8f1ed,#f5f6f7,#eaf1f5,#e6eff4,#ecf2f5,#f7f5f4,#faeae1,#fbe6da,#f9ede5,#f3f5f6,#e1edf3,#dae9f2,#e4eef4,#f8f3f0,#fbe3d4,#fdddcb,#fae7dc,#f0f4f6,#d7e8f1,#cce2ef,#deebf2,#f8f2ef,#fddcc9,#fbd0b9,#fbe3d4,#eff3f5,#cce2ef,#bddbea,#dae9f2,#f9f0eb,#fcd5bf,#fac8af,#fce2d2,#edf2f5,#c7e0ed,#bbdaea,#dae9f2,#f9efe9,#fcd5bf,#fbccb4,#fbe4d6,#ecf2f5,#cfe4ef,#c5dfec,#e0ecf3,#f9f0eb,#fddcc9,#fdd9c4,#fae8de,#eff3f5,#d8e9f1,#d5e7f1,#e6eff4,#f8f1ed,#fbe4d6,#fbe3d4,#f9ede5,#f0f4f6,#e3edf3,#e1edf3,#edf2f5,#f8f3f0,#f9ebe3,#f9ebe3,#f8f1ed,#f3f5f6,#ecf2f5,#ecf2f5,#f2f5f6,#f7f5f4,#f8f1ed,#f8f1ed,#f8f4f2,#f5f6f7,#f2f5f6,#f2f5f6,#f5f6f7,#f7f7f7,#f8f4f2,#f8f4f2,#f7f5f4,#f7f7f7,#f5f6f7,#f5f6f7,#f7f7f7,#f7f7f7,#f7f5f4,#f7f7f7 692px)"></i>
<i style="left:75px;background:linear-gradient(#f7f7f7 256px,#f5f6f7,#f7f7f7,#f7f7f7,#f7f5f4,#f7f5f4,#f7f7f7,#f7f7f7,#f3f5f6,#f3f5f6,#f5f6f7,#f7f5f4,#f8f3f0,#f8f2ef,#f7f5f4,#f5f6f7,#eff3f5,#edf2f5,#f3f5f6,#f8f4f2,#f9efe9,#f9eee7,#f8f3f0,#f0f4f6,#e7f0f4,#e6eff4,#eff3f5,#f8f1ed,#fae7dc,#fbe6da,#f9f0eb,#ecf2f5,#dbeaf2,#dbeaf2,#ecf2f5,#f9ede5,#fcdecd,#fcdecd,#f9ede5,#e6eff4,#cfe4ef,#cfe4ef,#e7f0f4,#fae8de,#fbd0b9,#fcd3bc,#faeae1,#e0ecf3,#bddbea,#c2ddec,#e6eff4,#fbe5d8,#f9c6ac,#fbccb4,#faeae1,#ddebf2,#b8d8e9,#c0dceb,#e7f0f4,#fbe5d8,#fac8af,#fbceb7,#f9ede5,#deebf2,#c2ddec,#cae1ee,#eaf1f5,#fae7dc,#fcd5bf,#fddcc9,#f9efe9,#e3edf3,#d2e6f0,#d8e9f1,#eff3f5,#faeae1,#fce0d0,#fbe5d8,#f8f2ef,#eaf1f5,#e0ecf3,#e3edf3,#f2f5f6,#f9efe9,#fae9df,#f9ede5,#f8f4f2,#eff3f5,#eaf1f5,#ecf2f5,#f5f6f7,#f8f3f0,#f9f0eb,#f8f2ef,#f7f5f4,#f3f5f6,#f0f4f6,#f2f5f6,#f7f7f7,#f7f5f4,#f8f4f2,#f8f4f2,#f7f7f7,#f5f6f7,#f5f6f7,#f5f6f7,#f7f7f7,#f7f7f7,#f7f5f4,#f7f7f7 692px)"></i>
<i style="left:80px;background:linear-gradient(#f7f7f7 252px,#f5f6f7,#f5f6f7,#f7f7f7,#f7f7f7,#f7f5f4,#f7f5f4,#f7f7f7,#f5f6f7,#f3f5f6,#f3f5f6,#f7f7f7,#f8f4f2,#f8f2ef,#f8f3f0,#f7f7f7,#f2f5f6,#edf2f5,#eff3f5,#f7f7f7,#f8f1ed,#f9ede5,#f9efe9,#f7f5f4,#ecf2f5,#e4eef4,#e7f0f4,#f5f6f7,#f9ede5,#fbe5d8,#fae8de,#f7f5f4,#e4eef4,#d7e8f1,#ddebf2,#f5f6f7,#fbe6da,#fddbc7,#fce0d0,#f8f4f2,#dae9f2,#c5dfec,#d4e6f1,#f3f5f6,#fcdecd,#fac8af,#fdd9c4,#f7f5f4,#d2e6f0,#b3d6e8,#cce2ef,#f5f6f7,#fdd9c4,#f8bfa4,#fcd5bf,#f7f5f4,#cfe4ef,#b1d5e7,#cae1ee,#f7f7f7,#fdd9c4,#f9c2a7,#fdd9c4,#f7f7f7,#d2e6f0,#bbdaea,#d4e6f1,#f7f7f7,#fcdecd,#fbd0b9,#fce0d0,#f7f7f7,#dae9f2,#cfe4ef,#ddebf2,#f7f7f7,#fbe5d8,#fcdfcf,#fae8de,#f7f7f7,#e3edf3,#deebf2,#e7f0f4,#f7f7f7,#f9ebe3,#fae9df,#f9eee7,#f7f7f7,#ecf2f5,#e9f0f4,#eff3f5,#f7f7f7,#f8f1ed,#f9f0eb,#f8f3f0,#f7f7f7,#f2f5f6,#f0f4f6,#f3f5f6,#f7f7f7,#f8f4f2,#f8f4f2,#f7f5f4,#f7f7f7,#f5f6f7,#f5f6f7,#f5f6f7,#f7f7f7,#f7f5f4,#f7f5f4,#f7f7f7 692px)"></i>
<i style="left:85px;background:linear-gradient(#f7f7f7 252px,#f5f6f7,#f7f7f7,#f7f7f7,#f7f5f4,#f8f4f2,#f7f5f4,#f7f7f7,#f3f5f6,#f2f5f6,#f3f5f6,#f7f7f7,#f8f3f0,#f8f2ef,#f8f3f0,#f7f7f7,#eff3f5,#edf2f5,#f0f4f6,#f7f5f4,#f9efe9,#f9ede5,#f9f0eb,#f5f6f7,#e7f0f4,#e3edf3,#eaf1f5,#f8f4f2,#fae8de,#fbe4d6,#f9ebe3,#f2f5f6,#ddebf2,#d5e7f1,#e3edf3,#f8f2ef,#fcdecd,#fcd7c2,#fbe6da,#edf2f5,#cfe4ef,#c2ddec,#dbeaf2,#f9efe9,#fbd0b9,#f9c6ac,#fce0d0,#eaf1f5,#bddbea,#b1d5e7,#d7e8f1,#f9ede5,#fac8af,#f8bda1,#fcdfcf,#e7f0f4,#b8d8e9,#aed3e6,#d8e9f1,#f9ebe3,#fac8af,#f8bfa4,#fce2d2,#e9f0f4,#c0dceb,#bbdaea,#ddebf2,#f9ede5,#fcd5bf,#fbd0b9,#fae7dc,#eaf1f5,#d2e6f0,#cfe4ef,#e4eef4,#f9efe9,#fce0d0,#fcdfcf,#f9ede5,#eff3f5,#deebf2,#deebf2,#ecf2f5,#f8f2ef,#fae9df,#fae9df,#f8f1ed,#f2f5f6,#e9f0f4,#e9f0f4,#f2f5f6,#f8f4f2,#f9f0eb,#f9f0eb,#f8f4f2,#f5f6f7,#f0f4f6,#f0f4f6,#f5f6f7,#f7f5f4,#f8f3f0,#f8f4f2,#f7f5f4,#f7f7f7,#f3f5f6,#f5f6f7,#f7f7f7,#f7f7f7,#f7f5f4,#f7f5f4,#f7f7f7 692px)"></i>
<i style="left:90px;background:linear-gradient(#f7f7f7 248px,#f5f6f7,#f5f6f7,#f7f7f7,#f7f7f7,#f7f5f4,#f8f4f2,#f7f7f7,#f5f6f7,#f3f5f6,#f2f5f6,#f5f6f7,#f7f5f4,#f8f2ef,#f8f2ef,#f8f4f2,#f3f5f6,#edf2f5,#edf2f5,#f3f5f6,#f8f3f0,#f9ede5,#f9ede5,#f8f2ef,#eff3f5,#e4eef4,#e3edf3,#eff3f5,#f9efe9,#fbe4d6,#fbe4d6,#f9f0eb,#e9f0f4,#d7e8f1,#d7e8f1,#eaf1f5,#fae9df,#fdd9c4,#fdd9c4,#f9ede5,#e1edf3,#c2ddec,#c5dfec,#e7f0f4,#fbe4d6,#f9c4a9,#fac8af,#faeae1,#dae9f2,#aed3e6,#b6d7e8,#e6eff4,#fce0d0,#f7b99c,#f9c2a7,#faeae1,#d7e8f1,#a9d1e5,#b3d6e8,#e7f0f4,#fcdfcf,#f8bb9e,#f9c6ac,#f9ede5,#d8e9f1,#b3d6e8,#c0dceb,#eaf1f5,#fbe3d4,#facab1,#fcd5bf,#f9efe9,#deebf2,#cae1ee,#d4e6f1,#eff3f5,#fae8de,#fdddcb,#fce2d2,#f8f2ef,#e6eff4,#dbeaf2,#e1edf3,#f2f5f6,#f9eee7,#fae7dc,#faeae1,#f8f4f2,#edf2f5,#e7f0f4,#eaf1f5,#f5f6f7,#f8f2ef,#f9efe9,#f8f1ed,#f7f5f4,#f2f5f6,#eff3f5,#f2f5f6,#f7f7f7,#f8f4f2,#f8f3f0,#f8f4f2,#f7f7f7,#f5f6f7,#f3f5f6,#f5f6f7,#f7f7f7,#f7f7f7,#f7f5f4,#f7f7f7 688px)"></i>
<i style="left:95px;background:linear-gradient(#f7f7f7 248px,#f5f6f7,#f5f6f7,#f7f7f7,#f7f5f4,#f8f4f2,#f7f5f4,#f7f7f7,#f5f6f7,#f2f5f6,#f3f5f6,#f7f7f7,#f8f4f2,#f8f1ed,#f8f2ef,#f7f7f7,#f0f4f6,#ecf2f5,#edf2f5,#f7f7f7,#f9f0eb,#f9ebe3,#f9eee7,#f7f7f7,#eaf1f5,#e1edf3,#e6eff4,#f5f6f7,#fae9df,#fce2d2,#fbe6da,#f7f5f4,#e0ecf3,#d2e6f0,#dae9f2,#f5f6f7,#fce2d2,#fbd0b9,#fdddcb,#f7f5f4,#d4e6f1,#b8d8e9,#cfe4ef,#f7f7f7,#fcd7c2,#f8bb9e,#fcd3bc,#f7f7f7,#c5dfec,#a5cee3,#c2ddec,#f7f7f7,#fbccb4,#f6b191,#fbccb4,#f7f7f7,#c0dceb,#a0cce2,#c2ddec,#f7f7f7,#fbccb4,#f7b596,#fcd3bc,#f5f6f7,#c5dfec,#acd2e5,#cfe4ef,#f7f5f4,#fcd7c2,#f9c6ac,#fdddcb,#f5f6f7,#d4e6f1,#c5dfec,#dae9f2,#f7f5f4,#fce2d2,#fddbc7,#fbe6da,#f5f6f7,#e0ecf3,#dae9f2,#e4eef4,#f7f5f4,#fae9df,#fae7dc,#f9eee7,#f5f6f7,#e9f0f4,#e7f0f4,#edf2f5,#f7f7f7,#f9f0eb,#f9efe9,#f8f2ef,#f7f7f7,#f0f4f6,#eff3f5,#f3f5f6,#f7f7f7,#f8f3f0,#f8f3f0,#f7f5f4,#f7f7f7,#f5f6f7,#f3f5f6,#f5f6f7,#f7f7f7,#f7f5f4,#f7f5f4,#f7f7f7 688px)"></i>
<i style="left:100px;background:linear-gradient(#f7f7f7 244px,#f5f6f7,#f5f6f7,#f7f7f7,#f7f7f7,#f7f5f4,#f8f4f2,#f7f5f4,#f7f7f7,#f3f5f6,#f2f5f6,#f3f5f6,#f7f7f7,#f8f2ef,#f8f1ed,#f8f3f0,#f5f6f7,#edf2f5,#eaf1f5,#eff3f5,#f7f5f4,#f9eee7,#faeae1,#f9efe9,#f3f5f6,#e4eef4,#e0ecf3,#e9f0f4,#f8f3f0,#fbe5d8,#fce0d0,#fae9df,#eff3f5,#d7e8f1,#d1e5f0,#e1edf3,#f9f0eb,#fdd9c4,#fbceb7,#fbe4d6,#eaf1f5,#c2ddec,#b6d7e8,#d8e9f1,#f9ebe3,#f9c6ac,#f7b99c,#fcdecd,#e6eff4,#aed3e6,#a2cde3,#d4e6f1,#fae9df,#f7b99c,#f6af8e,#fdddcb,#e3edf3,#a7d0e4,#9dcbe1,#d5e7f1,#fae8de,#f7b99c,#f7b596,#fcdfcf,#e3edf3,#b1d5e7,#acd2e5,#dbeaf2,#fae9df,#fac8af,#f9c6ac,#fbe5d8,#e7f0f4,#c7e0ed,#c5dfec,#e3edf3,#f9ede5,#fddcc9,#fddcc9,#f9ebe3,#ecf2f5,#dae9f2,#dae9f2,#eaf1f5,#f9f0eb,#fbe6da,#fae7dc,#f8f1ed,#f0f4f6,#e6eff4,#e7f0f4,#f0f4f6,#f8f3f0,#f9efe9,#f9efe9,#f8f4f2,#f3f5f6,#eff3f5,#f0f4f6,#f5f6f7,#f7f5f4,#f8f3f0,#f8f3f0,#f7f5f4,#f5f6f7,#f3f5f6,#f3f5f6,#f7f7f7,#f7f7f7,#f7f5f4,#f7f5f4,#f7f7f7 688px)"></i>
<i style="left:105px;background:linear-gradient(#f7f7f7 244px,#f5f6f7,#f5f6f7,#f7f7f7,#f7f7f7,#f8f4f2,#f8f4f2,#f7f5f4,#f5f6f7,#f2f5f6,#f2f5f6,#f5f6f7,#f8f4f2,#f8f1ed,#f8f1ed,#f8f4f2,#f2f5f6,#ecf2f5,#eaf1f5,#f2f5f6,#f8f2ef,#faeae1,#faeae1,#f8f2ef,#edf2f5,#e0ecf3,#e0ecf3,#eff3f5,#f9ede5,#fce0d0,#fce2d2,#f9efe9,#e4eef4,#d1e5f0,#d1e5f0,#eaf1f5,#fbe6da,#fbceb7,#fbd0b9,#f9ede5,#dbeaf2,#b3d6e8,#b8d8e9,#e6eff4,#fcdfcf,#f7b799,#f8bda1,#faeae1,#d4e6f1,#9dcbe1,#a7d0e4,#e4eef4,#fddbc7,#f5aa89,#f7b596,#faeae1,#cfe4ef,#96c7df,#a7d0e4,#e6eff4,#fdd9c4,#f5ac8b,#f8bb9e,#f9ebe3,#d1e5f0,#a2cde3,#b6d7e8,#eaf1f5,#fcdecd,#f8bda1,#fbccb4,#f9efe9,#d8e9f1,#bddbea,#cce2ef,#eff3f5,#fbe5d8,#fcd7c2,#fcdfcf,#f8f2ef,#e3edf3,#d7e8f1,#ddebf2,#f2f5f6,#f9ebe3,#fbe5d8,#fae9df,#f8f4f2,#ecf2f5,#e4eef4,#e9f0f4,#f5f6f7,#f8f1ed,#f9eee7,#f9f0eb,#f7f7f7,#f0f4f6,#eff3f5,#f0f4f6,#f7f7f7,#f8f4f2,#f8f3f0,#f8f4f2,#f7f7f7,#f5f6f7,#f3f5f6,#f5f6f7,#f7f7f7,#f7f5f4,#f7f5f4,#f7f5f4,#f7f7f7 688px)"></i>
<i style="left:110px;background:linear-gradient(#f7f7f7 244px,#f5f6f7,#f5f6f7,#f7f7f7,#f7f5f4,#f8f4f2,#f8f4f2,#f7f7f7,#f3f5f6,#f2f5f6,#f2f5f6,#f7f7f7,#f8f3f0,#f9f0eb,#f8f1ed,#f7f7f7,#eff3f5,#eaf1f5,#ecf2f5,#f7f7f7,#f9efe9,#fae9df,#f9ebe3,#f7f7f7,#e7f0f4,#ddebf2,#e3edf3,#f7f7f7,#fae7dc,#fcdecd,#fbe4d6,#f7f7f7,#dbeaf2,#cae1ee,#d5e7f1,#f7f7f7,#fdddcb,#f9c6ac,#fdd9c4,#f7f7f7,#cae1ee,#a9d1e5,#c5dfec,#f7f7f7,#fbccb4,#f6af8e,#facab1,#f7f7f7,#b8d8e9,#93c6de,#b8d8e9,#f7f5f4,#f8bfa4,#f2a17f,#f9c4a9,#f5f6f7,#b1d5e7,#8dc2dc,#b8d8e9,#f8f4f2,#f8bfa4,#f4a683,#facab1,#f3f5f6,#b8d8e9,#9dcbe1,#c5dfec,#f8f4f2,#fbccb4,#f7b99c,#fdd9c4,#f3f5f6,#cae1ee,#b8d8e9,#d7e8f1,#f8f4f2,#fdddcb,#fcd5bf,#fbe4d6,#f3f5f6,#dbeaf2,#d5e7f1,#e3edf3,#f8f4f2,#fae7dc,#fbe4d6,#f9ebe3,#f5f6f7,#e7f0f4,#e4eef4,#ecf2f5,#f7f5f4,#f9efe9,#f9eee7,#f8f2ef,#f7f7f7,#eff3f5,#edf2f5,#f2f5f6,#f7f7f7,#f8f3f0,#f8f3f0,#f8f4f2,#f7f7f7,#f3f5f6,#f3f5f6,#f5f6f7,#f7f7f7,#f7f5f4,#f7f5f4,#f7f7f7 684px)"></i>
<i style="left:115px;background:linear-gradient(#f7f7f7 228px,#f7f5f4,#f7f7f7,#f7f7f7,#f5f6f7,#f5f6f7,#f5f6f7,#f7f7f7,#f8f4f2,#f8f4f2,#f7f5f4,#f7f7f7,#f2f5f6,#f0f4f6,#f3f5f6,#f7f7f7,#f8f2ef,#f9f0eb,#f8f2ef,#f5f6f7,#ecf2f5,#e9f0f4,#eff3f5,#f8f4f2,#f9ebe3,#fae8de,#f9efe9,#f2f5f6,#e1edf3,#dbeaf2,#e7f0f4,#f8f2ef,#fce2d2,#fdddcb,#fae8de,#edf2f5,#d1e5f0,#c7e0ed,#deebf2,#f9eee7,#fbd0b9,#f9c4a9,#fce2d2,#e7f0f4,#b6d7e8,#a7d0e4,#d5e7f1,#fae9df,#f7b799,#f5ac8b,#fddcc9,#e1edf3,#9dcbe1,#90c4dd,#d1e5f0,#fbe6da,#f5aa89,#f19e7d,#fdd9c4,#deebf2,#96c7df,#8dc2dc,#d1e5f0,#fbe5d8,#f5aa89,#f4a683,#fdddcb,#deebf2,#a2cde3,#9dcbe1,#d8e9f1,#fbe6da,#f8bb9e,#f8bb9e,#fbe4d6,#e3edf3,#bbdaea,#bbdaea,#e1edf3,#faeae1,#fcd5bf,#fcd5bf,#faeae1,#e9f0f4,#d5e7f1,#d7e8f1,#eaf1f5,#f9efe9,#fbe4d6,#fbe5d8,#f9f0eb,#eff3f5,#e4eef4,#e6eff4,#f0f4f6,#f8f2ef,#f9ede5,#f9eee7,#f8f3f0,#f3f5f6,#edf2f5,#eff3f5,#f3f5f6,#f8f4f2,#f8f2ef,#f8f3f0,#f7f5f4,#f5f6f7,#f3f5f6,#f3f5f6,#f7f7f7,#f7f7f7,#f7f5f4,#f7f5f4,#f7f7f7,#f7f7f7,#f5f6f7,#f7f7f7 696px)"></i>
<i style="left:120px;background:linear-gradient(#f7f7f7 228px,#f7f5f4,#f7f7f7,#f7f7f7,#f5f6f7,#f5f6f7,#f7f7f7,#f7f7f7,#f8f4f2,#f8f4f2,#f7f5f4,#f5f6f7,#f2f5f6,#f0f4f6,#f5f6f7,#f8f4f2,#f9f0eb,#f9f0eb,#f8f4f2,#f2f5f6,#eaf1f5,#e9f0f4,#f2f5f6,#f8f1ed,#fae9df,#fae9df,#f8f2ef,#ecf2f5,#ddebf2,#ddebf2,#edf2f5,#f9ebe3,#fdddcb,#fcdecd,#f9efe9,#e1edf3,#c7e0ed,#cae1ee,#e9f0f4,#fbe4d6,#f9c4a9,#fac8af,#f9ebe3,#d7e8f1,#a5cee3,#acd2e5,#e4eef4,#fddbc7,#f5a886,#f6b394,#fae9df,#cae1ee,#87beda,#98c8e0,#e3edf3,#fbd0b9,#ee9677,#f5a886,#fae9df,#c2ddec,#81bad8,#98c8e0,#e4eef4,#fbceb7,#ef9979,#f6af8e,#f9ebe3,#c7e0ed,#90c4dd,#a7d0e4,#e9f0f4,#fdd9c4,#f6b191,#f9c4a9,#f9efe9,#d4e6f1,#b1d5e7,#c5dfec,#edf2f5,#fce2d2,#fbccb4,#fddcc9,#f8f2ef,#deebf2,#d1e5f0,#dae9f2,#f2f5f6,#fae9df,#fce2d2,#fae7dc,#f8f4f2,#e9f0f4,#e1edf3,#e7f0f4,#f5f6f7,#f9f0eb,#f9ebe3,#f9efe9,#f7f7f7,#f0f4f6,#edf2f5,#f0f4f6,#f7f7f7,#f8f3f0,#f8f2ef,#f8f3f0,#f7f7f7,#f3f5f6,#f3f5f6,#f3f5f6,#f7f7f7,#f7f5f4,#f7f5f4,#f7f5f4,#f7f7f7,#f7f7f7,#f5f6f7,#f7f7f7 696px)"></i>
<i style="left:125px;background:linear-gradient(#f7f7f7 224px,#f7f5f4,#f7f7f7,#f7f7f7,#f5f6f7,#f5f6f7,#f5f6f7,#f7f7f7,#f7f5f4,#f8f4f2,#f8f4f2,#f7f7f7,#f3f5f6,#f0f4f6,#f2f5f6,#f7f7f7,#f8f2ef,#f9f0eb,#f8f1ed,#f7f7f7,#edf2f5,#e7f0f4,#eaf1f5,#f7f7f7,#f9eee7,#fae7dc,#faeae1,#f7f7f7,#e4eef4,#dae9f2,#e0ecf3,#f7f7f7,#fbe5d8,#fdd9c4,#fce0d0,#f7f7f7,#d7e8f1,#bddbea,#d1e5f0,#f7f7f7,#fcd7c2,#f8bb9e,#fbd0b9,#f7f7f7,#c0dceb,#9bc9e0,#bbdaea,#f7f7f7,#f9c2a7,#f19e7d,#f8bfa4,#f5f6f7,#a9d1e5,#7bb6d6,#acd2e5,#f7f5f4,#f6b394,#e98b6e,#f7b99c,#f3f5f6,#a0cce2,#75b2d4,#acd2e5,#f8f3f0,#f6b394,#eb9172,#f8bfa4,#f2f5f6,#a9d1e5,#8ac0db,#bbdaea,#f8f3f0,#f9c2a7,#f5ac8b,#fcd3bc,#f2f5f6,#c0dceb,#acd2e5,#d2e6f0,#f8f3f0,#fcd7c2,#facab1,#fce2d2,#f2f5f6,#d7e8f1,#cfe4ef,#e0ecf3,#f8f4f2,#fbe5d8,#fce2d2,#faeae1,#f3f5f6,#e4eef4,#e1edf3,#eaf1f5,#f7f5f4,#f9eee7,#f9ebe3,#f8f1ed,#f5f6f7,#edf2f5,#edf2f5,#f2f5f6,#f7f7f7,#f8f2ef,#f8f2ef,#f8f4f2,#f7f7f7,#f3f5f6,#f3f5f6,#f5f6f7,#f7f7f7,#f7f5f4,#f7f5f4,#f7f7f7,#f7f7f7,#f5f6f7,#f5f6f7,#f7f7f7 696px)"></i>
<i style="left:130px;background:linear-gradient(#f7f7f7 224px,#f7f5f4,#f7f7f7,#f7f7f7,#f5f6f7,#f5f6f7,#f5f6f7,#f7f7f7,#f8f4f2,#f8f3f0,#f8f4f2,#f7f7f7,#f2f5f6,#f0f4f6,#f2f5f6,#f7f5f4,#f8f1ed,#f9efe9,#f8f2ef,#f5f6f7,#eaf1f5,#e7f0f4,#edf2f5,#f8f4f2,#fae9df,#fbe6da,#f9ede5,#f0f4f6,#deebf2,#d8e9f1,#e4eef4,#f8f1ed,#fcdecd,#fcd7c2,#fbe6da,#ecf2f5,#cae1ee,#bbdaea,#dbeaf2,#f9ede5,#f9c6ac,#f7b99c,#fcdecd,#e4eef4,#a7d0e4,#98c8e0,#d1e5f0,#fae7dc,#f5aa89,#f09c7b,#fcd5bf,#deebf2,#8dc2dc,#7bb6d6,#c7e0ed,#fbe3d4,#ef9979,#e98b6e,#fcd3bc,#dae9f2,#81bad8,#75b2d4,#cae1ee,#fce2d2,#ef9979,#ec9374,#fdd9c4,#dbeaf2,#90c4dd,#8dc2dc,#d4e6f1,#fbe4d6,#f6af8e,#f6af8e,#fce0d0,#e0ecf3,#aed3e6,#aed3e6,#deebf2,#fae8de,#fbccb4,#fbccb4,#fae8de,#e7f0f4,#cfe4ef,#d1e5f0,#e7f0f4,#f9eee7,#fce0d0,#fbe3d4,#f9efe9,#edf2f5,#e1edf3,#e3edf3,#eff3f5,#f8f2ef,#f9ebe3,#f9ede5,#f8f3f0,#f2f5f6,#ecf2f5,#edf2f5,#f3f5f6,#f8f4f2,#f8f2ef,#f8f2ef,#f7f5f4,#f5f6f7,#f2f5f6,#f3f5f6,#f7f7f7,#f7f7f7,#f7f5f4,#f7f5f4,#f7f7f7,#f7f7f7,#f5f6f7,#f5f6f7,#f7f7f7 696px)"></i>
<i style="left:135px;background:linear-gradient(#f7f7f7 220px,#f7f5f4,#f7f5f4,#f7f7f7,#f7f7f7,#f5f6f7,#f5f6f7,#f7f7f7,#f7f5f4,#f8f4f2,#f8f3f0,#f7f5f4,#f5f6f7,#f0f4f6,#f0f4f6,#f5f6f7,#f8f4f2,#f9f0eb,#f9efe9,#f8f4f2,#f0f4f6,#e7f0f4,#e7f0f4,#f0f4f6,#f9f0eb,#fae7dc,#fae7dc,#f8f1ed,#e9f0f4,#d8e9f1,#dae9f2,#ecf2f5,#fae9df,#fdd9c4,#fdd9c4,#f9eee7,#deebf2,#bbdaea,#c0dceb,#e7f0f4,#fce0d0,#f7b99c,#f8bda1,#fae9df,#d2e6f0,#96c7df,#a0cce2,#e3edf3,#fcd5bf,#ee9677,#f3a481,#fae7dc,#c0dceb,#71b0d3,#87beda,#e0ecf3,#fac8af,#e48066,#ee9677,#fae7dc,#b8d8e9,#68abd0,#84bcd9,#e3edf3,#f9c6ac,#e6866a,#f2a17f,#fae9df,#bddbea,#7bb6d6,#98c8e0,#e7f0f4,#fbd0b9,#f3a481,#f7b799,#f9eee7,#cfe4ef,#a2cde3,#b8d8e9,#ecf2f5,#fcdecd,#f9c4a9,#fcd5bf,#f8f1ed,#dbeaf2,#cae1ee,#d5e7f1,#f2f5f6,#fae7dc,#fcdfcf,#fbe5d8,#f8f4f2,#e7f0f4,#deebf2,#e6eff4,#f5f6f7,#f9efe9,#faeae1,#f9eee7,#f7f5f4,#eff3f5,#ecf2f5,#eff3f5,#f7f7f7,#f8f3f0,#f8f1ed,#f8f3f0,#f7f7f7,#f3f5f6,#f2f5f6,#f3f5f6,#f7f7f7,#f7f5f4,#f8f4f2,#f7f5f4,#f7f7f7,#f7f7f7,#f5f6f7,#f7f7f7 692px)"></i>
<i style="left:140px;background:linear-gradient(#f7f7f7 220px,#f7f5f4,#f7f5f4,#f7f7f7,#f5f6f7,#f3f5f6,#f5f6f7,#f7f7f7,#f7f5f4,#f8f3f0,#f8f4f2,#f7f7f7,#f3f5f6,#eff3f5,#f0f4f6,#f7f7f7,#f8f2ef,#f9efe9,#f9f0eb,#f7f7f7,#edf2f5,#e6eff4,#e9f0f4,#f7f7f7,#f9ede5,#fbe5d8,#fae8de,#f7f7f7,#e3edf3,#d5e7f1,#ddebf2,#f5f6f7,#fbe3d4,#fcd3bc,#fcdecd,#f7f7f7,#d2e6f0,#b3d6e8,#cae1ee,#f7f7f7,#fbd0b9,#f6b191,#fac8af,#f7f7f7,#b6d7e8,#8ac0db,#aed3e6,#f7f7f7,#f7b799,#e98b6e,#f7b596,#f7f7f7,#9dcbe1,#62a7ce,#9dcbe1,#f7f5f4,#f5a886,#df765e,#f5ac8b,#f3f5f6,#93c6de,#5ca3cb,#9dcbe1,#f8f4f2,#f5a886,#e27b62,#f7b596,#f2f5f6,#9dcbe1,#71b0d3,#aed3e6,#f8f3f0,#f7b799,#f09c7b,#fac8af,#f2f5f6,#b6d7e8,#9dcbe1,#cae1ee,#f8f3f0,#fbd0b9,#f9c2a7,#fcdecd,#f2f5f6,#d2e6f0,#c7e0ed,#ddebf2,#f8f4f2,#fbe3d4,#fcdecd,#fae8de,#f3f5f6,#e1edf3,#deebf2,#e9f0f4,#f7f5f4,#f9ebe3,#faeae1,#f9f0eb,#f5f6f7,#edf2f5,#ecf2f5,#f0f4f6,#f7f7f7,#f8f2ef,#f8f1ed,#f8f4f2,#f7f7f7,#f2f5f6,#f2f5f6,#f5f6f7,#f7f7f7,#f7f5f4,#f8f4f2,#f7f5f4,#f7f7f7,#f5f6f7,#f5f6f7,#f7f7f7 692px)"></i>
<i style="left:145px;background:linear-gradient(#f7f7f7 220px,#f7f5f4,#f7f7f7,#f7f7f7,#f5f6f7,#f3f5f6,#f5f6f7,#f7f7f7,#f8f4f2,#f8f3f0,#f8f4f2,#f7f7f7,#f0f4f6,#eff3f5,#f2f5f6,#f7f5f4,#f9f0eb,#f9eee7,#f8f1ed,#f5f6f7,#e9f0f4,#e4eef4,#ecf2f5,#f8f4f2,#fae8de,#fbe4d6,#f9ebe3,#f0f4f6,#dbeaf2,#d4e6f1,#e3edf3,#f8f1ed,#fddcc9,#fbd0b9,#fbe4d6,#ecf2f5,#c2ddec,#b1d5e7,#d5e7f1,#f9ebe3,#f8bda1,#f6af8e,#fdd9c4,#e4eef4,#9dcbe1,#87beda,#c7e0ed,#fbe6da,#f19e7d,#e8896c,#fbccb4,#ddebf2,#7bb6d6,#62a7ce,#bbdaea,#fce2d2,#e6866a,#df765e,#fac8af,#d8e9f1,#6bacd1,#5ca3cb,#bddbea,#fce0d0,#e8896c,#e37e64,#fbceb7,#dae9f2,#7eb8d7,#78b4d5,#cce2ef,#fbe3d4,#f3a481,#f2a17f,#fdddcb,#deebf2,#a2cde3,#a2cde3,#dae9f2,#fae7dc,#f9c4a9,#f9c4a9,#fbe6da,#e6eff4,#c7e0ed,#cae1ee,#e6eff4,#f9ede5,#fcdecd,#fcdfcf,#f9eee7,#ecf2f5,#deebf2,#e0ecf3,#edf2f5,#f8f1ed,#faeae1,#f9ebe3,#f8f2ef,#f2f5f6,#eaf1f5,#ecf2f5,#f3f5f6,#f8f4f2,#f8f1ed,#f8f2ef,#f7f5f4,#f5f6f7,#f2f5f6,#f2f5f6,#f5f6f7,#f7f5f4,#f8f4f2,#f7f5f4,#f7f7f7,#f7f7f7,#f5f6f7,#f5f6f7,#f7f7f7 692px)"></i>
<i style="left:150px;background:linear-gradient(#f7f7f7 216px,#f7f5f4,#f7f5f4,#f7f7f7,#f7f7f7,#f5f6f7,#f3f5f6,#f5f6f7,#f7f5f4,#f8f3f0,#f8f3f0,#f7f5f4,#f5f6f7,#f0f4f6,#eff3f5,#f3f5f6,#f8f3f0,#f9efe9,#f9eee7,#f8f3f0,#f0f4f6,#e6eff4,#e6eff4,#f0f4f6,#f9f0eb,#fbe5d8,#fbe5d8,#f9f0eb,#e9f0f4,#d5e7f1,#d5e7f1,#eaf1f5,#fae9df,#fcd3bc,#fcd3bc,#f9ebe3,#deebf2,#b3d6e8,#b3d6e8,#e3edf3,#fcdfcf,#f6af8e,#f6b394,#fbe6da,#cfe4ef,#87beda,#8dc2dc,#ddebf2,#fbd0b9,#e6866a,#eb9172,#fbe3d4,#bbdaea,#5ca3cb,#6eaed2,#dae9f2,#f9c4a9,#dc6e57,#e48066,#fbe3d4,#b3d6e8,#529dc8,#6bacd1,#ddebf2,#f9c2a7,#de735c,#e98b6e,#fbe5d8,#b8d8e9,#68abd0,#87beda,#e3edf3,#fbccb4,#ec9374,#f5ac8b,#faeae1,#cae1ee,#96c7df,#acd2e5,#e9f0f4,#fddcc9,#f8bb9e,#fbccb4,#f9efe9,#dae9f2,#c0dceb,#d1e5f0,#eff3f5,#fbe6da,#fddcc9,#fbe3d4,#f8f3f0,#e6eff4,#dbeaf2,#e3edf3,#f3f5f6,#f9eee7,#fae9df,#f9ede5,#f7f5f4,#eff3f5,#eaf1f5,#edf2f5,#f5f6f7,#f8f3f0,#f8f1ed,#f8f2ef,#f7f7f7,#f3f5f6,#f2f5f6,#f3f5f6,#f7f7f7,#f7f5f4,#f8f4f2,#f7f5f4,#f7f7f7,#f5f6f7,#f5f6f7,#f7f7f7 688px)"></i>
<i style="left:155px;background:linear-gradient(#f7f7f7 216px,#f7f5f4,#f7f5f4,#f7f7f7,#f5f6f7,#f3f5f6,#f3f5f6,#f7f7f7,#f7f5f4,#f8f3f0,#f8f3f0,#f7f7f7,#f2f5f6,#eff3f5,#eff3f5,#f7f7f7,#f8f2ef,#f9eee7,#f9efe9,#f7f5f4,#ecf2f5,#e4eef4,#e7f0f4,#f5f6f7,#f9ebe3,#fbe3d4,#fbe6da,#f7f5f4,#e1edf3,#d2e6f0,#d8e9f1,#f3f5f6,#fce2d2,#fbccb4,#fdd9c4,#f8f4f2,#d1e5f0,#a9d1e5,#c0dceb,#f3f5f6,#fbccb4,#f4a683,#f8bda1,#f8f4f2,#b1d5e7,#78b4d5,#a0cce2,#f3f5f6,#f6b394,#e17860,#f4a683,#f8f4f2,#96c7df,#4c99c6,#8ac0db,#f5f6f7,#f2a17f,#d6604d,#f09c7b,#f7f7f7,#87beda,#4393c3,#8ac0db,#f7f7f7,#f19e7d,#da6853,#f4a683,#f7f7f7,#96c7df,#5ca3cb,#a0cce2,#f7f5f4,#f6b191,#e98b6e,#f8bda1,#f5f6f7,#aed3e6,#90c4dd,#bddbea,#f7f5f4,#fbccb4,#f7b799,#fdd9c4,#f5f6f7,#cfe4ef,#bddbea,#d8e9f1,#f7f5f4,#fce0d0,#fddbc7,#fbe6da,#f5f6f7,#e0ecf3,#dbeaf2,#e7f0f4,#f7f5f4,#f9ebe3,#fae9df,#f9efe9,#f7f7f7,#ecf2f5,#eaf1f5,#eff3f5,#f7f7f7,#f8f1ed,#f8f1ed,#f8f3f0,#f7f7f7,#f2f5f6,#f2f5f6,#f3f5f6,#f7f7f7,#f8f4f2,#f8f4f2,#f7f5f4,#f7f7f7,#f5f6f7,#f5f6f7,#f7f7f7 688px)"></i>
<i style="left:160px;background:linear-gradient(#f7f7f7 212px,#f7f5f4,#f7f5f4,#f7f5f4,#f7f7f7,#f5f6f7,#f3f5f6,#f5f6f7,#f7f7f7,#f8f4f2,#f8f3f0,#f8f4f2,#f7f7f7,#f0f4f6,#edf2f5,#f0f4f6,#f7f7f7,#f9f0eb,#f9ede5,#f9f0eb,#f5f6f7,#e9f0f4,#e3edf3,#eaf1f5,#f8f4f2,#fae7dc,#fbe3d4,#fae9df,#f2f5f6,#dae9f2,#d1e5f0,#deebf2,#f8f2ef,#fdd9c4,#facab1,#fcdfcf,#edf2f5,#bddbea,#a7d0e4,#cfe4ef,#f9eee7,#f7b99c,#f2a17f,#fbceb7,#e6eff4,#96c7df,#71b0d3,#b8d8e9,#fae8de,#ec9374,#df765e,#f8bda1,#e0ecf3,#6bacd1,#4997c5,#a9d1e5,#fbe4d6,#e27b62,#d55d4c,#f7b99c,#dbeaf2,#5fa5cd,#4393c3,#acd2e5,#fbe3d4,#e37e64,#da6853,#f9c2a7,#dbeaf2,#71b0d3,#5fa5cd,#bddbea,#fbe4d6,#ef9979,#ea8e70,#fcd3bc,#e0ecf3,#9bc9e0,#93c6de,#d2e6f0,#fae8de,#f8bda1,#f8bb9e,#fce2d2,#e6eff4,#c2ddec,#c0dceb,#e1edf3,#f9eee7,#fddcc9,#fddcc9,#f9ebe3,#edf2f5,#ddebf2,#ddebf2,#ecf2f5,#f8f2ef,#fae9df,#fae9df,#f8f1ed,#f2f5f6,#eaf1f5,#eaf1f5,#f2f5f6,#f8f4f2,#f8f1ed,#f8f1ed,#f8f4f2,#f5f6f7,#f2f5f6,#f2f5f6,#f5f6f7,#f7f5f4,#f8f4f2,#f8f4f2,#f7f7f7,#f7f7f7,#f5f6f7,#f5f6f7,#f7f7f7 688px)"></i>
<i style="left:165px;background:linear-gradient(#f7f7f7 212px,#f7f5f4,#f7f5f4,#f7f7f7,#f7f7f7,#f3f5f6,#f3f5f6,#f5f6f7,#f7f5f4,#f8f3f0,#f8f3f0,#f8f4f2,#f5f6f7,#eff3f5,#edf2f5,#f2f5f6,#f8f4f2,#f9eee7,#f9ede5,#f8f2ef,#f0f4f6,#e6eff4,#e3edf3,#edf2f5,#f9f0eb,#fbe4d6,#fbe3d4,#f9eee7,#eaf1f5,#d4e6f1,#d1e5f0,#e6eff4,#fae9df,#fbceb7,#facab1,#fae7dc,#deebf2,#acd2e5,#a9d1e5,#ddebf2,#fce0d0,#f5a886,#f4a683,#fce0d0,#d1e5f0,#7bb6d6,#7bb6d6,#d5e7f1,#fcd3bc,#e27b62,#e37e64,#fddcc9,#c0dceb,#4c99c6,#569fc9,#d1e5f0,#f9c6ac,#d6604d,#db6b55,#fddbc7,#b6d7e8,#4291c2,#4f9bc7,#d2e6f0,#f9c4a9,#d7634f,#df765e,#fcdecd,#b8d8e9,#59a1ca,#6eaed2,#dae9f2,#fbccb4,#e6866a,#f09c7b,#fbe5d8,#cae1ee,#8ac0db,#9dcbe1,#e3edf3,#fdddcb,#f6b394,#f9c2a7,#f9ebe3,#dae9f2,#b8d8e9,#c7e0ed,#ecf2f5,#fbe6da,#fdd9c4,#fcdfcf,#f8f1ed,#e6eff4,#dae9f2,#e0ecf3,#f2f5f6,#f9eee7,#fae8de,#faeae1,#f8f4f2,#eff3f5,#e9f0f4,#ecf2f5,#f5f6f7,#f8f3f0,#f9f0eb,#f8f2ef,#f7f5f4,#f3f5f6,#f0f4f6,#f2f5f6,#f7f7f7,#f7f5f4,#f8f4f2,#f7f5f4,#f7f7f7,#f5f6f7,#f5f6f7,#f5f6f7,#f7f7f7 688px)"></i>
<i style="left:170px;background:linear-gradient(#f7f7f7 212px,#f7f5f4,#f7f5f4,#f7f7f7,#f5f6f7,#f3f5f6,#f3f5f6,#f7f7f7,#f7f5f4,#f8f3f0,#f8f3f0,#f7f5f4,#f2f5f6,#edf2f5,#eff3f5,#f5f6f7,#f8f2ef,#f9ede5,#f9eee7,#f8f4f2,#ecf2f5,#e3edf3,#e4eef4,#f3f5f6,#f9ebe3,#fce2d2,#fbe4d6,#f8f3f0,#e1edf3,#cfe4ef,#d4e6f1,#f0f4f6,#fce2d2,#f9c6ac,#fbd0b9,#f8f1ed,#d1e5f0,#a2cde3,#b1d5e7,#edf2f5,#fbceb7,#f09c7b,#f6b191,#f9efe9,#b1d5e7,#68abd0,#8dc2dc,#eaf1f5,#f6b394,#da6853,#eb9172,#f9eee7,#96c7df,#3f8ec0,#6eaed2,#eaf1f5,#f2a17f,#cc4c44,#e48066,#f9efe9,#87beda,#3a87bd,#6bacd1,#edf2f5,#f19e7d,#d05548,#ea8e70,#f8f1ed,#93c6de,#4997c5,#87beda,#f0f4f6,#f6b191,#e37e64,#f5ac8b,#f8f4f2,#aed3e6,#81bad8,#aed3e6,#f5f6f7,#facab1,#f6af8e,#fbceb7,#f7f5f4,#cfe4ef,#b6d7e8,#d2e6f0,#f7f7f7,#fce0d0,#fcd7c2,#fbe3d4,#f7f7f7,#e0ecf3,#d8e9f1,#e3edf3,#f7f7f7,#faeae1,#fae7dc,#f9ede5,#f7f7f7,#ecf2f5,#e9f0f4,#edf2f5,#f7f7f7,#f8f1ed,#f9f0eb,#f8f3f0,#f7f7f7,#f2f5f6,#f0f4f6,#f3f5f6,#f7f7f7,#f8f4f2,#f8f4f2,#f7f5f4,#f7f7f7,#f5f6f7,#f5f6f7,#f7f7f7 684px)"></i>
<i style="left:175px;background:linear-gradient(#f7f7f7 212px,#f7f5f4,#f7f5f4,#f7f7f7,#f5f6f7,#f3f5f6,#f3f5f6,#f7f7f7,#f8f4f2,#f8f2ef,#f8f3f0,#f7f7f7,#f0f4f6,#edf2f5,#eff3f5,#f7f7f7,#f9f0eb,#f9ede5,#f9efe9,#f7f7f7,#e9f0f4,#e1edf3,#e7f0f4,#f7f7f7,#fae8de,#fce0d0,#fae7dc,#f5f6f7,#dae9f2,#cae1ee,#dae9f2,#f8f4f2,#fdd9c4,#f9c4a9,#fddbc7,#f2f5f6,#bddbea,#9dcbe1,#c2ddec,#f8f2ef,#f7b99c,#ec9374,#f8bfa4,#eff3f5,#93c6de,#62a7ce,#a5cee3,#f9efe9,#ec9374,#d7634f,#f5aa89,#e9f0f4,#6bacd1,#3c8abe,#90c4dd,#f9ebe3,#e17860,#cb4942,#f2a17f,#e6eff4,#5ca3cb,#3885bc,#93c6de,#fae9df,#e27b62,#cf5246,#f5ac8b,#e4eef4,#6eaed2,#4997c5,#a7d0e4,#faeae1,#ee9677,#e37e64,#f9c4a9,#e7f0f4,#98c8e0,#84bcd9,#c5dfec,#f9ede5,#f8bb9e,#f6b191,#fddcc9,#eaf1f5,#c0dceb,#b8d8e9,#dbeaf2,#f9f0eb,#fddbc7,#fcd7c2,#fae8de,#eff3f5,#dbeaf2,#dae9f2,#e9f0f4,#f8f3f0,#fae8de,#fae8de,#f9f0eb,#f3f5f6,#e9f0f4,#e9f0f4,#f0f4f6,#f7f5f4,#f9f0eb,#f9f0eb,#f8f4f2,#f5f6f7,#f0f4f6,#f2f5f6,#f5f6f7,#f7f7f7,#f8f4f2,#f8f4f2,#f7f5f4,#f7f7f7,#f5f6f7,#f5f6f7,#f7f7f7 684px)"></i>
<i style="left:180px;background:linear-gradient(#f7f7f7 208px,#f7f5f4,#f7f5f4,#f7f5f4,#f7f7f7,#f3f5f6,#f3f5f6,#f5f6f7,#f7f7f7,#f8f3f0,#f8f2ef,#f8f4f2,#f5f6f7,#eff3f5,#edf2f5,#f2f5f6,#f8f4f2,#f9eee7,#f9ebe3,#f8f1ed,#f2f5f6,#e6eff4,#e1edf3,#eaf1f5,#f8f2ef,#fbe4d6,#fce0d0,#faeae1,#edf2f5,#d4e6f1,#cae1ee,#e0ecf3,#f9ede5,#fbceb7,#f9c4a9,#fce2d2,#e4eef4,#acd2e5,#9dcbe1,#d4e6f1,#fbe5d8,#f4a683,#ee9677,#fcd5bf,#dae9f2,#78b4d5,#65a9cf,#c0dceb,#fdddcb,#df765e,#da6853,#fac8af,#cfe4ef,#4997c5,#3f8ec0,#b6d7e8,#fcd3bc,#d35a4a,#ce4f45,#f9c4a9,#c5dfec,#3f8ec0,#3c8abe,#b8d8e9,#fbd0b9,#d55d4c,#d55d4c,#fbccb4,#c7e0ed,#4f9bc7,#529dc8,#c7e0ed,#fcd7c2,#e48066,#e6866a,#fddcc9,#d2e6f0,#84bcd9,#8dc2dc,#d8e9f1,#fce0d0,#f6af8e,#f7b799,#fbe5d8,#deebf2,#b6d7e8,#bddbea,#e4eef4,#fae8de,#fcd5bf,#fddbc7,#f9eee7,#e7f0f4,#d8e9f1,#dbeaf2,#edf2f5,#f9efe9,#fae7dc,#fae9df,#f8f2ef,#eff3f5,#e7f0f4,#eaf1f5,#f3f5f6,#f8f3f0,#f9f0eb,#f8f1ed,#f7f5f4,#f3f5f6,#f0f4f6,#f2f5f6,#f5f6f7,#f7f5f4,#f8f4f2,#f8f4f2,#f7f7f7,#f7f7f7,#f5f6f7,#f5f6f7,#f7f7f7,#f7f7f7,#f7f5f4,#f7f7f7 696px)"></i>
<i style="left:185px;background:linear-gradient(#f7f7f7 208px,#f7f5f4,#f7f5f4,#f7f7f7,#f7f7f7,#f3f5f6,#f3f5f6,#f5f6f7,#f7f5f4,#f8f3f0,#f8f2ef,#f7f5f4,#f3f5f6,#edf2f5,#edf2f5,#f3f5f6,#f8f3f0,#f9ede5,#f9ede5,#f8f3f0,#eff3f5,#e3edf3,#e1edf3,#eff3f5,#f9eee7,#fce2d2,#fce2d2,#f9efe9,#e4eef4,#cce2ef,#cfe4ef,#e9f0f4,#fbe5d8,#f9c6ac,#f9c6ac,#faeae1,#d7e8f1,#a0cce2,#a5cee3,#e1edf3,#fcd7c2,#ee9677,#f19e7d,#fbe5d8,#bddbea,#62a7ce,#71b0d3,#dbeaf2,#f8bfa4,#d7634f,#df765e,#fce2d2,#a5cee3,#3b88be,#4c99c6,#d8e9f1,#f6af8e,#c84440,#d7634f,#fce2d2,#9bc9e0,#3480b9,#4997c5,#dbeaf2,#f5ac8b,#cb4942,#dd7059,#fbe5d8,#a0cce2,#408fc1,#68abd0,#e1edf3,#f7b99c,#de735c,#ee9677,#faeae1,#b6d7e8,#78b4d5,#9bc9e0,#e9f0f4,#fbd0b9,#f5a886,#f8bfa4,#f9efe9,#d2e6f0,#b1d5e7,#c7e0ed,#eff3f5,#fce2d2,#fcd3bc,#fcdecd,#f8f3f0,#e1edf3,#d7e8f1,#deebf2,#f3f5f6,#f9ebe3,#fbe6da,#faeae1,#f7f5f4,#ecf2f5,#e7f0f4,#ecf2f5,#f7f7f7,#f8f2ef,#f9f0eb,#f8f2ef,#f7f7f7,#f2f5f6,#f0f4f6,#f2f5f6,#f7f7f7,#f8f4f2,#f8f4f2,#f7f5f4,#f7f7f7,#f5f6f7,#f5f6f7,#f5f6f7,#f7f7f7,#f7f7f7,#f7f5f4,#f7f7f7 696px)"></i>
<i style="left:190px;background:linear-gradient(#f7f7f7 208px,#f7f5f4,#f7f5f4,#f7f7f7,#f5f6f7,#f3f5f6,#f3f5f6,#f7f7f7,#f8f4f2,#f8f2ef,#f8f3f0,#f7f7f7,#f2f5f6,#edf2f5,#eff3f5,#f5f6f7,#f8f1ed,#f9ebe3,#f9eee7,#f7f5f4,#eaf1f5,#e1edf3,#e4eef4,#f3f5f6,#fae9df,#fcdfcf,#fbe3d4,#f8f4f2,#ddebf2,#c7e0ed,#d2e6f0,#f2f5f6,#fdddcb,#f8bfa4,#fbceb7,#f8f3f0,#c5dfec,#96c7df,#aed3e6,#f2f5f6,#f9c2a7,#e98b6e,#f5ac8b,#f8f2ef,#a0cce2,#569fc9,#87beda,#f2f5f6,#f2a17f,#d25849,#e98b6e,#f8f3f0,#7bb6d6,#3681ba,#68abd0,#f3f5f6,#e8896c,#c2383a,#e37e64,#f7f5f4,#6bacd1,#307ab6,#68abd0,#f7f7f7,#e6866a,#c6413e,#e98b6e,#f7f7f7,#7bb6d6,#3e8cbf,#84bcd9,#f7f7f7,#f2a17f,#dc6e57,#f5ac8b,#f5f6f7,#9dcbe1,#75b2d4,#aed3e6,#f7f5f4,#f8bfa4,#f5a886,#fbccb4,#f5f6f7,#c5dfec,#aed3e6,#d2e6f0,#f7f5f4,#fdddcb,#fcd3bc,#fbe3d4,#f5f6f7,#ddebf2,#d7e8f1,#e3edf3,#f7f5f4,#fae9df,#fbe6da,#f9ede5,#f5f6f7,#eaf1f5,#e7f0f4,#edf2f5,#f7f7f7,#f8f1ed,#f9f0eb,#f8f3f0,#f7f7f7,#f2f5f6,#f0f4f6,#f3f5f6,#f7f7f7,#f8f4f2,#f8f4f2,#f7f5f4,#f7f7f7,#f5f6f7,#f5f6f7,#f7f7f7,#f7f7f7,#f7f7f7,#f7f5f4,#f7f7f7 696px)"></i>
<i style="left:195px;background:linear-gradient(#f7f7f7 192px,#f5f6f7,#f7f7f7,#f7f7f7,#f7f5f4,#f7f5f4,#f7f5f4,#f7f7f7,#f5f6f7,#f3f5f6,#f3f5f6,#f7f7f7,#f8f4f2,#f8f2ef,#f8f3f0,#f7f7f7,#f0f4f6,#ecf2f5,#eff3f5,#f7f7f7,#f9efe9,#f9ebe3,#f9efe9,#f7f7f7,#e7f0f4,#e0ecf3,#e6eff4,#f7f5f4,#fbe6da,#fcdecd,#fbe6da,#f3f5f6,#d7e8f1,#c5dfec,#d8e9f1,#f8f3f0,#fcd3bc,#f8bda1,#fdd9c4,#eff3f5,#b3d6e8,#93c6de,#bddbea,#f9f0eb,#f6af8e,#e8896c,#f8bda1,#eaf1f5,#84bcd9,#529dc8,#a0cce2,#f9ebe3,#e58368,#d05548,#f5a886,#e4eef4,#569fc9,#3480b9,#8dc2dc,#fae7dc,#d86551,#c2383a,#f19e7d,#e0ecf3,#4695c4,#307ab6,#90c4dd,#fbe5d8,#da6853,#c84440,#f5aa89,#deebf2,#59a1ca,#3f8ec0,#a5cee3,#fbe6da,#e6866a,#dd7059,#f9c2a7,#e1edf3,#8ac0db,#78b4d5,#c2ddec,#fae9df,#f6b394,#f5aa89,#fddcc9,#e7f0f4,#b8d8e9,#b1d5e7,#dae9f2,#f9eee7,#fcd7c2,#fcd5bf,#fae7dc,#edf2f5,#d8e9f1,#d8e9f1,#e9f0f4,#f8f2ef,#fae7dc,#fae7dc,#f9f0eb,#f2f5f6,#e7f0f4,#e7f0f4,#f0f4f6,#f8f4f2,#f9f0eb,#f9f0eb,#f8f4f2,#f5f6f7,#f0f4f6,#f0f4f6,#f5f6f7,#f7f5f4,#f8f4f2,#f8f4f2,#f7f5f4,#f7f7f7,#f5f6f7,#f5f6f7,#f7f7f7,#f7f7f7,#f7f5f4,#f7f7f7 692px)"></i>
<i style="left:200px;background:linear-gradient(#f7f7f7 192px,#f5f6f7,#f7f7f7,#f7f7f7,#f7f5f4,#f7f5f4,#f7f5f4,#f7f7f7,#f3f5f6,#f3f5f6,#f5f6f7,#f7f7f7,#f8f3f0,#f8f2ef,#f8f4f2,#f5f6f7,#eff3f5,#ecf2f5,#f0f4f6,#f8f4f2,#f9eee7,#f9ebe3,#f9f0eb,#f2f5f6,#e4eef4,#e0ecf3,#eaf1f5,#f8f1ed,#fbe3d4,#fcdecd,#fae9df,#ecf2f5,#d1e5f0,#c7e0ed,#deebf2,#f9ebe3,#facab1,#f8bda1,#fce0d0,#e3edf3,#a5cee3,#96c7df,#d1e5f0,#fbe4d6,#f19e7d,#e98b6e,#fbd0b9,#d7e8f1,#6bacd1,#569fc9,#bbdaea,#fddbc7,#db6b55,#d35a4a,#f9c2a7,#cae1ee,#3f8ec0,#3885bc,#b1d5e7,#fbceb7,#cc4c44,#c6413e,#f8bda1,#c0dceb,#3885bc,#3681ba,#b3d6e8,#fbccb4,#ce4f45,#ce4f45,#fac8af,#c2ddec,#4393c3,#4695c4,#c2ddec,#fcd3bc,#df765e,#e27b62,#fdd9c4,#d1e5f0,#78b4d5,#81bad8,#d7e8f1,#fcdfcf,#f5a886,#f6b191,#fbe4d6,#ddebf2,#b1d5e7,#b8d8e9,#e4eef4,#fae7dc,#fcd3bc,#fdd9c4,#f9ede5,#e7f0f4,#d5e7f1,#dae9f2,#edf2f5,#f9efe9,#fbe6da,#fae8de,#f8f2ef,#eff3f5,#e7f0f4,#e9f0f4,#f3f5f6,#f8f3f0,#f9efe9,#f9f0eb,#f7f5f4,#f3f5f6,#f0f4f6,#f2f5f6,#f5f6f7,#f7f5f4,#f8f4f2,#f8f4f2,#f7f7f7,#f5f6f7,#f5f6f7,#f5f6f7,#f7f7f7,#f7f7f7,#f7f5f4,#f7f7f7 692px)"></i>
<i style="left:205px;background:linear-gradient(#f7f7f7 192px,#f5f6f7,#f7f7f7,#f7f7f7,#f7f5f4,#f7f5f4,#f7f7f7,#f7f7f7,#f3f5f6,#f3f5f6,#f5f6f7,#f7f5f4,#f8f2ef,#f8f2ef,#f8f4f2,#f3f5f6,#edf2f5,#edf2f5,#f2f5f6,#f8f3f0,#f9ede5,#f9ebe3,#f8f2ef,#eff3f5,#e1edf3,#e0ecf3,#edf2f5,#f9eee7,#fce0d0,#fcdfcf,#f9eee7,#e6eff4,#cae1ee,#cae1ee,#e6eff4,#fbe5d8,#f9c2a7,#f9c2a7,#fae7dc,#d7e8f1,#9bc9e0,#9bc9e0,#ddebf2,#fdd9c4,#eb9172,#ec9374,#fce2d2,#c0dceb,#59a1ca,#62a7ce,#d5e7f1,#f8bfa4,#d35a4a,#da6853,#fdddcb,#a7d0e4,#3681ba,#3f8ec0,#d2e6f0,#f6af8e,#c2383a,#cf5246,#fddcc9,#9bc9e0,#2f79b5,#3e8cbf,#d5e7f1,#f5ac8b,#c53e3d,#d6604d,#fce0d0,#a2cde3,#3c8abe,#59a1ca,#dbeaf2,#f8bb9e,#db6b55,#e8896c,#fbe6da,#b8d8e9,#6eaed2,#90c4dd,#e4eef4,#fbd0b9,#f3a481,#f7b99c,#f9ede5,#d2e6f0,#acd2e5,#c0dceb,#edf2f5,#fce2d2,#fbceb7,#fddcc9,#f8f2ef,#e1edf3,#d5e7f1,#ddebf2,#f2f5f6,#f9ebe3,#fbe5d8,#fae9df,#f8f4f2,#ecf2f5,#e6eff4,#eaf1f5,#f5f6f7,#f8f2ef,#f9efe9,#f8f1ed,#f7f7f7,#f2f5f6,#f0f4f6,#f2f5f6,#f7f7f7,#f8f4f2,#f8f4f2,#f8f4f2,#f7f7f7,#f5f6f7,#f5f6f7,#f5f6f7,#f7f7f7,#f7f7f7,#f7f5f4,#f7f7f7 692px)"></i>
<i style="left:210px;background:linear-gradient(#f7f7f7 192px,#f5f6f7,#f7f7f7,#f7f7f7,#f7f5f4,#f7f5f4,#f7f7f7,#f5f6f7,#f3f5f6,#f3f5f6,#f7f7f7,#f8f4f2,#f8f2ef,#f8f2ef,#f7f5f4,#f2f5f6,#edf2f5,#edf2f5,#f5f6f7,#f8f1ed,#f9ebe3,#f9ede5,#f8f4f2,#ecf2f5,#e0ecf3,#e1edf3,#f2f5f6,#faeae1,#fcdfcf,#fce2d2,#f8f2ef,#deebf2,#c7e0ed,#cfe4ef,#eff3f5,#fcdfcf,#f8bda1,#fac8af,#f9efe9,#cae1ee,#93c6de,#a5cee3,#eaf1f5,#f9c6ac,#e8896c,#f2a17f,#f9ede5,#a7d0e4,#4c99c6,#75b2d4,#e7f0f4,#f5a886,#ce4f45,#e17860,#f9ebe3,#84bcd9,#327cb7,#529dc8,#e7f0f4,#eb9172,#bd2d35,#da6853,#f9ede5,#75b2d4,#2b73b3,#4f9bc7,#eaf1f5,#ea8e70,#c2383a,#df765e,#f9f0eb,#81bad8,#3885bc,#6eaed2,#eff3f5,#f3a481,#d86551,#f09c7b,#f8f2ef,#a2cde3,#6bacd1,#a0cce2,#f3f5f6,#f9c2a7,#f2a17f,#f9c4a9,#f7f5f4,#c5dfec,#a9d1e5,#cae1ee,#f7f7f7,#fdddcb,#fbceb7,#fcdfcf,#f7f7f7,#ddebf2,#d5e7f1,#e0ecf3,#f7f7f7,#fae9df,#fbe5d8,#f9ebe3,#f7f7f7,#eaf1f5,#e6eff4,#ecf2f5,#f7f7f7,#f8f1ed,#f9efe9,#f8f2ef,#f7f7f7,#f2f5f6,#f0f4f6,#f3f5f6,#f7f7f7,#f8f4f2,#f8f4f2,#f7f5f4,#f7f7f7,#f5f6f7,#f5f6f7,#f5f6f7,#f7f7f7,#f7f7f7,#f7f5f4,#f7f7f7 692px)"></i>
<i style="left:215px;background:linear-gradient(#f7f7f7 188px,#f5f6f7,#f7f7f7,#f7f7f7,#f7f7f7,#f7f5f4,#f7f5f4,#f7f7f7,#f5f6f7,#f3f5f6,#f3f5f6,#f7f7f7,#f8f4f2,#f8f2ef,#f8f3f0,#f7f7f7,#f0f4f6,#ecf2f5,#edf2f5,#f7f7f7,#f9f0eb,#f9ebe3,#f9eee7,#f7f7f7,#e9f0f4,#e0ecf3,#e4eef4,#f7f7f7,#fae7dc,#fcdecd,#fbe4d6,#f7f7f7,#dae9f2,#c5dfec,#d2e6f0,#f7f7f7,#fdd9c4,#f8bb9e,#fbceb7,#f7f7f7,#bbdaea,#90c4dd,#b1d5e7,#f7f7f7,#f7b799,#e58368,#f6af8e,#f7f7f7,#90c4dd,#4997c5,#8ac0db,#f7f5f4,#ea8e70,#cb4942,#ea8e70,#f3f5f6,#65a9cf,#2f79b5,#6eaed2,#f8f3f0,#de735c,#bb2a34,#e48066,#f0f4f6,#569fc9,#2a71b2,#6eaed2,#f8f1ed,#de735c,#c13639,#ea8e70,#edf2f5,#65a9cf,#3885bc,#8ac0db,#f9f0eb,#ea8e70,#d86551,#f6af8e,#edf2f5,#90c4dd,#6bacd1,#b1d5e7,#f8f1ed,#f7b799,#f3a481,#fbd0b9,#eff3f5,#bbdaea,#acd2e5,#d4e6f1,#f8f2ef,#fdd9c4,#fbd0b9,#fbe4d6,#f2f5f6,#dae9f2,#d5e7f1,#e4eef4,#f8f4f2,#fae7dc,#fbe6da,#f9eee7,#f3f5f6,#e9f0f4,#e7f0f4,#eff3f5,#f7f5f4,#f9f0eb,#f9efe9,#f8f3f0,#f7f7f7,#f0f4f6,#f0f4f6,#f3f5f6,#f7f7f7,#f8f4f2,#f8f4f2,#f7f5f4,#f7f7f7,#f5f6f7,#f5f6f7,#f7f7f7,#f7f7f7,#f7f5f4,#f7f5f4,#f7f7f7 692px)"></i>
<i style="left:220px;background:linear-gradient(#f7f7f7 188px,#f5f6f7,#f7f7f7,#f7f7f7,#f7f5f4,#f7f5f4,#f7f5f4,#f7f7f7,#f5f6f7,#f3f5f6,#f3f5f6,#f7f7f7,#f8f3f0,#f8f2ef,#f8f3f0,#f7f7f7,#f0f4f6,#ecf2f5,#eff3f5,#f7f7f7,#f9efe9,#faeae1,#f9efe9,#f5f6f7,#e6eff4,#deebf2,#e6eff4,#f7f5f4,#fbe5d8,#fcdecd,#fbe6da,#f3f5f6,#d5e7f1,#c2ddec,#d7e8f1,#f8f2ef,#fbd0b9,#f7b99c,#fcd7c2,#eff3f5,#aed3e6,#8dc2dc,#bddbea,#f9efe9,#f5aa89,#e58368,#f8bb9e,#e7f0f4,#7bb6d6,#4997c5,#a0cce2,#fae9df,#e27b62,#cc4c44,#f4a683,#e1edf3,#4c99c6,#307ab6,#8ac0db,#fbe5d8,#d35a4a,#be3036,#f09c7b,#ddebf2,#3f8ec0,#2c75b4,#8dc2dc,#fbe3d4,#d55d4c,#c43b3c,#f5a886,#dbeaf2,#4f9bc7,#3b88be,#a2cde3,#fbe4d6,#e37e64,#db6b55,#f8bfa4,#e0ecf3,#81bad8,#71b0d3,#c2ddec,#fae8de,#f6af8e,#f4a683,#fddbc7,#e6eff4,#b3d6e8,#aed3e6,#dae9f2,#f9ede5,#fcd5bf,#fcd3bc,#fae7dc,#ecf2f5,#d7e8f1,#d7e8f1,#e7f0f4,#f8f1ed,#fbe6da,#fbe6da,#f9f0eb,#f2f5f6,#e7f0f4,#e7f0f4,#f0f4f6,#f8f4f2,#f9efe9,#f9f0eb,#f8f4f2,#f5f6f7,#f0f4f6,#f0f4f6,#f5f6f7,#f7f5f4,#f8f4f2,#f8f4f2,#f7f5f4,#f7f7f7,#f5f6f7,#f5f6f7,#f7f7f7,#f7f7f7,#f7f5f4,#f7f7f7 688px)"></i>
<i style="left:225px;background:linear-gradient(#f7f7f7 188px,#f5f6f7,#f7f7f7,#f7f7f7,#f7f5f4,#f7f5f4,#f7f5f4,#f7f7f7,#f3f5f6,#f3f5f6,#f5f6f7,#f7f7f7,#f8f3f0,#f8f2ef,#f8f3f0,#f5f6f7,#eff3f5,#ecf2f5,#f0f4f6,#f7f5f4,#f9eee7,#faeae1,#f9f0eb,#f3f5f6,#e4eef4,#deebf2,#e9f0f4,#f8f2ef,#fbe3d4,#fcdecd,#fae8de,#edf2f5,#d1e5f0,#c5dfec,#ddebf2,#f9eee7,#facab1,#f8bb9e,#fcdecd,#e6eff4,#a5cee3,#90c4dd,#cae1ee,#fbe6da,#f19e7d,#e6866a,#facab1,#dae9f2,#6bacd1,#4f9bc7,#b3d6e8,#fcdecd,#db6b55,#cf5246,#f7b99c,#d1e5f0,#3e8cbf,#337eb8,#a5cee3,#fcd5bf,#cb4942,#c13639,#f7b596,#c7e0ed,#3783bb,#307ab6,#a7d0e4,#fcd3bc,#cc4c44,#c84440,#f8bda1,#cae1ee,#4291c2,#3f8ec0,#bbdaea,#fdd9c4,#de735c,#de735c,#fcd3bc,#d4e6f1,#78b4d5,#7bb6d6,#d2e6f0,#fce0d0,#f5a886,#f5ac8b,#fce2d2,#deebf2,#aed3e6,#b3d6e8,#e1edf3,#fae8de,#fbd0b9,#fcd5bf,#f9ebe3,#e7f0f4,#d5e7f1,#d8e9f1,#ecf2f5,#f9efe9,#fbe6da,#fae7dc,#f8f1ed,#eff3f5,#e7f0f4,#e9f0f4,#f2f5f6,#f8f3f0,#f9efe9,#f9f0eb,#f8f4f2,#f3f5f6,#f0f4f6,#f0f4f6,#f5f6f7,#f7f5f4,#f8f4f2,#f8f4f2,#f7f7f7,#f7f7f7,#f5f6f7,#f5f6f7,#f7f7f7,#f7f7f7,#f7f5f4,#f7f7f7 688px)"></i>
<i style="left:230px;background:linear-gradient(#f7f7f7 188px,#f5f6f7,#f7f7f7,#f7f7f7,#f7f5f4,#f7f5f4,#f7f5f4,#f7f7f7,#f3f5f6,#f3f5f6,#f5f6f7,#f7f5f4,#f8f3f0,#f8f2ef,#f8f4f2,#f5f6f7,#edf2f5,#ecf2f5,#f2f5f6,#f8f4f2,#f9ede5,#f9ebe3,#f8f1ed,#f0f4f6,#e3edf3,#e0ecf3,#ecf2f5,#f9f0eb,#fce2d2,#fcdecd,#f9ebe3,#e9f0f4,#cce2ef,#c5dfec,#e1edf3,#fae8de,#f9c4a9,#f8bda1,#fbe3d4,#ddebf2,#9dcbe1,#96c7df,#d5e7f1,#fcdfcf,#ec9374,#e98b6e,#fdd9c4,#cfe4ef,#5fa5cd,#569fc9,#c7e0ed,#fbceb7,#d55d4c,#d35a4a,#fbccb4,#b8d8e9,#3885bc,#3885bc,#bddbea,#f8bfa4,#c43b3c,#c6413e,#facab1,#acd2e5,#327cb7,#3681ba,#c0dceb,#f8bda1,#c6413e,#ce4f45,#fcd3bc,#b1d5e7,#3c8abe,#4695c4,#cfe4ef,#f9c6ac,#db6b55,#e37e64,#fcdecd,#c2ddec,#6eaed2,#84bcd9,#dbeaf2,#fdd9c4,#f3a481,#f6b191,#fae7dc,#d7e8f1,#acd2e5,#b8d8e9,#e7f0f4,#fbe5d8,#fbceb7,#fdd9c4,#f9efe9,#e4eef4,#d5e7f1,#dae9f2,#eff3f5,#f9ede5,#fbe5d8,#fae8de,#f8f3f0,#edf2f5,#e6eff4,#eaf1f5,#f3f5f6,#f8f2ef,#f9efe9,#f8f1ed,#f7f5f4,#f3f5f6,#f0f4f6,#f2f5f6,#f7f7f7,#f7f5f4,#f8f3f0,#f8f4f2,#f7f7f7,#f5f6f7,#f5f6f7,#f5f6f7,#f7f7f7,#f7f7f7,#f7f5f4,#f7f7f7 688px)"></i>
<i style="left:235px;background:linear-gradient(#f7f7f7 188px,#f5f6f7,#f7f7f7,#f7f7f7,#f7f5f4,#f7f5f4,#f7f7f7,#f7f7f7,#f3f5f6,#f3f5f6,#f5f6f7,#f7f5f4,#f8f2ef,#f8f2ef,#f8f4f2,#f3f5f6,#edf2f5,#ecf2f5,#f2f5f6,#f8f3f0,#f9ede5,#f9ebe3,#f8f2ef,#eff3f5,#e1edf3,#e0ecf3,#edf2f5,#f9eee7,#fce0d0,#fcdfcf,#f9eee7,#e4eef4,#cae1ee,#c7e0ed,#e6eff4,#fbe5d8,#f8bfa4,#f8bfa4,#fae7dc,#d5e7f1,#98c8e0,#9bc9e0,#deebf2,#fcd7c2,#ea8e70,#ec9374,#fce2d2,#bddbea,#569fc9,#5fa5cd,#d5e7f1,#f8bda1,#d05548,#d86551,#fdddcb,#a2cde3,#3480b9,#3e8cbf,#d2e6f0,#f5ac8b,#bf3338,#ce4f45,#fdddcb,#96c7df,#2e77b5,#3c8abe,#d5e7f1,#f5aa89,#c43b3c,#d55d4c,#fce0d0,#9dcbe1,#3a87bd,#569fc9,#ddebf2,#f7b799,#d86551,#e8896c,#fae7dc,#b3d6e8,#6bacd1,#90c4dd,#e6eff4,#fbceb7,#f2a17f,#f7b99c,#f9ede5,#d1e5f0,#a9d1e5,#c0dceb,#edf2f5,#fce2d2,#fbceb7,#fddcc9,#f8f2ef,#e1edf3,#d4e6f1,#ddebf2,#f2f5f6,#f9ebe3,#fbe5d8,#fae9df,#f8f4f2,#ecf2f5,#e6eff4,#eaf1f5,#f5f6f7,#f8f1ed,#f9efe9,#f8f1ed,#f7f7f7,#f2f5f6,#f0f4f6,#f2f5f6,#f7f7f7,#f8f4f2,#f8f3f0,#f8f4f2,#f7f7f7,#f5f6f7,#f5f6f7,#f5f6f7,#f7f7f7,#f7f7f7,#f7f5f4,#f7f7f7 688px)"></i>
<i style="left:240px;background:linear-gradient(#f7f7f7 188px,#f5f6f7,#f7f7f7,#f7f7f7,#f7f5f4,#f7f5f4,#f7f7f7,#f5f6f7,#f3f5f6,#f3f5f6,#f7f7f7,#f7f5f4,#f8f2ef,#f8f2ef,#f7f5f4,#f2f5f6,#edf2f5,#edf2f5,#f3f5f6,#f8f2ef,#f9ebe3,#f9ebe3,#f8f3f0,#ecf2f5,#e0ecf3,#e1edf3,#f0f4f6,#f9ebe3,#fcdfcf,#fce0d0,#f9f0eb,#e1edf3,#c7e0ed,#cce2ef,#ecf2f5,#fce2d2,#f8bda1,#f9c4a9,#f9ede5,#cfe4ef,#93c6de,#a0cce2,#e6eff4,#fbccb4,#e8896c,#f09c7b,#fae8de,#aed3e6,#4f9bc7,#6bacd1,#e1edf3,#f6af8e,#ce4f45,#dd7059,#fbe6da,#90c4dd,#327cb7,#4695c4,#e0ecf3,#ef9979,#be3036,#d55d4c,#fae7dc,#81bad8,#2b73b3,#4393c3,#e3edf3,#ef9979,#c2383a,#db6b55,#faeae1,#8dc2dc,#3885bc,#65a9cf,#e7f0f4,#f5ac8b,#d86551,#ec9374,#f9eee7,#a9d1e5,#6bacd1,#9bc9e0,#edf2f5,#f9c6ac,#f2a17f,#f8bfa4,#f8f2ef,#cae1ee,#a9d1e5,#c7e0ed,#f2f5f6,#fcdfcf,#fbceb7,#fcdecd,#f7f5f4,#deebf2,#d5e7f1,#e0ecf3,#f5f6f7,#faeae1,#fbe5d8,#faeae1,#f7f7f7,#eaf1f5,#e6eff4,#ecf2f5,#f7f7f7,#f8f1ed,#f9efe9,#f8f2ef,#f7f7f7,#f2f5f6,#f0f4f6,#f2f5f6,#f7f7f7,#f8f4f2,#f8f4f2,#f7f5f4,#f7f7f7,#f5f6f7,#f5f6f7,#f5f6f7,#f7f7f7,#f7f7f7,#f7f5f4,#f7f7f7 688px)"></i>
<i style="left:245px;background:linear-gradient(#f7f7f7 200px,#f7f5f4,#f7f5f4,#f7f7f7,#f5f6f7,#f3f5f6,#f3f5f6,#f7f7f7,#f8f4f2,#f8f2ef,#f8f2ef,#f7f5f4,#f2f5f6,#edf2f5,#edf2f5,#f5f6f7,#f8f1ed,#f9ebe3,#f9ede5,#f8f4f2,#eaf1f5,#e0ecf3,#e3edf3,#f3f5f6,#faeae1,#fcdfcf,#fce2d2,#f8f3f0,#deebf2,#c7e0ed,#cfe4ef,#f0f4f6,#fcdecd,#f8bda1,#facab1,#f8f1ed,#c7e0ed,#93c6de,#a7d0e4,#edf2f5,#f9c2a7,#e6866a,#f3a481,#f9efe9,#a2cde3,#4c99c6,#78b4d5,#ecf2f5,#f3a481,#cc4c44,#e37e64,#f9efe9,#7eb8d7,#307ab6,#569fc9,#ecf2f5,#e8896c,#bd2d35,#dc6e57,#f9f0eb,#6eaed2,#2b73b3,#569fc9,#eff3f5,#e8896c,#c2383a,#e27b62,#f8f2ef,#7eb8d7,#3a87bd,#78b4d5,#f3f5f6,#f2a17f,#da6853,#f3a481,#f7f5f4,#a0cce2,#6eaed2,#a5cee3,#f7f7f7,#f9c2a7,#f3a481,#fac8af,#f7f7f7,#c5dfec,#acd2e5,#cfe4ef,#f7f7f7,#fdddcb,#fbd0b9,#fce2d2,#f7f7f7,#ddebf2,#d5e7f1,#e1edf3,#f7f7f7,#fae9df,#fbe6da,#f9ede5,#f7f7f7,#eaf1f5,#e7f0f4,#edf2f5,#f7f7f7,#f8f1ed,#f9f0eb,#f8f2ef,#f7f7f7,#f2f5f6,#f0f4f6,#f3f5f6,#f7f7f7,#f8f4f2,#f8f4f2,#f7f5f4,#f7f7f7,#f5f6f7,#f5f6f7,#f7f7f7,#f7f7f7,#f7f7f7,#f7f5f4,#f7f7f7 688px)"></i>
<i style="left:250px;background:linear-gradient(#f7f7f7 200px,#f7f5f4,#f7f5f4,#f7f7f7,#f5f6f7,#f3f5f6,#f3f5f6,#f7f7f7,#f8f4f2,#f8f2ef,#f8f3f0,#f7f7f7,#f2f5f6,#edf2f5,#eff3f5,#f7f7f7,#f8f1ed,#f9ebe3,#f9eee7,#f7f5f4,#eaf1f5,#e0ecf3,#e4eef4,#f5f6f7,#fae9df,#fcdfcf,#fbe4d6,#f7f5f4,#dbeaf2,#c7e0ed,#d2e6f0,#f3f5f6,#fddcc9,#f8bda1,#fbceb7,#f8f4f2,#c0dceb,#93c6de,#aed3e6,#f3f5f6,#f8bb9e,#e6866a,#f5ac8b,#f8f4f2,#98c8e0,#4c99c6,#87beda,#f5f6f7,#ef9979,#ce4f45,#e98b6e,#f7f7f7,#71b0d3,#327cb7,#68abd0,#f7f7f7,#e37e64,#be3036,#e37e64,#f7f7f7,#62a7ce,#2c75b4,#68abd0,#f7f5f4,#e37e64,#c53e3d,#e98b6e,#f3f5f6,#71b0d3,#3c8abe,#8ac0db,#f8f3f0,#f09c7b,#dc6e57,#f6af8e,#f2f5f6,#9bc9e0,#75b2d4,#b1d5e7,#f8f3f0,#f8bda1,#f5a886,#fbd0b9,#f2f5f6,#c2ddec,#b1d5e7,#d4e6f1,#f8f4f2,#fdddcb,#fcd5bf,#fbe4d6,#f3f5f6,#ddebf2,#d8e9f1,#e4eef4,#f7f5f4,#fae9df,#fae7dc,#f9eee7,#f5f6f7,#eaf1f5,#e9f0f4,#eff3f5,#f7f7f7,#f8f1ed,#f9f0eb,#f8f3f0,#f7f7f7,#f2f5f6,#f0f4f6,#f3f5f6,#f7f7f7,#f8f4f2,#f8f4f2,#f7f5f4,#f7f7f7,#f5f6f7,#f5f6f7,#f7f7f7 672px)"></i>
<i style="left:255px;background:linear-gradient(#f7f7f7 200px,#f7f5f4,#f7f5f4,#f7f7f7,#f5f6f7,#f3f5f6,#f3f5f6,#f7f7f7,#f8f4f2,#f8f2ef,#f8f3f0,#f7f7f7,#f2f5f6,#edf2f5,#eff3f5,#f7f7f7,#f9f0eb,#f9ede5,#f9efe9,#f7f7f7,#e9f0f4,#e1edf3,#e6eff4,#f7f7f7,#fae8de,#fcdfcf,#fbe5d8,#f7f7f7,#dae9f2,#c7e0ed,#d5e7f1,#f7f7f7,#fdd9c4,#f8bfa4,#fcd5bf,#f7f7f7,#bddbea,#96c7df,#b6d7e8,#f7f5f4,#f7b799,#e8896c,#f7b596,#f3f5f6,#90c4dd,#529dc8,#96c7df,#f8f2ef,#eb9172,#cf5246,#ef9979,#eff3f5,#65a9cf,#3480b9,#7bb6d6,#f9f0eb,#df765e,#c2383a,#ea8e70,#ecf2f5,#59a1ca,#307ab6,#7eb8d7,#f9eee7,#e17860,#c94741,#f19e7d,#eaf1f5,#6bacd1,#408fc1,#9bc9e0,#f9eee7,#ee9677,#df765e,#f8bb9e,#ecf2f5,#98c8e0,#7eb8d7,#bddbea,#f9efe9,#f8bda1,#f6af8e,#fdd9c4,#eff3f5,#c5dfec,#b8d8e9,#dae9f2,#f8f2ef,#fdddcb,#fdd9c4,#fae7dc,#f2f5f6,#ddebf2,#dbeaf2,#e7f0f4,#f8f4f2,#faeae1,#fae8de,#f9f0eb,#f3f5f6,#eaf1f5,#eaf1f5,#f0f4f6,#f7f5f4,#f8f1ed,#f8f1ed,#f8f4f2,#f7f7f7,#f2f5f6,#f2f5f6,#f5f6f7,#f7f7f7,#f8f4f2,#f8f4f2,#f7f5f4,#f7f7f7,#f5f6f7,#f5f6f7,#f7f7f7 672px)"></i>
<i style="left:260px;background:linear-gradient(#f7f7f7 200px,#f7f5f4,#f7f5f4,#f7f7f7,#f5f6f7,#f3f5f6,#f5f6f7,#f7f7f7,#f8f4f2,#f8f3f0,#f8f3f0,#f7f7f7,#f0f4f6,#edf2f5,#f0f4f6,#f7f7f7,#f9f0eb,#f9ede5,#f9efe9,#f7f7f7,#e9f0f4,#e1edf3,#e7f0f4,#f7f7f7,#fae8de,#fce0d0,#fae7dc,#f5f6f7,#dae9f2,#cae1ee,#dae9f2,#f8f4f2,#fdd9c4,#f9c2a7,#fddbc7,#f2f5f6,#bbdaea,#98c8e0,#c0dceb,#f8f1ed,#f7b596,#ea8e70,#f8bda1,#ecf2f5,#8dc2dc,#59a1ca,#a2cde3,#f9eee7,#e98b6e,#d35a4a,#f5a886,#e7f0f4,#62a7ce,#3885bc,#8dc2dc,#fae9df,#dd7059,#c6413e,#f2a17f,#e3edf3,#569fc9,#3681ba,#93c6de,#fae8de,#df765e,#cf5246,#f5ac8b,#e3edf3,#6bacd1,#4997c5,#a9d1e5,#fae9df,#ee9677,#e48066,#f9c6ac,#e6eff4,#9bc9e0,#8ac0db,#cae1ee,#f9ede5,#f8bfa4,#f7b799,#fcdecd,#eaf1f5,#c5dfec,#c0dceb,#deebf2,#f9f0eb,#fcdecd,#fdddcb,#faeae1,#f0f4f6,#deebf2,#deebf2,#eaf1f5,#f8f3f0,#faeae1,#faeae1,#f8f1ed,#f3f5f6,#ecf2f5,#ecf2f5,#f2f5f6,#f7f5f4,#f8f2ef,#f8f2ef,#f8f4f2,#f5f6f7,#f2f5f6,#f2f5f6,#f5f6f7,#f7f7f7,#f7f5f4,#f7f5f4,#f7f7f7,#f7f7f7,#f5f6f7,#f5f6f7,#f7f7f7 672px)"></i>
<i style="left:265px;background:linear-gradient(#f7f7f7 200px,#f7f5f4,#f7f5f4,#f7f7f7,#f5f6f7,#f3f5f6,#f5f6f7,#f7f7f7,#f8f4f2,#f8f3f0,#f8f4f2,#f7f7f7,#f2f5f6,#eff3f5,#f0f4f6,#f7f7f7,#f9f0eb,#f9eee7,#f9f0eb,#f5f6f7,#e9f0f4,#e3edf3,#e9f0f4,#f7f5f4,#fae8de,#fce2d2,#fae9df,#f3f5f6,#dae9f2,#cfe4ef,#ddebf2,#f8f2ef,#fdd9c4,#f9c6ac,#fcdecd,#edf2f5,#b8d8e9,#a0cce2,#cae1ee,#f9eee7,#f6b394,#ee9677,#fac8af,#e7f0f4,#8dc2dc,#62a7ce,#aed3e6,#fae9df,#e98b6e,#d86551,#f7b596,#e1edf3,#62a7ce,#3e8cbf,#a0cce2,#fbe5d8,#dd7059,#ce4f45,#f6af8e,#ddebf2,#569fc9,#3c8abe,#a2cde3,#fbe4d6,#e17860,#d6604d,#f8bb9e,#ddebf2,#6eaed2,#5ca3cb,#b8d8e9,#fbe6da,#f09c7b,#ea8e70,#fcd3bc,#e3edf3,#a0cce2,#98c8e0,#d4e6f1,#faeae1,#f9c4a9,#f8bfa4,#fbe3d4,#e9f0f4,#cae1ee,#c7e0ed,#e3edf3,#f9efe9,#fce0d0,#fcdfcf,#f9ede5,#eff3f5,#e1edf3,#e1edf3,#edf2f5,#f8f3f0,#f9ebe3,#f9ede5,#f8f2ef,#f3f5f6,#edf2f5,#edf2f5,#f3f5f6,#f7f5f4,#f8f2ef,#f8f2ef,#f7f5f4,#f5f6f7,#f3f5f6,#f3f5f6,#f5f6f7,#f7f7f7,#f7f5f4,#f7f5f4,#f7f7f7,#f7f7f7,#f5f6f7,#f7f7f7 668px)"></i>
<i style="left:270px;background:linear-gradient(#f7f7f7 200px,#f7f5f4,#f7f7f7,#f7f7f7,#f5f6f7,#f3f5f6,#f5f6f7,#f7f7f7,#f8f4f2,#f8f3f0,#f8f4f2,#f7f7f7,#f2f5f6,#eff3f5,#f2f5f6,#f7f7f7,#f8f1ed,#f9eee7,#f8f1ed,#f5f6f7,#e9f0f4,#e4eef4,#ecf2f5,#f8f4f2,#fae8de,#fbe4d6,#faeae1,#f2f5f6,#dae9f2,#d2e6f0,#e0ecf3,#f8f1ed,#fdd9c4,#facab1,#fce2d2,#ecf2f5,#bbdaea,#a7d0e4,#d1e5f0,#f9ebe3,#f7b596,#f2a17f,#fbd0b9,#e3edf3,#90c4dd,#71b0d3,#bbdaea,#fbe6da,#ea8e70,#de735c,#f9c2a7,#dbeaf2,#65a9cf,#4997c5,#aed3e6,#fce2d2,#df765e,#d6604d,#f8bda1,#d8e9f1,#5ca3cb,#4695c4,#b3d6e8,#fce0d0,#e37e64,#dd7059,#fac8af,#dae9f2,#78b4d5,#6eaed2,#c7e0ed,#fbe4d6,#f3a481,#f19e7d,#fddcc9,#e0ecf3,#a7d0e4,#a5cee3,#dae9f2,#fae9df,#fac8af,#facab1,#fae7dc,#e7f0f4,#d1e5f0,#d1e5f0,#e7f0f4,#f9efe9,#fbe3d4,#fbe3d4,#f9efe9,#eff3f5,#e3edf3,#e4eef4,#eff3f5,#f8f3f0,#f9ede5,#f9eee7,#f8f3f0,#f3f5f6,#eff3f5,#eff3f5,#f3f5f6,#f7f5f4,#f8f3f0,#f8f3f0,#f7f5f4,#f5f6f7,#f3f5f6,#f3f5f6,#f7f7f7,#f7f7f7,#f7f5f4,#f7f5f4,#f7f7f7 656px)"></i>
<i style="left:275px;background:linear-gradient(#f7f7f7 200px,#f7f5f4,#f7f7f7,#f7f7f7,#f5f6f7,#f5f6f7,#f5f6f7,#f7f7f7,#f8f4f2,#f8f4f2,#f7f5f4,#f7f7f7,#f2f5f6,#f0f4f6,#f3f5f6,#f7f5f4,#f8f1ed,#f9efe9,#f8f2ef,#f5f6f7,#eaf1f5,#e7f0f4,#edf2f5,#f8f3f0,#fae9df,#fbe6da,#f9ede5,#f0f4f6,#dbeaf2,#d5e7f1,#e4eef4,#f9f0eb,#fddcc9,#fbd0b9,#fbe5d8,#e9f0f4,#c0dceb,#aed3e6,#d7e8f1,#faeae1,#f7b99c,#f5aa89,#fddbc7,#e1edf3,#96c7df,#7eb8d7,#c7e0ed,#fbe4d6,#ec9374,#e48066,#fbccb4,#d8e9f1,#6eaed2,#5ca3cb,#bddbea,#fcdecd,#e37e64,#dd7059,#facab1,#d5e7f1,#65a9cf,#5ca3cb,#c2ddec,#fcdecd,#e8896c,#e58368,#fcd5bf,#d7e8f1,#84bcd9,#81bad8,#d2e6f0,#fbe3d4,#f5aa89,#f5ac8b,#fce0d0,#deebf2,#aed3e6,#b1d5e7,#e0ecf3,#fae8de,#fbd0b9,#fcd3bc,#faeae1,#e7f0f4,#d4e6f1,#d7e8f1,#eaf1f5,#f9efe9,#fbe5d8,#fbe6da,#f8f1ed,#eff3f5,#e6eff4,#e7f0f4,#f2f5f6,#f8f3f0,#f9efe9,#f9f0eb,#f8f4f2,#f3f5f6,#eff3f5,#f0f4f6,#f5f6f7,#f7f5f4,#f8f3f0,#f8f4f2,#f7f7f7,#f5f6f7,#f3f5f6,#f5f6f7,#f7f7f7,#f7f7f7,#f7f5f4,#f7f5f4,#f7f7f7 656px)"></i>
<i style="left:280px;background:linear-gradient(#f7f7f7 212px,#f5f6f7,#f5f6f7,#f7f7f7,#f7f7f7,#f8f4f2,#f8f4f2,#f7f5f4,#f7f7f7,#f2f5f6,#f0f4f6,#f3f5f6,#f7f5f4,#f8f1ed,#f9f0eb,#f8f3f0,#f3f5f6,#ecf2f5,#e9f0f4,#eff3f5,#f8f3f0,#faeae1,#fae7dc,#f9efe9,#f0f4f6,#deebf2,#d8e9f1,#e7f0f4,#f9efe9,#fdddcb,#fcd7c2,#fae7dc,#e9f0f4,#c5dfec,#b8d8e9,#ddebf2,#fae9df,#f8bda1,#f7b596,#fcdfcf,#deebf2,#9bc9e0,#90c4dd,#d2e6f0,#fce2d2,#f09c7b,#eb9172,#fcd7c2,#d7e8f1,#78b4d5,#6eaed2,#cae1ee,#fdddcb,#e8896c,#e58368,#fcd7c2,#d4e6f1,#75b2d4,#71b0d3,#cfe4ef,#fdddcb,#ec9374,#ee9677,#fdddcb,#d7e8f1,#90c4dd,#96c7df,#dae9f2,#fce2d2,#f7b596,#f7b99c,#fbe6da,#e0ecf3,#b8d8e9,#c0dceb,#e4eef4,#fae9df,#fcd7c2,#fddbc7,#f9ede5,#e9f0f4,#d8e9f1,#dbeaf2,#edf2f5,#f9efe9,#fae7dc,#fae9df,#f8f2ef,#eff3f5,#e9f0f4,#eaf1f5,#f3f5f6,#f8f3f0,#f9f0eb,#f8f1ed,#f7f5f4,#f3f5f6,#f0f4f6,#f2f5f6,#f5f6f7,#f7f5f4,#f8f4f2,#f8f4f2,#f7f7f7,#f7f7f7,#f5f6f7,#f5f6f7,#f7f7f7,#f7f7f7,#f7f5f4,#f7f7f7 652px)"></i>
<i style="left:285px;background:linear-gradient(#f7f7f7 212px,#f5f6f7,#f5f6f7,#f7f7f7,#f7f7f7,#f7f5f4,#f8f4f2,#f7f5f4,#f7f7f7,#f3f5f6,#f2f5f6,#f5f6f7,#f7f5f4,#f8f2ef,#f8f1ed,#f8f4f2,#f3f5f6,#ecf2f5,#eaf1f5,#f0f4f6,#f8f3f0,#f9ebe3,#fae9df,#f9f0eb,#eff3f5,#e0ecf3,#ddebf2,#eaf1f5,#f9efe9,#fcdfcf,#fddcc9,#faeae1,#e7f0f4,#cae1ee,#c2ddec,#e1edf3,#fae8de,#f9c4a9,#f8bda1,#fbe4d6,#deebf2,#a5cee3,#9dcbe1,#d8e9f1,#fce2d2,#f4a683,#f2a17f,#fcdecd,#d5e7f1,#84bcd9,#84bcd9,#d4e6f1,#fdddcb,#ec9374,#ee9677,#fcdecd,#d2e6f0,#81bad8,#87beda,#d7e8f1,#fdddcb,#f2a17f,#f5a886,#fbe3d4,#d7e8f1,#9dcbe1,#a5cee3,#e0ecf3,#fbe3d4,#f8bda1,#f9c6ac,#fae9df,#e0ecf3,#c2ddec,#cae1ee,#e9f0f4,#fae9df,#fddcc9,#fcdfcf,#f9f0eb,#e9f0f4,#ddebf2,#e0ecf3,#f0f4f6,#f9f0eb,#fae9df,#f9ebe3,#f8f3f0,#f0f4f6,#eaf1f5,#edf2f5,#f3f5f6,#f8f3f0,#f8f1ed,#f8f2ef,#f7f5f4,#f5f6f7,#f2f5f6,#f3f5f6,#f7f7f7,#f7f5f4,#f8f4f2,#f7f5f4,#f7f7f7,#f7f7f7,#f5f6f7,#f5f6f7,#f7f7f7 640px)"></i>
<i style="left:290px;background:linear-gradient(#f7f7f7 216px,#f5f6f7,#f7f7f7,#f7f7f7,#f7f5f4,#f7f5f4,#f7f7f7,#f7f7f7,#f3f5f6,#f2f5f6,#f5f6f7,#f7f5f4,#f8f2ef,#f8f2ef,#f8f4f2,#f3f5f6,#edf2f5,#ecf2f5,#f2f5f6,#f8f3f0,#f9ede5,#f9ebe3,#f8f1ed,#eff3f5,#e3edf3,#e0ecf3,#ecf2f5,#f9efe9,#fce2d2,#fcdfcf,#f9ede5,#e7f0f4,#cfe4ef,#cae1ee,#e4eef4,#fae8de,#facab1,#f9c6ac,#fae7dc,#deebf2,#acd2e5,#a9d1e5,#ddebf2,#fce2d2,#f6af8e,#f6af8e,#fbe3d4,#d5e7f1,#93c6de,#96c7df,#dbeaf2,#fdddcb,#f2a17f,#f4a683,#fbe3d4,#d4e6f1,#90c4dd,#98c8e0,#ddebf2,#fcdecd,#f5ac8b,#f7b596,#fae7dc,#d8e9f1,#a9d1e5,#b3d6e8,#e4eef4,#fbe4d6,#fac8af,#fbd0b9,#f9ede5,#e1edf3,#cce2ef,#d4e6f1,#ecf2f5,#faeae1,#fce0d0,#fbe4d6,#f8f1ed,#eaf1f5,#e0ecf3,#e4eef4,#f2f5f6,#f8f1ed,#f9ebe3,#f9eee7,#f8f4f2,#f0f4f6,#edf2f5,#eff3f5,#f5f6f7,#f8f4f2,#f8f2ef,#f8f3f0,#f7f7f7,#f5f6f7,#f3f5f6,#f3f5f6,#f7f7f7,#f7f5f4,#f7f5f4,#f7f5f4,#f7f7f7,#f7f7f7,#f5f6f7,#f7f7f7 636px)"></i>
<i style="left:295px;background:linear-gradient(#f7f7f7 216px,#f5f6f7,#f7f7f7,#f7f7f7,#f7f5f4,#f7f5f4,#f7f7f7,#f7f7f7,#f3f5f6,#f3f5f6,#f5f6f7,#f7f5f4,#f8f3f0,#f8f2ef,#f7f5f4,#f3f5f6,#eff3f5,#edf2f5,#f3f5f6,#f8f3f0,#f9eee7,#f9ede5,#f8f2ef,#f0f4f6,#e4eef4,#e3edf3,#eff3f5,#f9efe9,#fbe4d6,#fce2d2,#f9efe9,#e9f0f4,#d2e6f0,#d1e5f0,#e7f0f4,#fae8de,#fbceb7,#fbceb7,#fae9df,#deebf2,#b3d6e8,#b3d6e8,#e1edf3,#fce2d2,#f7b596,#f7b799,#fbe6da,#d7e8f1,#9bc9e0,#a2cde3,#e0ecf3,#fdddcb,#f5aa89,#f6b191,#fbe6da,#d4e6f1,#9bc9e0,#a7d0e4,#e3edf3,#fcdecd,#f7b596,#f8bfa4,#faeae1,#dae9f2,#b1d5e7,#c0dceb,#e9f0f4,#fbe5d8,#fbceb7,#fdd9c4,#f9efe9,#e3edf3,#d2e6f0,#d8e9f1,#eff3f5,#f9ebe3,#fbe3d4,#fae7dc,#f8f3f0,#ecf2f5,#e3edf3,#e7f0f4,#f3f5f6,#f8f1ed,#f9eee7,#f9f0eb,#f7f5f4,#f2f5f6,#eff3f5,#f0f4f6,#f7f7f7,#f8f4f2,#f8f3f0,#f8f4f2,#f7f7f7,#f5f6f7,#f3f5f6,#f5f6f7,#f7f7f7,#f7f7f7,#f7f5f4,#f7f5f4,#f7f7f7 624px)"></i>
<i style="left:300px;background:linear-gradient(#f7f7f7 228px,#f7f5f4,#f7f5f4,#f7f7f7,#f7f7f7,#f3f5f6,#f3f5f6,#f5f6f7,#f7f5f4,#f8f3f0,#f8f3f0,#f7f5f4,#f3f5f6,#eff3f5,#eff3f5,#f3f5f6,#f8f3f0,#f9efe9,#f9eee7,#f8f3f0,#f0f4f6,#e6eff4,#e4eef4,#f0f4f6,#f9efe9,#fbe5d8,#fbe4d6,#f9f0eb,#e9f0f4,#d5e7f1,#d5e7f1,#eaf1f5,#fae8de,#fcd3bc,#fcd5bf,#f9ebe3,#deebf2,#b8d8e9,#bbdaea,#e6eff4,#fce2d2,#f7b99c,#f8bfa4,#fae9df,#d5e7f1,#a2cde3,#a9d1e5,#e4eef4,#fdddcb,#f6b191,#f7b99c,#fae9df,#d4e6f1,#a2cde3,#aed3e6,#e6eff4,#fcdfcf,#f8bb9e,#f9c6ac,#f9ede5,#dae9f2,#b8d8e9,#c7e0ed,#ecf2f5,#fbe5d8,#fcd5bf,#fdddcb,#f8f1ed,#e3edf3,#d5e7f1,#ddebf2,#f0f4f6,#f9ede5,#fbe5d8,#fae9df,#f8f4f2,#ecf2f5,#e6eff4,#eaf1f5,#f5f6f7,#f8f2ef,#f9efe9,#f8f1ed,#f7f5f4,#f2f5f6,#eff3f5,#f2f5f6,#f7f7f7,#f8f4f2,#f8f3f0,#f8f4f2,#f7f7f7,#f5f6f7,#f3f5f6,#f5f6f7,#f7f7f7,#f7f7f7,#f7f5f4,#f7f7f7 620px)"></i>
<i style="left:305px;background:linear-gradient(#f7f7f7 228px,#f7f5f4,#f7f5f4,#f7f7f7,#f7f7f7,#f5f6f7,#f3f5f6,#f7f7f7,#f7f5f4,#f8f3f0,#f8f3f0,#f7f5f4,#f3f5f6,#f0f4f6,#eff3f5,#f3f5f6,#f8f3f0,#f9efe9,#f9efe9,#f8f3f0,#f0f4f6,#e6eff4,#e6eff4,#f0f4f6,#f9efe9,#fbe5d8,#fbe5d8,#f8f1ed,#e7f0f4,#d7e8f1,#d7e8f1,#ecf2f5,#fae8de,#fcd5bf,#fcd7c2,#f9eee7,#deebf2,#bbdaea,#c0dceb,#e7f0f4,#fce0d0,#f8bb9e,#f9c4a9,#faeae1,#d5e7f1,#a5cee3,#aed3e6,#e6eff4,#fdddcb,#f6b394,#f8bda1,#f9ebe3,#d4e6f1,#a5cee3,#b3d6e8,#e9f0f4,#fcdecd,#f8bda1,#fbccb4,#f9efe9,#dae9f2,#bddbea,#cce2ef,#edf2f5,#fbe5d8,#fcd7c2,#fcdfcf,#f8f2ef,#e4eef4,#d8e9f1,#deebf2,#f2f5f6,#f9ede5,#fbe6da,#faeae1,#f8f4f2,#edf2f5,#e7f0f4,#ecf2f5,#f5f6f7,#f8f2ef,#f9efe9,#f8f1ed,#f7f7f7,#f2f5f6,#f0f4f6,#f2f5f6,#f7f7f7,#f7f5f4,#f8f4f2,#f8f4f2,#f7f7f7,#f5f6f7,#f5f6f7,#f5f6f7,#f7f7f7,#f7f7f7,#f7f5f4,#f7f7f7 620px)"></i>
<i style="left:310px;background:linear-gradient(#f7f7f7 228px,#f7f5f4,#f7f5f4,#f7f7f7,#f7f7f7,#f5f6f7,#f3f5f6,#f7f7f7,#f7f5f4,#f8f3f0,#f8f3f0,#f7f5f4,#f3f5f6,#f0f4f6,#f0f4f6,#f5f6f7,#f8f3f0,#f9efe9,#f9efe9,#f8f4f2,#eff3f5,#e6eff4,#e6eff4,#f2f5f6,#f9efe9,#fbe5d8,#fbe6da,#f8f1ed,#e7f0f4,#d5e7f1,#d7e8f1,#edf2f5,#fae7dc,#fcd5bf,#fcd7c2,#f9eee7,#dbeaf2,#b8d8e9,#c0dceb,#e9f0f4,#fcdfcf,#f7b99c,#f9c4a9,#f9ede5,#d2e6f0,#a2cde3,#aed3e6,#e9f0f4,#fddbc7,#f6b191,#f8bfa4,#f9ede5,#d1e5f0,#a2cde3,#b6d7e8,#eaf1f5,#fdddcb,#f8bda1,#fbccb4,#f9f0eb,#d8e9f1,#bddbea,#cfe4ef,#eff3f5,#fbe5d8,#fcd7c2,#fcdfcf,#f8f3f0,#e3edf3,#d8e9f1,#e0ecf3,#f3f5f6,#f9ede5,#fae7dc,#f9ebe3,#f7f5f4,#edf2f5,#e7f0f4,#ecf2f5,#f5f6f7,#f8f2ef,#f9f0eb,#f8f2ef,#f7f7f7,#f2f5f6,#f0f4f6,#f2f5f6,#f7f7f7,#f7f5f4,#f8f4f2,#f7f5f4,#f7f7f7,#f5f6f7,#f5f6f7,#f5f6f7,#f7f7f7,#f7f7f7,#f7f5f4,#f7f7f7 620px)"></i>
<i style="left:315px;background:linear-gradient(#f7f7f7 228px,#f7f5f4,#f7f5f4,#f7f7f7,#f7f7f7,#f5f6f7,#f3f5f6,#f7f7f7,#f7f5f4,#f8f3f0,#f8f3f0,#f7f5f4,#f3f5f6,#f0f4f6,#f0f4f6,#f5f6f7,#f8f3f0,#f9efe9,#f9efe9,#f8f4f2,#eff3f5,#e6eff4,#e6eff4,#f2f5f6,#f9eee7,#fbe5d8,#fbe5d8,#f8f2ef,#e6eff4,#d4e6f1,#d7e8f1,#edf2f5,#fbe6da,#fbd0b9,#fcd7c2,#f9efe9,#dae9f2,#b3d6e8,#bddbea,#eaf1f5,#fdddcb,#f7b596,#f8bfa4,#f9ede5,#cfe4ef,#9bc9e0,#acd2e5,#e9f0f4,#fcd5bf,#f5aa89,#f8bb9e,#f9eee7,#cce2ef,#9dcbe1,#b3d6e8,#ecf2f5,#fddbc7,#f7b799,#facab1,#f9f0eb,#d5e7f1,#b8d8e9,#cce2ef,#f0f4f6,#fbe3d4,#fcd5bf,#fcdfcf,#f8f3f0,#e1edf3,#d7e8f1,#e0ecf3,#f3f5f6,#f9ebe3,#fbe6da,#f9ebe3,#f7f5f4,#ecf2f5,#e7f0f4,#ecf2f5,#f7f7f7,#f8f2ef,#f9f0eb,#f8f2ef,#f7f7f7,#f2f5f6,#f0f4f6,#f3f5f6,#f7f7f7,#f8f4f2,#f8f4f2,#f7f5f4,#f7f7f7,#f5f6f7,#f5f6f7,#f5f6f7,#f7f7f7,#f7f7f7,#f7f5f4,#f7f7f7 620px)"></i>
<i style="left:320px;background:linear-gradient(#f7f7f7 228px,#f7f5f4,#f7f5f4,#f7f7f7,#f7f7f7,#f3f5f6,#f3f5f6,#f7f7f7,#f7f5f4,#f8f3f0,#f8f3f0,#f7f5f4,#f3f5f6,#eff3f5,#eff3f5,#f5f6f7,#f8f3f0,#f9eee7,#f9efe9,#f8f4f2,#edf2f5,#e4eef4,#e6eff4,#f2f5f6,#f9ede5,#fbe3d4,#fbe4d6,#f8f2ef,#e3edf3,#d1e5f0,#d4e6f1,#eff3f5,#fbe4d6,#facab1,#fcd3bc,#f9efe9,#d5e7f1,#a9d1e5,#b6d7e8,#eaf1f5,#fdd9c4,#f5aa89,#f8bb9e,#f9eee7,#c5dfec,#8dc2dc,#a5cee3,#eaf1f5,#fbceb7,#f19e7d,#f7b596,#f9efe9,#c2ddec,#90c4dd,#acd2e5,#edf2f5,#fcd3bc,#f6af8e,#f9c6ac,#f8f1ed,#d1e5f0,#b1d5e7,#c7e0ed,#f0f4f6,#fce0d0,#fbd0b9,#fcdecd,#f8f4f2,#e0ecf3,#d4e6f1,#deebf2,#f5f6f7,#faeae1,#fbe5d8,#faeae1,#f7f5f4,#ecf2f5,#e6eff4,#ecf2f5,#f7f7f7,#f8f1ed,#f9efe9,#f8f2ef,#f7f7f7,#f2f5f6,#f0f4f6,#f2f5f6,#f7f7f7,#f8f4f2,#f8f4f2,#f7f5f4,#f7f7f7,#f5f6f7,#f5f6f7,#f5f6f7,#f7f7f7,#f7f7f7,#f7f5f4,#f7f7f7 620px)"></i>
<i style="left:325px;background:linear-gradient(#f7f7f7 228px,#f7f5f4,#f7f5f4,#f7f7f7,#f5f6f7,#f3f5f6,#f3f5f6,#f7f7f7,#f7f5f4,#f8f3f0,#f8f3f0,#f7f5f4,#f3f5f6,#eff3f5,#eff3f5,#f5f6f7,#f8f2ef,#f9ede5,#f9eee7,#f8f4f2,#edf2f5,#e3edf3,#e4eef4,#f2f5f6,#f9ebe3,#fce0d0,#fbe3d4,#f8f2ef,#e0ecf3,#cae1ee,#d1e5f0,#eff3f5,#fce0d0,#f9c2a7,#fbccb4,#f9f0eb,#cfe4ef,#9dcbe1,#aed3e6,#ecf2f5,#fbceb7,#f09c7b,#f6b191,#f9eee7,#b8d8e9,#78b4d5,#98c8e0,#eaf1f5,#f9c2a7,#e98b6e,#f5ac8b,#f9efe9,#b6d7e8,#7eb8d7,#a2cde3,#edf2f5,#facab1,#f3a481,#f8bda1,#f8f2ef,#c7e0ed,#a5cee3,#c2ddec,#f2f5f6,#fdddcb,#fac8af,#fddcc9,#f8f4f2,#ddebf2,#d1e5f0,#ddebf2,#f5f6f7,#fae9df,#fbe4d6,#fae9df,#f7f7f7,#eaf1f5,#e4eef4,#eaf1f5,#f7f7f7,#f8f1ed,#f9efe9,#f8f1ed,#f7f7f7,#f2f5f6,#f0f4f6,#f2f5f6,#f7f7f7,#f8f4f2,#f8f3f0,#f8f4f2,#f7f7f7,#f5f6f7,#f3f5f6,#f5f6f7,#f7f7f7,#f7f5f4,#f7f5f4,#f7f7f7 620px)"></i>
<i style="left:330px;background:linear-gradient(#f7f7f7 212px,#f5f6f7,#f5f6f7,#f7f7f7,#f7f7f7,#f7f5f4,#f7f5f4,#f7f7f7,#f5f6f7,#f3f5f6,#f3f5f6,#f7f7f7,#f8f4f2,#f8f2ef,#f8f3f0,#f7f5f4,#f2f5f6,#edf2f5,#edf2f5,#f5f6f7,#f8f1ed,#f9ebe3,#f9ede5,#f8f4f2,#eaf1f5,#e0ecf3,#e1edf3,#f2f5f6,#fae9df,#fcdecd,#fce0d0,#f8f2ef,#ddebf2,#c0dceb,#cae1ee,#eff3f5,#fdddcb,#f7b799,#f9c4a9,#f9f0eb,#c5dfec,#8dc2dc,#a2cde3,#ecf2f5,#f9c4a9,#e8896c,#f4a683,#f9efe9,#a9d1e5,#5fa5cd,#8ac0db,#ecf2f5,#f7b596,#df765e,#f19e7d,#f9f0eb,#a7d0e4,#65a9cf,#96c7df,#eff3f5,#f8bda1,#eb9172,#f7b596,#f8f2ef,#bddbea,#96c7df,#b8d8e9,#f2f5f6,#fcd7c2,#f8bfa4,#fcd7c2,#f8f4f2,#d8e9f1,#cae1ee,#dae9f2,#f5f6f7,#fae7dc,#fce0d0,#fae8de,#f7f7f7,#e7f0f4,#e3edf3,#eaf1f5,#f7f7f7,#f9f0eb,#f9eee7,#f8f1ed,#f7f7f7,#f0f4f6,#eff3f5,#f2f5f6,#f7f7f7,#f8f4f2,#f8f3f0,#f8f4f2,#f7f7f7,#f5f6f7,#f3f5f6,#f5f6f7,#f7f7f7,#f7f5f4,#f7f5f4,#f7f7f7 620px)"></i>
<i style="left:335px;background:linear-gradient(#f7f7f7 212px,#f5f6f7,#f5f6f7,#f7f7f7,#f7f7f7,#f7f5f4,#f7f5f4,#f7f7f7,#f5f6f7,#f3f5f6,#f3f5f6,#f7f7f7,#f8f4f2,#f8f2ef,#f8f2ef,#f7f5f4,#f2f5f6,#ecf2f5,#edf2f5,#f5f6f7,#f9f0eb,#faeae1,#f9ebe3,#f8f4f2,#e9f0f4,#ddebf2,#deebf2,#f2f5f6,#fae7dc,#fdd9c4,#fdddcb,#f8f2ef,#d8e9f1,#b6d7e8,#c2ddec,#eff3f5,#fcd7c2,#f5aa89,#f8bb9e,#f9f0eb,#b8d8e9,#75b2d4,#96c7df,#ecf2f5,#f7b799,#dd7059,#ee9677,#f9efe9,#98c8e0,#4393c3,#78b4d5,#ecf2f5,#f4a683,#d35a4a,#ea8e70,#f9f0eb,#96c7df,#4997c5,#84bcd9,#f0f4f6,#f6b191,#e27b62,#f5aa89,#f8f3f0,#aed3e6,#84bcd9,#aed3e6,#f3f5f6,#fbceb7,#f6b394,#fbd0b9,#f7f5f4,#d2e6f0,#c0dceb,#d7e8f1,#f7f7f7,#fbe4d6,#fcdecd,#fae7dc,#f7f7f7,#e6eff4,#e0ecf3,#e9f0f4,#f7f7f7,#f9efe9,#f9ede5,#f9f0eb,#f7f7f7,#eff3f5,#edf2f5,#f2f5f6,#f7f7f7,#f8f3f0,#f8f3f0,#f8f4f2,#f7f7f7,#f3f5f6,#f3f5f6,#f5f6f7,#f7f7f7,#f7f5f4,#f7f5f4,#f7f5f4,#f7f7f7,#f7f7f7,#f5f6f7,#f7f7f7 636px)"></i>
<i style="left:340px;background:linear-gradient(#f7f7f7 212px,#f5f6f7,#f5f6f7,#f7f7f7,#f7f5f4,#f8f4f2,#f8f4f2,#f7f7f7,#f5f6f7,#f2f5f6,#f2f5f6,#f7f7f7,#f8f4f2,#f8f1ed,#f8f2ef,#f7f5f4,#f0f4f6,#eaf1f5,#ecf2f5,#f5f6f7,#f9efe9,#fae8de,#faeae1,#f8f4f2,#e6eff4,#d8e9f1,#dbeaf2,#f2f5f6,#fbe5d8,#fcd3bc,#fddbc7,#f8f2ef,#d2e6f0,#a9d1e5,#b8d8e9,#eff3f5,#fbccb4,#ef9979,#f6b191,#f9f0eb,#a9d1e5,#5ca3cb,#84bcd9,#edf2f5,#f5a886,#d25849,#e6866a,#f9f0eb,#84bcd9,#3480b9,#62a7ce,#edf2f5,#eb9172,#c53e3d,#e27b62,#f8f1ed,#7eb8d7,#3885bc,#71b0d3,#f2f5f6,#f2a17f,#d7634f,#f19e7d,#f8f4f2,#a0cce2,#6bacd1,#a5cee3,#f5f6f7,#f9c4a9,#f5a886,#facab1,#f7f7f7,#cce2ef,#b6d7e8,#d2e6f0,#f7f7f7,#fce2d2,#fddbc7,#fbe5d8,#f7f7f7,#e3edf3,#ddebf2,#e7f0f4,#f7f7f7,#f9eee7,#faeae1,#f9f0eb,#f7f7f7,#eff3f5,#ecf2f5,#f0f4f6,#f7f7f7,#f8f3f0,#f8f2ef,#f8f4f2,#f7f7f7,#f3f5f6,#f3f5f6,#f5f6f7,#f7f7f7,#f7f5f4,#f7f5f4,#f7f5f4,#f7f7f7,#f5f6f7,#f5f6f7,#f7f7f7 636px)"></i>
<i style="left:345px;background:linear-gradient(#f7f7f7 196px,#f7f5f4,#f7f5f4,#f7f7f7,#f7f7f7,#f5f6f7,#f5f6f7,#f7f7f7,#f7f5f4,#f8f4f2,#f8f4f2,#f7f7f7,#f3f5f6,#f2f5f6,#f2f5f6,#f7f7f7,#f8f3f0,#f9f0eb,#f8f1ed,#f7f5f4,#eff3f5,#e9f0f4,#eaf1f5,#f5f6f7,#f9eee7,#fbe6da,#fae8de,#f8f4f2,#e4eef4,#d5e7f1,#d8e9f1,#f2f5f6,#fce2d2,#facab1,#fcd5bf,#f8f2ef,#cce2ef,#9bc9e0,#aed3e6,#f0f4f6,#f9c2a7,#e6866a,#f4a683,#f8f1ed,#9bc9e0,#4291c2,#71b0d3,#eff3f5,#ec9374,#c43b3c,#de735c,#f8f1ed,#68abd0,#266caf,#4c99c6,#eff3f5,#e17860,#b41c2d,#da6853,#f8f3f0,#62a7ce,#2a71b2,#5ca3cb,#f3f5f6,#e98b6e,#c94741,#ea8e70,#f7f5f4,#8dc2dc,#529dc8,#98c8e0,#f7f7f7,#f7b799,#ee9677,#f9c4a9,#f7f7f7,#c2ddec,#a9d1e5,#cfe4ef,#f7f7f7,#fcdecd,#fcd3bc,#fbe3d4,#f7f7f7,#e0ecf3,#dae9f2,#e4eef4,#f7f7f7,#f9ebe3,#fae9df,#f9efe9,#f7f7f7,#edf2f5,#ecf2f5,#f0f4f6,#f7f7f7,#f8f2ef,#f8f1ed,#f8f3f0,#f7f7f7,#f3f5f6,#f2f5f6,#f5f6f7,#f7f7f7,#f7f5f4,#f8f4f2,#f7f5f4,#f7f7f7,#f5f6f7,#f5f6f7,#f7f7f7 636px)"></i>
<i style="left:350px;background:linear-gradient(#f7f7f7 196px,#f7f5f4,#f7f5f4,#f7f7f7,#f7f7f7,#f5f6f7,#f5f6f7,#f7f7f7,#f7f5f4,#f8f4f2,#f8f4f2,#f7f7f7,#f3f5f6,#f0f4f6,#f2f5f6,#f7f7f7,#f8f3f0,#f9f0eb,#f9f0eb,#f7f5f4,#eff3f5,#e7f0f4,#e9f0f4,#f5f6f7,#f9ede5,#fbe5d8,#fae7dc,#f8f4f2,#e1edf3,#d1e5f0,#d5e7f1,#f3f5f6,#fcdecd,#f9c2a7,#fbceb7,#f8f3f0,#c2ddec,#8dc2dc,#a5cee3,#f0f4f6,#f7b799,#de735c,#ef9979,#f8f2ef,#87beda,#3681ba,#5fa5cd,#eff3f5,#e37e64,#b41c2d,#d6604d,#f8f2ef,#4c99c6,#195696,#3c8abe,#f2f5f6,#d6604d,#960f27,#d05548,#f8f4f2,#4695c4,#1c5c9f,#4997c5,#f5f6f7,#df765e,#bb2a34,#e37e64,#f7f7f7,#78b4d5,#3f8ec0,#8dc2dc,#f7f7f7,#f5ac8b,#e6866a,#f8bb9e,#f7f7f7,#b6d7e8,#9dcbe1,#c7e0ed,#f7f5f4,#fddbc7,#fbccb4,#fce0d0,#f5f6f7,#ddebf2,#d7e8f1,#e3edf3,#f7f7f7,#faeae1,#fae8de,#f9eee7,#f7f7f7,#ecf2f5,#eaf1f5,#eff3f5,#f7f7f7,#f8f2ef,#f8f1ed,#f8f3f0,#f7f7f7,#f2f5f6,#f2f5f6,#f3f5f6,#f7f7f7,#f8f4f2,#f8f4f2,#f7f5f4,#f7f7f7,#f5f6f7,#f5f6f7,#f7f7f7,#f7f7f7,#f7f7f7,#f7f5f4,#f7f7f7 652px)"></i>
<i style="left:355px;background:linear-gradient(#f7f7f7 196px,#f7f5f4,#f7f5f4,#f7f7f7,#f5f6f7,#f3f5f6,#f5f6f7,#f7f7f7,#f7f5f4,#f8f3f0,#f8f4f2,#f7f7f7,#f3f5f6,#f0f4f6,#f0f4f6,#f7f7f7,#f8f2ef,#f9efe9,#f9f0eb,#f7f5f4,#edf2f5,#e6eff4,#e7f0f4,#f5f6f7,#f9ebe3,#fbe3d4,#fbe5d8,#f8f4f2,#deebf2,#cae1ee,#d2e6f0,#f3f5f6,#fddbc7,#f7b99c,#fac8af,#f8f3f0,#b8d8e9,#7bb6d6,#9bc9e0,#f2f5f6,#f5aa89,#d55d4c,#e98b6e,#f8f2ef,#71b0d3,#2a71b2,#4c99c6,#f2f5f6,#da6853,#960f27,#cc4c44,#f8f3f0,#3b88be,#0c3d73,#337eb8,#f3f5f6,#c84440,#730421,#c6413e,#f7f7f7,#3885bc,#10457e,#3c8abe,#f7f7f7,#d55d4c,#a81529,#dd7059,#f5f6f7,#62a7ce,#3480b9,#7eb8d7,#f7f5f4,#f19e7d,#df765e,#f7b596,#f3f5f6,#acd2e5,#93c6de,#c2ddec,#f7f5f4,#fcd3bc,#f9c6ac,#fcdfcf,#f5f6f7,#dae9f2,#d4e6f1,#e1edf3,#f7f5f4,#fae8de,#fbe6da,#f9ede5,#f7f7f7,#eaf1f5,#e9f0f4,#eff3f5,#f7f7f7,#f8f1ed,#f9f0eb,#f8f3f0,#f7f7f7,#f2f5f6,#f2f5f6,#f3f5f6,#f7f7f7,#f8f4f2,#f8f4f2,#f7f5f4,#f7f7f7,#f5f6f7,#f5f6f7,#f7f7f7,#f7f7f7,#f7f5f4,#f7f5f4,#f7f7f7 652px)"></i>
<i style="left:360px;background:linear-gradient(#f7f7f7 180px,#f5f6f7,#f7f7f7,#f7f7f7,#f7f7f7,#f7f5f4,#f7f5f4,#f7f7f7,#f5f6f7,#f3f5f6,#f3f5f6,#f7f7f7,#f7f5f4,#f8f3f0,#f8f3f0,#f7f7f7,#f3f5f6,#eff3f5,#f0f4f6,#f7f7f7,#f8f2ef,#f9eee7,#f9efe9,#f7f7f7,#ecf2f5,#e3edf3,#e6eff4,#f5f6f7,#faeae1,#fce0d0,#fbe4d6,#f7f5f4,#dbeaf2,#c2ddec,#cfe4ef,#f3f5f6,#fcd7c2,#f6af8e,#f9c2a7,#f8f4f2,#acd2e5,#68abd0,#90c4dd,#f2f5f6,#f09c7b,#cb4942,#e37e64,#f8f3f0,#5ca3cb,#1d5fa2,#3f8ec0,#f3f5f6,#ce4f45,#760521,#c2383a,#f7f5f4,#2f79b5,#053061,#2a71b2,#f7f7f7,#ba2832,#67001f,#bd2d35,#f5f6f7,#2b73b3,#053061,#3480b9,#f8f4f2,#c84440,#8a0b25,#d6604d,#f2f5f6,#4c99c6,#2870b1,#6eaed2,#f8f3f0,#ea8e70,#d7634f,#f5ac8b,#f2f5f6,#a0cce2,#84bcd9,#bbdaea,#f8f4f2,#fbccb4,#f8bda1,#fdddcb,#f3f5f6,#d7e8f1,#cfe4ef,#e0ecf3,#f7f5f4,#fae7dc,#fbe5d8,#f9ede5,#f5f6f7,#e9f0f4,#e7f0f4,#edf2f5,#f7f7f7,#f8f1ed,#f9f0eb,#f8f3f0,#f7f7f7,#f2f5f6,#f0f4f6,#f3f5f6,#f7f7f7,#f8f4f2,#f8f4f2,#f7f5f4,#f7f7f7,#f5f6f7,#f5f6f7,#f5f6f7,#f7f7f7,#f7f5f4,#f7f5f4,#f7f7f7 652px)"></i>
<i style="left:365px;background:linear-gradient(#f7f7f7 180px,#f5f6f7,#f7f7f7,#f7f7f7,#f7f7f7,#f7f5f4,#f7f5f4,#f7f7f7,#f5f6f7,#f3f5f6,#f3f5f6,#f7f7f7,#f8f4f2,#f8f3f0,#f8f3f0,#f7f7f7,#f2f5f6,#eff3f5,#f0f4f6,#f7f7f7,#f8f1ed,#f9ede5,#f9efe9,#f7f7f7,#eaf1f5,#e1edf3,#e4eef4,#f5f6f7,#fae8de,#fcdecd,#fbe3d4,#f7f5f4,#d8e9f1,#bbdaea,#cae1ee,#f3f5f6,#fbd0b9,#f4a683,#f8bb9e,#f8f4f2,#a2cde3,#569fc9,#84bcd9,#f3f5f6,#ea8e70,#bf3338,#dd7059,#f7f5f4,#4695c4,#134c87,#3783bb,#f7f7f7,#c2383a,#67001f,#ba2832,#f7f7f7,#2267ac,#053061,#2065ab,#f7f5f4,#a51429,#67001f,#b3192c,#f2f5f6,#1f63a8,#053061,#2b73b3,#f8f2ef,#bd2d35,#6d0220,#cf5246,#eff3f5,#3c8abe,#1e61a5,#62a7ce,#f8f1ed,#e37e64,#cf5246,#f4a683,#f0f4f6,#96c7df,#75b2d4,#b6d7e8,#f8f3f0,#f9c6ac,#f7b799,#fddcc9,#f3f5f6,#d2e6f0,#cae1ee,#deebf2,#f8f4f2,#fbe6da,#fbe3d4,#f9ebe3,#f5f6f7,#e7f0f4,#e6eff4,#edf2f5,#f7f5f4,#f9f0eb,#f9efe9,#f8f2ef,#f7f7f7,#f0f4f6,#f0f4f6,#f3f5f6,#f7f7f7,#f8f4f2,#f8f3f0,#f7f5f4,#f7f7f7,#f5f6f7,#f3f5f6,#f5f6f7,#f7f7f7,#f7f5f4,#f7f5f4,#f7f7f7 652px)"></i>
<i style="left:370px;background:linear-gradient(#f7f7f7 180px,#f5f6f7,#f5f6f7,#f7f7f7,#f7f5f4,#f7f5f4,#f7f5f4,#f7f7f7,#f5f6f7,#f3f5f6,#f3f5f6,#f7f7f7,#f8f4f2,#f8f2ef,#f8f3f0,#f7f7f7,#f2f5f6,#edf2f5,#eff3f5,#f7f7f7,#f8f1ed,#f9ede5,#f9eee7,#f7f7f7,#e9f0f4,#e0ecf3,#e4eef4,#f5f6f7,#fae7dc,#fddcc9,#fce0d0,#f7f5f4,#d5e7f1,#b6d7e8,#c7e0ed,#f5f6f7,#facab1,#f09c7b,#f7b596,#f7f5f4,#98c8e0,#4695c4,#7bb6d6,#f5f6f7,#e37e64,#b61f2e,#d7634f,#f7f7f7,#3b88be,#09386d,#307ab6,#f7f7f7,#b72230,#67001f,#b1182b,#f3f5f6,#185493,#053061,#1a5899,#f8f2ef,#8a0b25,#67001f,#a21328,#eff3f5,#15508d,#053061,#246aae,#f9f0eb,#ae172a,#67001f,#c84440,#ecf2f5,#337eb8,#15508d,#569fc9,#f9f0eb,#dc6e57,#c6413e,#f19e7d,#eff3f5,#8ac0db,#68abd0,#b1d5e7,#f8f2ef,#f8bfa4,#f6b191,#fdd9c4,#f2f5f6,#cfe4ef,#c5dfec,#ddebf2,#f8f4f2,#fbe4d6,#fce2d2,#f9ebe3,#f5f6f7,#e6eff4,#e4eef4,#edf2f5,#f7f5f4,#f9efe9,#f9efe9,#f8f2ef,#f7f7f7,#f0f4f6,#eff3f5,#f3f5f6,#f7f7f7,#f8f4f2,#f8f3f0,#f7f5f4,#f7f7f7,#f3f5f6,#f3f5f6,#f5f6f7,#f7f7f7,#f7f5f4,#f7f5f4,#f7f7f7 652px)"></i>
<i style="left:375px;background:linear-gradient(#f7f7f7 180px,#f5f6f7,#f5f6f7,#f7f7f7,#f7f5f4,#f7f5f4,#f7f5f4,#f7f7f7,#f5f6f7,#f3f5f6,#f3f5f6,#f7f7f7,#f8f4f2,#f8f2ef,#f8f3f0,#f7f7f7,#f2f5f6,#edf2f5,#eff3f5,#f7f7f7,#f9f0eb,#f9ebe3,#f9eee7,#f7f7f7,#e9f0f4,#deebf2,#e3edf3,#f7f7f7,#fbe6da,#fddbc7,#fcdfcf,#f7f5f4,#d2e6f0,#aed3e6,#c2ddec,#f5f6f7,#f9c4a9,#ec9374,#f6b191,#f7f7f7,#8dc2dc,#3e8cbf,#71b0d3,#f7f7f7,#dd7059,#a51429,#d25849,#f7f7f7,#327cb7,#053061,#2a71b2,#f8f4f2,#a51429,#67001f,#9f1228,#f0f4f6,#0e4179,#053061,#134c87,#f9f0eb,#700320,#67001f,#900d26,#eaf1f5,#0c3d73,#053061,#1d5fa2,#f9eee7,#960f27,#67001f,#c2383a,#e9f0f4,#2a71b2,#0e4179,#4c99c6,#f9eee7,#d6604d,#be3036,#ee9677,#ecf2f5,#7eb8d7,#59a1ca,#acd2e5,#f8f1ed,#f7b99c,#f5aa89,#fcd7c2,#f0f4f6,#cae1ee,#c0dceb,#dbeaf2,#f8f3f0,#fbe3d4,#fce0d0,#faeae1,#f3f5f6,#e6eff4,#e3edf3,#ecf2f5,#f7f5f4,#f9efe9,#f9eee7,#f8f2ef,#f7f7f7,#f0f4f6,#eff3f5,#f3f5f6,#f7f7f7,#f8f3f0,#f8f3f0,#f7f5f4,#f7f7f7,#f3f5f6,#f3f5f6,#f5f6f7,#f7f7f7,#f7f5f4,#f7f5f4,#f7f7f7,#f7f7f7,#f7f7f7,#f5f6f7,#f7f7f7 668px)"></i>
<i style="left:380px;background:linear-gradient(#f7f7f7 180px,#f5f6f7,#f5f6f7,#f7f7f7,#f7f5f4,#f8f4f2,#f7f5f4,#f7f7f7,#f5f6f7,#f2f5f6,#f3f5f6,#f7f7f7,#f8f4f2,#f8f2ef,#f8f3f0,#f7f7f7,#f0f4f6,#ecf2f5,#eff3f5,#f7f7f7,#f9f0eb,#faeae1,#f9ede5,#f7f7f7,#e7f0f4,#ddebf2,#e1edf3,#f7f7f7,#fbe5d8,#fcd7c2,#fcdecd,#f7f7f7,#cfe4ef,#a9d1e5,#bddbea,#f7f7f7,#f8bda1,#e8896c,#f5ac8b,#f7f7f7,#84bcd9,#3783bb,#68abd0,#f7f7f7,#d7634f,#930e26,#cc4c44,#f3f5f6,#2a71b2,#053061,#2369ad,#f8f2ef,#8d0c25,#67001f,#900d26,#edf2f5,#053061,#053061,#0e4179,#f9eee7,#67001f,#67001f,#810823,#e7f0f4,#053061,#053061,#195696,#faeae1,#810823,#67001f,#bd2d35,#e6eff4,#2267ac,#063264,#4291c2,#f9ebe3,#cf5246,#b72230,#eb9172,#eaf1f5,#71b0d3,#4f9bc7,#a7d0e4,#f9f0eb,#f6b394,#f4a683,#fcd5bf,#eff3f5,#c5dfec,#bbdaea,#dbeaf2,#f8f3f0,#fce2d2,#fcdfcf,#faeae1,#f3f5f6,#e4eef4,#e3edf3,#ecf2f5,#f7f5f4,#f9eee7,#f9eee7,#f8f2ef,#f5f6f7,#eff3f5,#eff3f5,#f3f5f6,#f7f7f7,#f8f3f0,#f8f3f0,#f7f5f4,#f7f7f7,#f3f5f6,#f3f5f6,#f5f6f7,#f7f7f7,#f7f5f4,#f7f5f4,#f7f7f7,#f7f7f7,#f5f6f7,#f5f6f7,#f7f7f7 668px)"></i>
<i style="left:385px;background:linear-gradient(#f7f7f7 180px,#f5f6f7,#f5f6f7,#f7f7f7,#f7f5f4,#f8f4f2,#f7f5f4,#f7f7f7,#f5f6f7,#f2f5f6,#f3f5f6,#f7f7f7,#f8f4f2,#f8f2ef,#f8f2ef,#f7f7f7,#f0f4f6,#ecf2f5,#edf2f5,#f7f7f7,#f9efe9,#faeae1,#f9ede5,#f7f7f7,#e6eff4,#dbeaf2,#e1edf3,#f7f7f7,#fbe4d6,#fcd5bf,#fdddcb,#f7f7f7,#cce2ef,#a5cee3,#bbdaea,#f7f7f7,#f7b99c,#e48066,#f5a886,#f7f7f7,#78b4d5,#327cb7,#5fa5cd,#f7f5f4,#d05548,#810823,#c84440,#f2f5f6,#2267ac,#053061,#1e61a5,#f9f0eb,#790622,#67001f,#840924,#eaf1f5,#053061,#053061,#08366a,#faeae1,#67001f,#67001f,#760521,#e4eef4,#053061,#053061,#144e8a,#fae8de,#6d0220,#67001f,#b72230,#e3edf3,#1b5a9c,#053061,#3f8ec0,#faeae1,#c84440,#ae172a,#e98b6e,#e9f0f4,#65a9cf,#4393c3,#a5cee3,#f9efe9,#f6af8e,#f19e7d,#fcd3bc,#eff3f5,#c2ddec,#b8d8e9,#dae9f2,#f8f2ef,#fce0d0,#fcdecd,#fae9df,#f3f5f6,#e3edf3,#e1edf3,#ecf2f5,#f7f5f4,#f9eee7,#f9ede5,#f8f2ef,#f5f6f7,#eff3f5,#eff3f5,#f2f5f6,#f7f7f7,#f8f3f0,#f8f3f0,#f7f5f4,#f7f7f7,#f3f5f6,#f3f5f6,#f5f6f7,#f7f7f7,#f7f5f4,#f7f5f4,#f7f7f7,#f7f7f7,#f5f6f7,#f5f6f7,#f7f7f7 668px)"></i>
<i style="left:390px;background:linear-gradient(#f7f7f7 164px,#f7f5f4,#f7f7f7,#f7f7f7,#f7f7f7,#f5f6f7,#f5f6f7,#f7f7f7,#f7f5f4,#f8f4f2,#f7f5f4,#f7f7f7,#f3f5f6,#f2f5f6,#f3f5f6,#f7f7f7,#f8f3f0,#f8f1ed,#f8f2ef,#f7f7f7,#f0f4f6,#ecf2f5,#edf2f5,#f7f7f7,#f9efe9,#fae9df,#f9ede5,#f7f7f7,#e6eff4,#dae9f2,#e0ecf3,#f7f7f7,#fbe3d4,#fbd0b9,#fdddcb,#f7f7f7,#c7e0ed,#a0cce2,#b8d8e9,#f7f7f7,#f7b596,#e17860,#f4a683,#f5f6f7,#6eaed2,#2c75b4,#59a1ca,#f8f4f2,#cc4c44,#760521,#c53e3d,#eff3f5,#1c5c9f,#053061,#1b5a9c,#f9efe9,#6a011f,#67001f,#7c0722,#e7f0f4,#053061,#053061,#053061,#fae8de,#67001f,#67001f,#6a011f,#e0ecf3,#053061,#053061,#114781,#fbe6da,#67001f,#67001f,#b3192c,#e0ecf3,#15508d,#053061,#3c8abe,#fae8de,#c2383a,#a21328,#e6866a,#e6eff4,#5ca3cb,#3f8ec0,#a2cde3,#f9eee7,#f5aa89,#ef9979,#fbd0b9,#edf2f5,#bddbea,#b6d7e8,#dae9f2,#f8f2ef,#fcdfcf,#fdddcb,#fae9df,#f2f5f6,#e3edf3,#e0ecf3,#ecf2f5,#f8f4f2,#f9eee7,#f9ede5,#f8f2ef,#f5f6f7,#eff3f5,#edf2f5,#f2f5f6,#f7f7f7,#f8f3f0,#f8f2ef,#f8f4f2,#f7f7f7,#f3f5f6,#f3f5f6,#f5f6f7,#f7f7f7,#f7f5f4,#f7f5f4,#f7f7f7,#f7f7f7,#f5f6f7,#f5f6f7,#f7f7f7 668px)"></i>
<i style="left:395px;background:linear-gradient(#f7f7f7 164px,#f7f5f4,#f7f7f7,#f7f7f7,#f7f7f7,#f5f6f7,#f5f6f7,#f7f7f7,#f7f5f4,#f8f4f2,#f7f5f4,#f7f7f7,#f3f5f6,#f2f5f6,#f3f5f6,#f7f7f7,#f8f3f0,#f8f1ed,#f8f2ef,#f7f7f7,#f0f4f6,#ecf2f5,#edf2f5,#f7f7f7,#f9efe9,#fae9df,#f9ebe3,#f7f7f7,#e4eef4,#dae9f2,#e0ecf3,#f7f7f7,#fce2d2,#fbd0b9,#fddcc9,#f7f7f7,#c5dfec,#9bc9e0,#b6d7e8,#f7f7f7,#f6b191,#de735c,#f2a17f,#f3f5f6,#68abd0,#2870b1,#569fc9,#f8f3f0,#c6413e,#6a011f,#c2383a,#edf2f5,#185493,#053061,#195696,#f9ede5,#67001f,#67001f,#730421,#e4eef4,#053061,#053061,#053061,#fbe6da,#67001f,#67001f,#67001f,#ddebf2,#053061,#053061,#0e4179,#fbe4d6,#67001f,#67001f,#ae172a,#deebf2,#114781,#053061,#3a87bd,#fae7dc,#be3036,#991027,#e58368,#e4eef4,#569fc9,#3c8abe,#a0cce2,#f9ede5,#f4a683,#ee9677,#fbceb7,#edf2f5,#bbdaea,#b3d6e8,#d8e9f1,#f8f2ef,#fcdecd,#fddcc9,#fae9df,#f2f5f6,#e1edf3,#e0ecf3,#eaf1f5,#f8f4f2,#f9ede5,#f9ede5,#f8f1ed,#f5f6f7,#eff3f5,#edf2f5,#f2f5f6,#f7f5f4,#f8f3f0,#f8f2ef,#f8f4f2,#f7f7f7,#f3f5f6,#f3f5f6,#f5f6f7,#f7f7f7,#f7f5f4,#f7f5f4,#f7f7f7,#f7f7f7,#f5f6f7,#f5f6f7,#f7f7f7 668px)"></i>
<i style="left:400px;background:linear-gradient(#f7f7f7 164px,#f7f5f4,#f7f7f7,#f7f7f7,#f7f7f7,#f5f6f7,#f5f6f7,#f7f7f7,#f7f5f4,#f8f4f2,#f7f5f4,#f7f7f7,#f3f5f6,#f2f5f6,#f3f5f6,#f7f7f7,#f8f3f0,#f8f1ed,#f8f2ef,#f7f7f7,#eff3f5,#eaf1f5,#edf2f5,#f7f7f7,#f9efe9,#fae9df,#f9ebe3,#f7f7f7,#e4eef4,#d8e9f1,#deebf2,#f7f7f7,#fce0d0,#fbceb7,#fddcc9,#f7f7f7,#c2ddec,#98c8e0,#b6d7e8,#f7f5f4,#f6af8e,#dd7059,#f2a17f,#f3f5f6,#62a7ce,#266caf,#529dc8,#f8f2ef,#c43b3c,#67001f,#bf3338,#ecf2f5,#144e8a,#053061,#175290,#f9ebe3,#67001f,#67001f,#6d0220,#e1edf3,#053061,#053061,#053061,#fbe4d6,#67001f,#67001f,#67001f,#dbeaf2,#053061,#053061,#0d3f76,#fce2d2,#67001f,#67001f,#ab162a,#dbeaf2,#0e4179,#053061,#3885bc,#fbe5d8,#ba2832,#930e26,#e48066,#e3edf3,#4f9bc7,#3a87bd,#9dcbe1,#f9ebe3,#f3a481,#eb9172,#fbceb7,#ecf2f5,#b8d8e9,#b1d5e7,#d8e9f1,#f8f1ed,#fdddcb,#fddcc9,#fae8de,#f2f5f6,#e1edf3,#e0ecf3,#eaf1f5,#f8f4f2,#f9ede5,#f9ebe3,#f8f1ed,#f5f6f7,#edf2f5,#edf2f5,#f2f5f6,#f7f5f4,#f8f2ef,#f8f2ef,#f8f4f2,#f7f7f7,#f3f5f6,#f3f5f6,#f5f6f7,#f7f7f7,#f7f5f4,#f7f5f4,#f7f7f7,#f7f7f7,#f5f6f7,#f5f6f7,#f7f7f7 668px)"></i>
<i style="left:405px;background:linear-gradient(#f7f7f7 164px,#f7f5f4,#f7f7f7,#f7f7f7,#f7f7f7,#f5f6f7,#f5f6f7,#f7f7f7,#f7f5f4,#f8f4f2,#f7f5f4,#f7f7f7,#f3f5f6,#f2f5f6,#f3f5f6,#f7f7f7,#f8f3f0,#f8f1ed,#f8f2ef,#f7f7f7,#eff3f5,#eaf1f5,#edf2f5,#f7f7f7,#f9eee7,#fae8de,#f9ebe3,#f7f7f7,#e4eef4,#d8e9f1,#deebf2,#f7f7f7,#fce0d0,#fbccb4,#fddcc9,#f7f7f7,#c2ddec,#96c7df,#b3d6e8,#f7f5f4,#f5ac8b,#dc6e57,#f19e7d,#f2f5f6,#5ca3cb,#246aae,#4f9bc7,#f8f1ed,#c13639,#67001f,#bf3338,#eaf1f5,#114781,#053061,#175290,#fae9df,#67001f,#67001f,#6a011f,#e0ecf3,#053061,#053061,#053061,#fbe3d4,#67001f,#67001f,#67001f,#d8e9f1,#053061,#053061,#0c3d73,#fce0d0,#67001f,#67001f,#ab162a,#dae9f2,#0a3b70,#053061,#3783bb,#fbe4d6,#b82531,#8d0c25,#e48066,#e1edf3,#4c99c6,#3885bc,#9dcbe1,#f9ebe3,#f2a17f,#eb9172,#fbceb7,#ecf2f5,#b8d8e9,#aed3e6,#d8e9f1,#f8f1ed,#fdddcb,#fddbc7,#fae8de,#f2f5f6,#e0ecf3,#deebf2,#eaf1f5,#f8f4f2,#f9ede5,#f9ebe3,#f8f1ed,#f5f6f7,#edf2f5,#edf2f5,#f2f5f6,#f7f5f4,#f8f2ef,#f8f2ef,#f8f4f2,#f7f7f7,#f3f5f6,#f3f5f6,#f5f6f7,#f7f7f7,#f7f5f4,#f7f5f4,#f7f7f7,#f7f7f7,#f5f6f7,#f5f6f7,#f7f7f7 668px)"></i>
<i style="left:410px;background:linear-gradient(#f7f7f7 164px,#f7f5f4,#f7f7f7,#f7f7f7,#f7f7f7,#f5f6f7,#f5f6f7,#f7f7f7,#f7f5f4,#f8f4f2,#f7f5f4,#f7f7f7,#f3f5f6,#f2f5f6,#f3f5f6,#f7f7f7,#f8f3f0,#f8f1ed,#f8f2ef,#f7f7f7,#eff3f5,#eaf1f5,#edf2f5,#f7f7f7,#f9eee7,#fae8de,#f9ebe3,#f7f7f7,#e3edf3,#d8e9f1,#deebf2,#f7f7f7,#fce0d0,#fbccb4,#fddbc7,#f7f7f7,#c0dceb,#96c7df,#b3d6e8,#f8f4f2,#f5aa89,#db6b55,#f19e7d,#f2f5f6,#5ca3cb,#2369ad,#4f9bc7,#f9f0eb,#bf3338,#67001f,#bf3338,#e9f0f4,#10457e,#053061,#175290,#fae8de,#67001f,#67001f,#6a011f,#deebf2,#053061,#053061,#053061,#fce2d2,#67001f,#67001f,#67001f,#d7e8f1,#053061,#053061,#0c3d73,#fcdfcf,#67001f,#67001f,#ab162a,#d8e9f1,#09386d,#053061,#3885bc,#fbe4d6,#b72230,#8d0c25,#e48066,#e1edf3,#4997c5,#3885bc,#9dcbe1,#faeae1,#f19e7d,#ea8e70,#fbceb7,#eaf1f5,#b6d7e8,#aed3e6,#d8e9f1,#f8f1ed,#fdddcb,#fddbc7,#fae8de,#f2f5f6,#e0ecf3,#deebf2,#eaf1f5,#f8f4f2,#f9ede5,#f9ebe3,#f8f1ed,#f5f6f7,#edf2f5,#edf2f5,#f2f5f6,#f7f5f4,#f8f2ef,#f8f2ef,#f8f4f2,#f7f7f7,#f3f5f6,#f3f5f6,#f5f6f7,#f7f7f7,#f7f5f4,#f7f5f4,#f7f7f7,#f7f7f7,#f5f6f7,#f5f6f7,#f7f7f7 668px)"></i>
<i style="left:415px;background:linear-gradient(#f7f7f7 164px,#f7f5f4,#f7f7f7,#f7f7f7,#f7f7f7,#f5f6f7,#f5f6f7,#f7f7f7,#f7f5f4,#f8f4f2,#f7f5f4,#f7f7f7,#f3f5f6,#f2f5f6,#f3f5f6,#f7f7f7,#f8f3f0,#f8f1ed,#f8f2ef,#f7f7f7,#eff3f5,#eaf1f5,#edf2f5,#f7f7f7,#f9eee7,#fae8de,#f9ebe3,#f7f7f7,#e3edf3,#d8e9f1,#deebf2,#f7f7f7,#fce0d0,#fbccb4,#fddbc7,#f7f7f7,#c0dceb,#96c7df,#b3d6e8,#f8f4f2,#f5aa89,#db6b55,#f19e7d,#f2f5f6,#5ca3cb,#2369ad,#4f9bc7,#f9f0eb,#bf3338,#67001f,#bf3338,#e9f0f4,#10457e,#053061,#175290,#fae8de,#67001f,#67001f,#6a011f,#deebf2,#053061,#053061,#053061,#fce2d2,#67001f,#67001f,#67001f,#d7e8f1,#053061,#053061,#0c3d73,#fcdfcf,#67001f,#67001f,#ab162a,#d8e9f1,#09386d,#053061,#3885bc,#fbe4d6,#b72230,#8d0c25,#e48066,#e1edf3,#4997c5,#3885bc,#9dcbe1,#faeae1,#f19e7d,#ea8e70,#fbceb7,#eaf1f5,#b6d7e8,#aed3e6,#d8e9f1,#f8f1ed,#fdddcb,#fddbc7,#fae8de,#f2f5f6,#e0ecf3,#deebf2,#eaf1f5,#f8f4f2,#f9ede5,#f9ebe3,#f8f1ed,#f5f6f7,#edf2f5,#edf2f5,#f2f5f6,#f7f5f4,#f8f2ef,#f8f2ef,#f8f4f2,#f7f7f7,#f3f5f6,#f3f5f6,#f5f6f7,#f7f7f7,#f7f5f4,#f7f5f4,#f7f7f7,#f7f7f7,#f5f6f7,#f5f6f7,#f7f7f7 668px)"></i>
<i style="left:420px;background:linear-gradient(#f7f7f7 164px,#f7f5f4,#f7f7f7,#f7f7f7,#f7f7f7,#f5f6f7,#f5f6f7,#f7f7f7,#f7f5f4,#f8f4f2,#f7f5f4,#f7f7f7,#f3f5f6,#f2f5f6,#f3f5f6,#f7f7f7,#f8f3f0,#f8f1ed,#f8f2ef,#f7f7f7,#eff3f5,#eaf1f5,#edf2f5,#f7f7f7,#f9eee7,#fae8de,#f9ebe3,#f7f7f7,#e4eef4,#d8e9f1,#deebf2,#f7f7f7,#fce0d0,#fbccb4,#fddcc9,#f7f7f7,#c2ddec,#98c8e0,#b3d6e8,#f7f5f4,#f5ac8b,#dc6e57,#f19e7d,#f2f5f6,#5fa5cd,#246aae,#4f9bc7,#f8f1ed,#c13639,#67001f,#bf3338,#eaf1f5,#114781,#053061,#175290,#fae9df,#67001f,#67001f,#6a011f,#e0ecf3,#053061,#053061,#053061,#fbe3d4,#67001f,#67001f,#67001f,#d8e9f1,#053061,#053061,#0c3d73,#fce0d0,#67001f,#67001f,#ab162a,#dae9f2,#0a3b70,#053061,#3783bb,#fbe4d6,#b82531,#8d0c25,#e48066,#e3edf3,#4c99c6,#3885bc,#9dcbe1,#f9ebe3,#f2a17f,#eb9172,#fbceb7,#ecf2f5,#b8d8e9,#aed3e6,#d8e9f1,#f8f1ed,#fdddcb,#fddbc7,#fae8de,#f2f5f6,#e0ecf3,#deebf2,#eaf1f5,#f8f4f2,#f9ede5,#f9ebe3,#f8f1ed,#f5f6f7,#edf2f5,#edf2f5,#f2f5f6,#f7f5f4,#f8f2ef,#f8f2ef,#f8f4f2,#f7f7f7,#f3f5f6,#f3f5f6,#f5f6f7,#f7f7f7,#f7f5f4,#f7f5f4,#f7f7f7,#f7f7f7,#f5f6f7,#f5f6f7,#f7f7f7 668px)"></i>
<i style="left:425px;background:linear-gradient(#f7f7f7 164px,#f7f5f4,#f7f7f7,#f7f7f7,#f7f7f7,#f5f6f7,#f5f6f7,#f7f7f7,#f7f5f4,#f8f4f2,#f7f5f4,#f7f7f7,#f3f5f6,#f2f5f6,#f3f5f6,#f7f7f7,#f8f3f0,#f8f1ed,#f8f2ef,#f7f7f7,#eff3f5,#eaf1f5,#edf2f5,#f7f7f7,#f9efe9,#fae9df,#f9ebe3,#f7f7f7,#e4eef4,#d8e9f1,#deebf2,#f7f7f7,#fce0d0,#fbceb7,#fddcc9,#f7f7f7,#c2ddec,#98c8e0,#b6d7e8,#f7f5f4,#f6af8e,#dd7059,#f2a17f,#f3f5f6,#62a7ce,#266caf,#529dc8,#f8f2ef,#c43b3c,#67001f,#bf3338,#ecf2f5,#144e8a,#053061,#185493,#f9ebe3,#67001f,#67001f,#6d0220,#e1edf3,#053061,#053061,#053061,#fbe4d6,#67001f,#67001f,#67001f,#dbeaf2,#053061,#053061,#0d3f76,#fce2d2,#67001f,#67001f,#ab162a,#dbeaf2,#0e4179,#053061,#3885bc,#fbe5d8,#ba2832,#930e26,#e48066,#e3edf3,#4f9bc7,#3a87bd,#9dcbe1,#f9ebe3,#f3a481,#ec9374,#fbceb7,#ecf2f5,#b8d8e9,#b1d5e7,#d8e9f1,#f8f1ed,#fdddcb,#fddcc9,#fae8de,#f2f5f6,#e1edf3,#e0ecf3,#eaf1f5,#f8f4f2,#f9ede5,#f9ebe3,#f8f1ed,#f5f6f7,#edf2f5,#edf2f5,#f2f5f6,#f7f5f4,#f8f3f0,#f8f2ef,#f8f4f2,#f7f7f7,#f3f5f6,#f3f5f6,#f5f6f7,#f7f7f7,#f7f5f4,#f7f5f4,#f7f7f7,#f7f7f7,#f5f6f7,#f5f6f7,#f7f7f7 668px)"></i>
<i style="left:430px;background:linear-gradient(#f7f7f7 164px,#f7f5f4,#f7f7f7,#f7f7f7,#f7f7f7,#f5f6f7,#f5f6f7,#f7f7f7,#f7f5f4,#f8f4f2,#f7f5f4,#f7f7f7,#f3f5f6,#f2f5f6,#f3f5f6,#f7f7f7,#f8f3f0,#f8f1ed,#f8f2ef,#f7f7f7,#f0f4f6,#ecf2f5,#edf2f5,#f7f7f7,#f9efe9,#fae9df,#f9ebe3,#f7f7f7,#e4eef4,#dae9f2,#e0ecf3,#f7f7f7,#fce2d2,#fbd0b9,#fddcc9,#f7f7f7,#c5dfec,#9bc9e0,#b6d7e8,#f7f7f7,#f6b191,#de735c,#f2a17f,#f3f5f6,#68abd0,#2870b1,#569fc9,#f8f3f0,#c6413e,#6a011f,#c2383a,#edf2f5,#185493,#053061,#195696,#f9ede5,#67001f,#67001f,#730421,#e4eef4,#053061,#053061,#053061,#fbe6da,#67001f,#67001f,#67001f,#deebf2,#053061,#053061,#0e4179,#fbe4d6,#67001f,#67001f,#b1182b,#deebf2,#114781,#053061,#3a87bd,#fae7dc,#be3036,#991027,#e58368,#e4eef4,#569fc9,#3c8abe,#a0cce2,#f9ede5,#f4a683,#ee9677,#fbceb7,#edf2f5,#bbdaea,#b3d6e8,#d8e9f1,#f8f2ef,#fcdecd,#fddcc9,#fae9df,#f2f5f6,#e1edf3,#e0ecf3,#eaf1f5,#f8f4f2,#f9ede5,#f9ede5,#f8f1ed,#f5f6f7,#eff3f5,#edf2f5,#f2f5f6,#f7f5f4,#f8f3f0,#f8f2ef,#f8f4f2,#f7f7f7,#f3f5f6,#f3f5f6,#f5f6f7,#f7f7f7,#f7f5f4,#f7f5f4,#f7f7f7,#f7f7f7,#f5f6f7,#f5f6f7,#f7f7f7 668px)"></i>
<i style="left:435px;background:linear-gradient(#f7f7f7 164px,#f7f5f4,#f7f7f7,#f7f7f7,#f7f7f7,#f5f6f7,#f5f6f7,#f7f7f7,#f7f5f4,#f8f4f2,#f7f5f4,#f7f7f7,#f5f6f7,#f2f5f6,#f3f5f6,#f7f7f7,#f8f3f0,#f8f1ed,#f8f2ef,#f7f7f7,#f0f4f6,#ecf2f5,#edf2f5,#f7f7f7,#f9efe9,#fae9df,#f9ede5,#f7f7f7,#e6eff4,#dae9f2,#e0ecf3,#f7f7f7,#fbe3d4,#fcd3bc,#fdddcb,#f7f7f7,#c7e0ed,#a0cce2,#b8d8e9,#f7f7f7,#f7b596,#e27b62,#f4a683,#f5f6f7,#6eaed2,#2c75b4,#59a1ca,#f8f4f2,#cc4c44,#760521,#c53e3d,#eff3f5,#1c5c9f,#053061,#1c5c9f,#f9efe9,#6a011f,#67001f,#7c0722,#e7f0f4,#053061,#053061,#053061,#fae8de,#67001f,#67001f,#6a011f,#e1edf3,#053061,#053061,#114781,#fbe6da,#67001f,#67001f,#b41c2d,#e1edf3,#15508d,#053061,#3c8abe,#fae8de,#c2383a,#a21328,#e6866a,#e6eff4,#5ca3cb,#3f8ec0,#a2cde3,#f9eee7,#f5aa89,#ef9979,#fbd0b9,#edf2f5,#bddbea,#b6d7e8,#dae9f2,#f8f2ef,#fcdfcf,#fdddcb,#fae9df,#f2f5f6,#e3edf3,#e0ecf3,#ecf2f5,#f8f4f2,#f9eee7,#f9ede5,#f8f2ef,#f5f6f7,#eff3f5,#edf2f5,#f2f5f6,#f7f7f7,#f8f3f0,#f8f2ef,#f8f4f2,#f7f7f7,#f3f5f6,#f3f5f6,#f5f6f7,#f7f7f7,#f7f5f4,#f7f5f4,#f7f7f7,#f7f7f7,#f5f6f7,#f5f6f7,#f7f7f7 668px)"></i>
<i style="left:440px;background:linear-gradient(#f7f7f7 180px,#f5f6f7,#f5f6f7,#f7f7f7,#f7f5f4,#f8f4f2,#f7f5f4,#f7f7f7,#f5f6f7,#f2f5f6,#f3f5f6,#f7f7f7,#f8f4f2,#f8f2ef,#f8f3f0,#f7f7f7,#f0f4f6,#ecf2f5,#edf2f5,#f7f7f7,#f9efe9,#faeae1,#f9ede5,#f7f7f7,#e6eff4,#dbeaf2,#e1edf3,#f7f7f7,#fbe4d6,#fcd5bf,#fdddcb,#f7f7f7,#cce2ef,#a5cee3,#bbdaea,#f7f7f7,#f7b99c,#e48066,#f5a886,#f7f7f7,#78b4d5,#327cb7,#5fa5cd,#f7f5f4,#d25849,#840924,#c84440,#f2f5f6,#2267ac,#053061,#1f63a8,#f9f0eb,#7c0722,#67001f,#840924,#eaf1f5,#053061,#053061,#08366a,#f9ebe3,#67001f,#67001f,#760521,#e4eef4,#053061,#053061,#144e8a,#fae8de,#6d0220,#67001f,#b72230,#e3edf3,#1b5a9c,#053061,#3f8ec0,#faeae1,#c84440,#ae172a,#e98b6e,#e9f0f4,#65a9cf,#4393c3,#a5cee3,#f9efe9,#f6af8e,#f19e7d,#fcd3bc,#eff3f5,#c2ddec,#b8d8e9,#dae9f2,#f8f2ef,#fce0d0,#fcdecd,#fae9df,#f3f5f6,#e3edf3,#e1edf3,#ecf2f5,#f7f5f4,#f9eee7,#f9ede5,#f8f2ef,#f5f6f7,#eff3f5,#eff3f5,#f2f5f6,#f7f7f7,#f8f3f0,#f8f3f0,#f7f5f4,#f7f7f7,#f3f5f6,#f3f5f6,#f5f6f7,#f7f7f7,#f7f5f4,#f7f5f4,#f7f7f7,#f7f7f7,#f5f6f7,#f5f6f7,#f7f7f7 668px)"></i>
<i style="left:445px;background:linear-gradient(#f7f7f7 180px,#f5f6f7,#f5f6f7,#f7f7f7,#f7f5f4,#f8f4f2,#f7f5f4,#f7f7f7,#f5f6f7,#f2f5f6,#f3f5f6,#f7f7f7,#f8f4f2,#f8f2ef,#f8f3f0,#f7f7f7,#f0f4f6,#ecf2f5,#eff3f5,#f7f7f7,#f9f0eb,#faeae1,#f9ede5,#f7f7f7,#e7f0f4,#ddebf2,#e1edf3,#f7f7f7,#fbe5d8,#fcd7c2,#fcdecd,#f7f7f7,#cfe4ef,#a9d1e5,#bddbea,#f7f7f7,#f8bda1,#e8896c,#f5ac8b,#f7f7f7,#84bcd9,#3783bb,#68abd0,#f7f7f7,#d7634f,#930e26,#ce4f45,#f3f5f6,#2a71b2,#053061,#2369ad,#f8f2ef,#900d26,#67001f,#900d26,#edf2f5,#053061,#053061,#0e4179,#f9eee7,#67001f,#67001f,#810823,#e7f0f4,#053061,#053061,#195696,#faeae1,#810823,#67001f,#bd2d35,#e6eff4,#2267ac,#073467,#4393c3,#f9ebe3,#cf5246,#b72230,#eb9172,#eaf1f5,#71b0d3,#4f9bc7,#a7d0e4,#f9f0eb,#f7b596,#f4a683,#fcd5bf,#eff3f5,#c7e0ed,#bddbea,#dbeaf2,#f8f3f0,#fce2d2,#fcdfcf,#faeae1,#f3f5f6,#e4eef4,#e3edf3,#ecf2f5,#f7f5f4,#f9eee7,#f9eee7,#f8f2ef,#f5f6f7,#eff3f5,#eff3f5,#f3f5f6,#f7f7f7,#f8f3f0,#f8f3f0,#f7f5f4,#f7f7f7,#f3f5f6,#f3f5f6,#f5f6f7,#f7f7f7,#f7f5f4,#f7f5f4,#f7f7f7,#f7f7f7,#f5f6f7,#f5f6f7,#f7f7f7 668px)"></i>
<i style="left:450px;background:linear-gradient(#f7f7f7 180px,#f5f6f7,#f5f6f7,#f7f7f7,#f7f5f4,#f7f5f4,#f7f5f4,#f7f7f7,#f5f6f7,#f3f5f6,#f3f5f6,#f7f7f7,#f8f4f2,#f8f2ef,#f8f3f0,#f7f7f7,#f2f5f6,#edf2f5,#eff3f5,#f7f7f7,#f9f0eb,#f9ebe3,#f9eee7,#f7f7f7,#e9f0f4,#deebf2,#e3edf3,#f7f7f7,#fbe6da,#fddbc7,#fcdfcf,#f7f5f4,#d2e6f0,#aed3e6,#c2ddec,#f5f6f7,#f9c4a9,#ec9374,#f6b191,#f7f7f7,#8dc2dc,#3e8cbf,#71b0d3,#f7f7f7,#dd7059,#a51429,#d25849,#f7f7f7,#327cb7,#053061,#2a71b2,#f8f4f2,#a51429,#67001f,#9f1228,#f0f4f6,#0f437b,#053061,#134c87,#f9f0eb,#700320,#67001f,#900d26,#ecf2f5,#0c3d73,#053061,#1e61a5,#f9eee7,#960f27,#67001f,#c2383a,#eaf1f5,#2a71b2,#0e4179,#4c99c6,#f9eee7,#d6604d,#be3036,#ee9677,#ecf2f5,#7eb8d7,#5ca3cb,#acd2e5,#f8f1ed,#f7b99c,#f5aa89,#fcd7c2,#f0f4f6,#cae1ee,#c0dceb,#dbeaf2,#f8f3f0,#fbe3d4,#fce0d0,#faeae1,#f3f5f6,#e6eff4,#e3edf3,#ecf2f5,#f7f5f4,#f9efe9,#f9eee7,#f8f2ef,#f7f7f7,#f0f4f6,#eff3f5,#f3f5f6,#f7f7f7,#f8f3f0,#f8f3f0,#f7f5f4,#f7f7f7,#f3f5f6,#f3f5f6,#f5f6f7,#f7f7f7,#f7f5f4,#f7f5f4,#f7f7f7,#f7f7f7,#f7f7f7,#f5f6f7,#f7f7f7 668px)"></i>
<i style="left:455px;background:linear-gradient(#f7f7f7 180px,#f5f6f7,#f5f6f7,#f7f7f7,#f7f5f4,#f7f5f4,#f7f5f4,#f7f7f7,#f5f6f7,#f3f5f6,#f3f5f6,#f7f7f7,#f8f4f2,#f8f2ef,#f8f3f0,#f7f7f7,#f2f5f6,#edf2f5,#eff3f5,#f7f7f7,#f8f1ed,#f9ede5,#f9eee7,#f7f7f7,#e9f0f4,#e0ecf3,#e4eef4,#f5f6f7,#fae7dc,#fddcc9,#fce2d2,#f7f5f4,#d5e7f1,#b6d7e8,#c7e0ed,#f5f6f7,#facab1,#f09c7b,#f7b799,#f7f5f4,#98c8e0,#4695c4,#7bb6d6,#f5f6f7,#e37e64,#b61f2e,#d7634f,#f7f7f7,#3b88be,#0a3b70,#307ab6,#f7f7f7,#b72230,#67001f,#b1182b,#f3f5f6,#185493,#053061,#1a5899,#f8f2ef,#8a0b25,#67001f,#a21328,#eff3f5,#15508d,#053061,#246aae,#f9f0eb,#b1182b,#67001f,#c84440,#edf2f5,#337eb8,#175290,#569fc9,#f9f0eb,#dd7059,#c6413e,#f19e7d,#eff3f5,#8ac0db,#68abd0,#b1d5e7,#f8f2ef,#f8bfa4,#f6b191,#fdd9c4,#f2f5f6,#cfe4ef,#c5dfec,#ddebf2,#f8f4f2,#fbe4d6,#fce2d2,#f9ebe3,#f5f6f7,#e6eff4,#e4eef4,#edf2f5,#f7f5f4,#f9efe9,#f9efe9,#f8f2ef,#f7f7f7,#f0f4f6,#eff3f5,#f3f5f6,#f7f7f7,#f8f4f2,#f8f3f0,#f7f5f4,#f7f7f7,#f3f5f6,#f3f5f6,#f5f6f7,#f7f7f7,#f7f5f4,#f7f5f4,#f7f7f7 652px)"></i>
<i style="left:460px;background:linear-gradient(#f7f7f7 180px,#f5f6f7,#f7f7f7,#f7f7f7,#f7f7f7,#f7f5f4,#f7f5f4,#f7f7f7,#f5f6f7,#f3f5f6,#f3f5f6,#f7f7f7,#f8f4f2,#f8f3f0,#f8f3f0,#f7f7f7,#f2f5f6,#eff3f5,#f0f4f6,#f7f7f7,#f8f1ed,#f9ede5,#f9efe9,#f7f7f7,#eaf1f5,#e1edf3,#e4eef4,#f5f6f7,#fae8de,#fcdecd,#fbe3d4,#f7f5f4,#d8e9f1,#bbdaea,#cae1ee,#f3f5f6,#fbd0b9,#f4a683,#f8bb9e,#f8f4f2,#a2cde3,#59a1ca,#87beda,#f3f5f6,#ea8e70,#c13639,#dd7059,#f7f5f4,#4695c4,#134c87,#3783bb,#f7f7f7,#c2383a,#67001f,#ba2832,#f7f7f7,#2369ad,#053061,#2065ab,#f7f5f4,#a81529,#67001f,#b3192c,#f2f5f6,#1f63a8,#053061,#2c75b4,#f8f2ef,#bd2d35,#700320,#cf5246,#f0f4f6,#3e8cbf,#1e61a5,#62a7ce,#f8f2ef,#e37e64,#cf5246,#f4a683,#f0f4f6,#96c7df,#75b2d4,#b6d7e8,#f8f3f0,#f9c6ac,#f7b799,#fddcc9,#f3f5f6,#d2e6f0,#cae1ee,#deebf2,#f8f4f2,#fbe6da,#fbe3d4,#f9ebe3,#f5f6f7,#e7f0f4,#e6eff4,#edf2f5,#f7f5f4,#f9f0eb,#f9efe9,#f8f2ef,#f7f7f7,#f0f4f6,#f0f4f6,#f3f5f6,#f7f7f7,#f8f4f2,#f8f3f0,#f7f5f4,#f7f7f7,#f5f6f7,#f3f5f6,#f5f6f7,#f7f7f7,#f7f5f4,#f7f5f4,#f7f7f7 652px)"></i>
<i style="left:465px;background:linear-gradient(#f7f7f7 180px,#f5f6f7,#f7f7f7,#f7f7f7,#f7f7f7,#f7f5f4,#f7f5f4,#f7f7f7,#f5f6f7,#f3f5f6,#f3f5f6,#f7f7f7,#f7f5f4,#f8f3f0,#f8f3f0,#f7f7f7,#f3f5f6,#eff3f5,#f0f4f6,#f7f7f7,#f8f2ef,#f9eee7,#f9efe9,#f7f7f7,#ecf2f5,#e3edf3,#e6eff4,#f5f6f7,#faeae1,#fce0d0,#fbe4d6,#f7f5f4,#dbeaf2,#c2ddec,#cfe4ef,#f3f5f6,#fcd7c2,#f6b191,#f9c2a7,#f8f4f2,#aed3e6,#68abd0,#90c4dd,#f2f5f6,#f19e7d,#cb4942,#e37e64,#f8f3f0,#5ca3cb,#1e61a5,#3f8ec0,#f3f5f6,#cf5246,#790622,#c43b3c,#f7f5f4,#2f79b5,#053061,#2a71b2,#f7f7f7,#bb2a34,#67001f,#bd2d35,#f5f6f7,#2c75b4,#053061,#3480b9,#f8f4f2,#c94741,#8d0c25,#d7634f,#f2f5f6,#4c99c6,#2a71b2,#71b0d3,#f8f3f0,#ea8e70,#d7634f,#f5ac8b,#f2f5f6,#a2cde3,#84bcd9,#bbdaea,#f8f4f2,#fbccb4,#f8bfa4,#fdddcb,#f3f5f6,#d7e8f1,#d1e5f0,#e0ecf3,#f7f5f4,#fae7dc,#fbe5d8,#f9ede5,#f5f6f7,#e9f0f4,#e7f0f4,#edf2f5,#f7f7f7,#f8f1ed,#f9f0eb,#f8f3f0,#f7f7f7,#f2f5f6,#f0f4f6,#f3f5f6,#f7f7f7,#f8f4f2,#f8f4f2,#f7f5f4,#f7f7f7,#f5f6f7,#f5f6f7,#f5f6f7,#f7f7f7,#f7f5f4,#f7f5f4,#f7f7f7 652px)"></i>
<i style="left:470px;background:linear-gradient(#f7f7f7 196px,#f7f5f4,#f7f5f4,#f7f7f7,#f5f6f7,#f3f5f6,#f5f6f7,#f7f7f7,#f7f5f4,#f8f3f0,#f8f4f2,#f7f7f7,#f3f5f6,#f0f4f6,#f0f4f6,#f7f7f7,#f8f2ef,#f9efe9,#f9f0eb,#f7f5f4,#edf2f5,#e6eff4,#e7f0f4,#f5f6f7,#f9ebe3,#fbe3d4,#fbe5d8,#f8f4f2,#deebf2,#cae1ee,#d2e6f0,#f3f5f6,#fddcc9,#f7b99c,#fac8af,#f8f3f0,#b8d8e9,#7bb6d6,#9bc9e0,#f2f5f6,#f5aa89,#d6604d,#e98b6e,#f8f2ef,#71b0d3,#2a71b2,#4c99c6,#f2f5f6,#da6853,#991027,#cc4c44,#f8f3f0,#3b88be,#0d3f76,#337eb8,#f3f5f6,#c94741,#730421,#c6413e,#f7f7f7,#3885bc,#10457e,#3c8abe,#f7f7f7,#d55d4c,#ab162a,#dd7059,#f5f6f7,#62a7ce,#3480b9,#7eb8d7,#f7f5f4,#f19e7d,#df765e,#f7b596,#f3f5f6,#acd2e5,#93c6de,#c2ddec,#f7f5f4,#fcd5bf,#f9c6ac,#fcdfcf,#f5f6f7,#dae9f2,#d4e6f1,#e1edf3,#f7f5f4,#fae9df,#fbe6da,#f9ede5,#f7f7f7,#eaf1f5,#e9f0f4,#eff3f5,#f7f7f7,#f8f1ed,#f9f0eb,#f8f3f0,#f7f7f7,#f2f5f6,#f2f5f6,#f3f5f6,#f7f7f7,#f8f4f2,#f8f4f2,#f7f5f4,#f7f7f7,#f5f6f7,#f5f6f7,#f7f7f7,#f7f7f7,#f7f5f4,#f7f5f4,#f7f7f7 652px)"></i>
<i style="left:475px;background:linear-gradient(#f7f7f7 196px,#f7f5f4,#f7f5f4,#f7f7f7,#f7f7f7,#f5f6f7,#f5f6f7,#f7f7f7,#f7f5f4,#f8f4f2,#f8f4f2,#f7f7f7,#f3f5f6,#f0f4f6,#f2f5f6,#f7f7f7,#f8f3f0,#f9f0eb,#f9f0eb,#f7f5f4,#eff3f5,#e7f0f4,#e9f0f4,#f5f6f7,#f9ede5,#fbe5d8,#fae7dc,#f8f4f2,#e1edf3,#d1e5f0,#d7e8f1,#f3f5f6,#fcdecd,#f9c2a7,#fbceb7,#f8f3f0,#c2ddec,#8dc2dc,#a5cee3,#f0f4f6,#f7b799,#de735c,#ef9979,#f8f1ed,#87beda,#3783bb,#5fa5cd,#eff3f5,#e37e64,#b41c2d,#d6604d,#f8f2ef,#4f9bc7,#195696,#3e8cbf,#f2f5f6,#d6604d,#960f27,#d05548,#f8f4f2,#4997c5,#1c5c9f,#4997c5,#f5f6f7,#df765e,#bd2d35,#e48066,#f7f7f7,#7bb6d6,#3f8ec0,#8dc2dc,#f7f7f7,#f5ac8b,#e6866a,#f8bb9e,#f7f7f7,#b8d8e9,#a0cce2,#c7e0ed,#f7f5f4,#fddbc7,#fbccb4,#fce2d2,#f7f7f7,#ddebf2,#d7e8f1,#e3edf3,#f7f7f7,#faeae1,#fae8de,#f9eee7,#f7f7f7,#ecf2f5,#eaf1f5,#eff3f5,#f7f7f7,#f8f2ef,#f8f1ed,#f8f3f0,#f7f7f7,#f2f5f6,#f2f5f6,#f3f5f6,#f7f7f7,#f8f4f2,#f8f4f2,#f7f5f4,#f7f7f7,#f5f6f7,#f5f6f7,#f7f7f7,#f7f7f7,#f7f7f7,#f7f5f4,#f7f7f7 652px)"></i>
<i style="left:480px;background:linear-gradient(#f7f7f7 196px,#f7f5f4,#f7f5f4,#f7f7f7,#f7f7f7,#f5f6f7,#f5f6f7,#f7f7f7,#f7f5f4,#f8f4f2,#f8f4f2,#f7f7f7,#f3f5f6,#f2f5f6,#f2f5f6,#f7f7f7,#f8f3f0,#f9f0eb,#f8f1ed,#f7f5f4,#eff3f5,#e9f0f4,#eaf1f5,#f5f6f7,#f9eee7,#fae7dc,#fae8de,#f8f4f2,#e4eef4,#d5e7f1,#dae9f2,#f2f5f6,#fce2d2,#facab1,#fcd5bf,#f8f2ef,#cce2ef,#9dcbe1,#aed3e6,#eff3f5,#f9c2a7,#e8896c,#f4a683,#f8f1ed,#9bc9e0,#4393c3,#71b0d3,#edf2f5,#ec9374,#c43b3c,#de735c,#f8f1ed,#6bacd1,#276eb0,#4c99c6,#eff3f5,#e17860,#b61f2e,#da6853,#f8f2ef,#65a9cf,#2b73b3,#5fa5cd,#f3f5f6,#e98b6e,#cb4942,#ea8e70,#f7f5f4,#90c4dd,#569fc9,#98c8e0,#f7f7f7,#f7b99c,#ef9979,#f9c4a9,#f7f7f7,#c2ddec,#a9d1e5,#cfe4ef,#f7f7f7,#fcdecd,#fcd5bf,#fbe3d4,#f7f7f7,#e0ecf3,#dae9f2,#e6eff4,#f7f7f7,#f9ebe3,#fae9df,#f9efe9,#f7f7f7,#edf2f5,#ecf2f5,#f0f4f6,#f7f7f7,#f8f2ef,#f8f1ed,#f8f4f2,#f7f7f7,#f3f5f6,#f2f5f6,#f5f6f7,#f7f7f7,#f7f5f4,#f8f4f2,#f7f5f4,#f7f7f7,#f5f6f7,#f5f6f7,#f7f7f7 636px)"></i>
<i style="left:485px;background:linear-gradient(#f7f7f7 212px,#f5f6f7,#f5f6f7,#f7f7f7,#f7f5f4,#f8f4f2,#f8f4f2,#f7f7f7,#f5f6f7,#f2f5f6,#f2f5f6,#f7f7f7,#f8f4f2,#f8f1ed,#f8f2ef,#f7f5f4,#f0f4f6,#eaf1f5,#ecf2f5,#f5f6f7,#f9efe9,#fae8de,#faeae1,#f8f4f2,#e6eff4,#d8e9f1,#ddebf2,#f2f5f6,#fbe5d8,#fcd3bc,#fddbc7,#f8f2ef,#d4e6f1,#a9d1e5,#b8d8e9,#eff3f5,#fbccb4,#f09c7b,#f6b191,#f9f0eb,#a9d1e5,#5ca3cb,#87beda,#edf2f5,#f5a886,#d25849,#e6866a,#f9f0eb,#84bcd9,#3681ba,#62a7ce,#edf2f5,#eb9172,#c53e3d,#e37e64,#f8f1ed,#7eb8d7,#3885bc,#71b0d3,#f2f5f6,#f2a17f,#d7634f,#f19e7d,#f8f4f2,#a0cce2,#6bacd1,#a5cee3,#f5f6f7,#f9c4a9,#f5a886,#facab1,#f7f7f7,#cce2ef,#b6d7e8,#d2e6f0,#f7f7f7,#fce2d2,#fddbc7,#fbe5d8,#f7f7f7,#e3edf3,#ddebf2,#e7f0f4,#f7f7f7,#f9eee7,#faeae1,#f9f0eb,#f7f7f7,#eff3f5,#ecf2f5,#f0f4f6,#f7f7f7,#f8f3f0,#f8f2ef,#f8f4f2,#f7f7f7,#f3f5f6,#f3f5f6,#f5f6f7,#f7f7f7,#f7f5f4,#f7f5f4,#f7f5f4,#f7f7f7,#f5f6f7,#f5f6f7,#f7f7f7 636px)"></i>
<i style="left:490px;background:linear-gradient(#f7f7f7 212px,#f5f6f7,#f5f6f7,#f7f7f7,#f7f7f7,#f7f5f4,#f7f5f4,#f7f7f7,#f5f6f7,#f3f5f6,#f3f5f6,#f7f7f7,#f8f4f2,#f8f2ef,#f8f2ef,#f7f5f4,#f2f5f6,#ecf2f5,#edf2f5,#f5f6f7,#f9f0eb,#faeae1,#f9ebe3,#f8f4f2,#e9f0f4,#ddebf2,#deebf2,#f2f5f6,#fae7dc,#fdd9c4,#fdddcb,#f8f2ef,#d8e9f1,#b6d7e8,#c2ddec,#eff3f5,#fcd7c2,#f5aa89,#f8bb9e,#f9f0eb,#b8d8e9,#78b4d5,#96c7df,#ecf2f5,#f7b799,#de735c,#ef9979,#f9efe9,#9bc9e0,#4393c3,#78b4d5,#ecf2f5,#f4a683,#d55d4c,#ea8e70,#f9f0eb,#96c7df,#4997c5,#84bcd9,#f0f4f6,#f6b191,#e27b62,#f5aa89,#f8f3f0,#aed3e6,#84bcd9,#aed3e6,#f3f5f6,#fbceb7,#f7b596,#fbd0b9,#f7f5f4,#d4e6f1,#c0dceb,#d7e8f1,#f7f7f7,#fbe4d6,#fcdecd,#fae7dc,#f7f7f7,#e6eff4,#e0ecf3,#e9f0f4,#f7f7f7,#f9efe9,#f9ede5,#f9f0eb,#f7f7f7,#f0f4f6,#edf2f5,#f2f5f6,#f7f7f7,#f8f3f0,#f8f3f0,#f8f4f2,#f7f7f7,#f3f5f6,#f3f5f6,#f5f6f7,#f7f7f7,#f7f5f4,#f7f5f4,#f7f5f4,#f7f7f7,#f7f7f7,#f5f6f7,#f7f7f7 636px)"></i>
<i style="left:495px;background:linear-gradient(#f7f7f7 212px,#f5f6f7,#f5f6f7,#f7f7f7,#f7f7f7,#f7f5f4,#f7f5f4,#f7f7f7,#f5f6f7,#f3f5f6,#f3f5f6,#f7f7f7,#f8f4f2,#f8f2ef,#f8f3f0,#f7f5f4,#f2f5f6,#edf2f5,#edf2f5,#f5f6f7,#f8f1ed,#f9ebe3,#f9ede5,#f8f4f2,#eaf1f5,#e0ecf3,#e1edf3,#f2f5f6,#fae9df,#fcdecd,#fce0d0,#f8f2ef,#ddebf2,#c2ddec,#cae1ee,#eff3f5,#fdddcb,#f7b799,#f9c4a9,#f9f0eb,#c5dfec,#8dc2dc,#a2cde3,#ecf2f5,#f9c4a9,#e8896c,#f4a683,#f9efe9,#acd2e5,#62a7ce,#8ac0db,#ecf2f5,#f7b799,#df765e,#f19e7d,#f9f0eb,#a7d0e4,#65a9cf,#96c7df,#eff3f5,#f8bfa4,#eb9172,#f7b596,#f8f2ef,#bddbea,#98c8e0,#b8d8e9,#f2f5f6,#fcd7c2,#f8bfa4,#fcd7c2,#f8f4f2,#d8e9f1,#cae1ee,#dae9f2,#f5f6f7,#fae7dc,#fce0d0,#fae8de,#f7f7f7,#e7f0f4,#e3edf3,#eaf1f5,#f7f7f7,#f9f0eb,#f9eee7,#f8f1ed,#f7f7f7,#f0f4f6,#eff3f5,#f2f5f6,#f7f7f7,#f8f4f2,#f8f3f0,#f8f4f2,#f7f7f7,#f5f6f7,#f3f5f6,#f5f6f7,#f7f7f7,#f7f5f4,#f7f5f4,#f7f7f7 620px)"></i>
<i style="left:500px;background:linear-gradient(#f7f7f7 228px,#f7f5f4,#f7f5f4,#f7f7f7,#f5f6f7,#f3f5f6,#f3f5f6,#f7f7f7,#f7f5f4,#f8f3f0,#f8f3f0,#f7f5f4,#f3f5f6,#eff3f5,#eff3f5,#f5f6f7,#f8f2ef,#f9eee7,#f9eee7,#f8f4f2,#edf2f5,#e3edf3,#e4eef4,#f2f5f6,#f9ebe3,#fce0d0,#fbe3d4,#f8f2ef,#e1edf3,#cae1ee,#d1e5f0,#eff3f5,#fce0d0,#f9c2a7,#fbccb4,#f9f0eb,#d1e5f0,#9dcbe1,#aed3e6,#ecf2f5,#fbceb7,#f19e7d,#f6b394,#f9eee7,#bbdaea,#7bb6d6,#9bc9e0,#eaf1f5,#f9c4a9,#e98b6e,#f5ac8b,#f9efe9,#b6d7e8,#7eb8d7,#a2cde3,#edf2f5,#facab1,#f3a481,#f8bfa4,#f8f1ed,#cae1ee,#a5cee3,#c2ddec,#f2f5f6,#fdddcb,#fac8af,#fddcc9,#f8f4f2,#ddebf2,#d1e5f0,#ddebf2,#f5f6f7,#fae9df,#fbe4d6,#fae9df,#f7f7f7,#eaf1f5,#e4eef4,#eaf1f5,#f7f7f7,#f8f1ed,#f9efe9,#f8f1ed,#f7f7f7,#f2f5f6,#f0f4f6,#f2f5f6,#f7f7f7,#f8f4f2,#f8f3f0,#f8f4f2,#f7f7f7,#f5f6f7,#f3f5f6,#f5f6f7,#f7f7f7,#f7f5f4,#f7f5f4,#f7f7f7 620px)"></i>
<i style="left:505px;background:linear-gradient(#f7f7f7 228px,#f7f5f4,#f7f5f4,#f7f7f7,#f7f7f7,#f3f5f6,#f3f5f6,#f7f7f7,#f7f5f4,#f8f3f0,#f8f3f0,#f7f5f4,#f3f5f6,#eff3f5,#eff3f5,#f5f6f7,#f8f3f0,#f9eee7,#f9efe9,#f8f4f2,#edf2f5,#e4eef4,#e6eff4,#f2f5f6,#f9ede5,#fbe3d4,#fbe4d6,#f8f2ef,#e4eef4,#d1e5f0,#d4e6f1,#eff3f5,#fbe4d6,#facab1,#fcd3bc,#f9efe9,#d5e7f1,#a9d1e5,#b8d8e9,#eaf1f5,#fdd9c4,#f5ac8b,#f8bb9e,#f9eee7,#c5dfec,#8dc2dc,#a5cee3,#eaf1f5,#fbceb7,#f19e7d,#f7b596,#f9efe9,#c2ddec,#90c4dd,#acd2e5,#edf2f5,#fcd5bf,#f6b191,#f9c6ac,#f8f1ed,#d1e5f0,#b1d5e7,#c7e0ed,#f0f4f6,#fce0d0,#fbd0b9,#fcdecd,#f8f4f2,#e0ecf3,#d5e7f1,#deebf2,#f5f6f7,#faeae1,#fbe5d8,#faeae1,#f7f5f4,#ecf2f5,#e7f0f4,#ecf2f5,#f7f7f7,#f8f1ed,#f9efe9,#f8f2ef,#f7f7f7,#f2f5f6,#f0f4f6,#f2f5f6,#f7f7f7,#f8f4f2,#f8f4f2,#f7f5f4,#f7f7f7,#f5f6f7,#f5f6f7,#f5f6f7,#f7f7f7,#f7f7f7,#f7f5f4,#f7f7f7 620px)"></i>
<i style="left:510px;background:linear-gradient(#f7f7f7 228px,#f7f5f4,#f7f5f4,#f7f7f7,#f7f7f7,#f5f6f7,#f3f5f6,#f7f7f7,#f7f5f4,#f8f3f0,#f8f3f0,#f7f5f4,#f3f5f6,#f0f4f6,#f0f4f6,#f5f6f7,#f8f3f0,#f9efe9,#f9efe9,#f8f4f2,#eff3f5,#e6eff4,#e6eff4,#f2f5f6,#f9eee7,#fbe5d8,#fbe5d8,#f8f2ef,#e6eff4,#d4e6f1,#d7e8f1,#edf2f5,#fbe6da,#fbd0b9,#fcd7c2,#f9efe9,#dae9f2,#b3d6e8,#bddbea,#eaf1f5,#fdddcb,#f7b596,#f9c2a7,#f9ede5,#cfe4ef,#9bc9e0,#acd2e5,#e9f0f4,#fcd7c2,#f5aa89,#f8bb9e,#f9eee7,#cce2ef,#9dcbe1,#b3d6e8,#ecf2f5,#fddbc7,#f7b99c,#facab1,#f9f0eb,#d5e7f1,#b8d8e9,#cce2ef,#f0f4f6,#fbe3d4,#fcd5bf,#fcdfcf,#f8f3f0,#e1edf3,#d7e8f1,#e0ecf3,#f3f5f6,#f9ebe3,#fbe6da,#f9ebe3,#f7f5f4,#ecf2f5,#e7f0f4,#ecf2f5,#f7f7f7,#f8f2ef,#f9f0eb,#f8f2ef,#f7f7f7,#f2f5f6,#f0f4f6,#f3f5f6,#f7f7f7,#f8f4f2,#f8f4f2,#f7f5f4,#f7f7f7,#f5f6f7,#f5f6f7,#f5f6f7,#f7f7f7,#f7f7f7,#f7f5f4,#f7f7f7 620px)"></i>
<i style="left:515px;background:linear-gradient(#f7f7f7 228px,#f7f5f4,#f7f5f4,#f7f7f7,#f7f7f7,#f5f6f7,#f3f5f6,#f7f7f7,#f7f5f4,#f8f3f0,#f8f3f0,#f7f5f4,#f3f5f6,#f0f4f6,#f0f4f6,#f5f6f7,#f8f3f0,#f9efe9,#f9efe9,#f8f4f2,#eff3f5,#e6eff4,#e6eff4,#f2f5f6,#f9efe9,#fbe5d8,#fbe6da,#f8f1ed,#e7f0f4,#d5e7f1,#d7e8f1,#edf2f5,#fae7dc,#fcd5bf,#fcd7c2,#f9eee7,#ddebf2,#b8d8e9,#c0dceb,#e9f0f4,#fcdfcf,#f8bb9e,#f9c4a9,#f9ede5,#d4e6f1,#a2cde3,#b1d5e7,#e9f0f4,#fddbc7,#f6b191,#f8bfa4,#f9ede5,#d1e5f0,#a5cee3,#b6d7e8,#eaf1f5,#fdddcb,#f8bda1,#fbccb4,#f9f0eb,#d8e9f1,#bddbea,#cfe4ef,#eff3f5,#fbe5d8,#fcd7c2,#fcdfcf,#f8f3f0,#e3edf3,#d8e9f1,#e0ecf3,#f3f5f6,#f9ede5,#fae7dc,#f9ebe3,#f7f5f4,#edf2f5,#e7f0f4,#ecf2f5,#f5f6f7,#f8f2ef,#f9f0eb,#f8f2ef,#f7f7f7,#f2f5f6,#f0f4f6,#f2f5f6,#f7f7f7,#f7f5f4,#f8f4f2,#f7f5f4,#f7f7f7,#f5f6f7,#f5f6f7,#f5f6f7,#f7f7f7,#f7f7f7,#f7f5f4,#f7f7f7 620px)"></i>
<i style="left:520px;background:linear-gradient(#f7f7f7 228px,#f7f5f4,#f7f5f4,#f7f7f7,#f7f7f7,#f5f6f7,#f3f5f6,#f7f7f7,#f7f5f4,#f8f3f0,#f8f3f0,#f7f5f4,#f3f5f6,#f0f4f6,#eff3f5,#f3f5f6,#f8f3f0,#f9efe9,#f9efe9,#f8f3f0,#f0f4f6,#e6eff4,#e6eff4,#f0f4f6,#f9efe9,#fbe5d8,#fbe5d8,#f8f1ed,#e7f0f4,#d7e8f1,#d7e8f1,#ecf2f5,#fae8de,#fcd5bf,#fcd7c2,#f9ede5,#deebf2,#bbdaea,#c0dceb,#e7f0f4,#fce0d0,#f8bb9e,#f9c4a9,#faeae1,#d5e7f1,#a5cee3,#aed3e6,#e6eff4,#fdddcb,#f6b394,#f8bda1,#f9ebe3,#d4e6f1,#a5cee3,#b3d6e8,#e9f0f4,#fcdecd,#f8bda1,#fbccb4,#f9eee7,#dae9f2,#bddbea,#cce2ef,#edf2f5,#fbe5d8,#fcd7c2,#fcdfcf,#f8f2ef,#e4eef4,#d8e9f1,#deebf2,#f2f5f6,#f9ede5,#fbe6da,#faeae1,#f8f4f2,#edf2f5,#e7f0f4,#ecf2f5,#f5f6f7,#f8f2ef,#f9efe9,#f8f1ed,#f7f7f7,#f2f5f6,#f0f4f6,#f2f5f6,#f7f7f7,#f7f5f4,#f8f4f2,#f8f4f2,#f7f7f7,#f5f6f7,#f5f6f7,#f5f6f7,#f7f7f7,#f7f7f7,#f7f5f4,#f7f7f7 620px)"></i>
<i style="left:525px;background:linear-gradient(#f7f7f7 228px,#f7f5f4,#f7f5f4,#f7f7f7,#f7f7f7,#f3f5f6,#f3f5f6,#f5f6f7,#f7f5f4,#f8f3f0,#f8f3f0,#f7f5f4,#f3f5f6,#eff3f5,#eff3f5,#f3f5f6,#f8f3f0,#f9efe9,#f9eee7,#f8f3f0,#f0f4f6,#e6eff4,#e4eef4,#eff3f5,#f9efe9,#fbe5d8,#fbe4d6,#f9f0eb,#e9f0f4,#d5e7f1,#d5e7f1,#eaf1f5,#fae8de,#fcd3bc,#fcd5bf,#f9ebe3,#deebf2,#b8d8e9,#bbdaea,#e6eff4,#fce2d2,#f7b99c,#f8bfa4,#fae9df,#d5e7f1,#a2cde3,#a9d1e5,#e3edf3,#fdddcb,#f6af8e,#f7b99c,#fae9df,#d4e6f1,#a2cde3,#aed3e6,#e6eff4,#fcdfcf,#f8bb9e,#f9c6ac,#f9ede5,#dae9f2,#b8d8e9,#c7e0ed,#ecf2f5,#fbe5d8,#fcd5bf,#fdddcb,#f8f1ed,#e3edf3,#d5e7f1,#ddebf2,#f0f4f6,#f9ede5,#fbe5d8,#fae9df,#f8f4f2,#ecf2f5,#e6eff4,#eaf1f5,#f5f6f7,#f8f2ef,#f9efe9,#f8f1ed,#f7f5f4,#f2f5f6,#eff3f5,#f2f5f6,#f7f7f7,#f8f4f2,#f8f3f0,#f8f4f2,#f7f7f7,#f5f6f7,#f3f5f6,#f5f6f7,#f7f7f7,#f7f7f7,#f7f5f4,#f7f7f7 620px)"></i>
<i style="left:530px;background:linear-gradient(#f7f7f7 216px,#f5f6f7,#f7f7f7,#f7f7f7,#f7f5f4,#f7f5f4,#f7f7f7,#f7f7f7,#f3f5f6,#f3f5f6,#f5f6f7,#f7f5f4,#f8f3f0,#f8f2ef,#f7f5f4,#f3f5f6,#eff3f5,#edf2f5,#f3f5f6,#f8f3f0,#f9eee7,#f9ede5,#f8f2ef,#f0f4f6,#e4eef4,#e3edf3,#edf2f5,#f9efe9,#fbe3d4,#fce2d2,#f9eee7,#e9f0f4,#d2e6f0,#d1e5f0,#e7f0f4,#fae8de,#fbceb7,#fbceb7,#fae9df,#deebf2,#b3d6e8,#b3d6e8,#e1edf3,#fce2d2,#f7b596,#f7b799,#fbe6da,#d7e8f1,#9bc9e0,#a0cce2,#e0ecf3,#fdddcb,#f5aa89,#f6b191,#fbe6da,#d4e6f1,#9bc9e0,#a5cee3,#e3edf3,#fcdecd,#f7b596,#f8bfa4,#faeae1,#dae9f2,#b1d5e7,#bddbea,#e9f0f4,#fbe5d8,#fbceb7,#fdd9c4,#f9efe9,#e3edf3,#d2e6f0,#d8e9f1,#eff3f5,#f9ebe3,#fbe3d4,#fbe6da,#f8f3f0,#ecf2f5,#e3edf3,#e7f0f4,#f3f5f6,#f8f1ed,#f9eee7,#f9efe9,#f7f5f4,#f2f5f6,#eff3f5,#f0f4f6,#f7f7f7,#f8f4f2,#f8f3f0,#f8f4f2,#f7f7f7,#f5f6f7,#f3f5f6,#f5f6f7,#f7f7f7,#f7f7f7,#f7f5f4,#f7f5f4,#f7f7f7 624px)"></i>
<i style="left:535px;background:linear-gradient(#f7f7f7 216px,#f5f6f7,#f7f7f7,#f7f7f7,#f7f5f4,#f7f5f4,#f7f7f7,#f7f7f7,#f3f5f6,#f2f5f6,#f5f6f7,#f7f5f4,#f8f2ef,#f8f2ef,#f8f4f2,#f3f5f6,#edf2f5,#ecf2f5,#f2f5f6,#f8f3f0,#f9ede5,#f9ebe3,#f8f1ed,#eff3f5,#e1edf3,#e0ecf3,#ecf2f5,#f9efe9,#fce2d2,#fcdfcf,#f9ede5,#e7f0f4,#cfe4ef,#cae1ee,#e4eef4,#fae8de,#facab1,#f9c6ac,#fae7dc,#deebf2,#acd2e5,#a9d1e5,#ddebf2,#fce2d2,#f6af8e,#f6af8e,#fbe3d4,#d5e7f1,#90c4dd,#93c6de,#dae9f2,#fdddcb,#f2a17f,#f4a683,#fbe3d4,#d4e6f1,#90c4dd,#98c8e0,#ddebf2,#fcdecd,#f5ac8b,#f6b394,#fbe6da,#d8e9f1,#a7d0e4,#b3d6e8,#e4eef4,#fbe4d6,#f9c6ac,#fbd0b9,#f9ede5,#e1edf3,#cce2ef,#d2e6f0,#ecf2f5,#faeae1,#fcdfcf,#fbe4d6,#f8f1ed,#eaf1f5,#e0ecf3,#e4eef4,#f2f5f6,#f8f1ed,#f9ebe3,#f9eee7,#f8f4f2,#f0f4f6,#ecf2f5,#eff3f5,#f5f6f7,#f8f4f2,#f8f2ef,#f8f3f0,#f7f7f7,#f5f6f7,#f3f5f6,#f3f5f6,#f7f7f7,#f7f5f4,#f7f5f4,#f7f5f4,#f7f7f7,#f7f7f7,#f5f6f7,#f7f7f7 636px)"></i>
<i style="left:540px;background:linear-gradient(#f7f7f7 212px,#f5f6f7,#f5f6f7,#f7f7f7,#f7f7f7,#f7f5f4,#f8f4f2,#f7f5f4,#f7f7f7,#f3f5f6,#f2f5f6,#f5f6f7,#f7f5f4,#f8f2ef,#f8f1ed,#f8f3f0,#f3f5f6,#ecf2f5,#eaf1f5,#f0f4f6,#f8f3f0,#f9ebe3,#fae9df,#f9f0eb,#eff3f5,#e0ecf3,#ddebf2,#eaf1f5,#f9efe9,#fcdfcf,#fddcc9,#faeae1,#e7f0f4,#cae1ee,#c2ddec,#e0ecf3,#fae8de,#f9c4a9,#f8bda1,#fbe3d4,#deebf2,#a2cde3,#9dcbe1,#d8e9f1,#fce2d2,#f4a683,#f2a17f,#fcdecd,#d5e7f1,#84bcd9,#81bad8,#d4e6f1,#fdddcb,#ec9374,#ee9677,#fcdecd,#d2e6f0,#81bad8,#87beda,#d7e8f1,#fdddcb,#f2a17f,#f4a683,#fbe3d4,#d7e8f1,#9dcbe1,#a5cee3,#e0ecf3,#fbe3d4,#f8bda1,#f9c4a9,#fae9df,#e0ecf3,#c2ddec,#cae1ee,#e9f0f4,#fae9df,#fddcc9,#fcdfcf,#f9f0eb,#e9f0f4,#ddebf2,#e0ecf3,#f0f4f6,#f9f0eb,#fae9df,#f9ebe3,#f8f3f0,#f0f4f6,#eaf1f5,#edf2f5,#f3f5f6,#f8f3f0,#f8f1ed,#f8f2ef,#f7f5f4,#f5f6f7,#f2f5f6,#f3f5f6,#f7f7f7,#f7f5f4,#f8f4f2,#f7f5f4,#f7f7f7,#f7f7f7,#f5f6f7,#f5f6f7,#f7f7f7 640px)"></i>
<i style="left:545px;background:linear-gradient(#f7f7f7 212px,#f5f6f7,#f5f6f7,#f7f7f7,#f7f7f7,#f8f4f2,#f8f4f2,#f7f5f4,#f7f7f7,#f2f5f6,#f0f4f6,#f3f5f6,#f7f5f4,#f8f1ed,#f9f0eb,#f8f3f0,#f3f5f6,#ecf2f5,#e9f0f4,#eff3f5,#f8f3f0,#faeae1,#fae7dc,#f9efe9,#f0f4f6,#deebf2,#d8e9f1,#e7f0f4,#f9efe9,#fdddcb,#fcd7c2,#fae7dc,#e9f0f4,#c2ddec,#b8d8e9,#dbeaf2,#fae9df,#f8bda1,#f6b394,#fcdfcf,#deebf2,#9bc9e0,#8dc2dc,#d1e5f0,#fce2d2,#f09c7b,#eb9172,#fcd7c2,#d7e8f1,#78b4d5,#6eaed2,#cae1ee,#fdddcb,#e8896c,#e58368,#fcd5bf,#d4e6f1,#71b0d3,#71b0d3,#cfe4ef,#fdddcb,#ec9374,#ee9677,#fdddcb,#d7e8f1,#90c4dd,#96c7df,#dae9f2,#fce2d2,#f7b596,#f7b99c,#fbe5d8,#e0ecf3,#b8d8e9,#bddbea,#e4eef4,#fae9df,#fcd7c2,#fddbc7,#f9ede5,#e9f0f4,#d8e9f1,#dbeaf2,#edf2f5,#f9efe9,#fae7dc,#fae9df,#f8f2ef,#eff3f5,#e9f0f4,#eaf1f5,#f3f5f6,#f8f3f0,#f9f0eb,#f8f1ed,#f7f5f4,#f3f5f6,#f0f4f6,#f2f5f6,#f5f6f7,#f7f5f4,#f8f4f2,#f8f4f2,#f7f7f7,#f7f7f7,#f5f6f7,#f5f6f7,#f7f7f7,#f7f7f7,#f7f5f4,#f7f7f7 652px)"></i>
<i style="left:550px;background:linear-gradient(#f7f7f7 200px,#f7f5f4,#f7f7f7,#f7f7f7,#f5f6f7,#f5f6f7,#f5f6f7,#f7f7f7,#f8f4f2,#f8f4f2,#f7f5f4,#f7f7f7,#f2f5f6,#f0f4f6,#f3f5f6,#f7f5f4,#f8f1ed,#f9efe9,#f8f2ef,#f5f6f7,#eaf1f5,#e7f0f4,#edf2f5,#f8f3f0,#fae9df,#fbe5d8,#f9ede5,#f0f4f6,#dbeaf2,#d5e7f1,#e3edf3,#f9f0eb,#fddbc7,#fbd0b9,#fbe4d6,#eaf1f5,#bddbea,#aed3e6,#d7e8f1,#faeae1,#f7b99c,#f5aa89,#fddbc7,#e1edf3,#93c6de,#7eb8d7,#c7e0ed,#fbe4d6,#ec9374,#e48066,#fbccb4,#d8e9f1,#6bacd1,#59a1ca,#bbdaea,#fcdecd,#e37e64,#dd7059,#facab1,#d5e7f1,#65a9cf,#5ca3cb,#c2ddec,#fcdecd,#e8896c,#e58368,#fcd5bf,#d7e8f1,#84bcd9,#81bad8,#d2e6f0,#fbe3d4,#f5aa89,#f5ac8b,#fce0d0,#deebf2,#aed3e6,#b1d5e7,#e0ecf3,#fae8de,#fbceb7,#fcd3bc,#faeae1,#e7f0f4,#d4e6f1,#d7e8f1,#eaf1f5,#f9efe9,#fbe5d8,#fbe6da,#f8f1ed,#eff3f5,#e6eff4,#e7f0f4,#f2f5f6,#f8f3f0,#f9efe9,#f9f0eb,#f8f4f2,#f3f5f6,#eff3f5,#f0f4f6,#f5f6f7,#f7f5f4,#f8f3f0,#f8f4f2,#f7f7f7,#f5f6f7,#f3f5f6,#f5f6f7,#f7f7f7,#f7f7f7,#f7f5f4,#f7f5f4,#f7f7f7 656px)"></i>
<i style="left:555px;background:linear-gradient(#f7f7f7 200px,#f7f5f4,#f7f7f7,#f7f7f7,#f5f6f7,#f3f5f6,#f5f6f7,#f7f7f7,#f8f4f2,#f8f3f0,#f8f4f2,#f7f7f7,#f2f5f6,#eff3f5,#f2f5f6,#f7f7f7,#f8f1ed,#f9eee7,#f8f1ed,#f5f6f7,#e9f0f4,#e4eef4,#ecf2f5,#f8f4f2,#fae8de,#fbe4d6,#faeae1,#f2f5f6,#dae9f2,#d2e6f0,#e0ecf3,#f8f1ed,#fdd9c4,#facab1,#fce0d0,#ecf2f5,#bbdaea,#a7d0e4,#d1e5f0,#f9ebe3,#f7b596,#f2a17f,#fbd0b9,#e3edf3,#8dc2dc,#6eaed2,#bbdaea,#fbe6da,#ea8e70,#de735c,#f8bfa4,#dbeaf2,#65a9cf,#4695c4,#acd2e5,#fce2d2,#df765e,#d55d4c,#f8bda1,#d8e9f1,#5ca3cb,#4695c4,#b1d5e7,#fce0d0,#e37e64,#dd7059,#fac8af,#dae9f2,#78b4d5,#6bacd1,#c5dfec,#fbe4d6,#f3a481,#f19e7d,#fddcc9,#e0ecf3,#a5cee3,#a5cee3,#dae9f2,#fae9df,#fac8af,#fac8af,#fbe6da,#e9f0f4,#cfe4ef,#d1e5f0,#e7f0f4,#f9efe9,#fce2d2,#fbe3d4,#f9efe9,#eff3f5,#e3edf3,#e4eef4,#eff3f5,#f8f3f0,#f9ede5,#f9eee7,#f8f3f0,#f3f5f6,#eff3f5,#eff3f5,#f3f5f6,#f7f5f4,#f8f3f0,#f8f3f0,#f7f5f4,#f5f6f7,#f3f5f6,#f3f5f6,#f7f7f7,#f7f7f7,#f7f5f4,#f7f5f4,#f7f7f7 656px)"></i>
<i style="left:560px;background:linear-gradient(#f7f7f7 200px,#f7f5f4,#f7f5f4,#f7f7f7,#f5f6f7,#f3f5f6,#f5f6f7,#f7f7f7,#f8f4f2,#f8f3f0,#f8f4f2,#f7f7f7,#f2f5f6,#eff3f5,#f0f4f6,#f7f7f7,#f9f0eb,#f9eee7,#f9f0eb,#f5f6f7,#e9f0f4,#e3edf3,#e9f0f4,#f7f5f4,#fae8de,#fce2d2,#fae9df,#f3f5f6,#dae9f2,#cfe4ef,#ddebf2,#f8f2ef,#fdd9c4,#f9c6ac,#fdddcb,#eff3f5,#b8d8e9,#a0cce2,#cae1ee,#f9eee7,#f6b394,#ee9677,#fac8af,#e7f0f4,#8dc2dc,#62a7ce,#aed3e6,#fae9df,#e98b6e,#d86551,#f7b596,#e1edf3,#62a7ce,#3e8cbf,#9dcbe1,#fbe5d8,#dd7059,#ce4f45,#f6af8e,#ddebf2,#569fc9,#3c8abe,#a2cde3,#fbe4d6,#e17860,#d6604d,#f8bb9e,#deebf2,#6eaed2,#59a1ca,#b8d8e9,#fbe6da,#f09c7b,#ea8e70,#fbd0b9,#e3edf3,#a0cce2,#98c8e0,#d2e6f0,#faeae1,#f9c4a9,#f8bfa4,#fbe3d4,#e9f0f4,#cae1ee,#c7e0ed,#e3edf3,#f9efe9,#fcdfcf,#fcdfcf,#f9ede5,#eff3f5,#e1edf3,#e1edf3,#edf2f5,#f8f3f0,#f9ebe3,#f9ebe3,#f8f2ef,#f3f5f6,#edf2f5,#edf2f5,#f3f5f6,#f7f5f4,#f8f2ef,#f8f2ef,#f7f5f4,#f5f6f7,#f3f5f6,#f3f5f6,#f5f6f7,#f7f7f7,#f7f5f4,#f7f5f4,#f7f7f7,#f7f7f7,#f5f6f7,#f7f7f7 668px)"></i>
<i style="left:565px;background:linear-gradient(#f7f7f7 200px,#f7f5f4,#f7f5f4,#f7f7f7,#f5f6f7,#f3f5f6,#f5f6f7,#f7f7f7,#f8f4f2,#f8f3f0,#f8f3f0,#f7f7f7,#f0f4f6,#edf2f5,#f0f4f6,#f7f7f7,#f9f0eb,#f9ede5,#f9efe9,#f7f7f7,#e9f0f4,#e1edf3,#e7f0f4,#f7f7f7,#fae8de,#fce0d0,#fae7dc,#f5f6f7,#dae9f2,#cae1ee,#dae9f2,#f8f4f2,#fdd9c4,#f9c2a7,#fdd9c4,#f2f5f6,#bbdaea,#98c8e0,#c0dceb,#f8f1ed,#f7b596,#ea8e70,#f8bda1,#edf2f5,#8dc2dc,#59a1ca,#a0cce2,#f9eee7,#e98b6e,#d35a4a,#f5a886,#e7f0f4,#62a7ce,#3885bc,#8dc2dc,#faeae1,#dd7059,#c6413e,#f19e7d,#e4eef4,#569fc9,#3681ba,#90c4dd,#fae8de,#df765e,#ce4f45,#f5ac8b,#e3edf3,#6bacd1,#4997c5,#a9d1e5,#fae9df,#ee9677,#e48066,#f9c6ac,#e6eff4,#9bc9e0,#8ac0db,#cae1ee,#f9ede5,#f8bfa4,#f7b799,#fcdecd,#ecf2f5,#c5dfec,#c0dceb,#deebf2,#f9f0eb,#fcdecd,#fddcc9,#fae9df,#f0f4f6,#deebf2,#deebf2,#eaf1f5,#f8f3f0,#faeae1,#faeae1,#f8f1ed,#f3f5f6,#ecf2f5,#ecf2f5,#f2f5f6,#f7f5f4,#f8f2ef,#f8f2ef,#f8f4f2,#f5f6f7,#f2f5f6,#f2f5f6,#f5f6f7,#f7f7f7,#f7f5f4,#f7f5f4,#f7f7f7,#f7f7f7,#f5f6f7,#f5f6f7,#f7f7f7 672px)"></i>
<i style="left:570px;background:linear-gradient(#f7f7f7 200px,#f7f5f4,#f7f5f4,#f7f7f7,#f5f6f7,#f3f5f6,#f3f5f6,#f7f7f7,#f8f4f2,#f8f2ef,#f8f3f0,#f7f7f7,#f2f5f6,#edf2f5,#eff3f5,#f7f7f7,#f9f0eb,#f9ede5,#f9efe9,#f7f7f7,#e9f0f4,#e1edf3,#e6eff4,#f7f7f7,#fae8de,#fcdfcf,#fbe5d8,#f7f7f7,#dae9f2,#c7e0ed,#d5e7f1,#f7f7f7,#fdd9c4,#f8bfa4,#fcd5bf,#f7f7f7,#bddbea,#96c7df,#b6d7e8,#f7f5f4,#f7b799,#e8896c,#f7b596,#f3f5f6,#90c4dd,#529dc8,#93c6de,#f8f3f0,#eb9172,#cf5246,#ef9979,#eff3f5,#68abd0,#3480b9,#7bb6d6,#f9f0eb,#df765e,#c13639,#ea8e70,#ecf2f5,#59a1ca,#307ab6,#7eb8d7,#f9eee7,#e17860,#c84440,#f19e7d,#eaf1f5,#6eaed2,#408fc1,#98c8e0,#f9eee7,#ee9677,#df765e,#f7b99c,#ecf2f5,#98c8e0,#7eb8d7,#bddbea,#f9f0eb,#f8bda1,#f6af8e,#fdd9c4,#eff3f5,#c2ddec,#b8d8e9,#d8e9f1,#f8f2ef,#fdddcb,#fdd9c4,#fae7dc,#f2f5f6,#ddebf2,#dae9f2,#e7f0f4,#f8f4f2,#fae9df,#fae8de,#f9f0eb,#f5f6f7,#eaf1f5,#eaf1f5,#f0f4f6,#f7f5f4,#f8f1ed,#f8f1ed,#f8f4f2,#f7f7f7,#f2f5f6,#f2f5f6,#f5f6f7,#f7f7f7,#f8f4f2,#f8f4f2,#f7f5f4,#f7f7f7,#f5f6f7,#f5f6f7,#f7f7f7 672px)"></i>
<i style="left:575px;background:linear-gradient(#f7f7f7 200px,#f7f5f4,#f7f5f4,#f7f7f7,#f5f6f7,#f3f5f6,#f3f5f6,#f7f7f7,#f8f4f2,#f8f2ef,#f8f3f0,#f7f7f7,#f2f5f6,#edf2f5,#eff3f5,#f7f7f7,#f8f1ed,#f9ebe3,#f9eee7,#f7f5f4,#eaf1f5,#e0ecf3,#e4eef4,#f5f6f7,#fae9df,#fcdfcf,#fbe4d6,#f7f5f4,#dbeaf2,#c7e0ed,#d2e6f0,#f3f5f6,#fddcc9,#f8bda1,#fbceb7,#f8f4f2,#c0dceb,#93c6de,#aed3e6,#f3f5f6,#f8bb9e,#e6866a,#f5ac8b,#f8f4f2,#98c8e0,#4c99c6,#87beda,#f5f6f7,#ef9979,#ce4f45,#e98b6e,#f7f5f4,#71b0d3,#327cb7,#68abd0,#f7f7f7,#e37e64,#be3036,#e37e64,#f7f7f7,#62a7ce,#2c75b4,#68abd0,#f7f5f4,#e37e64,#c43b3c,#e98b6e,#f3f5f6,#71b0d3,#3c8abe,#87beda,#f8f4f2,#f09c7b,#dc6e57,#f6af8e,#f2f5f6,#9bc9e0,#75b2d4,#b1d5e7,#f8f3f0,#f8bda1,#f5a886,#fbd0b9,#f2f5f6,#c2ddec,#b1d5e7,#d4e6f1,#f8f4f2,#fdddcb,#fcd5bf,#fbe4d6,#f3f5f6,#ddebf2,#d8e9f1,#e4eef4,#f7f5f4,#fae9df,#fae7dc,#f9eee7,#f5f6f7,#eaf1f5,#e9f0f4,#eff3f5,#f7f7f7,#f8f1ed,#f9f0eb,#f8f3f0,#f7f7f7,#f2f5f6,#f0f4f6,#f3f5f6,#f7f7f7,#f8f4f2,#f8f4f2,#f7f5f4,#f7f7f7,#f5f6f7,#f5f6f7,#f7f7f7 672px)"></i>
<i style="left:580px;background:linear-gradient(#f7f7f7 200px,#f7f5f4,#f7f5f4,#f7f7f7,#f5f6f7,#f3f5f6,#f3f5f6,#f7f7f7,#f8f4f2,#f8f2ef,#f8f2ef,#f7f5f4,#f2f5f6,#edf2f5,#edf2f5,#f5f6f7,#f8f1ed,#f9ebe3,#f9ede5,#f8f4f2,#eaf1f5,#e0ecf3,#e3edf3,#f2f5f6,#faeae1,#fcdfcf,#fce2d2,#f8f3f0,#deebf2,#c7e0ed,#cfe4ef,#eff3f5,#fcdecd,#f8bda1,#fac8af,#f9f0eb,#c7e0ed,#93c6de,#a7d0e4,#ecf2f5,#f9c4a9,#e6866a,#f3a481,#f9efe9,#a2cde3,#4c99c6,#78b4d5,#eaf1f5,#f3a481,#cc4c44,#e27b62,#f9eee7,#7eb8d7,#307ab6,#569fc9,#ecf2f5,#e98b6e,#bd2d35,#dc6e57,#f9f0eb,#6eaed2,#2b73b3,#569fc9,#eff3f5,#e8896c,#c2383a,#e27b62,#f8f2ef,#7eb8d7,#3a87bd,#75b2d4,#f2f5f6,#f3a481,#da6853,#f2a17f,#f8f4f2,#a0cce2,#6eaed2,#a5cee3,#f5f6f7,#f9c2a7,#f3a481,#fac8af,#f7f7f7,#c5dfec,#acd2e5,#cfe4ef,#f7f7f7,#fdddcb,#fbd0b9,#fce2d2,#f7f7f7,#ddebf2,#d5e7f1,#e1edf3,#f7f7f7,#fae9df,#fbe6da,#f9ede5,#f7f7f7,#eaf1f5,#e7f0f4,#edf2f5,#f7f7f7,#f8f1ed,#f9f0eb,#f8f2ef,#f7f7f7,#f2f5f6,#f0f4f6,#f3f5f6,#f7f7f7,#f8f4f2,#f8f4f2,#f7f5f4,#f7f7f7,#f5f6f7,#f5f6f7,#f7f7f7,#f7f7f7,#f7f7f7,#f7f5f4,#f7f7f7 688px)"></i>
<i style="left:585px;background:linear-gradient(#f7f7f7 188px,#f5f6f7,#f7f7f7,#f7f7f7,#f7f5f4,#f7f5f4,#f7f7f7,#f5f6f7,#f3f5f6,#f3f5f6,#f5f6f7,#f7f5f4,#f8f2ef,#f8f2ef,#f7f5f4,#f2f5f6,#edf2f5,#edf2f5,#f3f5f6,#f8f2ef,#f9ebe3,#f9ebe3,#f8f3f0,#ecf2f5,#e0ecf3,#e1edf3,#f0f4f6,#f9ebe3,#fcdfcf,#fce0d0,#f9f0eb,#e1edf3,#c7e0ed,#cce2ef,#eaf1f5,#fce2d2,#f8bda1,#f9c4a9,#f9ebe3,#d1e5f0,#93c6de,#a0cce2,#e6eff4,#fbccb4,#e8896c,#f09c7b,#fae8de,#aed3e6,#4f9bc7,#6bacd1,#e0ecf3,#f6b191,#ce4f45,#dd7059,#fbe6da,#90c4dd,#327cb7,#4695c4,#e0ecf3,#f09c7b,#be3036,#d55d4c,#fbe6da,#81bad8,#2b73b3,#4393c3,#e1edf3,#ef9979,#c2383a,#db6b55,#fae9df,#8dc2dc,#3885bc,#65a9cf,#e7f0f4,#f5ac8b,#d86551,#ec9374,#f9eee7,#a9d1e5,#6bacd1,#9bc9e0,#edf2f5,#fac8af,#f2a17f,#f8bfa4,#f8f2ef,#cae1ee,#a9d1e5,#c7e0ed,#f2f5f6,#fcdfcf,#fbceb7,#fcdecd,#f8f4f2,#deebf2,#d5e7f1,#e0ecf3,#f5f6f7,#faeae1,#fbe5d8,#faeae1,#f7f7f7,#eaf1f5,#e6eff4,#ecf2f5,#f7f7f7,#f8f1ed,#f9efe9,#f8f2ef,#f7f7f7,#f2f5f6,#f0f4f6,#f2f5f6,#f7f7f7,#f8f4f2,#f8f4f2,#f7f5f4,#f7f7f7,#f5f6f7,#f5f6f7,#f5f6f7,#f7f7f7,#f7f7f7,#f7f5f4,#f7f7f7 688px)"></i>
<i style="left:590px;background:linear-gradient(#f7f7f7 188px,#f5f6f7,#f7f7f7,#f7f7f7,#f7f5f4,#f7f5f4,#f7f7f7,#f7f7f7,#f3f5f6,#f3f5f6,#f5f6f7,#f7f5f4,#f8f2ef,#f8f2ef,#f8f4f2,#f3f5f6,#edf2f5,#ecf2f5,#f2f5f6,#f8f3f0,#f9ede5,#f9ebe3,#f8f2ef,#eff3f5,#e1edf3,#e0ecf3,#edf2f5,#f9eee7,#fce0d0,#fcdfcf,#f9eee7,#e4eef4,#cae1ee,#c7e0ed,#e6eff4,#fbe5d8,#f9c2a7,#f8bfa4,#fae7dc,#d7e8f1,#98c8e0,#9bc9e0,#ddebf2,#fcd7c2,#ea8e70,#ec9374,#fce0d0,#bddbea,#569fc9,#5fa5cd,#d5e7f1,#f8bda1,#d05548,#d7634f,#fddcc9,#a5cee3,#3480b9,#3e8cbf,#d2e6f0,#f5ac8b,#bf3338,#ce4f45,#fddcc9,#98c8e0,#2e77b5,#3c8abe,#d4e6f1,#f5aa89,#c43b3c,#d55d4c,#fce0d0,#a0cce2,#3a87bd,#569fc9,#dbeaf2,#f7b99c,#d86551,#e8896c,#fbe6da,#b6d7e8,#6bacd1,#8dc2dc,#e4eef4,#fbd0b9,#f2a17f,#f7b799,#f9ede5,#d1e5f0,#a9d1e5,#c0dceb,#edf2f5,#fce2d2,#fbceb7,#fddcc9,#f8f2ef,#e1edf3,#d4e6f1,#ddebf2,#f2f5f6,#f9ebe3,#fbe5d8,#fae9df,#f8f4f2,#ecf2f5,#e6eff4,#eaf1f5,#f5f6f7,#f8f1ed,#f9efe9,#f8f1ed,#f7f7f7,#f2f5f6,#f0f4f6,#f2f5f6,#f7f7f7,#f8f4f2,#f8f3f0,#f8f4f2,#f7f7f7,#f5f6f7,#f5f6f7,#f5f6f7,#f7f7f7,#f7f7f7,#f7f5f4,#f7f7f7 688px)"></i>
<i style="left:595px;background:linear-gradient(#f7f7f7 188px,#f5f6f7,#f7f7f7,#f7f7f7,#f7f5f4,#f7f5f4,#f7f5f4,#f7f7f7,#f3f5f6,#f3f5f6,#f5f6f7,#f7f5f4,#f8f3f0,#f8f2ef,#f8f4f2,#f5f6f7,#edf2f5,#ecf2f5,#f2f5f6,#f8f4f2,#f9ede5,#f9ebe3,#f8f1ed,#f0f4f6,#e3edf3,#e0ecf3,#eaf1f5,#f9f0eb,#fce2d2,#fcdecd,#faeae1,#e9f0f4,#cce2ef,#c5dfec,#e1edf3,#fae9df,#f9c4a9,#f8bda1,#fbe3d4,#ddebf2,#9dcbe1,#96c7df,#d5e7f1,#fcdfcf,#ec9374,#e98b6e,#fdd9c4,#cfe4ef,#5fa5cd,#569fc9,#c5dfec,#fbceb7,#d55d4c,#d35a4a,#fbccb4,#b8d8e9,#3885bc,#3885bc,#bbdaea,#f8bfa4,#c53e3d,#c6413e,#fac8af,#aed3e6,#327cb7,#3681ba,#c0dceb,#f8bda1,#c6413e,#ce4f45,#fbd0b9,#b3d6e8,#3c8abe,#4695c4,#cfe4ef,#fac8af,#db6b55,#e27b62,#fcdecd,#c5dfec,#6eaed2,#84bcd9,#dbeaf2,#fdd9c4,#f3a481,#f6b191,#fae7dc,#d7e8f1,#acd2e5,#b8d8e9,#e7f0f4,#fbe5d8,#fbceb7,#fdd9c4,#f9efe9,#e4eef4,#d5e7f1,#dae9f2,#eff3f5,#f9ede5,#fbe5d8,#fae8de,#f8f3f0,#edf2f5,#e6eff4,#e9f0f4,#f3f5f6,#f8f2ef,#f9efe9,#f8f1ed,#f7f5f4,#f3f5f6,#f0f4f6,#f2f5f6,#f7f7f7,#f7f5f4,#f8f3f0,#f8f4f2,#f7f7f7,#f5f6f7,#f5f6f7,#f5f6f7,#f7f7f7,#f7f7f7,#f7f5f4,#f7f7f7 688px)"></i>
<i style="left:600px;background:linear-gradient(#f7f7f7 188px,#f5f6f7,#f7f7f7,#f7f7f7,#f7f5f4,#f7f5f4,#f7f5f4,#f7f7f7,#f3f5f6,#f3f5f6,#f5f6f7,#f7f7f7,#f8f3f0,#f8f2ef,#f8f3f0,#f5f6f7,#eff3f5,#ecf2f5,#f0f4f6,#f7f5f4,#f9eee7,#faeae1,#f9f0eb,#f3f5f6,#e4eef4,#deebf2,#e9f0f4,#f8f2ef,#fbe3d4,#fcdecd,#fae8de,#edf2f5,#d1e5f0,#c5dfec,#ddebf2,#f9eee7,#facab1,#f8bb9e,#fcdecd,#e6eff4,#a5cee3,#90c4dd,#cae1ee,#fae7dc,#f19e7d,#e6866a,#facab1,#dbeaf2,#6bacd1,#4f9bc7,#b1d5e7,#fcdecd,#db6b55,#cf5246,#f7b99c,#d1e5f0,#3f8ec0,#337eb8,#a5cee3,#fcd7c2,#cb4942,#c13639,#f6b394,#c7e0ed,#3783bb,#307ab6,#a7d0e4,#fcd3bc,#ce4f45,#c84440,#f8bda1,#cae1ee,#4291c2,#3f8ec0,#b8d8e9,#fdd9c4,#de735c,#de735c,#fbd0b9,#d4e6f1,#78b4d5,#78b4d5,#d2e6f0,#fce0d0,#f5a886,#f5ac8b,#fce2d2,#deebf2,#aed3e6,#b3d6e8,#e1edf3,#fae8de,#fbd0b9,#fcd5bf,#f9ebe3,#e9f0f4,#d5e7f1,#d8e9f1,#ecf2f5,#f9efe9,#fbe6da,#fae7dc,#f8f1ed,#eff3f5,#e7f0f4,#e9f0f4,#f2f5f6,#f8f3f0,#f9efe9,#f9f0eb,#f8f4f2,#f3f5f6,#f0f4f6,#f0f4f6,#f5f6f7,#f7f5f4,#f8f4f2,#f8f4f2,#f7f7f7,#f7f7f7,#f5f6f7,#f5f6f7,#f7f7f7,#f7f7f7,#f7f5f4,#f7f7f7 688px)"></i>
<i style="left:605px;background:linear-gradient(#f7f7f7 188px,#f5f6f7,#f7f7f7,#f7f7f7,#f7f5f4,#f7f5f4,#f7f5f4,#f7f7f7,#f5f6f7,#f3f5f6,#f3f5f6,#f7f7f7,#f8f3f0,#f8f2ef,#f8f3f0,#f7f7f7,#f0f4f6,#ecf2f5,#eff3f5,#f7f7f7,#f9efe9,#faeae1,#f9efe9,#f5f6f7,#e6eff4,#deebf2,#e6eff4,#f7f5f4,#fbe5d8,#fcdecd,#fbe6da,#f3f5f6,#d5e7f1,#c2ddec,#d7e8f1,#f8f3f0,#fbd0b9,#f7b99c,#fcd7c2,#eff3f5,#aed3e6,#8dc2dc,#bddbea,#f9efe9,#f5aa89,#e58368,#f8bb9e,#e9f0f4,#7bb6d6,#4997c5,#9dcbe1,#fae9df,#e27b62,#cc4c44,#f4a683,#e1edf3,#4c99c6,#307ab6,#8ac0db,#fbe5d8,#d55d4c,#be3036,#f09c7b,#ddebf2,#408fc1,#2c75b4,#8ac0db,#fbe4d6,#d6604d,#c43b3c,#f5a886,#ddebf2,#4f9bc7,#3b88be,#a2cde3,#fbe5d8,#e48066,#db6b55,#f8bfa4,#e0ecf3,#81bad8,#71b0d3,#c2ddec,#fae8de,#f6af8e,#f4a683,#fddbc7,#e6eff4,#b3d6e8,#aed3e6,#dae9f2,#f9eee7,#fcd5bf,#fcd3bc,#fae7dc,#edf2f5,#d7e8f1,#d7e8f1,#e7f0f4,#f8f1ed,#fbe6da,#fbe6da,#f9f0eb,#f2f5f6,#e7f0f4,#e7f0f4,#f0f4f6,#f8f4f2,#f9efe9,#f9f0eb,#f8f4f2,#f5f6f7,#f0f4f6,#f0f4f6,#f5f6f7,#f7f5f4,#f8f4f2,#f8f4f2,#f7f5f4,#f7f7f7,#f5f6f7,#f5f6f7,#f7f7f7,#f7f7f7,#f7f5f4,#f7f7f7 688px)"></i>
<i style="left:610px;background:linear-gradient(#f7f7f7 188px,#f5f6f7,#f7f7f7,#f7f7f7,#f7f7f7,#f7f5f4,#f7f5f4,#f7f7f7,#f5f6f7,#f3f5f6,#f3f5f6,#f7f7f7,#f8f4f2,#f8f2ef,#f8f3f0,#f7f7f7,#f0f4f6,#ecf2f5,#edf2f5,#f7f7f7,#f9f0eb,#f9ebe3,#f9eee7,#f7f7f7,#e9f0f4,#e0ecf3,#e4eef4,#f7f7f7,#fae8de,#fcdecd,#fbe3d4,#f7f5f4,#dae9f2,#c5dfec,#d2e6f0,#f7f7f7,#fdd9c4,#f8bb9e,#fbceb7,#f7f7f7,#bbdaea,#90c4dd,#aed3e6,#f7f7f7,#f7b799,#e58368,#f6af8e,#f7f7f7,#90c4dd,#4997c5,#8ac0db,#f7f7f7,#eb9172,#cb4942,#ea8e70,#f5f6f7,#65a9cf,#2f79b5,#6bacd1,#f8f3f0,#de735c,#bb2a34,#e48066,#f0f4f6,#569fc9,#2a71b2,#6bacd1,#f8f1ed,#de735c,#c13639,#ea8e70,#eff3f5,#68abd0,#3885bc,#8ac0db,#f8f1ed,#eb9172,#d86551,#f6af8e,#eff3f5,#93c6de,#6bacd1,#b1d5e7,#f8f1ed,#f7b799,#f3a481,#fbceb7,#f0f4f6,#bbdaea,#acd2e5,#d4e6f1,#f8f2ef,#fdd9c4,#fbd0b9,#fbe4d6,#f2f5f6,#dae9f2,#d5e7f1,#e4eef4,#f8f4f2,#fae7dc,#fbe6da,#f9eee7,#f5f6f7,#e9f0f4,#e7f0f4,#eff3f5,#f7f5f4,#f9f0eb,#f9efe9,#f8f3f0,#f7f7f7,#f0f4f6,#f0f4f6,#f3f5f6,#f7f7f7,#f8f4f2,#f8f4f2,#f7f5f4,#f7f7f7,#f5f6f7,#f5f6f7,#f7f7f7,#f7f7f7,#f7f5f4,#f7f5f4,#f7f7f7 692px)"></i>
<i style="left:615px;background:linear-gradient(#f7f7f7 192px,#f5f6f7,#f7f7f7,#f7f7f7,#f7f5f4,#f7f5f4,#f7f7f7,#f5f6f7,#f3f5f6,#f3f5f6,#f7f7f7,#f8f4f2,#f8f2ef,#f8f2ef,#f7f5f4,#f2f5f6,#edf2f5,#edf2f5,#f5f6f7,#f8f1ed,#f9ebe3,#f9ede5,#f8f4f2,#ecf2f5,#e0ecf3,#e1edf3,#f2f5f6,#faeae1,#fcdfcf,#fce2d2,#f8f2ef,#e0ecf3,#c7e0ed,#cfe4ef,#edf2f5,#fcdfcf,#f8bda1,#fac8af,#f9efe9,#cae1ee,#93c6de,#a5cee3,#eaf1f5,#f9c6ac,#e8896c,#f2a17f,#f9ebe3,#a7d0e4,#4f9bc7,#75b2d4,#e7f0f4,#f5a886,#ce4f45,#e17860,#faeae1,#87beda,#327cb7,#4f9bc7,#e7f0f4,#eb9172,#be3036,#d86551,#f9ebe3,#78b4d5,#2b73b3,#4f9bc7,#e9f0f4,#eb9172,#c2383a,#df765e,#f9efe9,#84bcd9,#3885bc,#6eaed2,#edf2f5,#f4a683,#d86551,#f09c7b,#f8f2ef,#a2cde3,#6bacd1,#a0cce2,#f2f5f6,#f9c4a9,#f2a17f,#f9c4a9,#f8f4f2,#c7e0ed,#a9d1e5,#cae1ee,#f5f6f7,#fdddcb,#fbceb7,#fcdfcf,#f7f7f7,#ddebf2,#d5e7f1,#e0ecf3,#f7f7f7,#fae9df,#fbe5d8,#f9ebe3,#f7f7f7,#eaf1f5,#e6eff4,#ecf2f5,#f7f7f7,#f8f1ed,#f9efe9,#f8f2ef,#f7f7f7,#f2f5f6,#f0f4f6,#f3f5f6,#f7f7f7,#f8f4f2,#f8f4f2,#f7f5f4,#f7f7f7,#f5f6f7,#f5f6f7,#f5f6f7,#f7f7f7,#f7f7f7,#f7f5f4,#f7f7f7 692px)"></i>
<i style="left:620px;background:linear-gradient(#f7f7f7 192px,#f5f6f7,#f7f7f7,#f7f7f7,#f7f5f4,#f7f5f4,#f7f7f7,#f7f7f7,#f3f5f6,#f3f5f6,#f5f6f7,#f7f5f4,#f8f2ef,#f8f2ef,#f8f4f2,#f3f5f6,#edf2f5,#edf2f5,#f2f5f6,#f8f3f0,#f9ede5,#f9ebe3,#f8f2ef,#eff3f5,#e1edf3,#e0ecf3,#edf2f5,#f9eee7,#fce0d0,#fcdfcf,#f9eee7,#e6eff4,#cce2ef,#cae1ee,#e6eff4,#fbe6da,#f9c2a7,#f9c2a7,#fae7dc,#d8e9f1,#9bc9e0,#9bc9e0,#ddebf2,#fdd9c4,#eb9172,#ec9374,#fce0d0,#c0dceb,#59a1ca,#62a7ce,#d5e7f1,#f9c2a7,#d35a4a,#d86551,#fddcc9,#a7d0e4,#3681ba,#3f8ec0,#d1e5f0,#f6b191,#c2383a,#cf5246,#fddbc7,#9dcbe1,#307ab6,#3c8abe,#d4e6f1,#f6af8e,#c6413e,#d6604d,#fcdfcf,#a2cde3,#3c8abe,#569fc9,#dbeaf2,#f8bb9e,#db6b55,#e8896c,#fbe6da,#b8d8e9,#6eaed2,#90c4dd,#e4eef4,#fcd3bc,#f3a481,#f7b99c,#f9ede5,#d2e6f0,#acd2e5,#c0dceb,#ecf2f5,#fbe3d4,#fbceb7,#fddcc9,#f8f1ed,#e1edf3,#d5e7f1,#ddebf2,#f2f5f6,#f9ebe3,#fbe5d8,#fae9df,#f8f4f2,#ecf2f5,#e6eff4,#eaf1f5,#f5f6f7,#f8f2ef,#f9efe9,#f8f1ed,#f7f7f7,#f2f5f6,#f0f4f6,#f2f5f6,#f7f7f7,#f8f4f2,#f8f4f2,#f8f4f2,#f7f7f7,#f5f6f7,#f5f6f7,#f5f6f7,#f7f7f7,#f7f7f7,#f7f5f4,#f7f7f7 692px)"></i>
<i style="left:625px;background:linear-gradient(#f7f7f7 192px,#f5f6f7,#f7f7f7,#f7f7f7,#f7f5f4,#f7f5f4,#f7f5f4,#f7f7f7,#f3f5f6,#f3f5f6,#f5f6f7,#f7f7f7,#f8f3f0,#f8f2ef,#f8f4f2,#f5f6f7,#eff3f5,#ecf2f5,#f0f4f6,#f8f4f2,#f9eee7,#f9ebe3,#f9f0eb,#f2f5f6,#e4eef4,#e0ecf3,#eaf1f5,#f8f2ef,#fbe3d4,#fcdecd,#fae9df,#ecf2f5,#d1e5f0,#c7e0ed,#deebf2,#f9ede5,#facab1,#f8bda1,#fce0d0,#e3edf3,#a5cee3,#96c7df,#d1e5f0,#fbe5d8,#f19e7d,#e98b6e,#fbd0b9,#d8e9f1,#6bacd1,#569fc9,#bbdaea,#fddcc9,#db6b55,#d35a4a,#f9c2a7,#cce2ef,#3f8ec0,#3885bc,#aed3e6,#fbd0b9,#cc4c44,#c6413e,#f8bda1,#c2ddec,#3885bc,#3480b9,#b1d5e7,#fbceb7,#ce4f45,#cc4c44,#f9c6ac,#c5dfec,#4393c3,#4393c3,#c2ddec,#fcd5bf,#df765e,#e27b62,#fcd7c2,#d1e5f0,#78b4d5,#81bad8,#d5e7f1,#fcdfcf,#f5aa89,#f6b191,#fbe4d6,#ddebf2,#b1d5e7,#b8d8e9,#e3edf3,#fae8de,#fcd3bc,#fdd9c4,#f9ede5,#e7f0f4,#d7e8f1,#dae9f2,#edf2f5,#f9efe9,#fbe6da,#fae8de,#f8f2ef,#eff3f5,#e7f0f4,#e9f0f4,#f2f5f6,#f8f3f0,#f9efe9,#f9f0eb,#f7f5f4,#f3f5f6,#f0f4f6,#f2f5f6,#f5f6f7,#f7f5f4,#f8f4f2,#f8f4f2,#f7f7f7,#f7f7f7,#f5f6f7,#f5f6f7,#f7f7f7,#f7f7f7,#f7f5f4,#f7f7f7 692px)"></i>
<i style="left:630px;background:linear-gradient(#f7f7f7 192px,#f5f6f7,#f7f7f7,#f7f7f7,#f7f5f4,#f7f5f4,#f7f5f4,#f7f7f7,#f5f6f7,#f3f5f6,#f3f5f6,#f7f7f7,#f8f4f2,#f8f2ef,#f8f3f0,#f7f7f7,#f0f4f6,#ecf2f5,#eff3f5,#f7f7f7,#f9efe9,#f9ebe3,#f9efe9,#f7f7f7,#e7f0f4,#e0ecf3,#e6eff4,#f7f5f4,#fbe6da,#fcdecd,#fbe6da,#f3f5f6,#d7e8f1,#c5dfec,#d8e9f1,#f8f3f0,#fcd5bf,#f8bda1,#fdd9c4,#f0f4f6,#b3d6e8,#93c6de,#bddbea,#f9f0eb,#f6af8e,#e8896c,#f8bda1,#eaf1f5,#84bcd9,#529dc8,#a0cce2,#f9ebe3,#e58368,#d05548,#f4a683,#e4eef4,#59a1ca,#3480b9,#8ac0db,#fae8de,#da6853,#c2383a,#f19e7d,#e0ecf3,#4695c4,#307ab6,#8dc2dc,#fbe6da,#da6853,#c84440,#f5a886,#e0ecf3,#5ca3cb,#3f8ec0,#a2cde3,#fae7dc,#e8896c,#dd7059,#f8bfa4,#e3edf3,#8ac0db,#78b4d5,#c2ddec,#faeae1,#f6b394,#f5aa89,#fddbc7,#e9f0f4,#b8d8e9,#b1d5e7,#dae9f2,#f9eee7,#fcd7c2,#fcd5bf,#fae7dc,#edf2f5,#d8e9f1,#d7e8f1,#e7f0f4,#f8f2ef,#fae7dc,#fae7dc,#f9f0eb,#f2f5f6,#e7f0f4,#e7f0f4,#f0f4f6,#f8f4f2,#f9f0eb,#f9f0eb,#f8f4f2,#f5f6f7,#f0f4f6,#f0f4f6,#f5f6f7,#f7f5f4,#f8f4f2,#f8f4f2,#f7f5f4,#f7f7f7,#f5f6f7,#f5f6f7,#f7f7f7,#f7f7f7,#f7f5f4,#f7f7f7 692px)"></i>
<i style="left:635px;background:linear-gradient(#f7f7f7 208px,#f7f5f4,#f7f5f4,#f7f7f7,#f5f6f7,#f3f5f6,#f3f5f6,#f7f7f7,#f8f4f2,#f8f2ef,#f8f3f0,#f7f7f7,#f2f5f6,#edf2f5,#edf2f5,#f5f6f7,#f8f1ed,#f9ebe3,#f9eee7,#f7f5f4,#eaf1f5,#e1edf3,#e4eef4,#f3f5f6,#fae9df,#fcdfcf,#fbe3d4,#f8f4f2,#deebf2,#c7e0ed,#d2e6f0,#f2f5f6,#fcdecd,#f8bfa4,#fbceb7,#f8f3f0,#c7e0ed,#98c8e0,#aed3e6,#f0f4f6,#f9c2a7,#ea8e70,#f5ac8b,#f8f2ef,#a2cde3,#569fc9,#87beda,#f0f4f6,#f3a481,#d25849,#e98b6e,#f8f2ef,#7eb8d7,#3681ba,#68abd0,#f2f5f6,#e8896c,#c2383a,#e27b62,#f8f4f2,#6eaed2,#307ab6,#65a9cf,#f5f6f7,#e8896c,#c6413e,#e8896c,#f7f7f7,#7eb8d7,#3e8cbf,#84bcd9,#f7f7f7,#f2a17f,#dc6e57,#f5aa89,#f7f7f7,#a0cce2,#75b2d4,#acd2e5,#f7f5f4,#f8bfa4,#f5a886,#fbccb4,#f5f6f7,#c5dfec,#aed3e6,#d2e6f0,#f7f5f4,#fdddcb,#fcd3bc,#fbe3d4,#f5f6f7,#ddebf2,#d7e8f1,#e3edf3,#f7f5f4,#fae9df,#fbe6da,#f9ede5,#f7f7f7,#eaf1f5,#e7f0f4,#edf2f5,#f7f7f7,#f8f1ed,#f9f0eb,#f8f2ef,#f7f7f7,#f2f5f6,#f0f4f6,#f3f5f6,#f7f7f7,#f8f4f2,#f8f4f2,#f7f5f4,#f7f7f7,#f5f6f7,#f5f6f7,#f7f7f7,#f7f7f7,#f7f7f7,#f7f5f4,#f7f7f7 696px)"></i>
<i style="left:640px;background:linear-gradient(#f7f7f7 208px,#f7f5f4,#f7f5f4,#f7f7f7,#f7f7f7,#f3f5f6,#f3f5f6,#f5f6f7,#f7f5f4,#f8f3f0,#f8f2ef,#f7f5f4,#f3f5f6,#edf2f5,#edf2f5,#f3f5f6,#f8f3f0,#f9ede5,#f9ede5,#f8f3f0,#eff3f5,#e3edf3,#e1edf3,#eff3f5,#f9eee7,#fce2d2,#fce2d2,#f9efe9,#e6eff4,#cfe4ef,#cfe4ef,#e9f0f4,#fbe5d8,#f9c6ac,#f9c6ac,#fae9df,#d7e8f1,#a0cce2,#a2cde3,#e1edf3,#fdd9c4,#ee9677,#f19e7d,#fbe4d6,#c0dceb,#62a7ce,#71b0d3,#dae9f2,#f8bfa4,#d7634f,#de735c,#fce0d0,#a7d0e4,#3b88be,#4c99c6,#d8e9f1,#f6b191,#c84440,#d6604d,#fce0d0,#9bc9e0,#3681ba,#4695c4,#dae9f2,#f6af8e,#cc4c44,#dc6e57,#fbe4d6,#a2cde3,#4291c2,#68abd0,#e0ecf3,#f8bb9e,#de735c,#ee9677,#fae9df,#b8d8e9,#78b4d5,#9bc9e0,#e9f0f4,#fcd3bc,#f5aa89,#f8bfa4,#f9efe9,#d2e6f0,#b1d5e7,#c7e0ed,#eff3f5,#fbe3d4,#fcd3bc,#fcdecd,#f8f3f0,#e1edf3,#d7e8f1,#deebf2,#f3f5f6,#f9ebe3,#fbe6da,#faeae1,#f7f5f4,#ecf2f5,#e7f0f4,#ecf2f5,#f5f6f7,#f8f2ef,#f9f0eb,#f8f2ef,#f7f7f7,#f2f5f6,#f0f4f6,#f2f5f6,#f7f7f7,#f8f4f2,#f8f4f2,#f7f5f4,#f7f7f7,#f5f6f7,#f5f6f7,#f5f6f7,#f7f7f7,#f7f7f7,#f7f5f4,#f7f7f7 696px)"></i>
<i style="left:645px;background:linear-gradient(#f7f7f7 208px,#f7f5f4,#f7f5f4,#f7f5f4,#f7f7f7,#f3f5f6,#f3f5f6,#f5f6f7,#f7f7f7,#f8f3f0,#f8f2ef,#f8f4f2,#f5f6f7,#eff3f5,#edf2f5,#f0f4f6,#f7f5f4,#f9efe9,#f9ebe3,#f8f1ed,#f2f5f6,#e6eff4,#e1edf3,#eaf1f5,#f8f2ef,#fbe5d8,#fce0d0,#faeae1,#edf2f5,#d4e6f1,#cae1ee,#e0ecf3,#f9ede5,#fbceb7,#f9c4a9,#fce2d2,#e4eef4,#acd2e5,#9dcbe1,#d2e6f0,#fbe6da,#f5a886,#ee9677,#fcd5bf,#dae9f2,#78b4d5,#62a7ce,#c0dceb,#fcdecd,#e17860,#d86551,#f9c6ac,#d1e5f0,#4997c5,#3f8ec0,#b3d6e8,#fcd5bf,#d35a4a,#ce4f45,#f9c2a7,#c7e0ed,#3f8ec0,#3c8abe,#b6d7e8,#fcd3bc,#d55d4c,#d35a4a,#facab1,#cae1ee,#529dc8,#529dc8,#c7e0ed,#fdd9c4,#e48066,#e6866a,#fddbc7,#d4e6f1,#84bcd9,#8ac0db,#d8e9f1,#fce0d0,#f6b191,#f7b596,#fbe5d8,#deebf2,#b6d7e8,#bddbea,#e4eef4,#fae9df,#fcd7c2,#fddbc7,#f9ede5,#e9f0f4,#d8e9f1,#dbeaf2,#edf2f5,#f9efe9,#fae7dc,#fae9df,#f8f2ef,#eff3f5,#e7f0f4,#eaf1f5,#f3f5f6,#f8f3f0,#f9f0eb,#f8f1ed,#f7f5f4,#f3f5f6,#f0f4f6,#f2f5f6,#f5f6f7,#f7f5f4,#f8f4f2,#f8f4f2,#f7f7f7,#f7f7f7,#f5f6f7,#f5f6f7,#f7f7f7,#f7f7f7,#f7f5f4,#f7f7f7 696px)"></i>
<i style="left:650px;background:linear-gradient(#f7f7f7 212px,#f7f5f4,#f7f5f4,#f7f7f7,#f5f6f7,#f3f5f6,#f3f5f6,#f7f7f7,#f8f4f2,#f8f2ef,#f8f3f0,#f7f7f7,#f0f4f6,#edf2f5,#eff3f5,#f7f7f7,#f9f0eb,#f9ede5,#f9efe9,#f7f7f7,#e9f0f4,#e1edf3,#e7f0f4,#f7f7f7,#fae8de,#fce0d0,#fbe6da,#f5f6f7,#dae9f2,#cce2ef,#d8e9f1,#f7f5f4,#fddbc7,#f9c4a9,#fdd9c4,#f3f5f6,#bddbea,#9dcbe1,#c0dceb,#f8f3f0,#f7b99c,#ec9374,#f8bfa4,#eff3f5,#96c7df,#62a7ce,#a2cde3,#f9f0eb,#ec9374,#d7634f,#f5aa89,#eaf1f5,#6eaed2,#3c8abe,#90c4dd,#f9ede5,#e27b62,#cb4942,#f2a17f,#e7f0f4,#5fa5cd,#3885bc,#90c4dd,#faeae1,#e27b62,#cf5246,#f5aa89,#e6eff4,#6eaed2,#4997c5,#a5cee3,#faeae1,#ee9677,#e27b62,#f9c2a7,#e7f0f4,#98c8e0,#81bad8,#c2ddec,#f9ede5,#f8bb9e,#f6b191,#fddcc9,#ecf2f5,#c0dceb,#b8d8e9,#dae9f2,#f9f0eb,#fddcc9,#fcd7c2,#fae7dc,#f0f4f6,#dbeaf2,#dae9f2,#e7f0f4,#f8f3f0,#fae8de,#fae8de,#f9f0eb,#f3f5f6,#e9f0f4,#e9f0f4,#f0f4f6,#f7f5f4,#f9f0eb,#f9f0eb,#f8f4f2,#f5f6f7,#f2f5f6,#f2f5f6,#f5f6f7,#f7f7f7,#f8f4f2,#f8f4f2,#f7f5f4,#f7f7f7,#f5f6f7,#f5f6f7,#f7f7f7 684px)"></i>
<i style="left:655px;background:linear-gradient(#f7f7f7 212px,#f7f5f4,#f7f5f4,#f7f7f7,#f5f6f7,#f3f5f6,#f3f5f6,#f7f7f7,#f7f5f4,#f8f3f0,#f8f3f0,#f7f5f4,#f3f5f6,#edf2f5,#eff3f5,#f5f6f7,#f8f2ef,#f9ede5,#f9eee7,#f8f4f2,#edf2f5,#e3edf3,#e4eef4,#f2f5f6,#f9ebe3,#fce2d2,#fbe4d6,#f8f2ef,#e1edf3,#cfe4ef,#d4e6f1,#eff3f5,#fce2d2,#fac8af,#fbd0b9,#f9f0eb,#d2e6f0,#a2cde3,#b1d5e7,#ecf2f5,#fbceb7,#f09c7b,#f6af8e,#f9eee7,#b3d6e8,#68abd0,#8ac0db,#eaf1f5,#f7b596,#db6b55,#ea8e70,#f9ede5,#98c8e0,#3f8ec0,#6bacd1,#eaf1f5,#f3a481,#ce4f45,#e48066,#f9eee7,#8ac0db,#3a87bd,#6bacd1,#ecf2f5,#f2a17f,#d05548,#e98b6e,#f9f0eb,#96c7df,#4997c5,#87beda,#f0f4f6,#f6b394,#e37e64,#f5ac8b,#f8f3f0,#aed3e6,#81bad8,#aed3e6,#f3f5f6,#fbccb4,#f6af8e,#fbccb4,#f7f5f4,#cfe4ef,#b6d7e8,#d2e6f0,#f7f7f7,#fce0d0,#fcd7c2,#fbe3d4,#f7f7f7,#e0ecf3,#d8e9f1,#e3edf3,#f7f7f7,#faeae1,#fae7dc,#f9ede5,#f7f7f7,#ecf2f5,#e9f0f4,#edf2f5,#f7f7f7,#f8f1ed,#f9f0eb,#f8f2ef,#f7f7f7,#f2f5f6,#f0f4f6,#f3f5f6,#f7f7f7,#f8f4f2,#f8f4f2,#f7f5f4,#f7f7f7,#f5f6f7,#f5f6f7,#f7f7f7 684px)"></i>
<i style="left:660px;background:linear-gradient(#f7f7f7 212px,#f7f5f4,#f7f5f4,#f7f7f7,#f7f7f7,#f3f5f6,#f3f5f6,#f5f6f7,#f7f5f4,#f8f3f0,#f8f3f0,#f8f4f2,#f5f6f7,#eff3f5,#edf2f5,#f2f5f6,#f8f4f2,#f9eee7,#f9ede5,#f8f2ef,#f0f4f6,#e6eff4,#e3edf3,#edf2f5,#f9f0eb,#fbe5d8,#fbe3d4,#f9eee7,#eaf1f5,#d4e6f1,#d1e5f0,#e6eff4,#faeae1,#fbceb7,#facab1,#fae7dc,#e0ecf3,#aed3e6,#a9d1e5,#ddebf2,#fce2d2,#f5a886,#f4a683,#fce0d0,#d2e6f0,#7bb6d6,#78b4d5,#d4e6f1,#fcd5bf,#e27b62,#e27b62,#fddbc7,#c0dceb,#4f9bc7,#569fc9,#cfe4ef,#fac8af,#d6604d,#da6853,#fdd9c4,#b6d7e8,#4291c2,#4f9bc7,#d1e5f0,#f9c6ac,#d86551,#df765e,#fdddcb,#bbdaea,#59a1ca,#6eaed2,#d8e9f1,#fbceb7,#e6866a,#ef9979,#fbe4d6,#cce2ef,#8ac0db,#9dcbe1,#e3edf3,#fdddcb,#f7b596,#f9c2a7,#f9ebe3,#dae9f2,#bbdaea,#c7e0ed,#eaf1f5,#fae7dc,#fdd9c4,#fcdfcf,#f8f1ed,#e6eff4,#dae9f2,#e0ecf3,#f0f4f6,#f9eee7,#fae8de,#faeae1,#f8f4f2,#eff3f5,#e9f0f4,#ecf2f5,#f5f6f7,#f8f3f0,#f9f0eb,#f8f2ef,#f7f5f4,#f3f5f6,#f0f4f6,#f2f5f6,#f7f7f7,#f7f5f4,#f8f4f2,#f7f5f4,#f7f7f7,#f5f6f7,#f5f6f7,#f5f6f7,#f7f7f7 688px)"></i>
<i style="left:665px;background:linear-gradient(#f7f7f7 216px,#f7f5f4,#f7f5f4,#f7f7f7,#f5f6f7,#f3f5f6,#f5f6f7,#f7f7f7,#f8f4f2,#f8f3f0,#f8f4f2,#f7f7f7,#f0f4f6,#edf2f5,#f0f4f6,#f7f7f7,#f9f0eb,#f9ede5,#f9f0eb,#f5f6f7,#e9f0f4,#e3edf3,#e9f0f4,#f8f4f2,#fae8de,#fbe3d4,#fae9df,#f2f5f6,#dae9f2,#d1e5f0,#deebf2,#f8f2ef,#fddbc7,#facab1,#fcdfcf,#edf2f5,#bddbea,#a7d0e4,#cfe4ef,#f9eee7,#f7b99c,#f2a17f,#fbceb7,#e7f0f4,#96c7df,#71b0d3,#b6d7e8,#fae9df,#ee9677,#df765e,#f8bda1,#e1edf3,#6eaed2,#4997c5,#a7d0e4,#fbe5d8,#e27b62,#d55d4c,#f7b799,#ddebf2,#62a7ce,#4393c3,#a9d1e5,#fbe4d6,#e37e64,#da6853,#f8bfa4,#ddebf2,#71b0d3,#5fa5cd,#bbdaea,#fbe5d8,#f09c7b,#ea8e70,#fcd3bc,#e1edf3,#9bc9e0,#93c6de,#d2e6f0,#fae9df,#f8bda1,#f7b99c,#fce2d2,#e7f0f4,#c2ddec,#c0dceb,#e1edf3,#f9eee7,#fddcc9,#fddcc9,#f9ebe3,#edf2f5,#ddebf2,#ddebf2,#ecf2f5,#f8f2ef,#fae9df,#fae9df,#f8f1ed,#f2f5f6,#eaf1f5,#eaf1f5,#f2f5f6,#f8f4f2,#f8f1ed,#f8f1ed,#f8f4f2,#f5f6f7,#f2f5f6,#f2f5f6,#f5f6f7,#f7f5f4,#f8f4f2,#f8f4f2,#f7f7f7,#f7f7f7,#f5f6f7,#f5f6f7,#f7f7f7 688px)"></i>
<i style="left:670px;background:linear-gradient(#f7f7f7 216px,#f7f5f4,#f7f5f4,#f7f7f7,#f5f6f7,#f3f5f6,#f3f5f6,#f7f7f7,#f7f5f4,#f8f3f0,#f8f3f0,#f7f7f7,#f2f5f6,#eff3f5,#eff3f5,#f7f7f7,#f8f2ef,#f9eee7,#f9efe9,#f7f5f4,#ecf2f5,#e4eef4,#e7f0f4,#f5f6f7,#f9ebe3,#fbe4d6,#fbe6da,#f8f4f2,#e1edf3,#d2e6f0,#d8e9f1,#f3f5f6,#fce2d2,#fbccb4,#fdd9c4,#f8f3f0,#d1e5f0,#a9d1e5,#bddbea,#f2f5f6,#fbceb7,#f4a683,#f8bda1,#f8f3f0,#b1d5e7,#78b4d5,#9dcbe1,#f2f5f6,#f6b394,#e17860,#f3a481,#f8f4f2,#98c8e0,#4c99c6,#87beda,#f3f5f6,#f2a17f,#d6604d,#ef9979,#f7f5f4,#8ac0db,#4393c3,#87beda,#f7f7f7,#f2a17f,#da6853,#f3a481,#f7f7f7,#96c7df,#5fa5cd,#9dcbe1,#f7f7f7,#f6b394,#e98b6e,#f8bb9e,#f5f6f7,#b1d5e7,#90c4dd,#bddbea,#f7f5f4,#fbccb4,#f7b799,#fcd7c2,#f5f6f7,#cfe4ef,#bddbea,#d8e9f1,#f7f5f4,#fce0d0,#fddbc7,#fbe6da,#f5f6f7,#e0ecf3,#dbeaf2,#e6eff4,#f7f5f4,#f9ebe3,#fae9df,#f9efe9,#f7f7f7,#ecf2f5,#eaf1f5,#eff3f5,#f7f7f7,#f8f1ed,#f8f1ed,#f8f3f0,#f7f7f7,#f2f5f6,#f2f5f6,#f3f5f6,#f7f7f7,#f8f4f2,#f8f4f2,#f7f5f4,#f7f7f7,#f5f6f7,#f5f6f7,#f7f7f7 688px)"></i>
<i style="left:675px;background:linear-gradient(#f7f7f7 216px,#f7f5f4,#f7f5f4,#f7f7f7,#f7f7f7,#f5f6f7,#f3f5f6,#f5f6f7,#f7f5f4,#f8f3f0,#f8f3f0,#f7f5f4,#f5f6f7,#f0f4f6,#eff3f5,#f3f5f6,#f8f4f2,#f9efe9,#f9eee7,#f8f3f0,#f0f4f6,#e6eff4,#e6eff4,#eff3f5,#f9f0eb,#fbe6da,#fbe5d8,#f9f0eb,#e9f0f4,#d5e7f1,#d5e7f1,#eaf1f5,#fae9df,#fcd3bc,#fcd3bc,#faeae1,#deebf2,#b3d6e8,#b3d6e8,#e3edf3,#fce0d0,#f6af8e,#f6b191,#fbe6da,#d1e5f0,#87beda,#8dc2dc,#ddebf2,#fcd3bc,#e6866a,#eb9172,#fce2d2,#bddbea,#5fa5cd,#6eaed2,#dae9f2,#f9c6ac,#dc6e57,#e48066,#fce2d2,#b3d6e8,#529dc8,#6bacd1,#dbeaf2,#f9c4a9,#de735c,#e98b6e,#fbe5d8,#bbdaea,#68abd0,#84bcd9,#e1edf3,#fbceb7,#ec9374,#f5aa89,#fae9df,#cae1ee,#96c7df,#acd2e5,#e9f0f4,#fdddcb,#f8bb9e,#fbccb4,#f9efe9,#dae9f2,#c0dceb,#d1e5f0,#eff3f5,#fae7dc,#fddcc9,#fce2d2,#f8f3f0,#e6eff4,#ddebf2,#e3edf3,#f3f5f6,#f9eee7,#fae9df,#f9ede5,#f7f5f4,#eff3f5,#eaf1f5,#edf2f5,#f5f6f7,#f8f3f0,#f8f1ed,#f8f2ef,#f7f7f7,#f3f5f6,#f2f5f6,#f3f5f6,#f7f7f7,#f7f5f4,#f8f4f2,#f7f5f4,#f7f7f7,#f5f6f7,#f5f6f7,#f7f7f7 688px)"></i>
<i style="left:680px;background:linear-gradient(#f7f7f7 220px,#f7f5f4,#f7f7f7,#f7f7f7,#f5f6f7,#f3f5f6,#f5f6f7,#f7f7f7,#f8f4f2,#f8f3f0,#f8f4f2,#f7f7f7,#f0f4f6,#eff3f5,#f2f5f6,#f7f5f4,#f9f0eb,#f9eee7,#f8f1ed,#f5f6f7,#e9f0f4,#e4eef4,#ecf2f5,#f8f4f2,#fae8de,#fbe4d6,#f9ebe3,#f2f5f6,#dbeaf2,#d4e6f1,#e1edf3,#f8f1ed,#fddcc9,#fbd0b9,#fbe3d4,#ecf2f5,#c2ddec,#b1d5e7,#d5e7f1,#f9ede5,#f8bfa4,#f5ac8b,#fdd9c4,#e4eef4,#9dcbe1,#87beda,#c5dfec,#fae7dc,#f19e7d,#e8896c,#facab1,#deebf2,#7bb6d6,#62a7ce,#b8d8e9,#fbe3d4,#e8896c,#df765e,#f9c6ac,#dae9f2,#6eaed2,#5ca3cb,#bbdaea,#fce2d2,#e98b6e,#e37e64,#fbceb7,#dbeaf2,#81bad8,#75b2d4,#cae1ee,#fbe4d6,#f3a481,#f2a17f,#fddcc9,#e0ecf3,#a5cee3,#a2cde3,#d8e9f1,#fae8de,#f9c4a9,#f9c4a9,#fbe6da,#e6eff4,#c7e0ed,#cae1ee,#e4eef4,#f9eee7,#fcdecd,#fcdfcf,#f9eee7,#edf2f5,#deebf2,#e0ecf3,#edf2f5,#f8f1ed,#faeae1,#f9ebe3,#f8f2ef,#f2f5f6,#eaf1f5,#ecf2f5,#f3f5f6,#f8f4f2,#f8f1ed,#f8f2ef,#f7f5f4,#f5f6f7,#f2f5f6,#f2f5f6,#f5f6f7,#f7f5f4,#f8f4f2,#f7f5f4,#f7f7f7,#f7f7f7,#f5f6f7,#f5f6f7,#f7f7f7 692px)"></i>
<i style="left:685px;background:linear-gradient(#f7f7f7 220px,#f7f5f4,#f7f5f4,#f7f7f7,#f5f6f7,#f3f5f6,#f5f6f7,#f7f7f7,#f7f5f4,#f8f3f0,#f8f4f2,#f7f7f7,#f3f5f6,#eff3f5,#f0f4f6,#f7f7f7,#f8f2ef,#f9efe9,#f9f0eb,#f7f7f7,#edf2f5,#e6eff4,#e9f0f4,#f7f7f7,#f9ede5,#fbe5d8,#fae8de,#f7f5f4,#e3edf3,#d5e7f1,#ddebf2,#f5f6f7,#fbe3d4,#fcd3bc,#fdddcb,#f7f5f4,#d2e6f0,#b3d6e8,#cae1ee,#f5f6f7,#fcd3bc,#f6b191,#fac8af,#f7f5f4,#b8d8e9,#8ac0db,#aed3e6,#f7f7f7,#f7b99c,#e98b6e,#f6b394,#f7f7f7,#a0cce2,#65a9cf,#9bc9e0,#f7f7f7,#f5aa89,#df765e,#f5aa89,#f5f6f7,#96c7df,#5ca3cb,#9bc9e0,#f7f5f4,#f5aa89,#e27b62,#f6b394,#f3f5f6,#9dcbe1,#75b2d4,#acd2e5,#f8f4f2,#f7b99c,#f09c7b,#fac8af,#f2f5f6,#b6d7e8,#9dcbe1,#cae1ee,#f8f4f2,#fbd0b9,#f9c2a7,#fdddcb,#f3f5f6,#d2e6f0,#c7e0ed,#ddebf2,#f8f4f2,#fbe3d4,#fcdecd,#fae8de,#f5f6f7,#e3edf3,#deebf2,#e9f0f4,#f7f5f4,#f9ede5,#faeae1,#f9f0eb,#f5f6f7,#edf2f5,#ecf2f5,#f0f4f6,#f7f7f7,#f8f2ef,#f8f1ed,#f8f4f2,#f7f7f7,#f2f5f6,#f2f5f6,#f5f6f7,#f7f7f7,#f7f5f4,#f8f4f2,#f7f5f4,#f7f7f7,#f5f6f7,#f5f6f7,#f7f7f7 692px)"></i>
<i style="left:690px;background:linear-gradient(#f7f7f7 220px,#f7f5f4,#f7f5f4,#f7f7f7,#f7f7f7,#f5f6f7,#f5f6f7,#f7f7f7,#f7f5f4,#f8f4f2,#f8f3f0,#f7f5f4,#f5f6f7,#f0f4f6,#f0f4f6,#f3f5f6,#f8f4f2,#f9f0eb,#f9efe9,#f8f4f2,#f0f4f6,#e7f0f4,#e7f0f4,#f0f4f6,#f9f0eb,#fae7dc,#fae7dc,#f8f1ed,#eaf1f5,#dae9f2,#d8e9f1,#ecf2f5,#faeae1,#fdd9c4,#fdd9c4,#f9ede5,#e0ecf3,#bddbea,#c0dceb,#e6eff4,#fce2d2,#f7b99c,#f8bda1,#fae8de,#d2e6f0,#96c7df,#9dcbe1,#e1edf3,#fcd5bf,#ef9979,#f3a481,#fbe6da,#c2ddec,#71b0d3,#84bcd9,#e0ecf3,#facab1,#e48066,#ee9677,#fbe6da,#bbdaea,#68abd0,#84bcd9,#e1edf3,#fac8af,#e6866a,#f19e7d,#fae8de,#c0dceb,#7eb8d7,#98c8e0,#e6eff4,#fcd3bc,#f3a481,#f7b799,#f9ede5,#cfe4ef,#a2cde3,#b8d8e9,#ecf2f5,#fcdecd,#f9c4a9,#fcd5bf,#f8f1ed,#ddebf2,#cae1ee,#d5e7f1,#f0f4f6,#fae8de,#fcdfcf,#fbe5d8,#f8f4f2,#e7f0f4,#deebf2,#e4eef4,#f5f6f7,#f9efe9,#faeae1,#f9eee7,#f7f5f4,#eff3f5,#ecf2f5,#eff3f5,#f7f7f7,#f8f3f0,#f8f1ed,#f8f3f0,#f7f7f7,#f3f5f6,#f2f5f6,#f3f5f6,#f7f7f7,#f7f5f4,#f8f4f2,#f7f5f4,#f7f7f7,#f7f7f7,#f5f6f7,#f7f7f7 692px)"></i>
<i style="left:695px;background:linear-gradient(#f7f7f7 224px,#f7f5f4,#f7f7f7,#f7f7f7,#f5f6f7,#f5f6f7,#f5f6f7,#f7f7f7,#f8f4f2,#f8f3f0,#f8f4f2,#f7f7f7,#f2f5f6,#f0f4f6,#f2f5f6,#f7f5f4,#f8f1ed,#f9efe9,#f8f2ef,#f5f6f7,#eaf1f5,#e7f0f4,#edf2f5,#f8f4f2,#faeae1,#fbe6da,#f9ede5,#f2f5f6,#deebf2,#d8e9f1,#e4eef4,#f8f1ed,#fcdecd,#fcd7c2,#fbe6da,#ecf2f5,#cae1ee,#bbdaea,#dae9f2,#f9ede5,#f9c6ac,#f7b99c,#fcdecd,#e6eff4,#a9d1e5,#98c8e0,#cfe4ef,#fae8de,#f5ac8b,#f09c7b,#fcd5bf,#e0ecf3,#8dc2dc,#7bb6d6,#c5dfec,#fbe4d6,#ef9979,#e98b6e,#fbd0b9,#dbeaf2,#81bad8,#75b2d4,#c7e0ed,#fbe3d4,#f09c7b,#ec9374,#fcd7c2,#ddebf2,#93c6de,#8ac0db,#d2e6f0,#fbe5d8,#f6b191,#f6af8e,#fce0d0,#e1edf3,#aed3e6,#aed3e6,#ddebf2,#fae9df,#fbccb4,#fbccb4,#fae8de,#e7f0f4,#cfe4ef,#d1e5f0,#e7f0f4,#f9eee7,#fce2d2,#fbe3d4,#f9efe9,#edf2f5,#e1edf3,#e3edf3,#eff3f5,#f8f2ef,#f9ebe3,#f9ede5,#f8f3f0,#f2f5f6,#ecf2f5,#edf2f5,#f3f5f6,#f8f4f2,#f8f2ef,#f8f2ef,#f7f5f4,#f5f6f7,#f2f5f6,#f3f5f6,#f7f7f7,#f7f7f7,#f7f5f4,#f7f5f4,#f7f7f7,#f7f7f7,#f5f6f7,#f5f6f7,#f7f7f7 696px)"></i>
<i style="left:700px;background:linear-gradient(#f7f7f7 224px,#f7f5f4,#f7f7f7,#f7f7f7,#f5f6f7,#f5f6f7,#f5f6f7,#f7f7f7,#f7f5f4,#f8f4f2,#f8f4f2,#f7f7f7,#f3f5f6,#f0f4f6,#f2f5f6,#f7f7f7,#f8f2ef,#f9f0eb,#f8f1ed,#f7f7f7,#edf2f5,#e7f0f4,#eaf1f5,#f7f7f7,#f9eee7,#fae7dc,#faeae1,#f7f7f7,#e4eef4,#dae9f2,#e0ecf3,#f7f7f7,#fbe5d8,#fdd9c4,#fce0d0,#f7f7f7,#d7e8f1,#bddbea,#d1e5f0,#f7f7f7,#fdd9c4,#f8bb9e,#fbd0b9,#f7f7f7,#c0dceb,#9bc9e0,#bbdaea,#f7f7f7,#f9c2a7,#f19e7d,#f8bfa4,#f7f7f7,#a9d1e5,#7bb6d6,#a9d1e5,#f7f5f4,#f7b596,#e98b6e,#f7b99c,#f5f6f7,#a2cde3,#75b2d4,#a9d1e5,#f8f4f2,#f7b596,#eb9172,#f8bfa4,#f3f5f6,#a9d1e5,#8ac0db,#bbdaea,#f8f3f0,#f9c2a7,#f5ac8b,#fbd0b9,#f2f5f6,#c0dceb,#acd2e5,#d1e5f0,#f8f3f0,#fdd9c4,#facab1,#fce0d0,#f3f5f6,#d7e8f1,#cfe4ef,#e0ecf3,#f8f4f2,#fbe5d8,#fce2d2,#faeae1,#f5f6f7,#e4eef4,#e1edf3,#eaf1f5,#f7f5f4,#f9eee7,#f9ebe3,#f8f1ed,#f5f6f7,#edf2f5,#edf2f5,#f2f5f6,#f7f7f7,#f8f2ef,#f8f2ef,#f8f4f2,#f7f7f7,#f3f5f6,#f3f5f6,#f5f6f7,#f7f7f7,#f7f5f4,#f7f5f4,#f7f7f7,#f7f7f7,#f5f6f7,#f5f6f7,#f7f7f7 696px)"></i>
<i style="left:705px;background:linear-gradient(#f7f7f7 228px,#f7f5f4,#f7f7f7,#f7f7f7,#f5f6f7,#f5f6f7,#f7f7f7,#f7f7f7,#f8f4f2,#f8f4f2,#f7f5f4,#f5f6f7,#f2f5f6,#f0f4f6,#f5f6f7,#f8f4f2,#f9f0eb,#f9f0eb,#f8f4f2,#f2f5f6,#eaf1f5,#e9f0f4,#f2f5f6,#f8f1ed,#fae9df,#fae9df,#f8f2ef,#ecf2f5,#ddebf2,#ddebf2,#edf2f5,#f9ebe3,#fdddcb,#fcdecd,#f9eee7,#e3edf3,#c7e0ed,#cae1ee,#e9f0f4,#fbe4d6,#f9c4a9,#fac8af,#faeae1,#d7e8f1,#a5cee3,#acd2e5,#e4eef4,#fddcc9,#f5a886,#f6b191,#fae8de,#cce2ef,#8ac0db,#98c8e0,#e3edf3,#fcd3bc,#ee9677,#f5a886,#fae8de,#c5dfec,#81bad8,#96c7df,#e4eef4,#fbd0b9,#f09c7b,#f6af8e,#faeae1,#cae1ee,#93c6de,#a7d0e4,#e9f0f4,#fdd9c4,#f6b191,#f9c2a7,#f9eee7,#d4e6f1,#b1d5e7,#c2ddec,#edf2f5,#fce2d2,#fbceb7,#fddbc7,#f8f2ef,#e0ecf3,#d1e5f0,#dae9f2,#f2f5f6,#fae9df,#fce2d2,#fae7dc,#f8f4f2,#e9f0f4,#e1edf3,#e7f0f4,#f5f6f7,#f9f0eb,#f9ebe3,#f9efe9,#f7f5f4,#f0f4f6,#edf2f5,#f0f4f6,#f7f7f7,#f8f3f0,#f8f2ef,#f8f3f0,#f7f7f7,#f3f5f6,#f3f5f6,#f3f5f6,#f7f7f7,#f7f5f4,#f7f5f4,#f7f5f4,#f7f7f7,#f7f7f7,#f5f6f7,#f7f7f7 696px)"></i>
<i style="left:710px;background:linear-gradient(#f7f7f7 228px,#f7f5f4,#f7f7f7,#f7f7f7,#f5f6f7,#f5f6f7,#f5f6f7,#f7f7f7,#f8f4f2,#f8f4f2,#f7f5f4,#f7f7f7,#f2f5f6,#f0f4f6,#f3f5f6,#f7f7f7,#f8f2ef,#f9f0eb,#f8f2ef,#f5f6f7,#ecf2f5,#e9f0f4,#eff3f5,#f8f4f2,#f9ebe3,#fae8de,#f9eee7,#f2f5f6,#e1edf3,#dbeaf2,#e7f0f4,#f8f2ef,#fce2d2,#fdddcb,#fae8de,#edf2f5,#d2e6f0,#c7e0ed,#deebf2,#f9eee7,#fbd0b9,#f9c4a9,#fce0d0,#e9f0f4,#b6d7e8,#a7d0e4,#d5e7f1,#faeae1,#f7b99c,#f5ac8b,#fddbc7,#e3edf3,#a0cce2,#90c4dd,#cfe4ef,#fbe6da,#f5aa89,#f19e7d,#fdd9c4,#e0ecf3,#98c8e0,#8ac0db,#d1e5f0,#fbe5d8,#f5ac8b,#f4a683,#fddcc9,#e0ecf3,#a2cde3,#9dcbe1,#d7e8f1,#fae7dc,#f8bda1,#f8bb9e,#fbe3d4,#e4eef4,#bbdaea,#bbdaea,#e0ecf3,#faeae1,#fcd5bf,#fcd5bf,#faeae1,#e9f0f4,#d5e7f1,#d5e7f1,#e9f0f4,#f9efe9,#fbe4d6,#fbe5d8,#f9f0eb,#eff3f5,#e4eef4,#e4eef4,#f0f4f6,#f8f2ef,#f9ede5,#f9eee7,#f8f3f0,#f3f5f6,#edf2f5,#eff3f5,#f3f5f6,#f7f5f4,#f8f2ef,#f8f3f0,#f7f5f4,#f5f6f7,#f3f5f6,#f3f5f6,#f7f7f7,#f7f7f7,#f7f5f4,#f7f5f4,#f7f7f7,#f7f7f7,#f5f6f7,#f7f7f7 696px)"></i>
<i style="left:715px;background:linear-gradient(#f7f7f7 244px,#f5f6f7,#f5f6f7,#f7f7f7,#f7f5f4,#f8f4f2,#f8f4f2,#f7f7f7,#f3f5f6,#f2f5f6,#f2f5f6,#f7f7f7,#f8f3f0,#f8f1ed,#f8f1ed,#f7f7f7,#eff3f5,#eaf1f5,#ecf2f5,#f7f7f7,#f9efe9,#fae9df,#f9ebe3,#f7f7f7,#e7f0f4,#ddebf2,#e3edf3,#f7f7f7,#fae7dc,#fcdecd,#fbe4d6,#f7f5f4,#dbeaf2,#cae1ee,#d5e7f1,#f7f7f7,#fdddcb,#f9c6ac,#fdd9c4,#f7f7f7,#cce2ef,#a9d1e5,#c5dfec,#f7f7f7,#fbceb7,#f6af8e,#facab1,#f7f7f7,#b8d8e9,#93c6de,#b6d7e8,#f7f7f7,#f9c2a7,#f2a17f,#f9c4a9,#f5f6f7,#b1d5e7,#8dc2dc,#b6d7e8,#f7f5f4,#f9c2a7,#f4a683,#facab1,#f3f5f6,#b8d8e9,#9dcbe1,#c5dfec,#f8f4f2,#fbccb4,#f7b99c,#fdd9c4,#f3f5f6,#cce2ef,#b8d8e9,#d5e7f1,#f8f4f2,#fdddcb,#fcd5bf,#fbe4d6,#f3f5f6,#dbeaf2,#d5e7f1,#e3edf3,#f7f5f4,#fae7dc,#fbe4d6,#f9ebe3,#f5f6f7,#e7f0f4,#e4eef4,#ecf2f5,#f7f5f4,#f9efe9,#f9eee7,#f8f1ed,#f7f7f7,#eff3f5,#edf2f5,#f2f5f6,#f7f7f7,#f8f3f0,#f8f2ef,#f8f4f2,#f7f7f7,#f3f5f6,#f3f5f6,#f5f6f7,#f7f7f7,#f7f5f4,#f7f5f4,#f7f7f7 684px)"></i>
<i style="left:720px;background:linear-gradient(#f7f7f7 244px,#f5f6f7,#f5f6f7,#f7f7f7,#f7f7f7,#f8f4f2,#f8f4f2,#f7f5f4,#f5f6f7,#f2f5f6,#f2f5f6,#f5f6f7,#f8f4f2,#f8f1ed,#f8f1ed,#f8f4f2,#f2f5f6,#ecf2f5,#eaf1f5,#f2f5f6,#f8f2ef,#f9ebe3,#faeae1,#f8f2ef,#edf2f5,#e0ecf3,#e0ecf3,#eff3f5,#f9eee7,#fce0d0,#fce0d0,#f9efe9,#e6eff4,#d1e5f0,#d1e5f0,#eaf1f5,#fae7dc,#fbceb7,#fbd0b9,#f9ebe3,#ddebf2,#b3d6e8,#b8d8e9,#e6eff4,#fce0d0,#f7b799,#f8bda1,#fae9df,#d4e6f1,#9dcbe1,#a7d0e4,#e4eef4,#fddbc7,#f5aa89,#f7b596,#fae9df,#d1e5f0,#98c8e0,#a7d0e4,#e6eff4,#fddbc7,#f5ac8b,#f8bb9e,#f9ebe3,#d2e6f0,#a5cee3,#b3d6e8,#e9f0f4,#fcdecd,#f8bda1,#fbccb4,#f9efe9,#dae9f2,#bddbea,#cce2ef,#edf2f5,#fbe5d8,#fcd7c2,#fcdecd,#f8f2ef,#e3edf3,#d7e8f1,#ddebf2,#f2f5f6,#f9ebe3,#fbe5d8,#fae9df,#f8f4f2,#ecf2f5,#e4eef4,#e9f0f4,#f5f6f7,#f8f1ed,#f9eee7,#f9f0eb,#f7f5f4,#f2f5f6,#eff3f5,#f0f4f6,#f7f7f7,#f8f4f2,#f8f3f0,#f8f4f2,#f7f7f7,#f5f6f7,#f3f5f6,#f5f6f7,#f7f7f7,#f7f5f4,#f7f5f4,#f7f5f4,#f7f7f7 688px)"></i>
<i style="left:725px;background:linear-gradient(#f7f7f7 244px,#f5f6f7,#f5f6f7,#f5f6f7,#f7f7f7,#f7f5f4,#f8f4f2,#f7f5f4,#f7f7f7,#f3f5f6,#f2f5f6,#f3f5f6,#f7f7f7,#f8f2ef,#f8f1ed,#f8f3f0,#f5f6f7,#edf2f5,#eaf1f5,#eff3f5,#f7f5f4,#f9eee7,#faeae1,#f9efe9,#f3f5f6,#e4eef4,#e0ecf3,#e9f0f4,#f8f3f0,#fbe5d8,#fce0d0,#fae9df,#f0f4f6,#d7e8f1,#d1e5f0,#e0ecf3,#f9f0eb,#fdd9c4,#fbceb7,#fbe4d6,#ecf2f5,#c2ddec,#b6d7e8,#d8e9f1,#f9ede5,#f9c6ac,#f7b99c,#fcdecd,#e7f0f4,#aed3e6,#a2cde3,#d4e6f1,#fae9df,#f7b99c,#f6af8e,#fdddcb,#e4eef4,#a9d1e5,#9dcbe1,#d4e6f1,#fae9df,#f8bb9e,#f6b394,#fcdfcf,#e4eef4,#b1d5e7,#acd2e5,#dae9f2,#faeae1,#fac8af,#f9c6ac,#fbe5d8,#e7f0f4,#c7e0ed,#c5dfec,#e3edf3,#f9ede5,#fddcc9,#fddcc9,#f9ebe3,#ecf2f5,#dae9f2,#dae9f2,#eaf1f5,#f8f1ed,#fae7dc,#fae7dc,#f9f0eb,#f0f4f6,#e6eff4,#e7f0f4,#f0f4f6,#f8f3f0,#f9efe9,#f9efe9,#f8f4f2,#f3f5f6,#eff3f5,#f0f4f6,#f5f6f7,#f7f5f4,#f8f3f0,#f8f3f0,#f7f5f4,#f5f6f7,#f3f5f6,#f3f5f6,#f7f7f7,#f7f7f7,#f7f5f4,#f7f5f4,#f7f7f7 688px)"></i>
<i style="left:730px;background:linear-gradient(#f7f7f7 248px,#f5f6f7,#f5f6f7,#f7f7f7,#f7f5f4,#f8f4f2,#f7f5f4,#f7f7f7,#f5f6f7,#f2f5f6,#f3f5f6,#f7f7f7,#f8f4f2,#f8f1ed,#f8f2ef,#f7f7f7,#f0f4f6,#ecf2f5,#edf2f5,#f7f7f7,#f9f0eb,#f9ebe3,#f9eee7,#f7f5f4,#eaf1f5,#e1edf3,#e4eef4,#f5f6f7,#faeae1,#fce2d2,#fbe6da,#f7f5f4,#e0ecf3,#d2e6f0,#dae9f2,#f5f6f7,#fce2d2,#fbd0b9,#fdddcb,#f7f5f4,#d4e6f1,#b8d8e9,#cce2ef,#f5f6f7,#fdd9c4,#f8bb9e,#fcd3bc,#f7f5f4,#c7e0ed,#a5cee3,#c2ddec,#f7f7f7,#fbceb7,#f6b191,#fbccb4,#f7f7f7,#c0dceb,#a0cce2,#c2ddec,#f7f7f7,#fbceb7,#f7b596,#fbd0b9,#f7f7f7,#c7e0ed,#acd2e5,#cce2ef,#f7f7f7,#fdd9c4,#f9c6ac,#fdddcb,#f5f6f7,#d4e6f1,#c5dfec,#dae9f2,#f7f5f4,#fce2d2,#fddcc9,#fbe6da,#f5f6f7,#e0ecf3,#dae9f2,#e4eef4,#f7f5f4,#fae9df,#fae7dc,#f9ede5,#f7f7f7,#e9f0f4,#e7f0f4,#edf2f5,#f7f7f7,#f9f0eb,#f9efe9,#f8f2ef,#f7f7f7,#f0f4f6,#eff3f5,#f2f5f6,#f7f7f7,#f8f3f0,#f8f3f0,#f7f5f4,#f7f7f7,#f5f6f7,#f3f5f6,#f5f6f7,#f7f7f7,#f7f5f4,#f7f5f4,#f7f7f7 688px)"></i>
<i style="left:735px;background:linear-gradient(#f7f7f7 248px,#f5f6f7,#f5f6f7,#f7f7f7,#f7f7f7,#f7f5f4,#f8f4f2,#f7f7f7,#f5f6f7,#f3f5f6,#f2f5f6,#f5f6f7,#f7f5f4,#f8f2ef,#f8f2ef,#f8f4f2,#f3f5f6,#edf2f5,#edf2f5,#f2f5f6,#f8f3f0,#f9ede5,#f9ede5,#f8f2ef,#eff3f5,#e4eef4,#e3edf3,#eff3f5,#f9efe9,#fbe5d8,#fbe4d6,#f9f0eb,#e9f0f4,#d7e8f1,#d7e8f1,#eaf1f5,#faeae1,#fdd9c4,#fdd9c4,#f9ede5,#e1edf3,#c2ddec,#c5dfec,#e7f0f4,#fbe5d8,#f9c4a9,#fac8af,#faeae1,#dbeaf2,#aed3e6,#b6d7e8,#e4eef4,#fce0d0,#f7b99c,#f9c2a7,#fae9df,#d7e8f1,#a9d1e5,#b3d6e8,#e6eff4,#fce0d0,#f8bb9e,#f9c6ac,#f9ebe3,#dae9f2,#b3d6e8,#c0dceb,#e9f0f4,#fbe3d4,#facab1,#fcd5bf,#f9efe9,#deebf2,#cae1ee,#d4e6f1,#edf2f5,#fae8de,#fdddcb,#fce2d2,#f8f2ef,#e7f0f4,#dbeaf2,#e0ecf3,#f2f5f6,#f9eee7,#fae7dc,#faeae1,#f8f4f2,#edf2f5,#e7f0f4,#eaf1f5,#f5f6f7,#f8f2ef,#f9efe9,#f8f1ed,#f7f5f4,#f2f5f6,#eff3f5,#f2f5f6,#f7f7f7,#f8f4f2,#f8f3f0,#f8f4f2,#f7f7f7,#f5f6f7,#f3f5f6,#f5f6f7,#f7f7f7,#f7f7f7,#f7f5f4,#f7f7f7 688px)"></i>
<i style="left:740px;background:linear-gradient(#f7f7f7 252px,#f5f6f7,#f7f7f7,#f7f7f7,#f7f5f4,#f8f4f2,#f7f5f4,#f7f7f7,#f3f5f6,#f2f5f6,#f3f5f6,#f7f7f7,#f8f3f0,#f8f2ef,#f8f3f0,#f7f7f7,#eff3f5,#edf2f5,#f0f4f6,#f7f5f4,#f9efe9,#f9ede5,#f9f0eb,#f5f6f7,#e7f0f4,#e3edf3,#eaf1f5,#f8f4f2,#fae8de,#fbe4d6,#faeae1,#f2f5f6,#ddebf2,#d5e7f1,#e3edf3,#f8f2ef,#fcdfcf,#fcd7c2,#fbe5d8,#eff3f5,#d1e5f0,#c2ddec,#dbeaf2,#f9f0eb,#fcd3bc,#f9c6ac,#fce0d0,#eaf1f5,#c0dceb,#b1d5e7,#d7e8f1,#f9eee7,#fac8af,#f8bda1,#fcdfcf,#e9f0f4,#b8d8e9,#aed3e6,#d7e8f1,#f9ede5,#fac8af,#f8bfa4,#fce2d2,#e9f0f4,#c2ddec,#bbdaea,#ddebf2,#f9eee7,#fcd5bf,#fbd0b9,#fbe6da,#ecf2f5,#d2e6f0,#cfe4ef,#e4eef4,#f9f0eb,#fce0d0,#fcdfcf,#f9ede5,#eff3f5,#deebf2,#deebf2,#ecf2f5,#f8f2ef,#fae9df,#fae9df,#f8f1ed,#f2f5f6,#e9f0f4,#e9f0f4,#f2f5f6,#f8f4f2,#f9f0eb,#f9f0eb,#f8f4f2,#f5f6f7,#f0f4f6,#f0f4f6,#f5f6f7,#f7f5f4,#f8f3f0,#f8f4f2,#f7f5f4,#f7f7f7,#f5f6f7,#f5f6f7,#f7f7f7,#f7f7f7,#f7f5f4,#f7f5f4,#f7f7f7 692px)"></i>
<i style="left:745px;background:linear-gradient(#f7f7f7 252px,#f5f6f7,#f5f6f7,#f7f7f7,#f7f7f7,#f7f5f4,#f7f5f4,#f7f7f7,#f5f6f7,#f3f5f6,#f3f5f6,#f7f7f7,#f8f4f2,#f8f2ef,#f8f3f0,#f7f7f7,#f2f5f6,#edf2f5,#eff3f5,#f5f6f7,#f8f1ed,#f9ede5,#f9efe9,#f7f5f4,#ecf2f5,#e4eef4,#e7f0f4,#f5f6f7,#f9ede5,#fbe5d8,#fae8de,#f8f4f2,#e4eef4,#d8e9f1,#ddebf2,#f3f5f6,#fbe6da,#fddbc7,#fce0d0,#f8f4f2,#dbeaf2,#c5dfec,#d4e6f1,#f3f5f6,#fcdfcf,#fac8af,#fdd9c4,#f8f4f2,#d2e6f0,#b3d6e8,#cae1ee,#f3f5f6,#fddbc7,#f8bfa4,#fcd5bf,#f7f5f4,#cfe4ef,#b1d5e7,#cae1ee,#f5f6f7,#fddbc7,#f9c2a7,#fdd9c4,#f7f7f7,#d2e6f0,#bbdaea,#d2e6f0,#f7f7f7,#fcdecd,#fbd0b9,#fcdfcf,#f7f7f7,#dae9f2,#cfe4ef,#ddebf2,#f7f7f7,#fbe5d8,#fcdfcf,#fae7dc,#f7f7f7,#e4eef4,#deebf2,#e7f0f4,#f7f7f7,#f9ebe3,#fae9df,#f9eee7,#f7f7f7,#ecf2f5,#e9f0f4,#eff3f5,#f7f7f7,#f8f1ed,#f9f0eb,#f8f2ef,#f7f7f7,#f2f5f6,#f0f4f6,#f3f5f6,#f7f7f7,#f8f4f2,#f8f4f2,#f7f5f4,#f7f7f7,#f5f6f7,#f5f6f7,#f5f6f7,#f7f7f7,#f7f5f4,#f7f5f4,#f7f7f7 692px)"></i>
<i style="left:750px;background:linear-gradient(#f7f7f7 256px,#f5f6f7,#f7f7f7,#f7f7f7,#f7f5f4,#f7f5f4,#f7f7f7,#f7f7f7,#f3f5f6,#f3f5f6,#f5f6f7,#f7f5f4,#f8f3f0,#f8f2ef,#f8f4f2,#f5f6f7,#eff3f5,#edf2f5,#f3f5f6,#f8f4f2,#f9efe9,#f9eee7,#f8f3f0,#f2f5f6,#e7f0f4,#e6eff4,#eff3f5,#f8f1ed,#fae7dc,#fbe6da,#f9f0eb,#ecf2f5,#dbeaf2,#dbeaf2,#ecf2f5,#f9ede5,#fcdecd,#fcdecd,#f9ede5,#e6eff4,#cfe4ef,#cfe4ef,#e7f0f4,#fae8de,#fbd0b9,#fcd3bc,#faeae1,#e1edf3,#bddbea,#c0dceb,#e6eff4,#fbe6da,#fac8af,#facab1,#faeae1,#deebf2,#b8d8e9,#c0dceb,#e6eff4,#fbe5d8,#facab1,#fbceb7,#f9ebe3,#e0ecf3,#c2ddec,#cae1ee,#e9f0f4,#fae7dc,#fcd5bf,#fddcc9,#f9efe9,#e4eef4,#d2e6f0,#d7e8f1,#edf2f5,#f9ebe3,#fce2d2,#fbe4d6,#f8f2ef,#eaf1f5,#e0ecf3,#e3edf3,#f2f5f6,#f9f0eb,#fae9df,#f9ede5,#f8f4f2,#eff3f5,#eaf1f5,#ecf2f5,#f5f6f7,#f8f3f0,#f9f0eb,#f8f1ed,#f7f5f4,#f3f5f6,#f0f4f6,#f2f5f6,#f7f7f7,#f7f5f4,#f8f4f2,#f8f4f2,#f7f7f7,#f5f6f7,#f5f6f7,#f5f6f7,#f7f7f7,#f7f7f7,#f7f5f4,#f7f7f7 692px)"></i>
<i style="left:755px;background:linear-gradient(#f7f7f7 256px,#f5f6f7,#f7f7f7,#f7f7f7,#f7f5f4,#f7f5f4,#f7f5f4,#f7f7f7,#f5f6f7,#f3f5f6,#f5f6f7,#f7f7f7,#f8f4f2,#f8f2ef,#f8f4f2,#f7f7f7,#f0f4f6,#eff3f5,#f0f4f6,#f7f7f7,#f8f1ed,#f9eee7,#f8f1ed,#f7f7f7,#eaf1f5,#e6eff4,#ecf2f5,#f7f5f4,#faeae1,#fbe6da,#f9ede5,#f3f5f6,#e1edf3,#dae9f2,#e4eef4,#f8f4f2,#fbe4d6,#fdddcb,#fae7dc,#f2f5f6,#d7e8f1,#cce2ef,#deebf2,#f8f2ef,#fddcc9,#fbd0b9,#fbe3d4,#eff3f5,#cfe4ef,#bddbea,#dae9f2,#f8f1ed,#fcd5bf,#fac8af,#fce2d2,#edf2f5,#cae1ee,#bbdaea,#dae9f2,#f9f0eb,#fcd5bf,#fbccb4,#fbe3d4,#edf2f5,#cfe4ef,#c5dfec,#deebf2,#f9f0eb,#fdddcb,#fdd9c4,#fae7dc,#eff3f5,#d8e9f1,#d5e7f1,#e6eff4,#f8f2ef,#fbe4d6,#fbe3d4,#f9ede5,#f0f4f6,#e3edf3,#e1edf3,#ecf2f5,#f8f3f0,#f9ebe3,#f9ebe3,#f8f1ed,#f3f5f6,#ecf2f5,#ecf2f5,#f2f5f6,#f7f5f4,#f8f1ed,#f8f1ed,#f8f4f2,#f5f6f7,#f2f5f6,#f2f5f6,#f5f6f7,#f7f7f7,#f8f4f2,#f8f4f2,#f7f5f4,#f7f7f7,#f5f6f7,#f5f6f7,#f7f7f7,#f7f7f7,#f7f5f4,#f7f7f7 692px)"></i>
<i style="left:760px;background:linear-gradient(#f7f7f7 272px,#f7f5f4,#f7f5f4,#f7f7f7,#f5f6f7,#f3f5f6,#f3f5f6,#f7f7f7,#f7f5f4,#f8f3f0,#f8f3f0,#f7f7f7,#f3f5f6,#eff3f5,#f0f4f6,#f5f6f7,#f8f2ef,#f9efe9,#f9f0eb,#f7f5f4,#eff3f5,#e7f0f4,#e9f0f4,#f3f5f6,#f9efe9,#fae8de,#fae9df,#f8f4f2,#e9f0f4,#ddebf2,#e0ecf3,#f3f5f6,#fae9df,#fcdfcf,#fbe3d4,#f8f3f0,#e0ecf3,#d1e5f0,#d7e8f1,#f2f5f6,#fbe4d6,#fcd5bf,#fdddcb,#f8f3f0,#dae9f2,#c2ddec,#d1e5f0,#f2f5f6,#fce0d0,#fbccb4,#fddbc7,#f8f3f0,#d7e8f1,#bddbea,#d1e5f0,#f3f5f6,#fce0d0,#fbceb7,#fdddcb,#f8f4f2,#dae9f2,#c7e0ed,#d7e8f1,#f5f6f7,#fbe4d6,#fdd9c4,#fbe3d4,#f7f5f4,#e0ecf3,#d5e7f1,#e0ecf3,#f7f7f7,#fae8de,#fbe3d4,#fae9df,#f7f7f7,#e7f0f4,#e1edf3,#e9f0f4,#f7f7f7,#f9eee7,#f9ebe3,#f9efe9,#f7f7f7,#edf2f5,#eaf1f5,#eff3f5,#f7f7f7,#f8f2ef,#f8f1ed,#f8f3f0,#f7f7f7,#f2f5f6,#f2f5f6,#f3f5f6,#f7f7f7,#f8f4f2,#f8f4f2,#f7f5f4,#f7f7f7,#f5f6f7,#f5f6f7,#f7f7f7,#f7f7f7,#f7f7f7,#f7f5f4,#f7f7f7 696px)"></i>
<i style="left:765px;background:linear-gradient(#f7f7f7 272px,#f7f5f4,#f7f5f4,#f7f7f7,#f7f7f7,#f5f6f7,#f3f5f6,#f5f6f7,#f7f7f7,#f8f3f0,#f8f3f0,#f7f5f4,#f5f6f7,#f0f4f6,#eff3f5,#f3f5f6,#f8f4f2,#f9f0eb,#f9efe9,#f8f3f0,#f3f5f6,#eaf1f5,#e9f0f4,#f0f4f6,#f8f2ef,#faeae1,#fae8de,#f9f0eb,#eff3f5,#e0ecf3,#deebf2,#ecf2f5,#f9f0eb,#fbe3d4,#fce2d2,#f9ede5,#eaf1f5,#d5e7f1,#d4e6f1,#e7f0f4,#f9ede5,#fddbc7,#fdd9c4,#faeae1,#e6eff4,#cce2ef,#cae1ee,#e6eff4,#fae9df,#fcd3bc,#fcd5bf,#faeae1,#e4eef4,#c7e0ed,#cae1ee,#e6eff4,#fae9df,#fcd5bf,#fcd7c2,#f9ebe3,#e4eef4,#cfe4ef,#d2e6f0,#e9f0f4,#faeae1,#fdddcb,#fcdfcf,#f9efe9,#e9f0f4,#d8e9f1,#dbeaf2,#edf2f5,#f9eee7,#fbe5d8,#fae7dc,#f8f2ef,#edf2f5,#e3edf3,#e6eff4,#f2f5f6,#f8f1ed,#f9ebe3,#f9eee7,#f8f4f2,#f0f4f6,#ecf2f5,#edf2f5,#f5f6f7,#f8f4f2,#f8f1ed,#f8f2ef,#f7f5f4,#f3f5f6,#f2f5f6,#f2f5f6,#f7f7f7,#f7f5f4,#f8f4f2,#f7f5f4,#f7f7f7,#f7f7f7,#f5f6f7,#f5f6f7,#f7f7f7 684px)"></i>
<i style="left:770px;background:linear-gradient(#f7f7f7 276px,#f7f5f4,#f7f5f4,#f7f7f7,#f5f6f7,#f3f5f6,#f5f6f7,#f7f7f7,#f8f4f2,#f8f3f0,#f8f4f2,#f7f7f7,#f2f5f6,#eff3f5,#f2f5f6,#f7f7f7,#f8f2ef,#f9efe9,#f8f1ed,#f7f7f7,#edf2f5,#e9f0f4,#ecf2f5,#f7f7f7,#f9ede5,#fae9df,#f9ede5,#f7f7f7,#e6eff4,#deebf2,#e6eff4,#f7f5f4,#fae7dc,#fce2d2,#fae8de,#f5f6f7,#ddebf2,#d4e6f1,#e0ecf3,#f8f4f2,#fce2d2,#fdd9c4,#fbe4d6,#f3f5f6,#d7e8f1,#cae1ee,#dbeaf2,#f8f3f0,#fdddcb,#fcd3bc,#fbe3d4,#f2f5f6,#d4e6f1,#c7e0ed,#ddebf2,#f8f2ef,#fdddcb,#fcd5bf,#fbe5d8,#f0f4f6,#d7e8f1,#cfe4ef,#e0ecf3,#f8f3f0,#fce2d2,#fdddcb,#fae8de,#f2f5f6,#deebf2,#dae9f2,#e7f0f4,#f8f3f0,#fae7dc,#fbe6da,#f9eee7,#f3f5f6,#e6eff4,#e4eef4,#edf2f5,#f8f4f2,#f9eee7,#f9ede5,#f8f2ef,#f5f6f7,#edf2f5,#edf2f5,#f2f5f6,#f7f5f4,#f8f2ef,#f8f2ef,#f8f4f2,#f7f7f7,#f2f5f6,#f2f5f6,#f5f6f7,#f7f7f7,#f8f4f2,#f8f4f2,#f7f5f4,#f7f7f7,#f5f6f7,#f5f6f7,#f7f7f7 684px)"></i>
<i style="left:775px;background:linear-gradient(#f7f7f7 276px,#f7f5f4,#f7f5f4,#f7f7f7,#f7f7f7,#f3f5f6,#f3f5f6,#f7f7f7,#f7f5f4,#f8f3f0,#f8f3f0,#f7f7f7,#f3f5f6,#f0f4f6,#f0f4f6,#f5f6f7,#f8f3f0,#f9f0eb,#f9f0eb,#f7f5f4,#f0f4f6,#eaf1f5,#eaf1f5,#f3f5f6,#f8f1ed,#faeae1,#f9ebe3,#f8f4f2,#ecf2f5,#e1edf3,#e3edf3,#f2f5f6,#f9ede5,#fbe3d4,#fbe5d8,#f8f2ef,#e6eff4,#d7e8f1,#dbeaf2,#f0f4f6,#fae8de,#fddcc9,#fcdfcf,#f8f2ef,#e0ecf3,#cfe4ef,#d5e7f1,#f0f4f6,#fbe5d8,#fcd7c2,#fdddcb,#f8f2ef,#deebf2,#cae1ee,#d5e7f1,#f0f4f6,#fbe5d8,#fcd7c2,#fcdfcf,#f8f3f0,#e0ecf3,#d1e5f0,#dae9f2,#f2f5f6,#fae7dc,#fcdecd,#fbe4d6,#f8f4f2,#e4eef4,#dae9f2,#e1edf3,#f5f6f7,#f9ebe3,#fbe6da,#faeae1,#f7f5f4,#eaf1f5,#e4eef4,#eaf1f5,#f7f7f7,#f9f0eb,#f9ede5,#f9f0eb,#f7f7f7,#f0f4f6,#edf2f5,#f0f4f6,#f7f7f7,#f8f3f0,#f8f2ef,#f8f3f0,#f7f7f7,#f3f5f6,#f2f5f6,#f3f5f6,#f7f7f7,#f7f5f4,#f8f4f2,#f7f5f4,#f7f7f7,#f5f6f7,#f5f6f7,#f7f7f7 684px)"></i>
<i style="left:780px;background:linear-gradient(#f7f7f7 276px,#f7f5f4,#f7f5f4,#f7f7f7,#f7f7f7,#f5f6f7,#f3f5f6,#f5f6f7,#f7f7f7,#f8f4f2,#f8f3f0,#f7f5f4,#f7f7f7,#f2f5f6,#f0f4f6,#f3f5f6,#f7f5f4,#f8f1ed,#f9f0eb,#f8f3f0,#f3f5f6,#ecf2f5,#eaf1f5,#f0f4f6,#f8f4f2,#f9ede5,#faeae1,#f9f0eb,#f2f5f6,#e4eef4,#e1edf3,#ecf2f5,#f8f2ef,#fbe6da,#fbe4d6,#f9eee7,#eff3f5,#dbeaf2,#d8e9f1,#e7f0f4,#f9efe9,#fce0d0,#fcdecd,#faeae1,#eaf1f5,#d5e7f1,#d2e6f0,#e6eff4,#f9eee7,#fddcc9,#fddbc7,#faeae1,#e9f0f4,#d2e6f0,#d1e5f0,#e6eff4,#f9ede5,#fdddcb,#fddcc9,#f9ebe3,#eaf1f5,#d5e7f1,#d5e7f1,#e9f0f4,#f9eee7,#fce2d2,#fce2d2,#f9efe9,#ecf2f5,#ddebf2,#deebf2,#edf2f5,#f9f0eb,#fae7dc,#fae8de,#f8f1ed,#eff3f5,#e6eff4,#e7f0f4,#f2f5f6,#f8f2ef,#f9eee7,#f9efe9,#f8f4f2,#f2f5f6,#edf2f5,#eff3f5,#f5f6f7,#f8f4f2,#f8f2ef,#f8f3f0,#f7f5f4,#f5f6f7,#f2f5f6,#f3f5f6,#f7f7f7,#f7f5f4,#f8f4f2,#f7f5f4,#f7f7f7,#f7f7f7,#f5f6f7,#f5f6f7,#f7f7f7 688px)"></i>
<i style="left:785px;background:linear-gradient(#f7f7f7 280px,#f7f5f4,#f7f5f4,#f7f7f7,#f5f6f7,#f5f6f7,#f5f6f7,#f7f7f7,#f7f5f4,#f8f4f2,#f8f4f2,#f7f7f7,#f3f5f6,#f0f4f6,#f2f5f6,#f7f7f7,#f8f3f0,#f9f0eb,#f8f2ef,#f7f7f7,#eff3f5,#eaf1f5,#edf2f5,#f7f7f7,#f9efe9,#faeae1,#f9eee7,#f7f7f7,#e9f0f4,#e1edf3,#e7f0f4,#f7f7f7,#faeae1,#fbe4d6,#fae9df,#f7f7f7,#e1edf3,#d8e9f1,#e1edf3,#f7f7f7,#fbe5d8,#fcdecd,#fbe6da,#f7f7f7,#ddebf2,#d2e6f0,#deebf2,#f7f5f4,#fbe3d4,#fddbc7,#fbe4d6,#f5f6f7,#dae9f2,#d1e5f0,#deebf2,#f7f5f4,#fbe3d4,#fddcc9,#fbe6da,#f5f6f7,#ddebf2,#d5e7f1,#e1edf3,#f7f5f4,#fbe5d8,#fce0d0,#fae9df,#f5f6f7,#e3edf3,#ddebf2,#e7f0f4,#f7f5f4,#faeae1,#fae8de,#f9eee7,#f5f6f7,#e9f0f4,#e7f0f4,#edf2f5,#f7f5f4,#f9efe9,#f9eee7,#f8f2ef,#f7f7f7,#eff3f5,#edf2f5,#f2f5f6,#f7f7f7,#f8f3f0,#f8f2ef,#f8f4f2,#f7f7f7,#f3f5f6,#f3f5f6,#f5f6f7,#f7f7f7,#f7f5f4,#f7f5f4,#f7f7f7,#f7f7f7,#f5f6f7,#f5f6f7,#f7f7f7 688px)"></i>
<i style="left:790px;background:linear-gradient(#f7f7f7 280px,#f7f5f4,#f7f5f4,#f7f7f7,#f7f7f7,#f5f6f7,#f5f6f7,#f7f7f7,#f7f5f4,#f8f4f2,#f8f4f2,#f7f5f4,#f5f6f7,#f2f5f6,#f2f5f6,#f5f6f7,#f8f4f2,#f8f1ed,#f8f1ed,#f8f4f2,#f2f5f6,#ecf2f5,#ecf2f5,#f3f5f6,#f8f2ef,#f9ede5,#f9ede5,#f8f3f0,#eff3f5,#e4eef4,#e4eef4,#f0f4f6,#f9efe9,#fbe6da,#fae7dc,#f8f2ef,#e9f0f4,#dbeaf2,#deebf2,#eff3f5,#f9ebe3,#fce0d0,#fbe3d4,#f8f1ed,#e6eff4,#d5e7f1,#d8e9f1,#eff3f5,#fae9df,#fdddcb,#fce0d0,#f8f1ed,#e3edf3,#d4e6f1,#d8e9f1,#eff3f5,#fae9df,#fdddcb,#fce2d2,#f8f2ef,#e4eef4,#d7e8f1,#ddebf2,#f0f4f6,#faeae1,#fce2d2,#fbe6da,#f8f3f0,#e9f0f4,#deebf2,#e3edf3,#f3f5f6,#f9eee7,#fae8de,#f9ebe3,#f8f4f2,#edf2f5,#e7f0f4,#eaf1f5,#f5f6f7,#f8f1ed,#f9eee7,#f9f0eb,#f7f5f4,#f2f5f6,#eff3f5,#f0f4f6,#f7f7f7,#f8f4f2,#f8f2ef,#f8f3f0,#f7f7f7,#f5f6f7,#f3f5f6,#f3f5f6,#f7f7f7,#f7f5f4,#f7f5f4,#f7f5f4,#f7f7f7,#f7f7f7,#f5f6f7,#f7f7f7 688px)"></i>
<i style="left:795px;background:linear-gradient(#f7f7f7 284px,#f7f5f4,#f7f7f7,#f7f7f7,#f5f6f7,#f5f6f7,#f5f6f7,#f7f7f7,#f8f4f2,#f8f4f2,#f7f5f4,#f7f7f7,#f2f5f6,#f2f5f6,#f3f5f6,#f7f7f7,#f8f2ef,#f8f1ed,#f8f3f0,#f5f6f7,#eff3f5,#ecf2f5,#f0f4f6,#f7f5f4,#f9eee7,#f9ebe3,#f8f1ed,#f3f5f6,#e7f0f4,#e4eef4,#ecf2f5,#f8f3f0,#fae9df,#fbe6da,#f9eee7,#f2f5f6,#e0ecf3,#dbeaf2,#e9f0f4,#f8f2ef,#fbe4d6,#fce0d0,#f9ebe3,#eff3f5,#dae9f2,#d7e8f1,#e6eff4,#f8f1ed,#fce0d0,#fcdecd,#faeae1,#edf2f5,#d8e9f1,#d5e7f1,#e6eff4,#f9f0eb,#fce2d2,#fcdfcf,#f9ebe3,#edf2f5,#dbeaf2,#dae9f2,#e9f0f4,#f8f1ed,#fbe5d8,#fbe4d6,#f9eee7,#eff3f5,#e1edf3,#e1edf3,#edf2f5,#f8f2ef,#faeae1,#faeae1,#f8f1ed,#f2f5f6,#e9f0f4,#e9f0f4,#f2f5f6,#f8f4f2,#f9efe9,#f9efe9,#f8f4f2,#f3f5f6,#eff3f5,#eff3f5,#f3f5f6,#f7f5f4,#f8f3f0,#f8f3f0,#f7f5f4,#f5f6f7,#f3f5f6,#f3f5f6,#f7f7f7,#f7f7f7,#f7f5f4,#f7f5f4,#f7f7f7,#f7f7f7,#f5f6f7,#f5f6f7,#f7f7f7 692px)"></i>
<i style="left:800px;background:linear-gradient(#f7f7f7 284px,#f7f5f4,#f7f7f7,#f7f7f7,#f7f7f7,#f5f6f7,#f5f6f7,#f7f7f7,#f7f5f4,#f8f4f2,#f8f4f2,#f7f7f7,#f3f5f6,#f2f5f6,#f2f5f6,#f7f7f7,#f8f3f0,#f8f1ed,#f8f2ef,#f7f7f7,#f0f4f6,#ecf2f5,#eff3f5,#f7f7f7,#f8f1ed,#f9ede5,#f9efe9,#f7f7f7,#ecf2f5,#e4eef4,#e9f0f4,#f7f7f7,#f9ede5,#fae7dc,#faeae1,#f7f7f7,#e6eff4,#ddebf2,#e3edf3,#f7f7f7,#fae8de,#fce2d2,#fae7dc,#f7f7f7,#e1edf3,#d7e8f1,#e0ecf3,#f7f7f7,#fbe6da,#fcdecd,#fbe5d8,#f7f7f7,#e0ecf3,#d5e7f1,#e0ecf3,#f7f7f7,#fbe6da,#fcdfcf,#fae7dc,#f7f7f7,#e1edf3,#dae9f2,#e3edf3,#f7f7f7,#fae8de,#fbe4d6,#faeae1,#f7f7f7,#e6eff4,#e0ecf3,#e9f0f4,#f7f7f7,#f9ede5,#fae9df,#f9efe9,#f7f7f7,#ecf2f5,#e9f0f4,#edf2f5,#f7f7f7,#f8f1ed,#f9efe9,#f8f2ef,#f7f7f7,#f0f4f6,#eff3f5,#f2f5f6,#f7f7f7,#f8f3f0,#f8f3f0,#f8f4f2,#f7f7f7,#f3f5f6,#f3f5f6,#f5f6f7,#f7f7f7,#f7f5f4,#f7f5f4,#f7f7f7,#f7f7f7,#f7f7f7,#f5f6f7,#f7f7f7 692px)"></i>
<i style="left:805px;background:linear-gradient(#f7f7f7 288px,#f7f5f4,#f7f7f7,#f7f7f7,#f5f6f7,#f5f6f7,#f7f7f7,#f7f7f7,#f8f4f2,#f8f4f2,#f7f5f4,#f5f6f7,#f2f5f6,#f2f5f6,#f5f6f7,#f7f5f4,#f8f2ef,#f8f2ef,#f8f4f2,#f3f5f6,#edf2f5,#edf2f5,#f3f5f6,#f8f3f0,#f9eee7,#f9eee7,#f8f3f0,#f0f4f6,#e7f0f4,#e6eff4,#f0f4f6,#f8f1ed,#fae8de,#fae8de,#f8f1ed,#edf2f5,#e0ecf3,#e0ecf3,#eff3f5,#f9efe9,#fbe4d6,#fbe4d6,#f9f0eb,#eaf1f5,#dae9f2,#dbeaf2,#edf2f5,#f9ede5,#fce0d0,#fce2d2,#f9f0eb,#e7f0f4,#d8e9f1,#dbeaf2,#edf2f5,#f9ede5,#fce2d2,#fbe4d6,#f8f1ed,#e9f0f4,#dbeaf2,#deebf2,#f0f4f6,#f9eee7,#fbe5d8,#fae7dc,#f8f2ef,#ecf2f5,#e1edf3,#e4eef4,#f2f5f6,#f9f0eb,#faeae1,#f9ede5,#f8f4f2,#eff3f5,#e9f0f4,#ecf2f5,#f5f6f7,#f8f2ef,#f9efe9,#f8f1ed,#f7f5f4,#f2f5f6,#eff3f5,#f0f4f6,#f7f7f7,#f8f4f2,#f8f3f0,#f8f4f2,#f7f7f7,#f5f6f7,#f3f5f6,#f5f6f7,#f7f7f7,#f7f5f4,#f7f5f4,#f7f5f4,#f7f7f7,#f7f7f7,#f5f6f7,#f7f7f7 692px)"></i>
<i style="left:810px;background:linear-gradient(#f7f7f7 288px,#f7f5f4,#f7f7f7,#f7f7f7,#f5f6f7,#f5f6f7,#f5f6f7,#f7f7f7,#f7f5f4,#f8f4f2,#f7f5f4,#f7f7f7,#f3f5f6,#f2f5f6,#f3f5f6,#f7f7f7,#f8f3f0,#f8f2ef,#f8f3f0,#f7f7f7,#f0f4f6,#edf2f5,#f0f4f6,#f7f7f7,#f9f0eb,#f9eee7,#f8f1ed,#f5f6f7,#eaf1f5,#e6eff4,#ecf2f5,#f7f5f4,#f9ebe3,#fae8de,#f9eee7,#f3f5f6,#e4eef4,#deebf2,#e9f0f4,#f8f4f2,#fae7dc,#fbe3d4,#f9ebe3,#f2f5f6,#deebf2,#dae9f2,#e6eff4,#f8f3f0,#fbe5d8,#fce0d0,#faeae1,#f2f5f6,#ddebf2,#d8e9f1,#e6eff4,#f8f2ef,#fbe5d8,#fce2d2,#f9ebe3,#f0f4f6,#e0ecf3,#ddebf2,#e9f0f4,#f8f3f0,#fae7dc,#fbe6da,#f9eee7,#f2f5f6,#e4eef4,#e3edf3,#edf2f5,#f8f4f2,#f9ebe3,#f9ebe3,#f8f1ed,#f3f5f6,#eaf1f5,#eaf1f5,#f0f4f6,#f8f4f2,#f9f0eb,#f9f0eb,#f8f3f0,#f5f6f7,#f0f4f6,#f0f4f6,#f3f5f6,#f7f5f4,#f8f3f0,#f8f3f0,#f7f5f4,#f7f7f7,#f3f5f6,#f3f5f6,#f7f7f7,#f7f7f7,#f7f5f4,#f7f5f4,#f7f7f7 680px)"></i>
<i style="left:815px;background:linear-gradient(#f7f7f7 304px,#f5f6f7,#f5f6f7,#f7f7f7,#f7f5f4,#f8f4f2,#f8f4f2,#f7f7f7,#f5f6f7,#f2f5f6,#f3f5f6,#f7f7f7,#f8f4f2,#f8f2ef,#f8f2ef,#f7f7f7,#f2f5f6,#edf2f5,#eff3f5,#f5f6f7,#f8f2ef,#f9eee7,#f9efe9,#f7f5f4,#eff3f5,#e7f0f4,#e9f0f4,#f5f6f7,#f9efe9,#fae8de,#faeae1,#f8f4f2,#e9f0f4,#e0ecf3,#e4eef4,#f3f5f6,#f9ebe3,#fbe4d6,#fae7dc,#f8f4f2,#e6eff4,#dbeaf2,#e0ecf3,#f3f5f6,#fae9df,#fce2d2,#fbe6da,#f7f5f4,#e4eef4,#dae9f2,#e0ecf3,#f5f6f7,#fae9df,#fce2d2,#fae7dc,#f7f5f4,#e6eff4,#ddebf2,#e3edf3,#f5f6f7,#f9ebe3,#fbe6da,#faeae1,#f7f7f7,#e9f0f4,#e3edf3,#e9f0f4,#f7f7f7,#f9efe9,#faeae1,#f9efe9,#f7f7f7,#edf2f5,#eaf1f5,#eff3f5,#f7f7f7,#f8f2ef,#f9f0eb,#f8f2ef,#f7f7f7,#f2f5f6,#f0f4f6,#f2f5f6,#f7f7f7,#f8f4f2,#f8f3f0,#f8f4f2,#f7f7f7,#f5f6f7,#f3f5f6,#f5f6f7,#f7f7f7,#f7f5f4,#f7f5f4,#f7f7f7 680px)"></i>
</div></div>
<svg width="2550" height="1050" viewBox="0 0 612 252" style="position:absolute;left:0;top:0;will-change:transform">
<defs><linearGradient id="rb" x1="0" y1="0" x2="0" y2="1"><stop offset="0" stop-color="#053061"/><stop offset="0.1" stop-color="#2166ac"/><stop offset="0.2" stop-color="#4393c3"/><stop offset="0.3" stop-color="#92c5de"/><stop offset="0.4" stop-color="#d1e5f0"/><stop offset="0.5" stop-color="#f7f7f7"/><stop offset="0.6" stop-color="#fddbc7"/><stop offset="0.7" stop-color="#f4a582"/><stop offset="0.8" stop-color="#d6604d"/><stop offset="0.9" stop-color="#b2182b"/><stop offset="1" stop-color="#67001f"/></linearGradient><filter id="hb" x="0" y="0" width="1" height="1" color-interpolation-filters="sRGB"><feGaussianBlur stdDeviation="2.2 0"/></filter></defs>
<path d="M47.664 209.376V37.272M57.226 209.376V37.272M66.787 209.376V37.272M76.349 209.376V37.272M85.91 209.376V37.272M95.472 209.376V37.272M105.034 209.376V37.272M114.595 209.376V37.272M124.157 209.376V37.272M133.718 209.376V37.272M143.28 209.376V37.272M152.842 209.376V37.272M162.403 209.376V37.272M171.965 209.376V37.272M181.526 209.376V37.272M191.088 209.376V37.272M200.65 209.376V37.272M210.211 209.376V37.272M219.773 209.376V37.272M229.334 209.376V37.272M238.896 209.376V37.272M47.664 205.438H238.896M47.664 195.869H238.896M47.664 186.3H238.896M47.664 176.731H238.896M47.664 167.162H238.896M47.664 157.594H238.896M47.664 148.025H238.896M47.664 138.456H238.896M47.664 128.887H238.896M47.664 119.318H238.896M47.664 109.75H238.896M47.664 100.181H238.896M47.664 90.612H238.896M47.664 81.043H238.896M47.664 71.474H238.896M47.664 61.906H238.896M47.664 52.337H238.896M47.664 42.768H238.896" fill="none" stroke="#b0b0b0" stroke-width="0.8" stroke-linecap="square"/>
<path d="M47.664 209.376v3.5M95.472 209.376v3.5M143.28 209.376v3.5M191.088 209.376v3.5M238.896 209.376v3.5M47.664 176.731h-3.5M47.664 128.887h-3.5M47.664 81.043h-3.5" fill="none" stroke="#000" stroke-width="0.8"/>
<path d="M57.226 209.376v2M66.787 209.376v2M76.349 209.376v2M85.91 209.376v2M105.034 209.376v2M114.595 209.376v2M124.157 209.376v2M133.718 209.376v2M152.842 209.376v2M162.403 209.376v2M171.965 209.376v2M181.526 209.376v2M200.65 209.376v2M210.211 209.376v2M219.773 209.376v2M229.334 209.376v2M47.664 205.438h-2M47.664 195.869h-2M47.664 186.3h-2M47.664 167.162h-2M47.664 157.594h-2M47.664 148.025h-2M47.664 138.456h-2M47.664 119.318h-2M47.664 109.75h-2M47.664 100.181h-2M47.664 90.612h-2M47.664 71.474h-2M47.664 61.906h-2M47.664 52.337h-2M47.664 42.768h-2" fill="none" stroke="#000" stroke-width="0.6"/>
<rect x="47.664" y="37.272" width="191.232" height="172.104" fill="none" stroke="#000" stroke-width="0.8" stroke-linejoin="miter"/>
<text x="47.664" y="223.974" text-anchor="middle">−10</text>
<text x="95.472" y="223.974" text-anchor="middle">−5</text>
<text x="143.28" y="223.974" text-anchor="middle">0</text>
<text x="191.088" y="223.974" text-anchor="middle">5</text>
<text x="238.896" y="223.974" text-anchor="middle">10</text>
<text x="40.464" y="180.531" text-anchor="end">25</text>
<text x="40.464" y="132.687" text-anchor="end">30</text>
<text x="40.464" y="84.843" text-anchor="end">35</text>
<text x="143.28" y="238.103" text-anchor="middle">y [µm]</text>
<text transform="translate(20.909 123.074) rotate(-90)" text-anchor="middle">x [µm]</text>
<path d="M347.928 209.376V37.272M357.49 209.376V37.272M367.051 209.376V37.272M376.613 209.376V37.272M386.174 209.376V37.272M395.736 209.376V37.272M405.298 209.376V37.272M414.859 209.376V37.272M424.421 209.376V37.272M433.982 209.376V37.272M443.544 209.376V37.272M453.106 209.376V37.272M462.667 209.376V37.272M472.229 209.376V37.272M481.79 209.376V37.272M491.352 209.376V37.272M500.914 209.376V37.272M510.475 209.376V37.272M520.037 209.376V37.272M529.598 209.376V37.272M539.16 209.376V37.272M347.928 205.438H539.16M347.928 195.869H539.16M347.928 186.3H539.16M347.928 176.731H539.16M347.928 167.162H539.16M347.928 157.594H539.16M347.928 148.025H539.16M347.928 138.456H539.16M347.928 128.887H539.16M347.928 119.318H539.16M347.928 109.75H539.16M347.928 100.181H539.16M347.928 90.612H539.16M347.928 81.043H539.16M347.928 71.474H539.16M347.928 61.906H539.16M347.928 52.337H539.16M347.928 42.768H539.16" fill="none" stroke="#b0b0b0" stroke-width="0.8" stroke-linecap="square"/>
<path d="M347.928 209.376v3.5M395.736 209.376v3.5M443.544 209.376v3.5M491.352 209.376v3.5M539.16 209.376v3.5M347.928 176.731h-3.5M347.928 128.887h-3.5M347.928 81.043h-3.5" fill="none" stroke="#000" stroke-width="0.8"/>
<path d="M357.49 209.376v2M367.051 209.376v2M376.613 209.376v2M386.174 209.376v2M405.298 209.376v2M414.859 209.376v2M424.421 209.376v2M433.982 209.376v2M453.106 209.376v2M462.667 209.376v2M472.229 209.376v2M481.79 209.376v2M500.914 209.376v2M510.475 209.376v2M520.037 209.376v2M529.598 209.376v2M347.928 205.438h-2M347.928 195.869h-2M347.928 186.3h-2M347.928 167.162h-2M347.928 157.594h-2M347.928 148.025h-2M347.928 138.456h-2M347.928 119.318h-2M347.928 109.75h-2M347.928 100.181h-2M347.928 90.612h-2M347.928 71.474h-2M347.928 61.906h-2M347.928 52.337h-2M347.928 42.768h-2" fill="none" stroke="#000" stroke-width="0.6"/>
<rect x="347.928" y="37.272" width="191.232" height="172.104" fill="none" stroke="#000" stroke-width="0.8" stroke-linejoin="miter"/>
<text x="347.928" y="223.974" text-anchor="middle">−10</text>
<text x="395.736" y="223.974" text-anchor="middle">−5</text>
<text x="443.544" y="223.974" text-anchor="middle">0</text>
<text x="491.352" y="223.974" text-anchor="middle">5</text>
<text x="539.16" y="223.974" text-anchor="middle">10</text>
<text x="340.728" y="180.531" text-anchor="end">25</text>
<text x="340.728" y="132.687" text-anchor="end">30</text>
<text x="340.728" y="84.843" text-anchor="end">35</text>
<text x="443.544" y="238.103" text-anchor="middle">y [µm]</text>
<text transform="translate(321.173 123.074) rotate(-90)" text-anchor="middle">x [µm]</text>
<rect x="242.52" y="37.272" width="9.408" height="172.104" fill="url(#rb)" stroke="#000" stroke-width="0.8" stroke-linejoin="miter"/>
<text x="258.928" y="195.965">−0.2</text>
<text x="258.928" y="161.544">−0.1</text>
<text x="258.928" y="127.123">0.0</text>
<text x="258.928" y="92.703">0.1</text>
<text x="258.928" y="58.282">0.2</text>
<path d="M251.928 192.166h3.5M251.928 157.745h3.5M251.928 123.324h3.5M251.928 88.903h3.5M251.928 54.482h3.5" fill="none" stroke="#000" stroke-width="0.8"/>
<text transform="translate(295.151 196.174) rotate(-90)" y="-0.359" dx="0.4 -0.25 0 0 0 0 0 0 0 0 0.72">Electric Field Ex (|<tspan x="89.907">e</tspan><tspan x="96.06">|</tspan><tspan x="99.429" class="o">E</tspan><tspan x="105.747" y="1.281" class="o s">x</tspan><tspan x="110.163" y="-0.359">/</tspan><tspan x="113.532" class="o">m</tspan><tspan x="123.273" y="1.281" class="s">e</tspan><tspan x="127.854" y="-0.359" class="o">cω</tspan><tspan x="141.726">)</tspan></text>
<rect x="542.784" y="37.272" width="9.408" height="172.104" fill="url(#rb)" stroke="#000" stroke-width="0.8" stroke-linejoin="miter"/>
<text x="559.192" y="213.175">−2.0</text>
<text x="559.192" y="191.662">−1.5</text>
<text x="559.192" y="170.149">−1.0</text>
<text x="559.192" y="148.636">−0.5</text>
<text x="559.192" y="127.123">0.0</text>
<text x="559.192" y="105.61">0.5</text>
<text x="559.192" y="84.097">1.0</text>
<text x="559.192" y="62.584">1.5</text>
<text x="559.192" y="41.071">2.0</text>
<path d="M552.192 209.376h3.5M552.192 187.863h3.5M552.192 166.35h3.5M552.192 144.837h3.5M552.192 123.324h3.5M552.192 101.811h3.5M552.192 80.298h3.5M552.192 58.785h3.5M552.192 37.272h3.5" fill="none" stroke="#000" stroke-width="0.8"/>
<text transform="translate(595.125 196.174) rotate(-90)" y="-0.359" dx="0.4 -0.25 0 0 0 0 0 0 0 0 0.72">Electric Field Ey (|<tspan x="89.907">e</tspan><tspan x="96.06">|</tspan><tspan x="99.429" class="o">E</tspan><tspan x="105.747" y="1.281" class="o s">y</tspan><tspan x="110.163" y="-0.359">/</tspan><tspan x="113.532" class="o">m</tspan><tspan x="123.273" y="1.281" class="s">e</tspan><tspan x="127.854" y="-0.359" class="o">cω</tspan><tspan x="141.726">)</tspan></text>
<text transform="translate(231.1 15.33)" y="-0.875" style="font-size:12px">Electric field at <tspan x="93.861" class="o">t</tspan><tspan x="100.904">=</tspan><tspan x="113.297">132 fs</tspan></text>
</svg>
</div></body></html>
